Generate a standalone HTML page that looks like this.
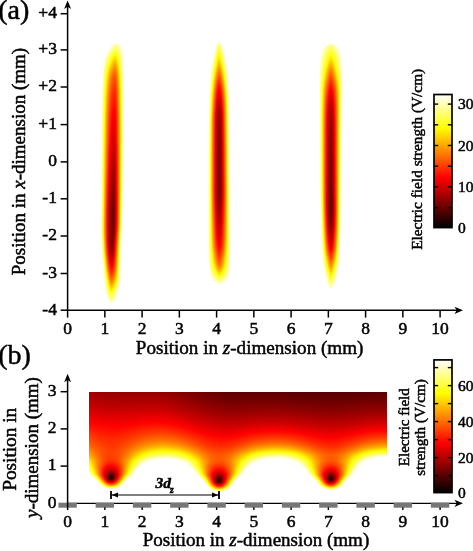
<!DOCTYPE html>
<html><head><meta charset="utf-8"><title>Electric field strength</title>
<style>
html,body{margin:0;padding:0;background:#fff;}
body{width:473px;height:551px;overflow:hidden;font-family:"Liberation Serif",serif;}
svg{display:block;}
svg text{font-family:"Liberation Serif",serif;fill:#000;stroke:#000;stroke-width:0.5px;}
</style></head><body>
<svg width="473" height="551" viewBox="0 0 473 551">
<defs>
<linearGradient id="g1" x1="0" y1="0" x2="0" y2="1"><stop offset="0" stop-color="#ffffff"/><stop offset="1" stop-color="#ffffff"/></linearGradient>
<linearGradient id="g2" x1="0" y1="0" x2="0" y2="1"><stop offset="0" stop-color="#ffffff"/><stop offset="1" stop-color="#ffffff"/></linearGradient>
<linearGradient id="g3" x1="0" y1="0" x2="0" y2="1"><stop offset="0" stop-color="#ffffff"/><stop offset="1" stop-color="#ffffff"/></linearGradient>
<linearGradient id="g4" x1="0" y1="0" x2="0" y2="1"><stop offset="0" stop-color="#ffffff"/><stop offset="1" stop-color="#ffffff"/></linearGradient>
<linearGradient id="g5" x1="0" y1="0" x2="0" y2="1"><stop offset="0" stop-color="#ffffff"/><stop offset="1" stop-color="#ffffff"/></linearGradient>
<linearGradient id="g6" x1="0" y1="0" x2="0" y2="1"><stop offset="0" stop-color="#ffffff"/><stop offset=".244" stop-color="#ffffff"/><stop offset=".371" stop-color="#ffffe7"/><stop offset=".562" stop-color="#ffffd3"/><stop offset=".688" stop-color="#ffffb9"/><stop offset=".707" stop-color="#ffffbc"/><stop offset=".726" stop-color="#ffffc7"/><stop offset=".756" stop-color="#ffffe2"/><stop offset=".782" stop-color="#ffffff"/><stop offset="1" stop-color="#ffffff"/></linearGradient>
<linearGradient id="g7" x1="0" y1="0" x2="0" y2="1"><stop offset="0" stop-color="#ffffff"/><stop offset=".118" stop-color="#ffffff"/><stop offset=".132" stop-color="#ffffef"/><stop offset=".155" stop-color="#ffffe2"/><stop offset=".293" stop-color="#ffffa6"/><stop offset=".55" stop-color="#ffff6b"/><stop offset=".692" stop-color="#ffff45"/><stop offset=".722" stop-color="#ffff4f"/><stop offset=".756" stop-color="#ffff70"/><stop offset=".782" stop-color="#ffff99"/><stop offset=".808" stop-color="#ffffcf"/><stop offset=".834" stop-color="#fffffd"/><stop offset="1" stop-color="#ffffff"/></linearGradient>
<linearGradient id="g8" x1="0" y1="0" x2="0" y2="1"><stop offset="0" stop-color="#ffffff"/><stop offset=".091" stop-color="#ffffff"/><stop offset=".11" stop-color="#ffffd7"/><stop offset=".132" stop-color="#ffffb6"/><stop offset=".2" stop-color="#ffff82"/><stop offset=".278" stop-color="#ffff57"/><stop offset=".573" stop-color="#ffff00"/><stop offset=".692" stop-color="#ffe500"/><stop offset=".726" stop-color="#ffec00"/><stop offset=".756" stop-color="#ffff00"/><stop offset=".774" stop-color="#ffff1a"/><stop offset=".789" stop-color="#ffff35"/><stop offset=".853" stop-color="#ffffcf"/><stop offset=".879" stop-color="#fffffc"/><stop offset="1" stop-color="#ffffff"/></linearGradient>
<linearGradient id="g9" x1="0" y1="0" x2="0" y2="1"><stop offset="0" stop-color="#ffffff"/><stop offset=".073" stop-color="#ffffff"/><stop offset=".088" stop-color="#ffffd6"/><stop offset=".114" stop-color="#ffff9c"/><stop offset=".129" stop-color="#ffff81"/><stop offset=".14" stop-color="#ffff72"/><stop offset=".177" stop-color="#ffff4e"/><stop offset=".215" stop-color="#ffff31"/><stop offset=".267" stop-color="#ffff0f"/><stop offset=".3" stop-color="#ffff00"/><stop offset=".692" stop-color="#ffa100"/><stop offset=".726" stop-color="#ffa700"/><stop offset=".759" stop-color="#ffbb00"/><stop offset=".785" stop-color="#ffd500"/><stop offset=".812" stop-color="#ffff00"/><stop offset=".849" stop-color="#ffff5c"/><stop offset=".89" stop-color="#ffffcd"/><stop offset=".92" stop-color="#ffffff"/><stop offset="1" stop-color="#ffffff"/></linearGradient>
<linearGradient id="g10" x1="0" y1="0" x2="0" y2="1"><stop offset="0" stop-color="#ffffff"/><stop offset=".062" stop-color="#ffffff"/><stop offset=".065" stop-color="#fffff2"/><stop offset=".073" stop-color="#ffffd0"/><stop offset=".125" stop-color="#ffff51"/><stop offset=".155" stop-color="#ffff27"/><stop offset=".185" stop-color="#ffff07"/><stop offset=".196" stop-color="#fffd00"/><stop offset=".282" stop-color="#ffd400"/><stop offset=".405" stop-color="#ffb400"/><stop offset=".655" stop-color="#ff6900"/><stop offset=".696" stop-color="#ff6200"/><stop offset=".737" stop-color="#ff6c00"/><stop offset=".778" stop-color="#ff8800"/><stop offset=".797" stop-color="#ffa100"/><stop offset=".849" stop-color="#fffa00"/><stop offset=".853" stop-color="#ffff04"/><stop offset=".905" stop-color="#ffffa4"/><stop offset=".946" stop-color="#ffffff"/><stop offset="1" stop-color="#ffffff"/></linearGradient>
<linearGradient id="g11" x1="0" y1="0" x2="0" y2="1"><stop offset="0" stop-color="#ffffff"/><stop offset=".054" stop-color="#ffffff"/><stop offset=".058" stop-color="#ffffec"/><stop offset=".062" stop-color="#ffffd3"/><stop offset=".073" stop-color="#ffffac"/><stop offset=".121" stop-color="#ffff28"/><stop offset=".132" stop-color="#ffff10"/><stop offset=".144" stop-color="#fffd00"/><stop offset=".2" stop-color="#ffd200"/><stop offset=".278" stop-color="#ffa900"/><stop offset=".405" stop-color="#ff8500"/><stop offset=".647" stop-color="#ff3200"/><stop offset=".696" stop-color="#ff2900"/><stop offset=".744" stop-color="#ff3300"/><stop offset=".767" stop-color="#ff4000"/><stop offset=".785" stop-color="#ff5100"/><stop offset=".849" stop-color="#ffbc00"/><stop offset=".879" stop-color="#fffe00"/><stop offset=".916" stop-color="#ffff7e"/><stop offset=".95" stop-color="#ffffd7"/><stop offset=".961" stop-color="#ffffff"/><stop offset="1" stop-color="#ffffff"/></linearGradient>
<linearGradient id="g12" x1="0" y1="0" x2="0" y2="1"><stop offset="0" stop-color="#ffffff"/><stop offset=".047" stop-color="#ffffff"/><stop offset=".05" stop-color="#ffffee"/><stop offset=".054" stop-color="#ffffd2"/><stop offset=".073" stop-color="#ffff89"/><stop offset=".118" stop-color="#ffff04"/><stop offset=".121" stop-color="#fffb00"/><stop offset=".144" stop-color="#ffdc00"/><stop offset=".181" stop-color="#ffbb00"/><stop offset=".226" stop-color="#ff9d00"/><stop offset=".278" stop-color="#ff8200"/><stop offset=".405" stop-color="#ff5a00"/><stop offset=".644" stop-color="#ff0000"/><stop offset=".7" stop-color="#f50000"/><stop offset=".748" stop-color="#fe0000"/><stop offset=".778" stop-color="#ff1000"/><stop offset=".797" stop-color="#ff2600"/><stop offset=".849" stop-color="#ff8200"/><stop offset=".901" stop-color="#ffff02"/><stop offset=".916" stop-color="#ffff3d"/><stop offset=".961" stop-color="#ffffce"/><stop offset=".968" stop-color="#fffff6"/><stop offset=".972" stop-color="#ffffff"/><stop offset="1" stop-color="#ffffff"/></linearGradient>
<linearGradient id="g13" x1="0" y1="0" x2="0" y2="1"><stop offset="0" stop-color="#ffffff"/><stop offset=".039" stop-color="#ffffff"/><stop offset=".043" stop-color="#fffff4"/><stop offset=".047" stop-color="#ffffd6"/><stop offset=".069" stop-color="#ffff76"/><stop offset=".103" stop-color="#ffff08"/><stop offset=".106" stop-color="#fffc00"/><stop offset=".129" stop-color="#ffd100"/><stop offset=".147" stop-color="#ffb900"/><stop offset=".185" stop-color="#ff9700"/><stop offset=".233" stop-color="#ff7700"/><stop offset=".282" stop-color="#ff5d00"/><stop offset=".401" stop-color="#ff3500"/><stop offset=".528" stop-color="#ff0000"/><stop offset=".647" stop-color="#d10000"/><stop offset=".703" stop-color="#c70000"/><stop offset=".741" stop-color="#cc0000"/><stop offset=".771" stop-color="#d80000"/><stop offset=".785" stop-color="#e20000"/><stop offset=".804" stop-color="#fe0000"/><stop offset=".856" stop-color="#ff5f00"/><stop offset=".886" stop-color="#ffa700"/><stop offset=".916" stop-color="#fffd00"/><stop offset=".968" stop-color="#ffffc6"/><stop offset=".972" stop-color="#ffffdb"/><stop offset=".976" stop-color="#ffffff"/><stop offset="1" stop-color="#ffffff"/></linearGradient>
<linearGradient id="g14" x1="0" y1="0" x2="0" y2="1"><stop offset="0" stop-color="#ffffff"/><stop offset=".032" stop-color="#ffffff"/><stop offset=".035" stop-color="#fffff9"/><stop offset=".039" stop-color="#ffffdc"/><stop offset=".043" stop-color="#ffffc9"/><stop offset=".069" stop-color="#ffff57"/><stop offset=".084" stop-color="#ffff21"/><stop offset=".095" stop-color="#fffd00"/><stop offset=".118" stop-color="#ffcb00"/><stop offset=".136" stop-color="#ffab00"/><stop offset=".162" stop-color="#ff8e00"/><stop offset=".196" stop-color="#ff7200"/><stop offset=".278" stop-color="#ff4000"/><stop offset=".442" stop-color="#ff0100"/><stop offset=".636" stop-color="#ae0000"/><stop offset=".67" stop-color="#a50000"/><stop offset=".703" stop-color="#a20000"/><stop offset=".744" stop-color="#a50000"/><stop offset=".782" stop-color="#b40000"/><stop offset=".797" stop-color="#c50000"/><stop offset=".826" stop-color="#fb0000"/><stop offset=".83" stop-color="#ff0200"/><stop offset=".849" stop-color="#ff2300"/><stop offset=".875" stop-color="#ff5e00"/><stop offset=".894" stop-color="#ff8f00"/><stop offset=".931" stop-color="#ffff01"/><stop offset=".953" stop-color="#ffff67"/><stop offset=".972" stop-color="#ffffb3"/><stop offset=".976" stop-color="#ffffce"/><stop offset=".979" stop-color="#ffffff"/><stop offset="1" stop-color="#ffffff"/></linearGradient>
<linearGradient id="g15" x1="0" y1="0" x2="0" y2="1"><stop offset="0" stop-color="#ffffff"/><stop offset=".024" stop-color="#ffffff"/><stop offset=".028" stop-color="#fffffa"/><stop offset=".032" stop-color="#ffffdd"/><stop offset=".047" stop-color="#ffffa1"/><stop offset=".069" stop-color="#ffff39"/><stop offset=".084" stop-color="#ffff01"/><stop offset=".088" stop-color="#fff700"/><stop offset=".118" stop-color="#ffb400"/><stop offset=".132" stop-color="#ff9800"/><stop offset=".151" stop-color="#ff8000"/><stop offset=".177" stop-color="#ff6700"/><stop offset=".215" stop-color="#ff4c00"/><stop offset=".271" stop-color="#ff2b00"/><stop offset=".379" stop-color="#ff0000"/><stop offset=".625" stop-color="#930000"/><stop offset=".662" stop-color="#880000"/><stop offset=".703" stop-color="#840000"/><stop offset=".748" stop-color="#890000"/><stop offset=".785" stop-color="#980000"/><stop offset=".8" stop-color="#ab0000"/><stop offset=".845" stop-color="#fd0000"/><stop offset=".864" stop-color="#ff2400"/><stop offset=".89" stop-color="#ff6100"/><stop offset=".905" stop-color="#ff8d00"/><stop offset=".938" stop-color="#fffb00"/><stop offset=".942" stop-color="#ffff0d"/><stop offset=".957" stop-color="#ffff58"/><stop offset=".972" stop-color="#ffff92"/><stop offset=".976" stop-color="#ffffa6"/><stop offset=".979" stop-color="#ffffc8"/><stop offset=".983" stop-color="#ffffd3"/><stop offset=".987" stop-color="#ffffff"/><stop offset="1" stop-color="#ffffff"/></linearGradient>
<linearGradient id="g16" x1="0" y1="0" x2="0" y2="1"><stop offset="0" stop-color="#ffffff"/><stop offset=".021" stop-color="#ffffff"/><stop offset=".024" stop-color="#fffff0"/><stop offset=".028" stop-color="#ffffce"/><stop offset=".035" stop-color="#ffffb7"/><stop offset=".043" stop-color="#ffff9a"/><stop offset=".065" stop-color="#ffff2f"/><stop offset=".076" stop-color="#ffff00"/><stop offset=".121" stop-color="#ff9800"/><stop offset=".136" stop-color="#ff7e00"/><stop offset=".155" stop-color="#ff6700"/><stop offset=".185" stop-color="#ff4c00"/><stop offset=".226" stop-color="#ff3000"/><stop offset=".278" stop-color="#ff1300"/><stop offset=".323" stop-color="#ff0100"/><stop offset=".401" stop-color="#e00000"/><stop offset=".528" stop-color="#a40000"/><stop offset=".614" stop-color="#810000"/><stop offset=".655" stop-color="#740000"/><stop offset=".688" stop-color="#710000"/><stop offset=".741" stop-color="#780000"/><stop offset=".785" stop-color="#8d0000"/><stop offset=".804" stop-color="#a70000"/><stop offset=".849" stop-color="#fc0000"/><stop offset=".853" stop-color="#ff0400"/><stop offset=".868" stop-color="#ff2300"/><stop offset=".894" stop-color="#ff6100"/><stop offset=".912" stop-color="#ff9900"/><stop offset=".942" stop-color="#ffff02"/><stop offset=".957" stop-color="#ffff4f"/><stop offset=".976" stop-color="#ffff9a"/><stop offset=".983" stop-color="#ffffcb"/><stop offset=".987" stop-color="#ffffff"/><stop offset="1" stop-color="#ffffff"/></linearGradient>
<linearGradient id="g17" x1="0" y1="0" x2="0" y2="1"><stop offset="0" stop-color="#ffffff"/><stop offset=".021" stop-color="#ffffff"/><stop offset=".024" stop-color="#ffffcb"/><stop offset=".039" stop-color="#ffff94"/><stop offset=".069" stop-color="#ffff05"/><stop offset=".073" stop-color="#fff800"/><stop offset=".088" stop-color="#ffd100"/><stop offset=".118" stop-color="#ff8e00"/><stop offset=".132" stop-color="#ff7300"/><stop offset=".147" stop-color="#ff5f00"/><stop offset=".174" stop-color="#ff4600"/><stop offset=".203" stop-color="#ff2f00"/><stop offset=".289" stop-color="#ff0100"/><stop offset=".405" stop-color="#d10000"/><stop offset=".547" stop-color="#900000"/><stop offset=".632" stop-color="#710000"/><stop offset=".677" stop-color="#690000"/><stop offset=".729" stop-color="#720000"/><stop offset=".782" stop-color="#920000"/><stop offset=".8" stop-color="#ab0000"/><stop offset=".845" stop-color="#fd0000"/><stop offset=".868" stop-color="#ff2c00"/><stop offset=".894" stop-color="#ff6a00"/><stop offset=".909" stop-color="#ff9700"/><stop offset=".938" stop-color="#ffff00"/><stop offset=".957" stop-color="#ffff5e"/><stop offset=".972" stop-color="#ffff94"/><stop offset=".976" stop-color="#ffffa9"/><stop offset=".979" stop-color="#ffffd7"/><stop offset=".983" stop-color="#fffff3"/><stop offset=".987" stop-color="#ffffff"/><stop offset="1" stop-color="#ffffff"/></linearGradient>
<linearGradient id="g18" x1="0" y1="0" x2="0" y2="1"><stop offset="0" stop-color="#ffffff"/><stop offset=".017" stop-color="#ffffff"/><stop offset=".024" stop-color="#ffffbb"/><stop offset=".039" stop-color="#ffff7f"/><stop offset=".065" stop-color="#ffff00"/><stop offset=".069" stop-color="#fff400"/><stop offset=".084" stop-color="#ffcc00"/><stop offset=".11" stop-color="#ff9000"/><stop offset=".129" stop-color="#ff6d00"/><stop offset=".144" stop-color="#ff5800"/><stop offset=".192" stop-color="#ff2e00"/><stop offset=".274" stop-color="#ff0000"/><stop offset=".539" stop-color="#910000"/><stop offset=".625" stop-color="#740000"/><stop offset=".666" stop-color="#6d0000"/><stop offset=".703" stop-color="#740000"/><stop offset=".741" stop-color="#8e0000"/><stop offset=".789" stop-color="#bb0000"/><stop offset=".826" stop-color="#fa0000"/><stop offset=".83" stop-color="#ff0100"/><stop offset=".849" stop-color="#ff1f00"/><stop offset=".886" stop-color="#ff6d00"/><stop offset=".901" stop-color="#ff9500"/><stop offset=".931" stop-color="#fffb00"/><stop offset=".935" stop-color="#ffff0d"/><stop offset=".953" stop-color="#ffff69"/><stop offset=".972" stop-color="#ffffac"/><stop offset=".976" stop-color="#ffffc7"/><stop offset=".979" stop-color="#ffffff"/><stop offset="1" stop-color="#ffffff"/></linearGradient>
<linearGradient id="g19" x1="0" y1="0" x2="0" y2="1"><stop offset="0" stop-color="#ffffff"/><stop offset=".017" stop-color="#ffffff"/><stop offset=".021" stop-color="#ffffc5"/><stop offset=".024" stop-color="#ffffab"/><stop offset=".039" stop-color="#ffff6d"/><stop offset=".062" stop-color="#ffff01"/><stop offset=".065" stop-color="#fff400"/><stop offset=".084" stop-color="#ffc200"/><stop offset=".103" stop-color="#ff9800"/><stop offset=".121" stop-color="#ff7400"/><stop offset=".14" stop-color="#ff5700"/><stop offset=".188" stop-color="#ff2d00"/><stop offset=".271" stop-color="#ff0100"/><stop offset=".517" stop-color="#a80000"/><stop offset=".618" stop-color="#8d0000"/><stop offset=".655" stop-color="#880000"/><stop offset=".685" stop-color="#8c0000"/><stop offset=".711" stop-color="#9b0000"/><stop offset=".785" stop-color="#e60000"/><stop offset=".8" stop-color="#fa0000"/><stop offset=".804" stop-color="#ff0100"/><stop offset=".849" stop-color="#ff4300"/><stop offset=".875" stop-color="#ff7400"/><stop offset=".897" stop-color="#ffa700"/><stop offset=".924" stop-color="#fffd00"/><stop offset=".95" stop-color="#ffff7c"/><stop offset=".968" stop-color="#ffffba"/><stop offset=".972" stop-color="#ffffcb"/><stop offset=".976" stop-color="#fffff8"/><stop offset=".979" stop-color="#ffffff"/><stop offset="1" stop-color="#ffffff"/></linearGradient>
<linearGradient id="g20" x1="0" y1="0" x2="0" y2="1"><stop offset="0" stop-color="#ffffff"/><stop offset=".013" stop-color="#ffffff"/><stop offset=".017" stop-color="#ffffd3"/><stop offset=".021" stop-color="#ffffb5"/><stop offset=".024" stop-color="#ffff9e"/><stop offset=".058" stop-color="#ffff0a"/><stop offset=".062" stop-color="#fffb00"/><stop offset=".076" stop-color="#ffd200"/><stop offset=".091" stop-color="#ffb000"/><stop offset=".118" stop-color="#ff7c00"/><stop offset=".14" stop-color="#ff5b00"/><stop offset=".162" stop-color="#ff4500"/><stop offset=".192" stop-color="#ff3000"/><stop offset=".278" stop-color="#ff0800"/><stop offset=".304" stop-color="#ff0000"/><stop offset=".524" stop-color="#c90000"/><stop offset=".647" stop-color="#b40000"/><stop offset=".677" stop-color="#b80000"/><stop offset=".696" stop-color="#c10000"/><stop offset=".718" stop-color="#d50000"/><stop offset=".756" stop-color="#ff0000"/><stop offset=".789" stop-color="#ff2200"/><stop offset=".812" stop-color="#ff4200"/><stop offset=".849" stop-color="#ff6f00"/><stop offset=".89" stop-color="#ffb900"/><stop offset=".901" stop-color="#ffd400"/><stop offset=".912" stop-color="#fff800"/><stop offset=".916" stop-color="#ffff09"/><stop offset=".946" stop-color="#ffff93"/><stop offset=".953" stop-color="#ffffae"/><stop offset=".965" stop-color="#ffffce"/><stop offset=".968" stop-color="#ffffe0"/><stop offset=".972" stop-color="#fffffc"/><stop offset="1" stop-color="#ffffff"/></linearGradient>
<linearGradient id="g21" x1="0" y1="0" x2="0" y2="1"><stop offset="0" stop-color="#ffffff"/><stop offset=".013" stop-color="#ffffff"/><stop offset=".017" stop-color="#ffffce"/><stop offset=".021" stop-color="#ffffb2"/><stop offset=".024" stop-color="#ffff9d"/><stop offset=".058" stop-color="#ffff15"/><stop offset=".062" stop-color="#ffff07"/><stop offset=".065" stop-color="#fffb00"/><stop offset=".084" stop-color="#ffd100"/><stop offset=".11" stop-color="#ffa000"/><stop offset=".14" stop-color="#ff7300"/><stop offset=".185" stop-color="#ff4f00"/><stop offset=".248" stop-color="#ff3000"/><stop offset=".308" stop-color="#ff1f00"/><stop offset=".476" stop-color="#ff0000"/><stop offset=".636" stop-color="#ea0000"/><stop offset=".677" stop-color="#f00000"/><stop offset=".7" stop-color="#fe0000"/><stop offset=".718" stop-color="#ff1100"/><stop offset=".812" stop-color="#ff7d00"/><stop offset=".849" stop-color="#ffa200"/><stop offset=".882" stop-color="#ffd500"/><stop offset=".901" stop-color="#fffa00"/><stop offset=".905" stop-color="#ffff07"/><stop offset=".942" stop-color="#ffffb0"/><stop offset=".965" stop-color="#ffffff"/><stop offset="1" stop-color="#ffffff"/></linearGradient>
<linearGradient id="g22" x1="0" y1="0" x2="0" y2="1"><stop offset="0" stop-color="#ffffff"/><stop offset=".013" stop-color="#ffffff"/><stop offset=".017" stop-color="#fffff3"/><stop offset=".021" stop-color="#ffffc0"/><stop offset=".024" stop-color="#ffffa9"/><stop offset=".028" stop-color="#ffff99"/><stop offset=".062" stop-color="#ffff24"/><stop offset=".073" stop-color="#ffff02"/><stop offset=".076" stop-color="#fff900"/><stop offset=".121" stop-color="#ffae00"/><stop offset=".144" stop-color="#ff9200"/><stop offset=".185" stop-color="#ff7400"/><stop offset=".241" stop-color="#ff5b00"/><stop offset=".282" stop-color="#ff4d00"/><stop offset=".364" stop-color="#ff4000"/><stop offset=".513" stop-color="#ff2e00"/><stop offset=".618" stop-color="#ff2800"/><stop offset=".666" stop-color="#ff2e00"/><stop offset=".696" stop-color="#ff3d00"/><stop offset=".767" stop-color="#ff8f00"/><stop offset=".812" stop-color="#ffbc00"/><stop offset=".849" stop-color="#ffda00"/><stop offset=".879" stop-color="#ffff00"/><stop offset=".901" stop-color="#ffff36"/><stop offset=".95" stop-color="#fffffc"/><stop offset="1" stop-color="#ffffff"/></linearGradient>
<linearGradient id="g23" x1="0" y1="0" x2="0" y2="1"><stop offset="0" stop-color="#ffffff"/><stop offset=".017" stop-color="#ffffff"/><stop offset=".021" stop-color="#ffffd2"/><stop offset=".024" stop-color="#ffffb9"/><stop offset=".028" stop-color="#ffffaa"/><stop offset=".062" stop-color="#ffff45"/><stop offset=".08" stop-color="#ffff17"/><stop offset=".091" stop-color="#fffe00"/><stop offset=".125" stop-color="#ffcd00"/><stop offset=".147" stop-color="#ffb600"/><stop offset=".188" stop-color="#ff9d00"/><stop offset=".248" stop-color="#ff8600"/><stop offset=".282" stop-color="#ff7c00"/><stop offset=".368" stop-color="#ff7100"/><stop offset=".55" stop-color="#ff6700"/><stop offset=".632" stop-color="#ff6b00"/><stop offset=".685" stop-color="#ff7b00"/><stop offset=".711" stop-color="#ff9200"/><stop offset=".767" stop-color="#ffd700"/><stop offset=".812" stop-color="#ffff00"/><stop offset=".849" stop-color="#ffff23"/><stop offset=".875" stop-color="#ffff49"/><stop offset=".897" stop-color="#ffff6f"/><stop offset=".909" stop-color="#ffff91"/><stop offset=".935" stop-color="#fffff6"/><stop offset=".938" stop-color="#ffffff"/><stop offset="1" stop-color="#ffffff"/></linearGradient>
<linearGradient id="g24" x1="0" y1="0" x2="0" y2="1"><stop offset="0" stop-color="#ffffff"/><stop offset=".021" stop-color="#ffffff"/><stop offset=".024" stop-color="#ffffca"/><stop offset=".032" stop-color="#ffffb1"/><stop offset=".054" stop-color="#ffff78"/><stop offset=".069" stop-color="#ffff57"/><stop offset=".118" stop-color="#fffd00"/><stop offset=".14" stop-color="#ffe700"/><stop offset=".166" stop-color="#ffd600"/><stop offset=".248" stop-color="#ffb900"/><stop offset=".341" stop-color="#ffa900"/><stop offset=".438" stop-color="#ffa500"/><stop offset=".576" stop-color="#ffaa00"/><stop offset=".647" stop-color="#ffb700"/><stop offset=".677" stop-color="#ffc100"/><stop offset=".692" stop-color="#ffcb00"/><stop offset=".737" stop-color="#ffff00"/><stop offset=".763" stop-color="#ffff31"/><stop offset=".782" stop-color="#ffff4b"/><stop offset=".812" stop-color="#ffff69"/><stop offset=".86" stop-color="#ffff8f"/><stop offset=".897" stop-color="#ffffb7"/><stop offset=".912" stop-color="#ffffdc"/><stop offset=".924" stop-color="#ffffff"/><stop offset="1" stop-color="#ffffff"/></linearGradient>
<linearGradient id="g25" x1="0" y1="0" x2="0" y2="1"><stop offset="0" stop-color="#ffffff"/><stop offset=".021" stop-color="#ffffff"/><stop offset=".024" stop-color="#ffffeb"/><stop offset=".028" stop-color="#ffffcf"/><stop offset=".05" stop-color="#ffff9e"/><stop offset=".073" stop-color="#ffff78"/><stop offset=".121" stop-color="#ffff33"/><stop offset=".147" stop-color="#ffff17"/><stop offset=".188" stop-color="#fffe00"/><stop offset=".278" stop-color="#ffea00"/><stop offset=".394" stop-color="#ffe000"/><stop offset=".562" stop-color="#ffee00"/><stop offset=".636" stop-color="#ffff01"/><stop offset=".677" stop-color="#ffff19"/><stop offset=".692" stop-color="#ffff29"/><stop offset=".711" stop-color="#ffff46"/><stop offset=".767" stop-color="#ffffae"/><stop offset=".782" stop-color="#ffffc2"/><stop offset=".8" stop-color="#ffffd1"/><stop offset=".897" stop-color="#fffff5"/><stop offset=".905" stop-color="#ffffff"/><stop offset="1" stop-color="#ffffff"/></linearGradient>
<linearGradient id="g26" x1="0" y1="0" x2="0" y2="1"><stop offset="0" stop-color="#ffffff"/><stop offset=".028" stop-color="#fffffc"/><stop offset=".032" stop-color="#ffffe4"/><stop offset=".035" stop-color="#ffffd3"/><stop offset=".058" stop-color="#ffffb1"/><stop offset=".118" stop-color="#ffff73"/><stop offset=".144" stop-color="#ffff5f"/><stop offset=".185" stop-color="#ffff4e"/><stop offset=".241" stop-color="#ffff41"/><stop offset=".379" stop-color="#ffff2f"/><stop offset=".416" stop-color="#ffff32"/><stop offset=".509" stop-color="#ffff47"/><stop offset=".573" stop-color="#ffff58"/><stop offset=".614" stop-color="#ffff6a"/><stop offset=".685" stop-color="#ffff9c"/><stop offset=".7" stop-color="#ffffb0"/><stop offset=".722" stop-color="#ffffd7"/><stop offset=".752" stop-color="#ffffff"/><stop offset="1" stop-color="#ffffff"/></linearGradient>
<linearGradient id="g27" x1="0" y1="0" x2="0" y2="1"><stop offset="0" stop-color="#ffffff"/><stop offset=".035" stop-color="#ffffff"/><stop offset=".039" stop-color="#fffffb"/><stop offset=".047" stop-color="#ffffe6"/><stop offset=".058" stop-color="#ffffd2"/><stop offset=".136" stop-color="#ffffa9"/><stop offset=".192" stop-color="#ffff9e"/><stop offset=".368" stop-color="#ffff90"/><stop offset=".424" stop-color="#ffff98"/><stop offset=".562" stop-color="#ffffc7"/><stop offset=".67" stop-color="#ffffff"/><stop offset="1" stop-color="#ffffff"/></linearGradient>
<linearGradient id="g28" x1="0" y1="0" x2="0" y2="1"><stop offset="0" stop-color="#ffffff"/><stop offset=".065" stop-color="#ffffff"/><stop offset=".103" stop-color="#ffffed"/><stop offset=".147" stop-color="#ffffe8"/><stop offset=".271" stop-color="#ffffef"/><stop offset=".382" stop-color="#ffffec"/><stop offset=".465" stop-color="#ffffff"/><stop offset="1" stop-color="#ffffff"/></linearGradient>
<linearGradient id="g29" x1="0" y1="0" x2="0" y2="1"><stop offset="0" stop-color="#ffffff"/><stop offset="1" stop-color="#ffffff"/></linearGradient>
<linearGradient id="g30" x1="0" y1="0" x2="0" y2="1"><stop offset="0" stop-color="#ffffff"/><stop offset="1" stop-color="#ffffff"/></linearGradient>
<linearGradient id="g31" x1="0" y1="0" x2="0" y2="1"><stop offset="0" stop-color="#ffffff"/><stop offset="1" stop-color="#ffffff"/></linearGradient>
<linearGradient id="g32" x1="0" y1="0" x2="0" y2="1"><stop offset="0" stop-color="#ffffff"/><stop offset="1" stop-color="#ffffff"/></linearGradient>
<linearGradient id="g33" x1="0" y1="0" x2="0" y2="1"><stop offset="0" stop-color="#ffffff"/><stop offset="1" stop-color="#ffffff"/></linearGradient>
<linearGradient id="g34" x1="0" y1="0" x2="0" y2="1"><stop offset="0" stop-color="#ffffff"/><stop offset="1" stop-color="#ffffff"/></linearGradient>
<linearGradient id="g35" x1="0" y1="0" x2="0" y2="1"><stop offset="0" stop-color="#ffffff"/><stop offset="1" stop-color="#ffffff"/></linearGradient>
<linearGradient id="g36" x1="0" y1="0" x2="0" y2="1"><stop offset="0" stop-color="#ffffff"/><stop offset="1" stop-color="#ffffff"/></linearGradient>
<linearGradient id="g37" x1="0" y1="0" x2="0" y2="1"><stop offset="0" stop-color="#ffffff"/><stop offset="1" stop-color="#ffffff"/></linearGradient>
<linearGradient id="g38" x1="0" y1="0" x2="0" y2="1"><stop offset="0" stop-color="#ffffff"/><stop offset="1" stop-color="#ffffff"/></linearGradient>
<linearGradient id="g39" x1="0" y1="0" x2="0" y2="1"><stop offset="0" stop-color="#ffffff"/><stop offset=".314" stop-color="#ffffff"/><stop offset=".49" stop-color="#ffffe4"/><stop offset=".722" stop-color="#ffffd7"/><stop offset=".81" stop-color="#ffffd9"/><stop offset=".85" stop-color="#ffffdf"/><stop offset=".886" stop-color="#ffffea"/><stop offset=".918" stop-color="#ffffff"/><stop offset="1" stop-color="#ffffff"/></linearGradient>
<linearGradient id="g40" x1="0" y1="0" x2="0" y2="1"><stop offset="0" stop-color="#ffffff"/><stop offset=".194" stop-color="#ffffff"/><stop offset=".286" stop-color="#ffffb3"/><stop offset=".326" stop-color="#ffff9d"/><stop offset=".458" stop-color="#ffff81"/><stop offset=".626" stop-color="#ffff73"/><stop offset=".738" stop-color="#ffff7c"/><stop offset=".822" stop-color="#ffff8d"/><stop offset=".886" stop-color="#ffffb2"/><stop offset=".922" stop-color="#ffffd1"/><stop offset=".93" stop-color="#ffffdd"/><stop offset=".942" stop-color="#ffffff"/><stop offset="1" stop-color="#ffffff"/></linearGradient>
<linearGradient id="g41" x1="0" y1="0" x2="0" y2="1"><stop offset="0" stop-color="#ffffff"/><stop offset=".134" stop-color="#ffffff"/><stop offset=".174" stop-color="#ffffd2"/><stop offset=".246" stop-color="#ffff72"/><stop offset=".294" stop-color="#ffff45"/><stop offset=".322" stop-color="#ffff34"/><stop offset=".446" stop-color="#ffff19"/><stop offset=".614" stop-color="#ffff0c"/><stop offset=".65" stop-color="#ffff10"/><stop offset=".746" stop-color="#ffff25"/><stop offset=".802" stop-color="#ffff36"/><stop offset=".83" stop-color="#ffff44"/><stop offset=".89" stop-color="#ffff7c"/><stop offset=".922" stop-color="#ffffa7"/><stop offset=".942" stop-color="#ffffd0"/><stop offset=".954" stop-color="#ffffff"/><stop offset="1" stop-color="#ffffff"/></linearGradient>
<linearGradient id="g42" x1="0" y1="0" x2="0" y2="1"><stop offset="0" stop-color="#ffffff"/><stop offset=".106" stop-color="#ffffff"/><stop offset=".142" stop-color="#ffffb8"/><stop offset=".206" stop-color="#ffff4c"/><stop offset=".242" stop-color="#ffff19"/><stop offset=".266" stop-color="#fffe00"/><stop offset=".31" stop-color="#ffe200"/><stop offset=".354" stop-color="#ffd700"/><stop offset=".466" stop-color="#ffcb00"/><stop offset=".614" stop-color="#ffc500"/><stop offset=".754" stop-color="#ffe100"/><stop offset=".806" stop-color="#fff100"/><stop offset=".834" stop-color="#fffe00"/><stop offset=".89" stop-color="#ffff45"/><stop offset=".91" stop-color="#ffff65"/><stop offset=".93" stop-color="#ffff8f"/><stop offset=".954" stop-color="#ffffd0"/><stop offset=".958" stop-color="#ffffe1"/><stop offset=".962" stop-color="#fffffb"/><stop offset=".966" stop-color="#ffffff"/><stop offset="1" stop-color="#ffffff"/></linearGradient>
<linearGradient id="g43" x1="0" y1="0" x2="0" y2="1"><stop offset="0" stop-color="#ffffff"/><stop offset=".082" stop-color="#ffffff"/><stop offset=".142" stop-color="#ffff76"/><stop offset=".202" stop-color="#fffe00"/><stop offset=".25" stop-color="#ffcd00"/><stop offset=".294" stop-color="#ffab00"/><stop offset=".322" stop-color="#ff9d00"/><stop offset=".446" stop-color="#ff8c00"/><stop offset=".61" stop-color="#ff8700"/><stop offset=".654" stop-color="#ff8e00"/><stop offset=".802" stop-color="#ffbe00"/><stop offset=".834" stop-color="#ffd000"/><stop offset=".878" stop-color="#fffd00"/><stop offset=".886" stop-color="#ffff08"/><stop offset=".902" stop-color="#ffff24"/><stop offset=".93" stop-color="#ffff6a"/><stop offset=".962" stop-color="#ffffce"/><stop offset=".97" stop-color="#ffffff"/><stop offset="1" stop-color="#ffffff"/></linearGradient>
<linearGradient id="g44" x1="0" y1="0" x2="0" y2="1"><stop offset="0" stop-color="#ffffff"/><stop offset=".066" stop-color="#fffffc"/><stop offset=".078" stop-color="#ffffd8"/><stop offset=".138" stop-color="#ffff3e"/><stop offset=".162" stop-color="#ffff05"/><stop offset=".166" stop-color="#fffc00"/><stop offset=".206" stop-color="#ffc300"/><stop offset=".234" stop-color="#ffa300"/><stop offset=".29" stop-color="#ff7300"/><stop offset=".318" stop-color="#ff6200"/><stop offset=".438" stop-color="#ff5000"/><stop offset=".61" stop-color="#ff4b00"/><stop offset=".642" stop-color="#ff5000"/><stop offset=".734" stop-color="#ff7100"/><stop offset=".814" stop-color="#ff9500"/><stop offset=".842" stop-color="#ffac00"/><stop offset=".894" stop-color="#ffeb00"/><stop offset=".906" stop-color="#fffd00"/><stop offset=".91" stop-color="#ffff08"/><stop offset=".93" stop-color="#ffff45"/><stop offset=".954" stop-color="#ffff9f"/><stop offset=".966" stop-color="#ffffc8"/><stop offset=".97" stop-color="#ffffda"/><stop offset=".974" stop-color="#ffffff"/><stop offset="1" stop-color="#ffffff"/></linearGradient>
<linearGradient id="g45" x1="0" y1="0" x2="0" y2="1"><stop offset="0" stop-color="#ffffff"/><stop offset=".05" stop-color="#fffffd"/><stop offset=".07" stop-color="#ffffbc"/><stop offset=".11" stop-color="#ffff52"/><stop offset=".138" stop-color="#ffff00"/><stop offset=".178" stop-color="#ffbb00"/><stop offset=".214" stop-color="#ff8600"/><stop offset=".25" stop-color="#ff5f00"/><stop offset=".29" stop-color="#ff3b00"/><stop offset=".314" stop-color="#ff2b00"/><stop offset=".43" stop-color="#ff1900"/><stop offset=".602" stop-color="#ff1300"/><stop offset=".626" stop-color="#ff1500"/><stop offset=".654" stop-color="#ff1f00"/><stop offset=".762" stop-color="#ff4d00"/><stop offset=".818" stop-color="#ff6d00"/><stop offset=".842" stop-color="#ff8400"/><stop offset=".894" stop-color="#ffc900"/><stop offset=".918" stop-color="#fff700"/><stop offset=".922" stop-color="#ffff03"/><stop offset=".93" stop-color="#ffff20"/><stop offset=".942" stop-color="#ffff50"/><stop offset=".958" stop-color="#ffff98"/><stop offset=".97" stop-color="#ffffc4"/><stop offset=".978" stop-color="#ffffff"/><stop offset="1" stop-color="#ffffff"/></linearGradient>
<linearGradient id="g46" x1="0" y1="0" x2="0" y2="1"><stop offset="0" stop-color="#ffffff"/><stop offset=".03" stop-color="#ffffff"/><stop offset=".034" stop-color="#fffffa"/><stop offset=".066" stop-color="#ffff96"/><stop offset=".09" stop-color="#ffff55"/><stop offset=".118" stop-color="#ffff03"/><stop offset=".122" stop-color="#fff800"/><stop offset=".158" stop-color="#ffb100"/><stop offset=".206" stop-color="#ff6100"/><stop offset=".246" stop-color="#ff3200"/><stop offset=".302" stop-color="#fe0000"/><stop offset=".326" stop-color="#f20000"/><stop offset=".402" stop-color="#e70000"/><stop offset=".594" stop-color="#df0000"/><stop offset=".634" stop-color="#e40000"/><stop offset=".69" stop-color="#ff0000"/><stop offset=".77" stop-color="#ff2600"/><stop offset=".83" stop-color="#ff5100"/><stop offset=".898" stop-color="#ffb000"/><stop offset=".91" stop-color="#ffc800"/><stop offset=".93" stop-color="#fffc00"/><stop offset=".934" stop-color="#ffff0c"/><stop offset=".938" stop-color="#ffff1e"/><stop offset=".958" stop-color="#ffff83"/><stop offset=".974" stop-color="#ffffc6"/><stop offset=".978" stop-color="#ffffff"/><stop offset="1" stop-color="#ffffff"/></linearGradient>
<linearGradient id="g47" x1="0" y1="0" x2="0" y2="1"><stop offset="0" stop-color="#ffffff"/><stop offset=".022" stop-color="#ffffff"/><stop offset=".03" stop-color="#ffffd3"/><stop offset=".034" stop-color="#ffffc6"/><stop offset=".058" stop-color="#ffff7b"/><stop offset=".102" stop-color="#fffe00"/><stop offset=".142" stop-color="#ffa800"/><stop offset=".182" stop-color="#ff5f00"/><stop offset=".214" stop-color="#ff2d00"/><stop offset=".254" stop-color="#fd0000"/><stop offset=".298" stop-color="#d40000"/><stop offset=".326" stop-color="#c50000"/><stop offset=".446" stop-color="#b70000"/><stop offset=".586" stop-color="#b20000"/><stop offset=".614" stop-color="#b20000"/><stop offset=".638" stop-color="#b90000"/><stop offset=".766" stop-color="#fd0000"/><stop offset=".814" stop-color="#ff2000"/><stop offset=".846" stop-color="#ff4300"/><stop offset=".902" stop-color="#ff9a00"/><stop offset=".918" stop-color="#ffc100"/><stop offset=".938" stop-color="#fffd00"/><stop offset=".946" stop-color="#ffff27"/><stop offset=".958" stop-color="#ffff6e"/><stop offset=".974" stop-color="#ffffb5"/><stop offset=".978" stop-color="#ffffd3"/><stop offset=".982" stop-color="#ffffff"/><stop offset="1" stop-color="#ffffff"/></linearGradient>
<linearGradient id="g48" x1="0" y1="0" x2="0" y2="1"><stop offset="0" stop-color="#ffffff"/><stop offset=".018" stop-color="#ffffff"/><stop offset=".022" stop-color="#ffffd3"/><stop offset=".026" stop-color="#ffffb8"/><stop offset=".034" stop-color="#ffff98"/><stop offset=".058" stop-color="#ffff4b"/><stop offset=".086" stop-color="#ffff01"/><stop offset=".09" stop-color="#fff700"/><stop offset=".134" stop-color="#ff9600"/><stop offset=".158" stop-color="#ff6600"/><stop offset=".19" stop-color="#ff2f00"/><stop offset=".222" stop-color="#ff0100"/><stop offset=".25" stop-color="#de0000"/><stop offset=".286" stop-color="#bb0000"/><stop offset=".322" stop-color="#a20000"/><stop offset=".446" stop-color="#920000"/><stop offset=".594" stop-color="#8d0000"/><stop offset=".622" stop-color="#8f0000"/><stop offset=".646" stop-color="#990000"/><stop offset=".758" stop-color="#d90000"/><stop offset=".81" stop-color="#fe0000"/><stop offset=".842" stop-color="#ff2100"/><stop offset=".898" stop-color="#ff7700"/><stop offset=".918" stop-color="#ffa700"/><stop offset=".942" stop-color="#fff700"/><stop offset=".946" stop-color="#ffff0b"/><stop offset=".958" stop-color="#ffff5a"/><stop offset=".974" stop-color="#ffffa5"/><stop offset=".978" stop-color="#ffffbf"/><stop offset=".982" stop-color="#ffffff"/><stop offset="1" stop-color="#ffffff"/></linearGradient>
<linearGradient id="g49" x1="0" y1="0" x2="0" y2="1"><stop offset="0" stop-color="#ffffff"/><stop offset=".014" stop-color="#ffffff"/><stop offset=".018" stop-color="#ffffce"/><stop offset=".022" stop-color="#ffffac"/><stop offset=".03" stop-color="#ffff82"/><stop offset=".05" stop-color="#ffff3a"/><stop offset=".07" stop-color="#ffff06"/><stop offset=".074" stop-color="#fffc00"/><stop offset=".15" stop-color="#ff5d00"/><stop offset=".19" stop-color="#ff1900"/><stop offset=".206" stop-color="#ff0200"/><stop offset=".21" stop-color="#fb0000"/><stop offset=".254" stop-color="#c40000"/><stop offset=".298" stop-color="#9b0000"/><stop offset=".322" stop-color="#8d0000"/><stop offset=".454" stop-color="#7c0000"/><stop offset=".606" stop-color="#760000"/><stop offset=".642" stop-color="#800000"/><stop offset=".746" stop-color="#bd0000"/><stop offset=".794" stop-color="#de0000"/><stop offset=".83" stop-color="#ff0000"/><stop offset=".846" stop-color="#ff1300"/><stop offset=".902" stop-color="#ff6900"/><stop offset=".914" stop-color="#ff8700"/><stop offset=".926" stop-color="#ffaa00"/><stop offset=".946" stop-color="#fff500"/><stop offset=".95" stop-color="#ffff0e"/><stop offset=".958" stop-color="#ffff47"/><stop offset=".962" stop-color="#ffff5e"/><stop offset=".974" stop-color="#ffff96"/><stop offset=".978" stop-color="#ffffae"/><stop offset=".982" stop-color="#ffffe3"/><stop offset=".986" stop-color="#ffffff"/><stop offset="1" stop-color="#ffffff"/></linearGradient>
<linearGradient id="g50" x1="0" y1="0" x2="0" y2="1"><stop offset="0" stop-color="#ffffff"/><stop offset=".01" stop-color="#ffffff"/><stop offset=".014" stop-color="#fffff7"/><stop offset=".018" stop-color="#ffffc5"/><stop offset=".022" stop-color="#ffffa7"/><stop offset=".026" stop-color="#ffff91"/><stop offset=".034" stop-color="#ffff6d"/><stop offset=".054" stop-color="#ffff29"/><stop offset=".07" stop-color="#ffff01"/><stop offset=".074" stop-color="#fff900"/><stop offset=".086" stop-color="#ffe200"/><stop offset=".142" stop-color="#ff6900"/><stop offset=".174" stop-color="#ff3000"/><stop offset=".206" stop-color="#ff0000"/><stop offset=".254" stop-color="#c20000"/><stop offset=".298" stop-color="#990000"/><stop offset=".322" stop-color="#8b0000"/><stop offset=".45" stop-color="#7b0000"/><stop offset=".598" stop-color="#750000"/><stop offset=".638" stop-color="#7c0000"/><stop offset=".738" stop-color="#b60000"/><stop offset=".79" stop-color="#d80000"/><stop offset=".83" stop-color="#fc0000"/><stop offset=".834" stop-color="#ff0100"/><stop offset=".846" stop-color="#ff0f00"/><stop offset=".902" stop-color="#ff6200"/><stop offset=".914" stop-color="#ff7e00"/><stop offset=".926" stop-color="#ffa000"/><stop offset=".938" stop-color="#ffcb00"/><stop offset=".95" stop-color="#ffff02"/><stop offset=".958" stop-color="#ffff3d"/><stop offset=".962" stop-color="#ffff56"/><stop offset=".978" stop-color="#ffffa5"/><stop offset=".982" stop-color="#ffffc0"/><stop offset=".986" stop-color="#ffffe7"/><stop offset=".99" stop-color="#ffffff"/><stop offset="1" stop-color="#ffffff"/></linearGradient>
<linearGradient id="g51" x1="0" y1="0" x2="0" y2="1"><stop offset="0" stop-color="#ffffff"/><stop offset=".014" stop-color="#ffffff"/><stop offset=".018" stop-color="#fffff8"/><stop offset=".022" stop-color="#ffffca"/><stop offset=".026" stop-color="#ffffb0"/><stop offset=".034" stop-color="#ffff8f"/><stop offset=".058" stop-color="#ffff42"/><stop offset=".082" stop-color="#ffff04"/><stop offset=".086" stop-color="#fffa00"/><stop offset=".134" stop-color="#ff9000"/><stop offset=".154" stop-color="#ff6800"/><stop offset=".186" stop-color="#ff3000"/><stop offset=".218" stop-color="#ff0000"/><stop offset=".246" stop-color="#dc0000"/><stop offset=".278" stop-color="#be0000"/><stop offset=".302" stop-color="#a90000"/><stop offset=".322" stop-color="#9f0000"/><stop offset=".458" stop-color="#8e0000"/><stop offset=".606" stop-color="#870000"/><stop offset=".642" stop-color="#900000"/><stop offset=".742" stop-color="#c60000"/><stop offset=".786" stop-color="#e20000"/><stop offset=".822" stop-color="#ff0000"/><stop offset=".846" stop-color="#ff1a00"/><stop offset=".902" stop-color="#ff6e00"/><stop offset=".914" stop-color="#ff8a00"/><stop offset=".926" stop-color="#ffad00"/><stop offset=".946" stop-color="#fff500"/><stop offset=".95" stop-color="#ffff0d"/><stop offset=".958" stop-color="#ffff46"/><stop offset=".962" stop-color="#ffff5d"/><stop offset=".974" stop-color="#ffff96"/><stop offset=".978" stop-color="#ffffae"/><stop offset=".982" stop-color="#ffffe3"/><stop offset=".986" stop-color="#ffffff"/><stop offset="1" stop-color="#ffffff"/></linearGradient>
<linearGradient id="g52" x1="0" y1="0" x2="0" y2="1"><stop offset="0" stop-color="#ffffff"/><stop offset=".022" stop-color="#fffffe"/><stop offset=".026" stop-color="#ffffdc"/><stop offset=".03" stop-color="#ffffca"/><stop offset=".05" stop-color="#ffff8a"/><stop offset=".098" stop-color="#ffff01"/><stop offset=".102" stop-color="#fff700"/><stop offset=".142" stop-color="#ffa100"/><stop offset=".178" stop-color="#ff5e00"/><stop offset=".21" stop-color="#ff2b00"/><stop offset=".246" stop-color="#fd0000"/><stop offset=".298" stop-color="#d00000"/><stop offset=".326" stop-color="#c30000"/><stop offset=".466" stop-color="#b10000"/><stop offset=".61" stop-color="#aa0000"/><stop offset=".646" stop-color="#b40000"/><stop offset=".79" stop-color="#fe0000"/><stop offset=".814" stop-color="#ff1100"/><stop offset=".838" stop-color="#ff2700"/><stop offset=".894" stop-color="#ff7700"/><stop offset=".914" stop-color="#ffa100"/><stop offset=".93" stop-color="#ffce00"/><stop offset=".942" stop-color="#fff600"/><stop offset=".946" stop-color="#ffff09"/><stop offset=".958" stop-color="#ffff58"/><stop offset=".974" stop-color="#ffffa4"/><stop offset=".978" stop-color="#ffffbf"/><stop offset=".982" stop-color="#ffffff"/><stop offset="1" stop-color="#ffffff"/></linearGradient>
<linearGradient id="g53" x1="0" y1="0" x2="0" y2="1"><stop offset="0" stop-color="#ffffff"/><stop offset=".03" stop-color="#fffffe"/><stop offset=".062" stop-color="#ffff97"/><stop offset=".114" stop-color="#ffff05"/><stop offset=".118" stop-color="#fff900"/><stop offset=".158" stop-color="#ffa900"/><stop offset=".206" stop-color="#ff5900"/><stop offset=".246" stop-color="#ff2700"/><stop offset=".294" stop-color="#ff0100"/><stop offset=".326" stop-color="#f10000"/><stop offset=".394" stop-color="#e70000"/><stop offset=".61" stop-color="#d60000"/><stop offset=".642" stop-color="#dc0000"/><stop offset=".722" stop-color="#fe0000"/><stop offset=".79" stop-color="#ff2000"/><stop offset=".838" stop-color="#ff4600"/><stop offset=".902" stop-color="#ffa000"/><stop offset=".918" stop-color="#ffc400"/><stop offset=".938" stop-color="#fffc00"/><stop offset=".946" stop-color="#ffff25"/><stop offset=".958" stop-color="#ffff6b"/><stop offset=".974" stop-color="#ffffb4"/><stop offset=".978" stop-color="#ffffd3"/><stop offset=".982" stop-color="#ffffff"/><stop offset="1" stop-color="#ffffff"/></linearGradient>
<linearGradient id="g54" x1="0" y1="0" x2="0" y2="1"><stop offset="0" stop-color="#ffffff"/><stop offset=".046" stop-color="#ffffff"/><stop offset=".066" stop-color="#ffffbd"/><stop offset=".11" stop-color="#ffff47"/><stop offset=".134" stop-color="#fffe00"/><stop offset=".182" stop-color="#ffab00"/><stop offset=".222" stop-color="#ff7200"/><stop offset=".25" stop-color="#ff5300"/><stop offset=".302" stop-color="#ff3000"/><stop offset=".326" stop-color="#ff2700"/><stop offset=".43" stop-color="#ff1800"/><stop offset=".61" stop-color="#ff0900"/><stop offset=".642" stop-color="#ff0e00"/><stop offset=".75" stop-color="#ff3400"/><stop offset=".794" stop-color="#ff4900"/><stop offset=".826" stop-color="#ff5d00"/><stop offset=".842" stop-color="#ff6d00"/><stop offset=".898" stop-color="#ffb700"/><stop offset=".91" stop-color="#ffcd00"/><stop offset=".93" stop-color="#fffc00"/><stop offset=".934" stop-color="#ffff0b"/><stop offset=".942" stop-color="#ffff2e"/><stop offset=".958" stop-color="#ffff80"/><stop offset=".974" stop-color="#ffffc4"/><stop offset=".978" stop-color="#ffffff"/><stop offset="1" stop-color="#ffffff"/></linearGradient>
<linearGradient id="g55" x1="0" y1="0" x2="0" y2="1"><stop offset="0" stop-color="#ffffff"/><stop offset=".062" stop-color="#ffffff"/><stop offset=".078" stop-color="#ffffce"/><stop offset=".11" stop-color="#ffff7e"/><stop offset=".138" stop-color="#ffff31"/><stop offset=".158" stop-color="#ffff01"/><stop offset=".162" stop-color="#fff900"/><stop offset=".206" stop-color="#ffb800"/><stop offset=".238" stop-color="#ff9200"/><stop offset=".254" stop-color="#ff8500"/><stop offset=".306" stop-color="#ff6700"/><stop offset=".462" stop-color="#ff4d00"/><stop offset=".614" stop-color="#ff3f00"/><stop offset=".646" stop-color="#ff4400"/><stop offset=".746" stop-color="#ff6100"/><stop offset=".818" stop-color="#ff8000"/><stop offset=".842" stop-color="#ff9300"/><stop offset=".894" stop-color="#ffd100"/><stop offset=".918" stop-color="#fffa00"/><stop offset=".922" stop-color="#ffff05"/><stop offset=".934" stop-color="#ffff2e"/><stop offset=".946" stop-color="#ffff5e"/><stop offset=".958" stop-color="#ffff95"/><stop offset=".97" stop-color="#ffffc1"/><stop offset=".974" stop-color="#ffffda"/><stop offset=".978" stop-color="#ffffff"/><stop offset="1" stop-color="#ffffff"/></linearGradient>
<linearGradient id="g56" x1="0" y1="0" x2="0" y2="1"><stop offset="0" stop-color="#ffffff"/><stop offset=".078" stop-color="#ffffff"/><stop offset=".142" stop-color="#ffff68"/><stop offset=".194" stop-color="#fffd00"/><stop offset=".222" stop-color="#ffdb00"/><stop offset=".246" stop-color="#ffc300"/><stop offset=".31" stop-color="#ffa300"/><stop offset=".494" stop-color="#ff8600"/><stop offset=".618" stop-color="#ff7a00"/><stop offset=".742" stop-color="#ff9100"/><stop offset=".81" stop-color="#ffa700"/><stop offset=".842" stop-color="#ffbc00"/><stop offset=".902" stop-color="#fffc00"/><stop offset=".906" stop-color="#ffff04"/><stop offset=".914" stop-color="#ffff18"/><stop offset=".938" stop-color="#ffff5e"/><stop offset=".958" stop-color="#ffffaa"/><stop offset=".97" stop-color="#ffffd2"/><stop offset=".974" stop-color="#ffffff"/><stop offset="1" stop-color="#ffffff"/></linearGradient>
<linearGradient id="g57" x1="0" y1="0" x2="0" y2="1"><stop offset="0" stop-color="#ffffff"/><stop offset=".102" stop-color="#fffffd"/><stop offset=".138" stop-color="#ffffb3"/><stop offset=".162" stop-color="#ffff87"/><stop offset=".222" stop-color="#ffff20"/><stop offset=".246" stop-color="#fffe00"/><stop offset=".282" stop-color="#ffed00"/><stop offset=".322" stop-color="#ffe200"/><stop offset=".522" stop-color="#ffc200"/><stop offset=".622" stop-color="#ffb800"/><stop offset=".734" stop-color="#ffc400"/><stop offset=".794" stop-color="#ffd100"/><stop offset=".83" stop-color="#ffde00"/><stop offset=".866" stop-color="#fffe00"/><stop offset=".902" stop-color="#ffff2d"/><stop offset=".93" stop-color="#ffff69"/><stop offset=".962" stop-color="#ffffca"/><stop offset=".966" stop-color="#ffffdb"/><stop offset=".97" stop-color="#ffffff"/><stop offset="1" stop-color="#ffffff"/></linearGradient>
<linearGradient id="g58" x1="0" y1="0" x2="0" y2="1"><stop offset="0" stop-color="#ffffff"/><stop offset=".126" stop-color="#ffffff"/><stop offset=".162" stop-color="#ffffd2"/><stop offset=".234" stop-color="#ffff6a"/><stop offset=".254" stop-color="#ffff55"/><stop offset=".31" stop-color="#ffff3f"/><stop offset=".566" stop-color="#ffff00"/><stop offset=".638" stop-color="#fff900"/><stop offset=".762" stop-color="#ffff00"/><stop offset=".802" stop-color="#ffff09"/><stop offset=".83" stop-color="#ffff16"/><stop offset=".894" stop-color="#ffff55"/><stop offset=".918" stop-color="#ffff78"/><stop offset=".934" stop-color="#ffff97"/><stop offset=".958" stop-color="#ffffd6"/><stop offset=".962" stop-color="#fffff0"/><stop offset=".966" stop-color="#ffffff"/><stop offset="1" stop-color="#ffffff"/></linearGradient>
<linearGradient id="g59" x1="0" y1="0" x2="0" y2="1"><stop offset="0" stop-color="#ffffff"/><stop offset=".178" stop-color="#fffffe"/><stop offset=".206" stop-color="#ffffe8"/><stop offset=".246" stop-color="#ffffbc"/><stop offset=".262" stop-color="#ffffb4"/><stop offset=".366" stop-color="#ffff9e"/><stop offset=".59" stop-color="#ffff62"/><stop offset=".646" stop-color="#ffff59"/><stop offset=".746" stop-color="#ffff54"/><stop offset=".81" stop-color="#ffff59"/><stop offset=".842" stop-color="#ffff66"/><stop offset=".898" stop-color="#ffff8f"/><stop offset=".926" stop-color="#ffffad"/><stop offset=".946" stop-color="#ffffd4"/><stop offset=".954" stop-color="#fffff7"/><stop offset=".958" stop-color="#ffffff"/><stop offset="1" stop-color="#ffffff"/></linearGradient>
<linearGradient id="g60" x1="0" y1="0" x2="0" y2="1"><stop offset="0" stop-color="#ffffff"/><stop offset=".362" stop-color="#ffffff"/><stop offset=".698" stop-color="#ffffb5"/><stop offset=".802" stop-color="#ffffaa"/><stop offset=".842" stop-color="#ffffb0"/><stop offset=".922" stop-color="#ffffd2"/><stop offset=".93" stop-color="#ffffdb"/><stop offset=".942" stop-color="#fffffb"/><stop offset=".946" stop-color="#ffffff"/><stop offset="1" stop-color="#ffffff"/></linearGradient>
<linearGradient id="g61" x1="0" y1="0" x2="0" y2="1"><stop offset="0" stop-color="#ffffff"/><stop offset=".726" stop-color="#ffffff"/><stop offset=".806" stop-color="#fffff2"/><stop offset=".85" stop-color="#fffff0"/><stop offset=".91" stop-color="#ffffff"/><stop offset="1" stop-color="#ffffff"/></linearGradient>
<linearGradient id="g62" x1="0" y1="0" x2="0" y2="1"><stop offset="0" stop-color="#ffffff"/><stop offset="1" stop-color="#ffffff"/></linearGradient>
<linearGradient id="g63" x1="0" y1="0" x2="0" y2="1"><stop offset="0" stop-color="#ffffff"/><stop offset="1" stop-color="#ffffff"/></linearGradient>
<linearGradient id="g64" x1="0" y1="0" x2="0" y2="1"><stop offset="0" stop-color="#ffffff"/><stop offset="1" stop-color="#ffffff"/></linearGradient>
<linearGradient id="g65" x1="0" y1="0" x2="0" y2="1"><stop offset="0" stop-color="#ffffff"/><stop offset="1" stop-color="#ffffff"/></linearGradient>
<linearGradient id="g66" x1="0" y1="0" x2="0" y2="1"><stop offset="0" stop-color="#ffffff"/><stop offset="1" stop-color="#ffffff"/></linearGradient>
<linearGradient id="g67" x1="0" y1="0" x2="0" y2="1"><stop offset="0" stop-color="#ffffff"/><stop offset="1" stop-color="#ffffff"/></linearGradient>
<linearGradient id="g68" x1="0" y1="0" x2="0" y2="1"><stop offset="0" stop-color="#ffffff"/><stop offset="1" stop-color="#ffffff"/></linearGradient>
<linearGradient id="g69" x1="0" y1="0" x2="0" y2="1"><stop offset="0" stop-color="#ffffff"/><stop offset="1" stop-color="#ffffff"/></linearGradient>
<linearGradient id="g70" x1="0" y1="0" x2="0" y2="1"><stop offset="0" stop-color="#ffffff"/><stop offset="1" stop-color="#ffffff"/></linearGradient>
<linearGradient id="g71" x1="0" y1="0" x2="0" y2="1"><stop offset="0" stop-color="#ffffff"/><stop offset=".097" stop-color="#ffffff"/><stop offset=".16" stop-color="#ffffe5"/><stop offset=".192" stop-color="#ffffde"/><stop offset=".46" stop-color="#ffffff"/><stop offset="1" stop-color="#ffffff"/></linearGradient>
<linearGradient id="g72" x1="0" y1="0" x2="0" y2="1"><stop offset="0" stop-color="#ffffff"/><stop offset=".061" stop-color="#ffffff"/><stop offset=".073" stop-color="#ffffe1"/><stop offset=".085" stop-color="#ffffd3"/><stop offset=".136" stop-color="#ffffbb"/><stop offset=".18" stop-color="#ffffa0"/><stop offset=".208" stop-color="#ffff97"/><stop offset=".267" stop-color="#ffff92"/><stop offset=".413" stop-color="#ffff9e"/><stop offset=".536" stop-color="#ffffb5"/><stop offset=".607" stop-color="#ffffcc"/><stop offset=".698" stop-color="#ffffff"/><stop offset="1" stop-color="#ffffff"/></linearGradient>
<linearGradient id="g73" x1="0" y1="0" x2="0" y2="1"><stop offset="0" stop-color="#ffffff"/><stop offset=".049" stop-color="#ffffff"/><stop offset=".061" stop-color="#ffffd1"/><stop offset=".073" stop-color="#ffffc1"/><stop offset=".109" stop-color="#ffffa4"/><stop offset=".18" stop-color="#ffff60"/><stop offset=".2" stop-color="#ffff51"/><stop offset=".263" stop-color="#ffff3c"/><stop offset=".322" stop-color="#ffff37"/><stop offset=".488" stop-color="#ffff42"/><stop offset=".555" stop-color="#ffff4e"/><stop offset=".611" stop-color="#ffff5d"/><stop offset=".666" stop-color="#ffff7e"/><stop offset=".761" stop-color="#ffffd2"/><stop offset=".816" stop-color="#fffffe"/><stop offset="1" stop-color="#ffffff"/></linearGradient>
<linearGradient id="g74" x1="0" y1="0" x2="0" y2="1"><stop offset="0" stop-color="#ffffff"/><stop offset=".042" stop-color="#ffffff"/><stop offset=".049" stop-color="#ffffd2"/><stop offset=".069" stop-color="#ffffad"/><stop offset=".109" stop-color="#ffff80"/><stop offset=".184" stop-color="#ffff1d"/><stop offset=".204" stop-color="#ffff09"/><stop offset=".219" stop-color="#fffe00"/><stop offset=".291" stop-color="#ffea00"/><stop offset=".377" stop-color="#ffe600"/><stop offset=".547" stop-color="#ffed00"/><stop offset=".607" stop-color="#fff400"/><stop offset=".646" stop-color="#ffff00"/><stop offset=".686" stop-color="#ffff1c"/><stop offset=".741" stop-color="#ffff4d"/><stop offset=".792" stop-color="#ffff89"/><stop offset=".848" stop-color="#ffffd3"/><stop offset=".872" stop-color="#ffffea"/><stop offset=".887" stop-color="#fffffe"/><stop offset="1" stop-color="#ffffff"/></linearGradient>
<linearGradient id="g75" x1="0" y1="0" x2="0" y2="1"><stop offset="0" stop-color="#ffffff"/><stop offset=".034" stop-color="#ffffff"/><stop offset=".038" stop-color="#ffffe3"/><stop offset=".042" stop-color="#ffffcf"/><stop offset=".061" stop-color="#ffffa4"/><stop offset=".077" stop-color="#ffff89"/><stop offset=".109" stop-color="#ffff5d"/><stop offset=".164" stop-color="#fffe00"/><stop offset=".204" stop-color="#ffd800"/><stop offset=".243" stop-color="#ffc300"/><stop offset=".283" stop-color="#ffb400"/><stop offset=".346" stop-color="#ffab00"/><stop offset=".457" stop-color="#ffa900"/><stop offset=".571" stop-color="#ffac00"/><stop offset=".638" stop-color="#ffb500"/><stop offset=".713" stop-color="#ffd800"/><stop offset=".765" stop-color="#fffd00"/><stop offset=".792" stop-color="#ffff21"/><stop offset=".832" stop-color="#ffff5c"/><stop offset=".887" stop-color="#ffffc6"/><stop offset=".911" stop-color="#ffffff"/><stop offset="1" stop-color="#ffffff"/></linearGradient>
<linearGradient id="g76" x1="0" y1="0" x2="0" y2="1"><stop offset="0" stop-color="#ffffff"/><stop offset=".026" stop-color="#ffffff"/><stop offset=".03" stop-color="#fffff9"/><stop offset=".034" stop-color="#ffffd1"/><stop offset=".053" stop-color="#ffff9e"/><stop offset=".073" stop-color="#ffff76"/><stop offset=".109" stop-color="#ffff39"/><stop offset=".136" stop-color="#ffff00"/><stop offset=".176" stop-color="#ffcb00"/><stop offset=".2" stop-color="#ffb100"/><stop offset=".239" stop-color="#ff9500"/><stop offset=".283" stop-color="#ff7f00"/><stop offset=".366" stop-color="#ff7200"/><stop offset=".532" stop-color="#ff6c00"/><stop offset=".626" stop-color="#ff6f00"/><stop offset=".678" stop-color="#ff7f00"/><stop offset=".717" stop-color="#ff9400"/><stop offset=".745" stop-color="#ffa800"/><stop offset=".792" stop-color="#ffd300"/><stop offset=".832" stop-color="#ffff01"/><stop offset=".887" stop-color="#ffff86"/><stop offset=".927" stop-color="#ffffff"/><stop offset="1" stop-color="#ffffff"/></linearGradient>
<linearGradient id="g77" x1="0" y1="0" x2="0" y2="1"><stop offset="0" stop-color="#ffffff"/><stop offset=".026" stop-color="#fffffc"/><stop offset=".03" stop-color="#ffffce"/><stop offset=".045" stop-color="#ffff9d"/><stop offset=".069" stop-color="#ffff65"/><stop offset=".117" stop-color="#ffff02"/><stop offset=".121" stop-color="#fffa00"/><stop offset=".168" stop-color="#ffb200"/><stop offset=".2" stop-color="#ff8900"/><stop offset=".243" stop-color="#ff6500"/><stop offset=".287" stop-color="#ff4c00"/><stop offset=".326" stop-color="#ff4200"/><stop offset=".385" stop-color="#ff3a00"/><stop offset=".611" stop-color="#ff3000"/><stop offset=".666" stop-color="#ff3800"/><stop offset=".733" stop-color="#ff5d00"/><stop offset=".781" stop-color="#ff8900"/><stop offset=".816" stop-color="#ffb100"/><stop offset=".832" stop-color="#ffc500"/><stop offset=".86" stop-color="#fffa00"/><stop offset=".864" stop-color="#ffff04"/><stop offset=".887" stop-color="#ffff48"/><stop offset=".943" stop-color="#fffffc"/><stop offset="1" stop-color="#ffffff"/></linearGradient>
<linearGradient id="g78" x1="0" y1="0" x2="0" y2="1"><stop offset="0" stop-color="#ffffff"/><stop offset=".022" stop-color="#ffffff"/><stop offset=".026" stop-color="#ffffcf"/><stop offset=".03" stop-color="#ffffbc"/><stop offset=".038" stop-color="#ffffa0"/><stop offset=".061" stop-color="#ffff5f"/><stop offset=".101" stop-color="#ffff05"/><stop offset=".105" stop-color="#fffc00"/><stop offset=".16" stop-color="#ff9d00"/><stop offset=".2" stop-color="#ff6400"/><stop offset=".243" stop-color="#ff3b00"/><stop offset=".291" stop-color="#ff1d00"/><stop offset=".354" stop-color="#ff0d00"/><stop offset=".468" stop-color="#ff0000"/><stop offset=".626" stop-color="#f50000"/><stop offset=".674" stop-color="#fe0000"/><stop offset=".729" stop-color="#ff1d00"/><stop offset=".8" stop-color="#ff6500"/><stop offset=".832" stop-color="#ff8f00"/><stop offset=".883" stop-color="#fffd00"/><stop offset=".887" stop-color="#ffff0a"/><stop offset=".935" stop-color="#ffffb1"/><stop offset=".962" stop-color="#ffffff"/><stop offset="1" stop-color="#ffffff"/></linearGradient>
<linearGradient id="g79" x1="0" y1="0" x2="0" y2="1"><stop offset="0" stop-color="#ffffff"/><stop offset=".018" stop-color="#ffffff"/><stop offset=".022" stop-color="#ffffe5"/><stop offset=".026" stop-color="#ffffbd"/><stop offset=".038" stop-color="#ffff8d"/><stop offset=".061" stop-color="#ffff49"/><stop offset=".089" stop-color="#ffff03"/><stop offset=".093" stop-color="#fffa00"/><stop offset=".152" stop-color="#ff8c00"/><stop offset=".192" stop-color="#ff4d00"/><stop offset=".231" stop-color="#ff2000"/><stop offset=".271" stop-color="#fe0000"/><stop offset=".306" stop-color="#eb0000"/><stop offset=".366" stop-color="#de0000"/><stop offset=".634" stop-color="#bf0000"/><stop offset=".666" stop-color="#c40000"/><stop offset=".713" stop-color="#da0000"/><stop offset=".757" stop-color="#ff0000"/><stop offset=".796" stop-color="#ff2c00"/><stop offset=".832" stop-color="#ff5e00"/><stop offset=".899" stop-color="#fffc00"/><stop offset=".939" stop-color="#ffff8e"/><stop offset=".962" stop-color="#ffffd0"/><stop offset=".966" stop-color="#ffffe1"/><stop offset=".97" stop-color="#fffffb"/><stop offset=".974" stop-color="#ffffff"/><stop offset="1" stop-color="#ffffff"/></linearGradient>
<linearGradient id="g80" x1="0" y1="0" x2="0" y2="1"><stop offset="0" stop-color="#ffffff"/><stop offset=".018" stop-color="#ffffff"/><stop offset=".022" stop-color="#ffffc6"/><stop offset=".026" stop-color="#ffffac"/><stop offset=".034" stop-color="#ffff8a"/><stop offset=".053" stop-color="#ffff48"/><stop offset=".081" stop-color="#fffe00"/><stop offset=".132" stop-color="#ff9600"/><stop offset=".168" stop-color="#ff5500"/><stop offset=".2" stop-color="#ff2400"/><stop offset=".231" stop-color="#ff0000"/><stop offset=".283" stop-color="#d30000"/><stop offset=".33" stop-color="#bf0000"/><stop offset=".397" stop-color="#b20000"/><stop offset=".642" stop-color="#910000"/><stop offset=".674" stop-color="#970000"/><stop offset=".721" stop-color="#ae0000"/><stop offset=".749" stop-color="#c70000"/><stop offset=".796" stop-color="#fd0000"/><stop offset=".808" stop-color="#ff0e00"/><stop offset=".832" stop-color="#ff3300"/><stop offset=".868" stop-color="#ff8700"/><stop offset=".915" stop-color="#ffff02"/><stop offset=".939" stop-color="#ffff5f"/><stop offset=".966" stop-color="#ffffb7"/><stop offset=".97" stop-color="#ffffc9"/><stop offset=".974" stop-color="#ffffe9"/><stop offset=".978" stop-color="#ffffff"/><stop offset="1" stop-color="#ffffff"/></linearGradient>
<linearGradient id="g81" x1="0" y1="0" x2="0" y2="1"><stop offset="0" stop-color="#ffffff"/><stop offset=".014" stop-color="#ffffff"/><stop offset=".018" stop-color="#fffff8"/><stop offset=".022" stop-color="#ffffb4"/><stop offset=".03" stop-color="#ffff8a"/><stop offset=".049" stop-color="#ffff41"/><stop offset=".073" stop-color="#fffd00"/><stop offset=".128" stop-color="#ff8700"/><stop offset=".152" stop-color="#ff5900"/><stop offset=".188" stop-color="#ff1e00"/><stop offset=".211" stop-color="#fd0000"/><stop offset=".239" stop-color="#dd0000"/><stop offset=".271" stop-color="#c00000"/><stop offset=".294" stop-color="#b00000"/><stop offset=".318" stop-color="#a70000"/><stop offset=".381" stop-color="#980000"/><stop offset=".646" stop-color="#6e0000"/><stop offset=".682" stop-color="#750000"/><stop offset=".729" stop-color="#8e0000"/><stop offset=".781" stop-color="#c50000"/><stop offset=".82" stop-color="#fc0000"/><stop offset=".832" stop-color="#ff1100"/><stop offset=".856" stop-color="#ff4700"/><stop offset=".891" stop-color="#ffa000"/><stop offset=".927" stop-color="#ffff03"/><stop offset=".939" stop-color="#ffff33"/><stop offset=".962" stop-color="#ffff85"/><stop offset=".97" stop-color="#ffffa5"/><stop offset=".974" stop-color="#ffffba"/><stop offset=".978" stop-color="#ffffdf"/><stop offset=".982" stop-color="#fffffe"/><stop offset="1" stop-color="#ffffff"/></linearGradient>
<linearGradient id="g82" x1="0" y1="0" x2="0" y2="1"><stop offset="0" stop-color="#ffffff"/><stop offset=".014" stop-color="#fffffc"/><stop offset=".018" stop-color="#ffffc7"/><stop offset=".022" stop-color="#ffffa7"/><stop offset=".03" stop-color="#ffff7d"/><stop offset=".049" stop-color="#ffff32"/><stop offset=".065" stop-color="#ffff03"/><stop offset=".069" stop-color="#fff900"/><stop offset=".136" stop-color="#ff6800"/><stop offset=".172" stop-color="#ff2900"/><stop offset=".2" stop-color="#ff0000"/><stop offset=".227" stop-color="#dc0000"/><stop offset=".255" stop-color="#c10000"/><stop offset=".287" stop-color="#a70000"/><stop offset=".31" stop-color="#9c0000"/><stop offset=".374" stop-color="#8c0000"/><stop offset=".654" stop-color="#5f0000"/><stop offset=".694" stop-color="#680000"/><stop offset=".733" stop-color="#7f0000"/><stop offset=".789" stop-color="#bb0000"/><stop offset=".832" stop-color="#fd0000"/><stop offset=".856" stop-color="#ff3200"/><stop offset=".891" stop-color="#ff8600"/><stop offset=".911" stop-color="#ffb900"/><stop offset=".935" stop-color="#ffff00"/><stop offset=".974" stop-color="#ffff98"/><stop offset=".982" stop-color="#ffffc7"/><stop offset=".986" stop-color="#fffff3"/><stop offset=".99" stop-color="#ffffff"/><stop offset="1" stop-color="#ffffff"/></linearGradient>
<linearGradient id="g83" x1="0" y1="0" x2="0" y2="1"><stop offset="0" stop-color="#ffffff"/><stop offset=".014" stop-color="#ffffff"/><stop offset=".018" stop-color="#ffffce"/><stop offset=".022" stop-color="#ffffa9"/><stop offset=".03" stop-color="#ffff7f"/><stop offset=".049" stop-color="#ffff34"/><stop offset=".065" stop-color="#ffff05"/><stop offset=".069" stop-color="#fffb00"/><stop offset=".125" stop-color="#ff8200"/><stop offset=".144" stop-color="#ff5b00"/><stop offset=".18" stop-color="#ff1e00"/><stop offset=".2" stop-color="#ff0100"/><stop offset=".204" stop-color="#fb0000"/><stop offset=".235" stop-color="#d60000"/><stop offset=".263" stop-color="#bd0000"/><stop offset=".291" stop-color="#a80000"/><stop offset=".314" stop-color="#9f0000"/><stop offset=".37" stop-color="#920000"/><stop offset=".658" stop-color="#650000"/><stop offset=".698" stop-color="#6f0000"/><stop offset=".733" stop-color="#830000"/><stop offset=".789" stop-color="#be0000"/><stop offset=".832" stop-color="#ff0000"/><stop offset=".864" stop-color="#ff4400"/><stop offset=".891" stop-color="#ff8600"/><stop offset=".911" stop-color="#ffb900"/><stop offset=".935" stop-color="#ffff00"/><stop offset=".974" stop-color="#ffff98"/><stop offset=".982" stop-color="#ffffc7"/><stop offset=".986" stop-color="#fffff3"/><stop offset=".99" stop-color="#ffffff"/><stop offset="1" stop-color="#ffffff"/></linearGradient>
<linearGradient id="g84" x1="0" y1="0" x2="0" y2="1"><stop offset="0" stop-color="#ffffff"/><stop offset=".018" stop-color="#ffffff"/><stop offset=".022" stop-color="#ffffb8"/><stop offset=".03" stop-color="#ffff8d"/><stop offset=".042" stop-color="#ffff5f"/><stop offset=".053" stop-color="#ffff38"/><stop offset=".073" stop-color="#ffff01"/><stop offset=".077" stop-color="#fff800"/><stop offset=".132" stop-color="#ff8300"/><stop offset=".16" stop-color="#ff4f00"/><stop offset=".192" stop-color="#ff1c00"/><stop offset=".215" stop-color="#fd0000"/><stop offset=".239" stop-color="#e40000"/><stop offset=".271" stop-color="#cb0000"/><stop offset=".314" stop-color="#b50000"/><stop offset=".374" stop-color="#aa0000"/><stop offset=".595" stop-color="#8f0000"/><stop offset=".658" stop-color="#830000"/><stop offset=".694" stop-color="#890000"/><stop offset=".729" stop-color="#9b0000"/><stop offset=".781" stop-color="#ce0000"/><stop offset=".816" stop-color="#fc0000"/><stop offset=".832" stop-color="#ff1600"/><stop offset=".86" stop-color="#ff5300"/><stop offset=".887" stop-color="#ff9600"/><stop offset=".927" stop-color="#ffff03"/><stop offset=".939" stop-color="#ffff33"/><stop offset=".962" stop-color="#ffff85"/><stop offset=".97" stop-color="#ffffa5"/><stop offset=".974" stop-color="#ffffba"/><stop offset=".978" stop-color="#ffffdf"/><stop offset=".982" stop-color="#fffffe"/><stop offset="1" stop-color="#ffffff"/></linearGradient>
<linearGradient id="g85" x1="0" y1="0" x2="0" y2="1"><stop offset="0" stop-color="#ffffff"/><stop offset=".018" stop-color="#ffffff"/><stop offset=".022" stop-color="#ffffca"/><stop offset=".026" stop-color="#ffffb0"/><stop offset=".034" stop-color="#ffff8d"/><stop offset=".045" stop-color="#ffff64"/><stop offset=".057" stop-color="#ffff42"/><stop offset=".081" stop-color="#ffff03"/><stop offset=".085" stop-color="#fffa00"/><stop offset=".136" stop-color="#ff9300"/><stop offset=".18" stop-color="#ff4700"/><stop offset=".208" stop-color="#ff2100"/><stop offset=".243" stop-color="#fe0000"/><stop offset=".287" stop-color="#e10000"/><stop offset=".326" stop-color="#d50000"/><stop offset=".595" stop-color="#b90000"/><stop offset=".658" stop-color="#ae0000"/><stop offset=".686" stop-color="#b20000"/><stop offset=".721" stop-color="#c00000"/><stop offset=".745" stop-color="#d20000"/><stop offset=".789" stop-color="#ff0000"/><stop offset=".832" stop-color="#ff3a00"/><stop offset=".872" stop-color="#ff9200"/><stop offset=".915" stop-color="#ffff02"/><stop offset=".939" stop-color="#ffff5f"/><stop offset=".966" stop-color="#ffffb7"/><stop offset=".97" stop-color="#ffffc9"/><stop offset=".974" stop-color="#ffffe9"/><stop offset=".978" stop-color="#ffffff"/><stop offset="1" stop-color="#ffffff"/></linearGradient>
<linearGradient id="g86" x1="0" y1="0" x2="0" y2="1"><stop offset="0" stop-color="#ffffff"/><stop offset=".018" stop-color="#ffffff"/><stop offset=".022" stop-color="#ffffef"/><stop offset=".026" stop-color="#ffffc1"/><stop offset=".038" stop-color="#ffff91"/><stop offset=".057" stop-color="#ffff57"/><stop offset=".093" stop-color="#fffe00"/><stop offset=".16" stop-color="#ff8400"/><stop offset=".2" stop-color="#ff4900"/><stop offset=".239" stop-color="#ff2500"/><stop offset=".291" stop-color="#ff0900"/><stop offset=".33" stop-color="#ff0000"/><stop offset=".595" stop-color="#eb0000"/><stop offset=".658" stop-color="#e20000"/><stop offset=".706" stop-color="#ec0000"/><stop offset=".737" stop-color="#fe0000"/><stop offset=".789" stop-color="#ff3000"/><stop offset=".832" stop-color="#ff6700"/><stop offset=".872" stop-color="#ffba00"/><stop offset=".899" stop-color="#fffc00"/><stop offset=".939" stop-color="#ffff8e"/><stop offset=".962" stop-color="#ffffd0"/><stop offset=".966" stop-color="#ffffe1"/><stop offset=".97" stop-color="#fffffb"/><stop offset=".974" stop-color="#ffffff"/><stop offset="1" stop-color="#ffffff"/></linearGradient>
<linearGradient id="g87" x1="0" y1="0" x2="0" y2="1"><stop offset="0" stop-color="#ffffff"/><stop offset=".022" stop-color="#ffffff"/><stop offset=".026" stop-color="#ffffd2"/><stop offset=".034" stop-color="#ffffb1"/><stop offset=".042" stop-color="#ffff98"/><stop offset=".065" stop-color="#ffff5b"/><stop offset=".105" stop-color="#ffff03"/><stop offset=".109" stop-color="#fffa00"/><stop offset=".164" stop-color="#ff9d00"/><stop offset=".2" stop-color="#ff6b00"/><stop offset=".235" stop-color="#ff4f00"/><stop offset=".283" stop-color="#ff3900"/><stop offset=".346" stop-color="#ff2e00"/><stop offset=".599" stop-color="#ff2400"/><stop offset=".658" stop-color="#ff1d00"/><stop offset=".69" stop-color="#ff2200"/><stop offset=".721" stop-color="#ff2e00"/><stop offset=".785" stop-color="#ff6200"/><stop offset=".832" stop-color="#ff9900"/><stop offset=".883" stop-color="#fffd00"/><stop offset=".887" stop-color="#ffff0a"/><stop offset=".935" stop-color="#ffffb1"/><stop offset=".962" stop-color="#ffffff"/><stop offset="1" stop-color="#ffffff"/></linearGradient>
<linearGradient id="g88" x1="0" y1="0" x2="0" y2="1"><stop offset="0" stop-color="#ffffff"/><stop offset=".026" stop-color="#ffffff"/><stop offset=".03" stop-color="#ffffd1"/><stop offset=".038" stop-color="#ffffb7"/><stop offset=".049" stop-color="#ffff97"/><stop offset=".065" stop-color="#ffff72"/><stop offset=".105" stop-color="#ffff25"/><stop offset=".121" stop-color="#ffff00"/><stop offset=".125" stop-color="#fff900"/><stop offset=".172" stop-color="#ffb300"/><stop offset=".204" stop-color="#ff8d00"/><stop offset=".235" stop-color="#ff7a00"/><stop offset=".283" stop-color="#ff6900"/><stop offset=".346" stop-color="#ff6200"/><stop offset=".654" stop-color="#ff5d00"/><stop offset=".709" stop-color="#ff6800"/><stop offset=".749" stop-color="#ff8000"/><stop offset=".789" stop-color="#ffa200"/><stop offset=".824" stop-color="#ffc700"/><stop offset=".86" stop-color="#fffd00"/><stop offset=".887" stop-color="#ffff48"/><stop offset=".943" stop-color="#fffffc"/><stop offset="1" stop-color="#ffffff"/></linearGradient>
<linearGradient id="g89" x1="0" y1="0" x2="0" y2="1"><stop offset="0" stop-color="#ffffff"/><stop offset=".03" stop-color="#ffffff"/><stop offset=".034" stop-color="#ffffd9"/><stop offset=".038" stop-color="#ffffc9"/><stop offset=".057" stop-color="#ffff9a"/><stop offset=".073" stop-color="#ffff7b"/><stop offset=".109" stop-color="#ffff40"/><stop offset=".14" stop-color="#ffff01"/><stop offset=".144" stop-color="#fffb00"/><stop offset=".188" stop-color="#ffc500"/><stop offset=".215" stop-color="#ffb000"/><stop offset=".287" stop-color="#ff9c00"/><stop offset=".342" stop-color="#ff9900"/><stop offset=".682" stop-color="#ffa300"/><stop offset=".713" stop-color="#ffad00"/><stop offset=".737" stop-color="#ffba00"/><stop offset=".781" stop-color="#ffda00"/><stop offset=".82" stop-color="#fffe00"/><stop offset=".832" stop-color="#ffff11"/><stop offset=".883" stop-color="#ffff7d"/><stop offset=".927" stop-color="#ffffff"/><stop offset="1" stop-color="#ffffff"/></linearGradient>
<linearGradient id="g90" x1="0" y1="0" x2="0" y2="1"><stop offset="0" stop-color="#ffffff"/><stop offset=".034" stop-color="#ffffff"/><stop offset=".038" stop-color="#ffffee"/><stop offset=".042" stop-color="#ffffd4"/><stop offset=".065" stop-color="#ffffa1"/><stop offset=".109" stop-color="#ffff64"/><stop offset=".168" stop-color="#ffff03"/><stop offset=".172" stop-color="#fffd00"/><stop offset=".2" stop-color="#ffe400"/><stop offset=".215" stop-color="#ffdd00"/><stop offset=".302" stop-color="#ffd300"/><stop offset=".658" stop-color="#ffe700"/><stop offset=".698" stop-color="#ffef00"/><stop offset=".733" stop-color="#fffe00"/><stop offset=".777" stop-color="#ffff2a"/><stop offset=".832" stop-color="#ffff6e"/><stop offset=".883" stop-color="#ffffbe"/><stop offset=".911" stop-color="#ffffff"/><stop offset="1" stop-color="#ffffff"/></linearGradient>
<linearGradient id="g91" x1="0" y1="0" x2="0" y2="1"><stop offset="0" stop-color="#ffffff"/><stop offset=".042" stop-color="#ffffff"/><stop offset=".045" stop-color="#fffff2"/><stop offset=".049" stop-color="#ffffdc"/><stop offset=".053" stop-color="#ffffce"/><stop offset=".073" stop-color="#ffffad"/><stop offset=".109" stop-color="#ffff88"/><stop offset=".192" stop-color="#ffff21"/><stop offset=".208" stop-color="#ffff16"/><stop offset=".235" stop-color="#ffff11"/><stop offset=".334" stop-color="#ffff1a"/><stop offset=".678" stop-color="#ffff50"/><stop offset=".713" stop-color="#ffff60"/><stop offset=".741" stop-color="#ffff74"/><stop offset=".836" stop-color="#ffffd3"/><stop offset=".872" stop-color="#ffffeb"/><stop offset=".887" stop-color="#fffffe"/><stop offset="1" stop-color="#ffffff"/></linearGradient>
<linearGradient id="g92" x1="0" y1="0" x2="0" y2="1"><stop offset="0" stop-color="#ffffff"/><stop offset=".053" stop-color="#fffffd"/><stop offset=".061" stop-color="#ffffda"/><stop offset=".065" stop-color="#ffffd0"/><stop offset=".073" stop-color="#ffffc6"/><stop offset=".121" stop-color="#ffffa2"/><stop offset=".188" stop-color="#ffff66"/><stop offset=".215" stop-color="#ffff5d"/><stop offset=".67" stop-color="#ffffc2"/><stop offset=".729" stop-color="#ffffdb"/><stop offset=".792" stop-color="#ffffff"/><stop offset="1" stop-color="#ffffff"/></linearGradient>
<linearGradient id="g93" x1="0" y1="0" x2="0" y2="1"><stop offset="0" stop-color="#ffffff"/><stop offset=".065" stop-color="#ffffff"/><stop offset=".077" stop-color="#ffffe5"/><stop offset=".097" stop-color="#ffffd4"/><stop offset=".184" stop-color="#ffffab"/><stop offset=".204" stop-color="#ffffa7"/><stop offset=".223" stop-color="#ffffac"/><stop offset=".275" stop-color="#ffffc7"/><stop offset=".31" stop-color="#ffffd3"/><stop offset=".536" stop-color="#ffffff"/><stop offset="1" stop-color="#ffffff"/></linearGradient>
<linearGradient id="g94" x1="0" y1="0" x2="0" y2="1"><stop offset="0" stop-color="#ffffff"/><stop offset=".117" stop-color="#ffffff"/><stop offset=".192" stop-color="#ffffe8"/><stop offset=".215" stop-color="#ffffee"/><stop offset=".247" stop-color="#ffffff"/><stop offset="1" stop-color="#ffffff"/></linearGradient>
<linearGradient id="g95" x1="0" y1="0" x2="0" y2="1"><stop offset="0" stop-color="#ffffff"/><stop offset="1" stop-color="#ffffff"/></linearGradient>
<linearGradient id="g96" x1="0" y1="0" x2="0" y2="1"><stop offset="0" stop-color="#ffffff"/><stop offset="1" stop-color="#ffffff"/></linearGradient>
<linearGradient id="g97" x1="0" y1="0" x2="0" y2="1"><stop offset="0" stop-color="#ffffff"/><stop offset="1" stop-color="#ffffff"/></linearGradient>
<linearGradient id="g98" x1="0" y1="0" x2="0" y2="1"><stop offset="0" stop-color="#ffffff"/><stop offset="1" stop-color="#ffffff"/></linearGradient>
<linearGradient id="g99" x1="0" y1="0" x2="0" y2="1"><stop offset="0" stop-color="#ffffff"/><stop offset="1" stop-color="#ffffff"/></linearGradient>
<linearGradient id="g100" x1="0" y1="0" x2="0" y2="1"><stop offset="0" stop-color="#9d0000"/><stop offset=".131" stop-color="#c30000"/><stop offset=".296" stop-color="#ff0100"/><stop offset=".519" stop-color="#ff6600"/><stop offset=".617" stop-color="#ffae00"/><stop offset=".684" stop-color="#fff900"/><stop offset=".694" stop-color="#ffff04"/><stop offset=".704" stop-color="#ffff12"/><stop offset=".743" stop-color="#ffff58"/><stop offset=".772" stop-color="#ffff9f"/><stop offset=".801" stop-color="#fffffc"/><stop offset="1" stop-color="#ffffff"/></linearGradient>
<linearGradient id="g101" x1="0" y1="0" x2="0" y2="1"><stop offset="0" stop-color="#9d0000"/><stop offset=".141" stop-color="#c60000"/><stop offset=".296" stop-color="#ff0000"/><stop offset=".519" stop-color="#ff6200"/><stop offset=".617" stop-color="#ffa600"/><stop offset=".675" stop-color="#ffe200"/><stop offset=".704" stop-color="#fffa00"/><stop offset=".714" stop-color="#ffff06"/><stop offset=".723" stop-color="#ffff15"/><stop offset=".743" stop-color="#ffff37"/><stop offset=".762" stop-color="#ffff60"/><stop offset=".782" stop-color="#ffff92"/><stop offset=".801" stop-color="#ffffce"/><stop offset=".811" stop-color="#ffffff"/><stop offset="1" stop-color="#ffffff"/></linearGradient>
<linearGradient id="g102" x1="0" y1="0" x2="0" y2="1"><stop offset="0" stop-color="#9d0000"/><stop offset=".121" stop-color="#bf0000"/><stop offset=".296" stop-color="#fe0000"/><stop offset=".306" stop-color="#ff0300"/><stop offset=".519" stop-color="#ff5f00"/><stop offset=".617" stop-color="#ff9d00"/><stop offset=".675" stop-color="#ffd400"/><stop offset=".723" stop-color="#fff900"/><stop offset=".733" stop-color="#ffff06"/><stop offset=".743" stop-color="#ffff15"/><stop offset=".762" stop-color="#ffff3a"/><stop offset=".782" stop-color="#ffff68"/><stop offset=".801" stop-color="#ffffa1"/><stop offset=".82" stop-color="#ffffff"/><stop offset="1" stop-color="#ffffff"/></linearGradient>
<linearGradient id="g103" x1="0" y1="0" x2="0" y2="1"><stop offset="0" stop-color="#9c0000"/><stop offset=".131" stop-color="#c10000"/><stop offset=".306" stop-color="#ff0200"/><stop offset=".519" stop-color="#ff5b00"/><stop offset=".617" stop-color="#ff9500"/><stop offset=".675" stop-color="#ffc600"/><stop offset=".714" stop-color="#ffde00"/><stop offset=".743" stop-color="#fff700"/><stop offset=".752" stop-color="#ffff04"/><stop offset=".762" stop-color="#ffff15"/><stop offset=".782" stop-color="#ffff3e"/><stop offset=".801" stop-color="#ffff72"/><stop offset=".811" stop-color="#ffffa1"/><stop offset=".82" stop-color="#ffffd9"/><stop offset=".83" stop-color="#ffffff"/><stop offset="1" stop-color="#ffffff"/></linearGradient>
<linearGradient id="g104" x1="0" y1="0" x2="0" y2="1"><stop offset="0" stop-color="#9c0000"/><stop offset=".141" stop-color="#c40000"/><stop offset=".306" stop-color="#ff0100"/><stop offset=".519" stop-color="#ff5700"/><stop offset=".617" stop-color="#ff8d00"/><stop offset=".675" stop-color="#ffb900"/><stop offset=".723" stop-color="#ffd300"/><stop offset=".752" stop-color="#ffea00"/><stop offset=".772" stop-color="#ffff01"/><stop offset=".801" stop-color="#ffff44"/><stop offset=".811" stop-color="#ffff70"/><stop offset=".83" stop-color="#ffffde"/><stop offset=".84" stop-color="#ffffff"/><stop offset="1" stop-color="#ffffff"/></linearGradient>
<linearGradient id="g105" x1="0" y1="0" x2="0" y2="1"><stop offset="0" stop-color="#9b0000"/><stop offset=".141" stop-color="#c30000"/><stop offset=".306" stop-color="#ff0000"/><stop offset=".519" stop-color="#ff5400"/><stop offset=".617" stop-color="#ff8500"/><stop offset=".675" stop-color="#ffac00"/><stop offset=".714" stop-color="#ffbb00"/><stop offset=".743" stop-color="#ffcb00"/><stop offset=".772" stop-color="#ffe500"/><stop offset=".791" stop-color="#fffe00"/><stop offset=".801" stop-color="#ffff15"/><stop offset=".811" stop-color="#ffff3e"/><stop offset=".83" stop-color="#ffffa5"/><stop offset=".84" stop-color="#ffffe2"/><stop offset=".85" stop-color="#ffffff"/><stop offset="1" stop-color="#ffffff"/></linearGradient>
<linearGradient id="g106" x1="0" y1="0" x2="0" y2="1"><stop offset="0" stop-color="#9b0000"/><stop offset=".141" stop-color="#c30000"/><stop offset=".306" stop-color="#fe0000"/><stop offset=".519" stop-color="#ff5000"/><stop offset=".617" stop-color="#ff7d00"/><stop offset=".675" stop-color="#ff9f00"/><stop offset=".733" stop-color="#ffb100"/><stop offset=".772" stop-color="#ffcb00"/><stop offset=".801" stop-color="#ffee00"/><stop offset=".811" stop-color="#ffff0c"/><stop offset=".83" stop-color="#ffff6c"/><stop offset=".84" stop-color="#ffffa6"/><stop offset=".85" stop-color="#ffffe8"/><stop offset=".859" stop-color="#ffffff"/><stop offset="1" stop-color="#ffffff"/></linearGradient>
<linearGradient id="g107" x1="0" y1="0" x2="0" y2="1"><stop offset="0" stop-color="#9a0000"/><stop offset=".131" stop-color="#bf0000"/><stop offset=".316" stop-color="#ff0200"/><stop offset=".519" stop-color="#ff4d00"/><stop offset=".675" stop-color="#ff9200"/><stop offset=".723" stop-color="#ff9a00"/><stop offset=".752" stop-color="#ffa500"/><stop offset=".772" stop-color="#ffb100"/><stop offset=".791" stop-color="#ffc300"/><stop offset=".801" stop-color="#ffcf00"/><stop offset=".811" stop-color="#ffe600"/><stop offset=".82" stop-color="#ffff04"/><stop offset=".83" stop-color="#ffff33"/><stop offset=".84" stop-color="#ffff6a"/><stop offset=".85" stop-color="#ffffa8"/><stop offset=".859" stop-color="#ffffee"/><stop offset=".869" stop-color="#ffffff"/><stop offset="1" stop-color="#ffffff"/></linearGradient>
<linearGradient id="g108" x1="0" y1="0" x2="0" y2="1"><stop offset="0" stop-color="#9a0000"/><stop offset=".141" stop-color="#c20000"/><stop offset=".316" stop-color="#ff0100"/><stop offset=".675" stop-color="#ff8600"/><stop offset=".733" stop-color="#ff8a00"/><stop offset=".762" stop-color="#ff9200"/><stop offset=".782" stop-color="#ff9e00"/><stop offset=".801" stop-color="#ffb000"/><stop offset=".811" stop-color="#ffc500"/><stop offset=".83" stop-color="#fffb00"/><stop offset=".84" stop-color="#ffff2d"/><stop offset=".85" stop-color="#ffff68"/><stop offset=".869" stop-color="#ffffe9"/><stop offset=".879" stop-color="#ffffff"/><stop offset="1" stop-color="#ffffff"/></linearGradient>
<linearGradient id="g109" x1="0" y1="0" x2="0" y2="1"><stop offset="0" stop-color="#9a0000"/><stop offset=".141" stop-color="#c10000"/><stop offset=".316" stop-color="#ff0100"/><stop offset=".568" stop-color="#ff5b00"/><stop offset=".675" stop-color="#ff7b00"/><stop offset=".733" stop-color="#ff7700"/><stop offset=".762" stop-color="#ff7a00"/><stop offset=".782" stop-color="#ff8200"/><stop offset=".801" stop-color="#ff9100"/><stop offset=".82" stop-color="#ffbb00"/><stop offset=".84" stop-color="#fff500"/><stop offset=".85" stop-color="#ffff28"/><stop offset=".869" stop-color="#ffffa4"/><stop offset=".879" stop-color="#ffffda"/><stop offset=".888" stop-color="#ffffff"/><stop offset="1" stop-color="#ffffff"/></linearGradient>
<linearGradient id="g110" x1="0" y1="0" x2="0" y2="1"><stop offset="0" stop-color="#990000"/><stop offset=".15" stop-color="#c40000"/><stop offset=".316" stop-color="#ff0000"/><stop offset=".568" stop-color="#ff5700"/><stop offset=".655" stop-color="#ff6c00"/><stop offset=".675" stop-color="#ff7000"/><stop offset=".743" stop-color="#ff6300"/><stop offset=".772" stop-color="#ff6400"/><stop offset=".801" stop-color="#ff7200"/><stop offset=".811" stop-color="#ff8200"/><stop offset=".83" stop-color="#ffb000"/><stop offset=".85" stop-color="#ffef00"/><stop offset=".859" stop-color="#ffff26"/><stop offset=".879" stop-color="#ffff95"/><stop offset=".888" stop-color="#ffffd2"/><stop offset=".898" stop-color="#ffffff"/><stop offset="1" stop-color="#ffffff"/></linearGradient>
<linearGradient id="g111" x1="0" y1="0" x2="0" y2="1"><stop offset="0" stop-color="#990000"/><stop offset=".141" stop-color="#c00000"/><stop offset=".316" stop-color="#fe0000"/><stop offset=".558" stop-color="#ff5000"/><stop offset=".646" stop-color="#ff6200"/><stop offset=".675" stop-color="#ff6600"/><stop offset=".752" stop-color="#ff4e00"/><stop offset=".791" stop-color="#ff4f00"/><stop offset=".801" stop-color="#ff5400"/><stop offset=".811" stop-color="#ff6200"/><stop offset=".83" stop-color="#ff8a00"/><stop offset=".85" stop-color="#ffc500"/><stop offset=".859" stop-color="#ffec00"/><stop offset=".869" stop-color="#ffff1c"/><stop offset=".879" stop-color="#ffff51"/><stop offset=".888" stop-color="#ffff8f"/><stop offset=".898" stop-color="#ffffd4"/><stop offset=".908" stop-color="#ffffff"/><stop offset="1" stop-color="#ffffff"/></linearGradient>
<linearGradient id="g112" x1="0" y1="0" x2="0" y2="1"><stop offset="0" stop-color="#990000"/><stop offset=".131" stop-color="#bd0000"/><stop offset=".325" stop-color="#ff0200"/><stop offset=".432" stop-color="#ff2800"/><stop offset=".558" stop-color="#ff4d00"/><stop offset=".646" stop-color="#ff5b00"/><stop offset=".675" stop-color="#ff5c00"/><stop offset=".752" stop-color="#ff3a00"/><stop offset=".791" stop-color="#ff3300"/><stop offset=".801" stop-color="#ff3600"/><stop offset=".811" stop-color="#ff4100"/><stop offset=".83" stop-color="#ff6400"/><stop offset=".85" stop-color="#ff9c00"/><stop offset=".869" stop-color="#ffe500"/><stop offset=".879" stop-color="#ffff0f"/><stop offset=".888" stop-color="#ffff4c"/><stop offset=".898" stop-color="#ffff92"/><stop offset=".908" stop-color="#ffffe0"/><stop offset=".917" stop-color="#ffffff"/><stop offset="1" stop-color="#ffffff"/></linearGradient>
<linearGradient id="g113" x1="0" y1="0" x2="0" y2="1"><stop offset="0" stop-color="#980000"/><stop offset=".141" stop-color="#bf0000"/><stop offset=".325" stop-color="#ff0100"/><stop offset=".442" stop-color="#ff2a00"/><stop offset=".558" stop-color="#ff4a00"/><stop offset=".646" stop-color="#ff5500"/><stop offset=".675" stop-color="#ff5300"/><stop offset=".762" stop-color="#ff2100"/><stop offset=".782" stop-color="#ff1900"/><stop offset=".801" stop-color="#ff1800"/><stop offset=".82" stop-color="#ff2d00"/><stop offset=".84" stop-color="#ff5500"/><stop offset=".85" stop-color="#ff7200"/><stop offset=".879" stop-color="#ffde00"/><stop offset=".888" stop-color="#ffff0c"/><stop offset=".898" stop-color="#ffff53"/><stop offset=".908" stop-color="#ffffa2"/><stop offset=".917" stop-color="#fffffa"/><stop offset=".927" stop-color="#ffffff"/><stop offset="1" stop-color="#ffffff"/></linearGradient>
<linearGradient id="g114" x1="0" y1="0" x2="0" y2="1"><stop offset="0" stop-color="#980000"/><stop offset=".141" stop-color="#bf0000"/><stop offset=".325" stop-color="#ff0100"/><stop offset=".442" stop-color="#ff2900"/><stop offset=".558" stop-color="#ff4800"/><stop offset=".636" stop-color="#ff4f00"/><stop offset=".675" stop-color="#ff4b00"/><stop offset=".782" stop-color="#ff0100"/><stop offset=".801" stop-color="#fa0000"/><stop offset=".811" stop-color="#ff0000"/><stop offset=".83" stop-color="#ff1900"/><stop offset=".84" stop-color="#ff2e00"/><stop offset=".85" stop-color="#ff4900"/><stop offset=".879" stop-color="#ffb400"/><stop offset=".888" stop-color="#ffde00"/><stop offset=".898" stop-color="#ffff17"/><stop offset=".908" stop-color="#ffff68"/><stop offset=".917" stop-color="#ffffc1"/><stop offset=".927" stop-color="#ffffff"/><stop offset="1" stop-color="#ffffff"/></linearGradient>
<linearGradient id="g115" x1="0" y1="0" x2="0" y2="1"><stop offset="0" stop-color="#980000"/><stop offset=".15" stop-color="#c20000"/><stop offset=".325" stop-color="#ff0000"/><stop offset=".461" stop-color="#ff2e00"/><stop offset=".558" stop-color="#ff4500"/><stop offset=".597" stop-color="#ff4b00"/><stop offset=".646" stop-color="#ff4a00"/><stop offset=".675" stop-color="#ff4400"/><stop offset=".714" stop-color="#ff2800"/><stop offset=".752" stop-color="#ff0300"/><stop offset=".801" stop-color="#dd0000"/><stop offset=".82" stop-color="#e70000"/><stop offset=".83" stop-color="#f30000"/><stop offset=".84" stop-color="#ff0700"/><stop offset=".85" stop-color="#ff2000"/><stop offset=".879" stop-color="#ff8c00"/><stop offset=".898" stop-color="#ffe900"/><stop offset=".908" stop-color="#ffff31"/><stop offset=".917" stop-color="#ffff8c"/><stop offset=".927" stop-color="#ffffef"/><stop offset=".937" stop-color="#ffffff"/><stop offset="1" stop-color="#ffffff"/></linearGradient>
<linearGradient id="g116" x1="0" y1="0" x2="0" y2="1"><stop offset="0" stop-color="#970000"/><stop offset=".15" stop-color="#c10000"/><stop offset=".325" stop-color="#ff0000"/><stop offset=".461" stop-color="#ff2d00"/><stop offset=".558" stop-color="#ff4400"/><stop offset=".597" stop-color="#ff4800"/><stop offset=".646" stop-color="#ff4500"/><stop offset=".675" stop-color="#ff3e00"/><stop offset=".704" stop-color="#ff2700"/><stop offset=".743" stop-color="#fe0000"/><stop offset=".791" stop-color="#c80000"/><stop offset=".801" stop-color="#c10000"/><stop offset=".811" stop-color="#c00000"/><stop offset=".83" stop-color="#ce0000"/><stop offset=".84" stop-color="#df0000"/><stop offset=".85" stop-color="#f80000"/><stop offset=".859" stop-color="#ff1a00"/><stop offset=".879" stop-color="#ff6600"/><stop offset=".888" stop-color="#ff9300"/><stop offset=".908" stop-color="#ffff00"/><stop offset=".917" stop-color="#ffff5c"/><stop offset=".927" stop-color="#ffffc1"/><stop offset=".937" stop-color="#ffffff"/><stop offset="1" stop-color="#ffffff"/></linearGradient>
<linearGradient id="g117" x1="0" y1="0" x2="0" y2="1"><stop offset="0" stop-color="#970000"/><stop offset=".131" stop-color="#bb0000"/><stop offset=".335" stop-color="#ff0300"/><stop offset=".461" stop-color="#ff2c00"/><stop offset=".558" stop-color="#ff4200"/><stop offset=".597" stop-color="#ff4600"/><stop offset=".646" stop-color="#ff4100"/><stop offset=".675" stop-color="#ff3900"/><stop offset=".704" stop-color="#ff2000"/><stop offset=".733" stop-color="#fe0000"/><stop offset=".801" stop-color="#a60000"/><stop offset=".82" stop-color="#a20000"/><stop offset=".83" stop-color="#a90000"/><stop offset=".84" stop-color="#b80000"/><stop offset=".85" stop-color="#d10000"/><stop offset=".859" stop-color="#f20000"/><stop offset=".869" stop-color="#ff1900"/><stop offset=".879" stop-color="#ff4300"/><stop offset=".888" stop-color="#ff7200"/><stop offset=".908" stop-color="#ffe100"/><stop offset=".917" stop-color="#ffff32"/><stop offset=".937" stop-color="#ffffff"/><stop offset="1" stop-color="#ffffff"/></linearGradient>
<linearGradient id="g118" x1="0" y1="0" x2="0" y2="1"><stop offset="0" stop-color="#970000"/><stop offset=".15" stop-color="#c10000"/><stop offset=".325" stop-color="#fe0000"/><stop offset=".461" stop-color="#ff2b00"/><stop offset=".587" stop-color="#ff4400"/><stop offset=".636" stop-color="#ff4000"/><stop offset=".675" stop-color="#ff3400"/><stop offset=".723" stop-color="#ff0300"/><stop offset=".743" stop-color="#e80000"/><stop offset=".801" stop-color="#8d0000"/><stop offset=".82" stop-color="#800000"/><stop offset=".83" stop-color="#840000"/><stop offset=".84" stop-color="#920000"/><stop offset=".85" stop-color="#ab0000"/><stop offset=".869" stop-color="#f70000"/><stop offset=".879" stop-color="#ff2400"/><stop offset=".888" stop-color="#ff5600"/><stop offset=".908" stop-color="#ffc800"/><stop offset=".917" stop-color="#ffff0f"/><stop offset=".927" stop-color="#ffff78"/><stop offset=".937" stop-color="#ffffe8"/><stop offset=".947" stop-color="#ffffff"/><stop offset="1" stop-color="#ffffff"/></linearGradient>
<linearGradient id="g119" x1="0" y1="0" x2="0" y2="1"><stop offset="0" stop-color="#970000"/><stop offset=".15" stop-color="#c00000"/><stop offset=".325" stop-color="#fd0000"/><stop offset=".461" stop-color="#ff2b00"/><stop offset=".587" stop-color="#ff4200"/><stop offset=".636" stop-color="#ff3e00"/><stop offset=".665" stop-color="#ff3600"/><stop offset=".684" stop-color="#ff2900"/><stop offset=".714" stop-color="#ff0a00"/><stop offset=".723" stop-color="#fc0000"/><stop offset=".743" stop-color="#e00000"/><stop offset=".811" stop-color="#680000"/><stop offset=".82" stop-color="#5f0000"/><stop offset=".83" stop-color="#600000"/><stop offset=".84" stop-color="#6d0000"/><stop offset=".85" stop-color="#880000"/><stop offset=".859" stop-color="#ae0000"/><stop offset=".869" stop-color="#da0000"/><stop offset=".879" stop-color="#ff0a00"/><stop offset=".898" stop-color="#ff7700"/><stop offset=".917" stop-color="#fff700"/><stop offset=".927" stop-color="#ffff5e"/><stop offset=".937" stop-color="#ffffcf"/><stop offset=".947" stop-color="#ffffff"/><stop offset="1" stop-color="#ffffff"/></linearGradient>
<linearGradient id="g120" x1="0" y1="0" x2="0" y2="1"><stop offset="0" stop-color="#970000"/><stop offset=".141" stop-color="#bd0000"/><stop offset=".335" stop-color="#ff0200"/><stop offset=".461" stop-color="#ff2a00"/><stop offset=".587" stop-color="#ff4100"/><stop offset=".636" stop-color="#ff3d00"/><stop offset=".665" stop-color="#ff3400"/><stop offset=".684" stop-color="#ff2600"/><stop offset=".714" stop-color="#ff0600"/><stop offset=".723" stop-color="#f80000"/><stop offset=".743" stop-color="#db0000"/><stop offset=".772" stop-color="#a50000"/><stop offset=".811" stop-color="#500000"/><stop offset=".82" stop-color="#400000"/><stop offset=".83" stop-color="#3b0000"/><stop offset=".84" stop-color="#4a0000"/><stop offset=".85" stop-color="#6a0000"/><stop offset=".859" stop-color="#940000"/><stop offset=".879" stop-color="#f60000"/><stop offset=".888" stop-color="#ff2e00"/><stop offset=".908" stop-color="#ffa700"/><stop offset=".917" stop-color="#ffea00"/><stop offset=".927" stop-color="#ffff4c"/><stop offset=".937" stop-color="#ffffbe"/><stop offset=".947" stop-color="#ffffff"/><stop offset="1" stop-color="#ffffff"/></linearGradient>
<linearGradient id="g121" x1="0" y1="0" x2="0" y2="1"><stop offset="0" stop-color="#960000"/><stop offset=".141" stop-color="#bd0000"/><stop offset=".335" stop-color="#ff0100"/><stop offset=".461" stop-color="#ff2a00"/><stop offset=".587" stop-color="#ff4100"/><stop offset=".636" stop-color="#ff3c00"/><stop offset=".665" stop-color="#ff3300"/><stop offset=".684" stop-color="#ff2500"/><stop offset=".714" stop-color="#ff0400"/><stop offset=".733" stop-color="#e80000"/><stop offset=".762" stop-color="#b40000"/><stop offset=".791" stop-color="#730000"/><stop offset=".82" stop-color="#260000"/><stop offset=".83" stop-color="#160000"/><stop offset=".84" stop-color="#2e0000"/><stop offset=".85" stop-color="#560000"/><stop offset=".879" stop-color="#ec0000"/><stop offset=".888" stop-color="#ff2400"/><stop offset=".908" stop-color="#ff9f00"/><stop offset=".917" stop-color="#ffe300"/><stop offset=".927" stop-color="#ffff42"/><stop offset=".937" stop-color="#ffffb5"/><stop offset=".947" stop-color="#ffffff"/><stop offset="1" stop-color="#ffffff"/></linearGradient>
<linearGradient id="g122" x1="0" y1="0" x2="0" y2="1"><stop offset="0" stop-color="#960000"/><stop offset=".141" stop-color="#bd0000"/><stop offset=".335" stop-color="#ff0100"/><stop offset=".461" stop-color="#ff2a00"/><stop offset=".587" stop-color="#ff4100"/><stop offset=".636" stop-color="#ff3c00"/><stop offset=".665" stop-color="#ff3300"/><stop offset=".684" stop-color="#ff2500"/><stop offset=".714" stop-color="#ff0400"/><stop offset=".733" stop-color="#e80000"/><stop offset=".762" stop-color="#b40000"/><stop offset=".791" stop-color="#720000"/><stop offset=".82" stop-color="#230000"/><stop offset=".83" stop-color="#0e0000"/><stop offset=".84" stop-color="#2a0000"/><stop offset=".85" stop-color="#530000"/><stop offset=".879" stop-color="#ea0000"/><stop offset=".888" stop-color="#ff2300"/><stop offset=".908" stop-color="#ff9e00"/><stop offset=".917" stop-color="#ffe100"/><stop offset=".927" stop-color="#ffff40"/><stop offset=".937" stop-color="#ffffb3"/><stop offset=".947" stop-color="#ffffff"/><stop offset="1" stop-color="#ffffff"/></linearGradient>
<linearGradient id="g123" x1="0" y1="0" x2="0" y2="1"><stop offset="0" stop-color="#960000"/><stop offset=".141" stop-color="#bc0000"/><stop offset=".335" stop-color="#ff0100"/><stop offset=".461" stop-color="#ff2a00"/><stop offset=".587" stop-color="#ff4100"/><stop offset=".636" stop-color="#ff3d00"/><stop offset=".665" stop-color="#ff3400"/><stop offset=".684" stop-color="#ff2700"/><stop offset=".714" stop-color="#ff0600"/><stop offset=".723" stop-color="#f80000"/><stop offset=".752" stop-color="#ca0000"/><stop offset=".772" stop-color="#a50000"/><stop offset=".82" stop-color="#3a0000"/><stop offset=".83" stop-color="#330000"/><stop offset=".84" stop-color="#420000"/><stop offset=".85" stop-color="#630000"/><stop offset=".859" stop-color="#8e0000"/><stop offset=".879" stop-color="#f10000"/><stop offset=".888" stop-color="#ff2900"/><stop offset=".908" stop-color="#ffa200"/><stop offset=".917" stop-color="#ffe500"/><stop offset=".927" stop-color="#ffff45"/><stop offset=".937" stop-color="#ffffb7"/><stop offset=".947" stop-color="#ffffff"/><stop offset="1" stop-color="#ffffff"/></linearGradient>
<linearGradient id="g124" x1="0" y1="0" x2="0" y2="1"><stop offset="0" stop-color="#960000"/><stop offset=".141" stop-color="#bc0000"/><stop offset=".335" stop-color="#ff0100"/><stop offset=".461" stop-color="#ff2a00"/><stop offset=".587" stop-color="#ff4200"/><stop offset=".636" stop-color="#ff3e00"/><stop offset=".665" stop-color="#ff3600"/><stop offset=".684" stop-color="#ff2900"/><stop offset=".714" stop-color="#ff0a00"/><stop offset=".723" stop-color="#fc0000"/><stop offset=".743" stop-color="#e00000"/><stop offset=".811" stop-color="#640000"/><stop offset=".82" stop-color="#590000"/><stop offset=".83" stop-color="#580000"/><stop offset=".84" stop-color="#640000"/><stop offset=".85" stop-color="#7f0000"/><stop offset=".859" stop-color="#a50000"/><stop offset=".879" stop-color="#ff0200"/><stop offset=".898" stop-color="#ff7000"/><stop offset=".917" stop-color="#ffef00"/><stop offset=".927" stop-color="#ffff52"/><stop offset=".937" stop-color="#ffffc3"/><stop offset=".947" stop-color="#ffffff"/><stop offset="1" stop-color="#ffffff"/></linearGradient>
<linearGradient id="g125" x1="0" y1="0" x2="0" y2="1"><stop offset="0" stop-color="#960000"/><stop offset=".141" stop-color="#bc0000"/><stop offset=".335" stop-color="#ff0100"/><stop offset=".461" stop-color="#ff2a00"/><stop offset=".558" stop-color="#ff4000"/><stop offset=".597" stop-color="#ff4400"/><stop offset=".646" stop-color="#ff3f00"/><stop offset=".675" stop-color="#ff3500"/><stop offset=".723" stop-color="#ff0300"/><stop offset=".733" stop-color="#f60000"/><stop offset=".752" stop-color="#d90000"/><stop offset=".801" stop-color="#8a0000"/><stop offset=".82" stop-color="#7a0000"/><stop offset=".83" stop-color="#7c0000"/><stop offset=".84" stop-color="#890000"/><stop offset=".85" stop-color="#a10000"/><stop offset=".859" stop-color="#c40000"/><stop offset=".869" stop-color="#ec0000"/><stop offset=".879" stop-color="#ff1a00"/><stop offset=".888" stop-color="#ff4b00"/><stop offset=".898" stop-color="#ff8200"/><stop offset=".917" stop-color="#ffff00"/><stop offset=".927" stop-color="#ffff68"/><stop offset=".937" stop-color="#ffffd8"/><stop offset=".947" stop-color="#ffffff"/><stop offset="1" stop-color="#ffffff"/></linearGradient>
<linearGradient id="g126" x1="0" y1="0" x2="0" y2="1"><stop offset="0" stop-color="#960000"/><stop offset=".141" stop-color="#bc0000"/><stop offset=".335" stop-color="#ff0100"/><stop offset=".461" stop-color="#ff2b00"/><stop offset=".558" stop-color="#ff4200"/><stop offset=".597" stop-color="#ff4600"/><stop offset=".646" stop-color="#ff4200"/><stop offset=".675" stop-color="#ff3900"/><stop offset=".704" stop-color="#ff2000"/><stop offset=".733" stop-color="#fe0000"/><stop offset=".801" stop-color="#a20000"/><stop offset=".82" stop-color="#9b0000"/><stop offset=".83" stop-color="#a10000"/><stop offset=".84" stop-color="#af0000"/><stop offset=".85" stop-color="#c60000"/><stop offset=".859" stop-color="#e60000"/><stop offset=".869" stop-color="#ff0d00"/><stop offset=".879" stop-color="#ff3700"/><stop offset=".888" stop-color="#ff6600"/><stop offset=".908" stop-color="#ffd400"/><stop offset=".917" stop-color="#ffff1f"/><stop offset=".927" stop-color="#ffff85"/><stop offset=".937" stop-color="#fffff3"/><stop offset=".947" stop-color="#ffffff"/><stop offset="1" stop-color="#ffffff"/></linearGradient>
<linearGradient id="g127" x1="0" y1="0" x2="0" y2="1"><stop offset="0" stop-color="#950000"/><stop offset=".141" stop-color="#bc0000"/><stop offset=".335" stop-color="#ff0100"/><stop offset=".461" stop-color="#ff2b00"/><stop offset=".558" stop-color="#ff4300"/><stop offset=".597" stop-color="#ff4800"/><stop offset=".646" stop-color="#ff4600"/><stop offset=".675" stop-color="#ff3e00"/><stop offset=".704" stop-color="#ff2700"/><stop offset=".743" stop-color="#fe0000"/><stop offset=".791" stop-color="#c50000"/><stop offset=".801" stop-color="#bd0000"/><stop offset=".811" stop-color="#bb0000"/><stop offset=".83" stop-color="#c60000"/><stop offset=".84" stop-color="#d50000"/><stop offset=".85" stop-color="#ec0000"/><stop offset=".859" stop-color="#ff0d00"/><stop offset=".879" stop-color="#ff5800"/><stop offset=".888" stop-color="#ff8500"/><stop offset=".908" stop-color="#fff000"/><stop offset=".917" stop-color="#ffff45"/><stop offset=".927" stop-color="#ffffa9"/><stop offset=".937" stop-color="#ffffff"/><stop offset="1" stop-color="#ffffff"/></linearGradient>
<linearGradient id="g128" x1="0" y1="0" x2="0" y2="1"><stop offset="0" stop-color="#950000"/><stop offset=".141" stop-color="#bc0000"/><stop offset=".335" stop-color="#ff0100"/><stop offset=".442" stop-color="#ff2600"/><stop offset=".549" stop-color="#ff4300"/><stop offset=".587" stop-color="#ff4a00"/><stop offset=".626" stop-color="#ff4b00"/><stop offset=".675" stop-color="#ff4500"/><stop offset=".714" stop-color="#ff2800"/><stop offset=".752" stop-color="#ff0200"/><stop offset=".801" stop-color="#d80000"/><stop offset=".82" stop-color="#df0000"/><stop offset=".83" stop-color="#ea0000"/><stop offset=".84" stop-color="#fb0000"/><stop offset=".85" stop-color="#ff1500"/><stop offset=".869" stop-color="#ff5800"/><stop offset=".879" stop-color="#ff7d00"/><stop offset=".898" stop-color="#ffd800"/><stop offset=".908" stop-color="#ffff18"/><stop offset=".917" stop-color="#ffff72"/><stop offset=".927" stop-color="#ffffd4"/><stop offset=".937" stop-color="#ffffff"/><stop offset="1" stop-color="#ffffff"/></linearGradient>
<linearGradient id="g129" x1="0" y1="0" x2="0" y2="1"><stop offset="0" stop-color="#950000"/><stop offset=".141" stop-color="#bc0000"/><stop offset=".335" stop-color="#ff0200"/><stop offset=".442" stop-color="#ff2700"/><stop offset=".558" stop-color="#ff4700"/><stop offset=".636" stop-color="#ff5000"/><stop offset=".665" stop-color="#ff4e00"/><stop offset=".684" stop-color="#ff4600"/><stop offset=".772" stop-color="#ff0400"/><stop offset=".801" stop-color="#f50000"/><stop offset=".82" stop-color="#ff0300"/><stop offset=".84" stop-color="#ff2300"/><stop offset=".85" stop-color="#ff3d00"/><stop offset=".879" stop-color="#ffa400"/><stop offset=".898" stop-color="#fffc00"/><stop offset=".908" stop-color="#ffff4c"/><stop offset=".927" stop-color="#ffffff"/><stop offset="1" stop-color="#ffffff"/></linearGradient>
<linearGradient id="g130" x1="0" y1="0" x2="0" y2="1"><stop offset="0" stop-color="#950000"/><stop offset=".141" stop-color="#bc0000"/><stop offset=".335" stop-color="#ff0200"/><stop offset=".442" stop-color="#ff2800"/><stop offset=".558" stop-color="#ff4a00"/><stop offset=".646" stop-color="#ff5500"/><stop offset=".675" stop-color="#ff5400"/><stop offset=".772" stop-color="#ff1a00"/><stop offset=".801" stop-color="#ff1200"/><stop offset=".82" stop-color="#ff2500"/><stop offset=".84" stop-color="#ff4a00"/><stop offset=".85" stop-color="#ff6500"/><stop offset=".859" stop-color="#ff8700"/><stop offset=".879" stop-color="#ffcc00"/><stop offset=".888" stop-color="#fff500"/><stop offset=".898" stop-color="#ffff36"/><stop offset=".908" stop-color="#ffff84"/><stop offset=".917" stop-color="#ffffda"/><stop offset=".927" stop-color="#ffffff"/><stop offset="1" stop-color="#ffffff"/></linearGradient>
<linearGradient id="g131" x1="0" y1="0" x2="0" y2="1"><stop offset="0" stop-color="#950000"/><stop offset=".141" stop-color="#bc0000"/><stop offset=".335" stop-color="#ff0200"/><stop offset=".442" stop-color="#ff2900"/><stop offset=".568" stop-color="#ff4f00"/><stop offset=".646" stop-color="#ff5c00"/><stop offset=".675" stop-color="#ff5c00"/><stop offset=".762" stop-color="#ff3400"/><stop offset=".782" stop-color="#ff2e00"/><stop offset=".801" stop-color="#ff3000"/><stop offset=".82" stop-color="#ff4800"/><stop offset=".84" stop-color="#ff7100"/><stop offset=".85" stop-color="#ff8e00"/><stop offset=".879" stop-color="#fff700"/><stop offset=".888" stop-color="#ffff2f"/><stop offset=".898" stop-color="#ffff73"/><stop offset=".908" stop-color="#ffffbf"/><stop offset=".917" stop-color="#ffffff"/><stop offset="1" stop-color="#ffffff"/></linearGradient>
<linearGradient id="g132" x1="0" y1="0" x2="0" y2="1"><stop offset="0" stop-color="#950000"/><stop offset=".15" stop-color="#bf0000"/><stop offset=".325" stop-color="#fe0000"/><stop offset=".568" stop-color="#ff5200"/><stop offset=".646" stop-color="#ff6300"/><stop offset=".675" stop-color="#ff6600"/><stop offset=".752" stop-color="#ff4b00"/><stop offset=".791" stop-color="#ff4a00"/><stop offset=".801" stop-color="#ff4e00"/><stop offset=".811" stop-color="#ff5a00"/><stop offset=".83" stop-color="#ff7f00"/><stop offset=".85" stop-color="#ffb700"/><stop offset=".869" stop-color="#ffff01"/><stop offset=".879" stop-color="#ffff34"/><stop offset=".888" stop-color="#ffff70"/><stop offset=".898" stop-color="#ffffb3"/><stop offset=".908" stop-color="#fffffe"/><stop offset="1" stop-color="#ffffff"/></linearGradient>
<linearGradient id="g133" x1="0" y1="0" x2="0" y2="1"><stop offset="0" stop-color="#950000"/><stop offset=".15" stop-color="#bf0000"/><stop offset=".325" stop-color="#fe0000"/><stop offset=".568" stop-color="#ff5600"/><stop offset=".655" stop-color="#ff6c00"/><stop offset=".675" stop-color="#ff7000"/><stop offset=".743" stop-color="#ff6100"/><stop offset=".782" stop-color="#ff6200"/><stop offset=".801" stop-color="#ff6b00"/><stop offset=".811" stop-color="#ff7a00"/><stop offset=".83" stop-color="#ffa400"/><stop offset=".85" stop-color="#ffe100"/><stop offset=".859" stop-color="#ffff0c"/><stop offset=".879" stop-color="#ffff77"/><stop offset=".888" stop-color="#ffffb2"/><stop offset=".898" stop-color="#fffff4"/><stop offset=".908" stop-color="#ffffff"/><stop offset="1" stop-color="#ffffff"/></linearGradient>
<linearGradient id="g134" x1="0" y1="0" x2="0" y2="1"><stop offset="0" stop-color="#950000"/><stop offset=".15" stop-color="#bf0000"/><stop offset=".325" stop-color="#ff0000"/><stop offset=".578" stop-color="#ff5d00"/><stop offset=".665" stop-color="#ff7800"/><stop offset=".675" stop-color="#ff7b00"/><stop offset=".743" stop-color="#ff7400"/><stop offset=".772" stop-color="#ff7900"/><stop offset=".801" stop-color="#ff8a00"/><stop offset=".82" stop-color="#ffb000"/><stop offset=".84" stop-color="#ffe700"/><stop offset=".85" stop-color="#ffff11"/><stop offset=".859" stop-color="#ffff4e"/><stop offset=".879" stop-color="#ffffba"/><stop offset=".888" stop-color="#fffff5"/><stop offset=".898" stop-color="#ffffff"/><stop offset="1" stop-color="#ffffff"/></linearGradient>
<linearGradient id="g135" x1="0" y1="0" x2="0" y2="1"><stop offset="0" stop-color="#950000"/><stop offset=".15" stop-color="#bf0000"/><stop offset=".325" stop-color="#ff0000"/><stop offset=".675" stop-color="#ff8600"/><stop offset=".733" stop-color="#ff8700"/><stop offset=".772" stop-color="#ff9200"/><stop offset=".801" stop-color="#ffa800"/><stop offset=".811" stop-color="#ffbb00"/><stop offset=".83" stop-color="#ffef00"/><stop offset=".84" stop-color="#ffff18"/><stop offset=".85" stop-color="#ffff4f"/><stop offset=".869" stop-color="#ffffca"/><stop offset=".879" stop-color="#fffffe"/><stop offset="1" stop-color="#ffffff"/></linearGradient>
<linearGradient id="g136" x1="0" y1="0" x2="0" y2="1"><stop offset="0" stop-color="#950000"/><stop offset=".15" stop-color="#bf0000"/><stop offset=".325" stop-color="#ff0100"/><stop offset=".519" stop-color="#ff4a00"/><stop offset=".675" stop-color="#ff9200"/><stop offset=".723" stop-color="#ff9800"/><stop offset=".762" stop-color="#ffa500"/><stop offset=".782" stop-color="#ffb200"/><stop offset=".801" stop-color="#ffc600"/><stop offset=".82" stop-color="#fff600"/><stop offset=".83" stop-color="#ffff1f"/><stop offset=".84" stop-color="#ffff53"/><stop offset=".85" stop-color="#ffff8e"/><stop offset=".859" stop-color="#ffffd1"/><stop offset=".869" stop-color="#ffffff"/><stop offset="1" stop-color="#ffffff"/></linearGradient>
<linearGradient id="g137" x1="0" y1="0" x2="0" y2="1"><stop offset="0" stop-color="#950000"/><stop offset=".15" stop-color="#bf0000"/><stop offset=".325" stop-color="#ff0100"/><stop offset=".519" stop-color="#ff4d00"/><stop offset=".675" stop-color="#ff9e00"/><stop offset=".743" stop-color="#ffb200"/><stop offset=".772" stop-color="#ffc500"/><stop offset=".791" stop-color="#ffd800"/><stop offset=".801" stop-color="#ffe500"/><stop offset=".811" stop-color="#fffc00"/><stop offset=".82" stop-color="#ffff27"/><stop offset=".83" stop-color="#ffff57"/><stop offset=".84" stop-color="#ffff8e"/><stop offset=".85" stop-color="#ffffcc"/><stop offset=".859" stop-color="#ffffff"/><stop offset="1" stop-color="#ffffff"/></linearGradient>
<linearGradient id="g138" x1="0" y1="0" x2="0" y2="1"><stop offset="0" stop-color="#950000"/><stop offset=".15" stop-color="#bf0000"/><stop offset=".325" stop-color="#ff0200"/><stop offset=".519" stop-color="#ff5000"/><stop offset=".617" stop-color="#ff8400"/><stop offset=".675" stop-color="#ffaa00"/><stop offset=".743" stop-color="#ffc700"/><stop offset=".772" stop-color="#ffde00"/><stop offset=".791" stop-color="#fff500"/><stop offset=".801" stop-color="#ffff06"/><stop offset=".811" stop-color="#ffff2d"/><stop offset=".83" stop-color="#ffff8f"/><stop offset=".85" stop-color="#ffffff"/><stop offset="1" stop-color="#ffffff"/></linearGradient>
<linearGradient id="g139" x1="0" y1="0" x2="0" y2="1"><stop offset="0" stop-color="#950000"/><stop offset=".141" stop-color="#bc0000"/><stop offset=".325" stop-color="#ff0200"/><stop offset=".519" stop-color="#ff5300"/><stop offset=".617" stop-color="#ff8c00"/><stop offset=".675" stop-color="#ffb700"/><stop offset=".733" stop-color="#ffd500"/><stop offset=".772" stop-color="#fff800"/><stop offset=".782" stop-color="#ffff07"/><stop offset=".801" stop-color="#ffff33"/><stop offset=".811" stop-color="#ffff5d"/><stop offset=".82" stop-color="#ffff8f"/><stop offset=".84" stop-color="#ffffff"/><stop offset="1" stop-color="#ffffff"/></linearGradient>
<linearGradient id="g140" x1="0" y1="0" x2="0" y2="1"><stop offset="0" stop-color="#950000"/><stop offset=".141" stop-color="#bc0000"/><stop offset=".325" stop-color="#ff0300"/><stop offset=".519" stop-color="#ff5700"/><stop offset=".617" stop-color="#ff9400"/><stop offset=".675" stop-color="#ffc400"/><stop offset=".723" stop-color="#ffe100"/><stop offset=".752" stop-color="#fffb00"/><stop offset=".762" stop-color="#ffff0a"/><stop offset=".772" stop-color="#ffff1c"/><stop offset=".801" stop-color="#ffff61"/><stop offset=".811" stop-color="#ffff8d"/><stop offset=".83" stop-color="#fffffd"/><stop offset="1" stop-color="#ffffff"/></linearGradient>
<linearGradient id="g141" x1="0" y1="0" x2="0" y2="1"><stop offset="0" stop-color="#940000"/><stop offset=".141" stop-color="#bc0000"/><stop offset=".316" stop-color="#fe0000"/><stop offset=".325" stop-color="#ff0300"/><stop offset=".519" stop-color="#ff5a00"/><stop offset=".617" stop-color="#ff9c00"/><stop offset=".675" stop-color="#ffd200"/><stop offset=".733" stop-color="#fffd00"/><stop offset=".743" stop-color="#ffff0c"/><stop offset=".762" stop-color="#ffff2e"/><stop offset=".791" stop-color="#ffff72"/><stop offset=".801" stop-color="#ffff8e"/><stop offset=".811" stop-color="#ffffbd"/><stop offset=".82" stop-color="#fffff6"/><stop offset=".83" stop-color="#ffffff"/><stop offset="1" stop-color="#ffffff"/></linearGradient>
<linearGradient id="g142" x1="0" y1="0" x2="0" y2="1"><stop offset="0" stop-color="#940000"/><stop offset=".15" stop-color="#c00000"/><stop offset=".316" stop-color="#ff0000"/><stop offset=".519" stop-color="#ff5d00"/><stop offset=".617" stop-color="#ffa400"/><stop offset=".675" stop-color="#ffdf00"/><stop offset=".714" stop-color="#fffe00"/><stop offset=".743" stop-color="#ffff2c"/><stop offset=".772" stop-color="#ffff69"/><stop offset=".801" stop-color="#ffffba"/><stop offset=".811" stop-color="#ffffed"/><stop offset=".82" stop-color="#ffffff"/><stop offset="1" stop-color="#ffffff"/></linearGradient>
<linearGradient id="g143" x1="0" y1="0" x2="0" y2="1"><stop offset="0" stop-color="#940000"/><stop offset=".15" stop-color="#c00000"/><stop offset=".316" stop-color="#ff0000"/><stop offset=".519" stop-color="#ff6100"/><stop offset=".617" stop-color="#ffad00"/><stop offset=".675" stop-color="#ffed00"/><stop offset=".694" stop-color="#fffd00"/><stop offset=".723" stop-color="#ffff28"/><stop offset=".752" stop-color="#ffff60"/><stop offset=".772" stop-color="#ffff8e"/><stop offset=".801" stop-color="#ffffe6"/><stop offset=".811" stop-color="#ffffff"/><stop offset="1" stop-color="#ffffff"/></linearGradient>
<linearGradient id="g144" x1="0" y1="0" x2="0" y2="1"><stop offset="0" stop-color="#940000"/><stop offset=".15" stop-color="#c00000"/><stop offset=".316" stop-color="#ff0100"/><stop offset=".519" stop-color="#ff6400"/><stop offset=".617" stop-color="#ffb500"/><stop offset=".675" stop-color="#fffa00"/><stop offset=".684" stop-color="#ffff07"/><stop offset=".694" stop-color="#ffff15"/><stop offset=".733" stop-color="#ffff57"/><stop offset=".762" stop-color="#ffff9a"/><stop offset=".791" stop-color="#fffff0"/><stop offset=".801" stop-color="#ffffff"/><stop offset="1" stop-color="#ffffff"/></linearGradient>
<linearGradient id="g145" x1="0" y1="0" x2="0" y2="1"><stop offset="0" stop-color="#940000"/><stop offset=".15" stop-color="#c00000"/><stop offset=".316" stop-color="#ff0100"/><stop offset=".432" stop-color="#ff3800"/><stop offset=".519" stop-color="#ff6800"/><stop offset=".607" stop-color="#ffb400"/><stop offset=".665" stop-color="#fffa00"/><stop offset=".675" stop-color="#ffff0d"/><stop offset=".694" stop-color="#ffff2c"/><stop offset=".723" stop-color="#ffff61"/><stop offset=".752" stop-color="#ffffa3"/><stop offset=".782" stop-color="#fffff8"/><stop offset=".791" stop-color="#ffffff"/><stop offset="1" stop-color="#ffffff"/></linearGradient>
<linearGradient id="g146" x1="0" y1="0" x2="0" y2="1"><stop offset="0" stop-color="#940000"/><stop offset=".15" stop-color="#c00000"/><stop offset=".316" stop-color="#ff0200"/><stop offset=".432" stop-color="#ff3a00"/><stop offset=".519" stop-color="#ff6b00"/><stop offset=".607" stop-color="#ffbc00"/><stop offset=".655" stop-color="#fff800"/><stop offset=".665" stop-color="#ffff0b"/><stop offset=".675" stop-color="#ffff21"/><stop offset=".704" stop-color="#ffff55"/><stop offset=".723" stop-color="#ffff7c"/><stop offset=".752" stop-color="#ffffc4"/><stop offset=".772" stop-color="#fffffd"/><stop offset="1" stop-color="#ffffff"/></linearGradient>
<linearGradient id="g147" x1="0" y1="0" x2="0" y2="1"><stop offset="0" stop-color="#940000"/><stop offset=".141" stop-color="#bd0000"/><stop offset=".316" stop-color="#ff0300"/><stop offset=".432" stop-color="#ff3c00"/><stop offset=".519" stop-color="#ff6f00"/><stop offset=".607" stop-color="#ffc400"/><stop offset=".646" stop-color="#fff500"/><stop offset=".655" stop-color="#ffff07"/><stop offset=".675" stop-color="#ffff36"/><stop offset=".714" stop-color="#ffff81"/><stop offset=".733" stop-color="#ffffaf"/><stop offset=".762" stop-color="#ffffff"/><stop offset="1" stop-color="#ffffff"/></linearGradient>
<linearGradient id="g148" x1="0" y1="0" x2="0" y2="1"><stop offset="0" stop-color="#940000"/><stop offset=".141" stop-color="#bd0000"/><stop offset=".306" stop-color="#fe0000"/><stop offset=".316" stop-color="#ff0300"/><stop offset=".432" stop-color="#ff3d00"/><stop offset=".519" stop-color="#ff7300"/><stop offset=".587" stop-color="#ffb600"/><stop offset=".617" stop-color="#ffd700"/><stop offset=".646" stop-color="#ffff02"/><stop offset=".675" stop-color="#ffff49"/><stop offset=".714" stop-color="#ffff9b"/><stop offset=".752" stop-color="#ffffff"/><stop offset="1" stop-color="#ffffff"/></linearGradient>
<linearGradient id="g149" x1="0" y1="0" x2="0" y2="1"><stop offset="0" stop-color="#940000"/><stop offset=".15" stop-color="#c10000"/><stop offset=".306" stop-color="#fe0000"/><stop offset=".422" stop-color="#ff3a00"/><stop offset=".519" stop-color="#ff7600"/><stop offset=".587" stop-color="#ffbc00"/><stop offset=".636" stop-color="#fffb00"/><stop offset=".646" stop-color="#ffff11"/><stop offset=".675" stop-color="#ffff5d"/><stop offset=".704" stop-color="#ffff9c"/><stop offset=".743" stop-color="#ffffff"/><stop offset="1" stop-color="#ffffff"/></linearGradient>
<linearGradient id="g150" x1="0" y1="0" x2="0" y2="1"><stop offset="0" stop-color="#940000"/><stop offset=".15" stop-color="#c10000"/><stop offset=".306" stop-color="#ff0000"/><stop offset=".422" stop-color="#ff3b00"/><stop offset=".519" stop-color="#ff7a00"/><stop offset=".578" stop-color="#ffb700"/><stop offset=".626" stop-color="#fff600"/><stop offset=".636" stop-color="#ffff09"/><stop offset=".675" stop-color="#ffff70"/><stop offset=".704" stop-color="#ffffb3"/><stop offset=".733" stop-color="#ffffff"/><stop offset="1" stop-color="#ffffff"/></linearGradient>
<linearGradient id="g151" x1="0" y1="0" x2="0" y2="1"><stop offset="0" stop-color="#940000"/><stop offset=".15" stop-color="#c10000"/><stop offset=".306" stop-color="#ff0100"/><stop offset=".422" stop-color="#ff3d00"/><stop offset=".51" stop-color="#ff7500"/><stop offset=".568" stop-color="#ffb100"/><stop offset=".626" stop-color="#fffe00"/><stop offset=".646" stop-color="#ffff2f"/><stop offset=".675" stop-color="#ffff82"/><stop offset=".704" stop-color="#ffffc9"/><stop offset=".723" stop-color="#ffffff"/><stop offset="1" stop-color="#ffffff"/></linearGradient>
<linearGradient id="g152" x1="0" y1="0" x2="0" y2="1"><stop offset="0" stop-color="#940000"/><stop offset=".15" stop-color="#c10000"/><stop offset=".306" stop-color="#ff0100"/><stop offset=".422" stop-color="#ff3e00"/><stop offset=".51" stop-color="#ff7900"/><stop offset=".558" stop-color="#ffab00"/><stop offset=".617" stop-color="#fff700"/><stop offset=".626" stop-color="#ffff0c"/><stop offset=".636" stop-color="#ffff24"/><stop offset=".655" stop-color="#ffff59"/><stop offset=".675" stop-color="#ffff94"/><stop offset=".714" stop-color="#fffffa"/><stop offset=".723" stop-color="#ffffff"/><stop offset="1" stop-color="#ffffff"/></linearGradient>
<linearGradient id="g153" x1="0" y1="0" x2="0" y2="1"><stop offset="0" stop-color="#940000"/><stop offset=".15" stop-color="#c10000"/><stop offset=".306" stop-color="#ff0200"/><stop offset=".422" stop-color="#ff4000"/><stop offset=".51" stop-color="#ff7c00"/><stop offset=".558" stop-color="#ffaf00"/><stop offset=".617" stop-color="#ffff00"/><stop offset=".646" stop-color="#ffff4c"/><stop offset=".675" stop-color="#ffffa6"/><stop offset=".704" stop-color="#fffff3"/><stop offset=".714" stop-color="#ffffff"/><stop offset="1" stop-color="#ffffff"/></linearGradient>
<linearGradient id="g154" x1="0" y1="0" x2="0" y2="1"><stop offset="0" stop-color="#940000"/><stop offset=".141" stop-color="#be0000"/><stop offset=".306" stop-color="#ff0200"/><stop offset=".422" stop-color="#ff4100"/><stop offset=".51" stop-color="#ff7e00"/><stop offset=".558" stop-color="#ffb400"/><stop offset=".607" stop-color="#fff700"/><stop offset=".617" stop-color="#ffff0b"/><stop offset=".626" stop-color="#ffff24"/><stop offset=".655" stop-color="#ffff77"/><stop offset=".675" stop-color="#ffffb7"/><stop offset=".694" stop-color="#ffffeb"/><stop offset=".704" stop-color="#ffffff"/><stop offset="1" stop-color="#ffffff"/></linearGradient>
<linearGradient id="g155" x1="0" y1="0" x2="0" y2="1"><stop offset="0" stop-color="#940000"/><stop offset=".141" stop-color="#be0000"/><stop offset=".306" stop-color="#ff0300"/><stop offset=".422" stop-color="#ff4200"/><stop offset=".51" stop-color="#ff8100"/><stop offset=".558" stop-color="#ffb800"/><stop offset=".607" stop-color="#fffe00"/><stop offset=".617" stop-color="#ffff16"/><stop offset=".636" stop-color="#ffff4a"/><stop offset=".655" stop-color="#ffff85"/><stop offset=".675" stop-color="#ffffc7"/><stop offset=".694" stop-color="#fffffd"/><stop offset="1" stop-color="#ffffff"/></linearGradient>
<linearGradient id="g156" x1="0" y1="0" x2="0" y2="1"><stop offset="0" stop-color="#940000"/><stop offset=".141" stop-color="#be0000"/><stop offset=".306" stop-color="#ff0300"/><stop offset=".413" stop-color="#ff3e00"/><stop offset=".5" stop-color="#ff7c00"/><stop offset=".519" stop-color="#ff8d00"/><stop offset=".549" stop-color="#ffb000"/><stop offset=".597" stop-color="#fff500"/><stop offset=".607" stop-color="#ffff07"/><stop offset=".617" stop-color="#ffff20"/><stop offset=".646" stop-color="#ffff74"/><stop offset=".675" stop-color="#ffffd6"/><stop offset=".684" stop-color="#fffff2"/><stop offset=".694" stop-color="#ffffff"/><stop offset="1" stop-color="#ffffff"/></linearGradient>
<linearGradient id="g157" x1="0" y1="0" x2="0" y2="1"><stop offset="0" stop-color="#940000"/><stop offset=".141" stop-color="#be0000"/><stop offset=".296" stop-color="#fe0000"/><stop offset=".306" stop-color="#ff0400"/><stop offset=".413" stop-color="#ff3f00"/><stop offset=".5" stop-color="#ff7e00"/><stop offset=".519" stop-color="#ff9000"/><stop offset=".549" stop-color="#ffb300"/><stop offset=".597" stop-color="#fffa00"/><stop offset=".607" stop-color="#ffff10"/><stop offset=".626" stop-color="#ffff45"/><stop offset=".655" stop-color="#ffff9f"/><stop offset=".675" stop-color="#ffffe5"/><stop offset=".684" stop-color="#ffffff"/><stop offset="1" stop-color="#ffffff"/></linearGradient>
<linearGradient id="g158" x1="0" y1="0" x2="0" y2="1"><stop offset="0" stop-color="#940000"/><stop offset=".141" stop-color="#be0000"/><stop offset=".296" stop-color="#fe0000"/><stop offset=".306" stop-color="#ff0400"/><stop offset=".413" stop-color="#ff4000"/><stop offset=".5" stop-color="#ff8100"/><stop offset=".519" stop-color="#ff9300"/><stop offset=".549" stop-color="#ffb700"/><stop offset=".597" stop-color="#ffff01"/><stop offset=".617" stop-color="#ffff33"/><stop offset=".636" stop-color="#ffff6c"/><stop offset=".655" stop-color="#ffffac"/><stop offset=".675" stop-color="#fffff3"/><stop offset=".684" stop-color="#ffffff"/><stop offset="1" stop-color="#ffffff"/></linearGradient>
<linearGradient id="g159" x1="0" y1="0" x2="0" y2="1"><stop offset="0" stop-color="#940000"/><stop offset=".15" stop-color="#c10000"/><stop offset=".296" stop-color="#ff0000"/><stop offset=".403" stop-color="#ff3b00"/><stop offset=".49" stop-color="#ff7a00"/><stop offset=".529" stop-color="#ffa100"/><stop offset=".587" stop-color="#fff400"/><stop offset=".597" stop-color="#ffff08"/><stop offset=".617" stop-color="#ffff3b"/><stop offset=".646" stop-color="#ffff96"/><stop offset=".675" stop-color="#ffffff"/><stop offset="1" stop-color="#ffffff"/></linearGradient>
<linearGradient id="g160" x1="0" y1="0" x2="0" y2="1"><stop offset="0" stop-color="#940000"/><stop offset=".15" stop-color="#c20000"/><stop offset=".296" stop-color="#ff0000"/><stop offset=".403" stop-color="#ff3c00"/><stop offset=".49" stop-color="#ff7c00"/><stop offset=".529" stop-color="#ffa400"/><stop offset=".587" stop-color="#fff800"/><stop offset=".597" stop-color="#ffff0f"/><stop offset=".617" stop-color="#ffff44"/><stop offset=".646" stop-color="#ffffa0"/><stop offset=".665" stop-color="#ffffe6"/><stop offset=".675" stop-color="#ffffff"/><stop offset="1" stop-color="#ffffff"/></linearGradient>
<linearGradient id="g161" x1="0" y1="0" x2="0" y2="1"><stop offset="0" stop-color="#930000"/><stop offset=".15" stop-color="#c20000"/><stop offset=".296" stop-color="#ff0000"/><stop offset=".403" stop-color="#ff3c00"/><stop offset=".49" stop-color="#ff7e00"/><stop offset=".529" stop-color="#ffa600"/><stop offset=".558" stop-color="#ffce00"/><stop offset=".587" stop-color="#fffc00"/><stop offset=".607" stop-color="#ffff30"/><stop offset=".626" stop-color="#ffff69"/><stop offset=".646" stop-color="#ffffa9"/><stop offset=".665" stop-color="#fffff1"/><stop offset=".675" stop-color="#ffffff"/><stop offset="1" stop-color="#ffffff"/></linearGradient>
<linearGradient id="g162" x1="0" y1="0" x2="0" y2="1"><stop offset="0" stop-color="#930000"/><stop offset=".15" stop-color="#c20000"/><stop offset=".296" stop-color="#ff0000"/><stop offset=".403" stop-color="#ff3d00"/><stop offset=".481" stop-color="#ff7700"/><stop offset=".519" stop-color="#ff9c00"/><stop offset=".549" stop-color="#ffc300"/><stop offset=".587" stop-color="#ffff02"/><stop offset=".626" stop-color="#ffff71"/><stop offset=".646" stop-color="#ffffb2"/><stop offset=".665" stop-color="#fffffb"/><stop offset=".675" stop-color="#ffffff"/><stop offset="1" stop-color="#ffffff"/></linearGradient>
<linearGradient id="g163" x1="0" y1="0" x2="0" y2="1"><stop offset="0" stop-color="#930000"/><stop offset=".15" stop-color="#c20000"/><stop offset=".296" stop-color="#ff0100"/><stop offset=".403" stop-color="#ff3e00"/><stop offset=".481" stop-color="#ff7900"/><stop offset=".519" stop-color="#ff9e00"/><stop offset=".549" stop-color="#ffc500"/><stop offset=".578" stop-color="#fff300"/><stop offset=".587" stop-color="#ffff07"/><stop offset=".607" stop-color="#ffff3d"/><stop offset=".636" stop-color="#ffff98"/><stop offset=".665" stop-color="#ffffff"/><stop offset="1" stop-color="#ffffff"/></linearGradient>
<linearGradient id="g164" x1="0" y1="0" x2="0" y2="1"><stop offset="0" stop-color="#930000"/><stop offset=".15" stop-color="#c10000"/><stop offset=".296" stop-color="#ff0100"/><stop offset=".403" stop-color="#ff3e00"/><stop offset=".481" stop-color="#ff7a00"/><stop offset=".519" stop-color="#ffa000"/><stop offset=".549" stop-color="#ffc800"/><stop offset=".578" stop-color="#fff600"/><stop offset=".587" stop-color="#ffff0c"/><stop offset=".607" stop-color="#ffff42"/><stop offset=".636" stop-color="#ffff9f"/><stop offset=".655" stop-color="#ffffe6"/><stop offset=".665" stop-color="#ffffff"/><stop offset="1" stop-color="#ffffff"/></linearGradient>
<linearGradient id="g165" x1="0" y1="0" x2="0" y2="1"><stop offset="0" stop-color="#930000"/><stop offset=".15" stop-color="#c10000"/><stop offset=".296" stop-color="#ff0100"/><stop offset=".403" stop-color="#ff3f00"/><stop offset=".481" stop-color="#ff7b00"/><stop offset=".519" stop-color="#ffa100"/><stop offset=".549" stop-color="#ffca00"/><stop offset=".578" stop-color="#fff900"/><stop offset=".587" stop-color="#ffff10"/><stop offset=".607" stop-color="#ffff47"/><stop offset=".636" stop-color="#ffffa5"/><stop offset=".655" stop-color="#ffffed"/><stop offset=".665" stop-color="#ffffff"/><stop offset="1" stop-color="#ffffff"/></linearGradient>
<linearGradient id="g166" x1="0" y1="0" x2="0" y2="1"><stop offset="0" stop-color="#930000"/><stop offset=".15" stop-color="#c10000"/><stop offset=".296" stop-color="#ff0100"/><stop offset=".403" stop-color="#ff3f00"/><stop offset=".481" stop-color="#ff7c00"/><stop offset=".519" stop-color="#ffa300"/><stop offset=".549" stop-color="#ffcc00"/><stop offset=".578" stop-color="#fffb00"/><stop offset=".587" stop-color="#ffff14"/><stop offset=".617" stop-color="#ffff6a"/><stop offset=".636" stop-color="#ffffab"/><stop offset=".655" stop-color="#fffff4"/><stop offset=".665" stop-color="#ffffff"/><stop offset="1" stop-color="#ffffff"/></linearGradient>
<linearGradient id="g167" x1="0" y1="0" x2="0" y2="1"><stop offset="0" stop-color="#930000"/><stop offset=".15" stop-color="#c10000"/><stop offset=".296" stop-color="#ff0100"/><stop offset=".403" stop-color="#ff4000"/><stop offset=".481" stop-color="#ff7d00"/><stop offset=".519" stop-color="#ffa400"/><stop offset=".549" stop-color="#ffcd00"/><stop offset=".578" stop-color="#fffd00"/><stop offset=".587" stop-color="#ffff18"/><stop offset=".617" stop-color="#ffff6e"/><stop offset=".636" stop-color="#ffffb0"/><stop offset=".655" stop-color="#fffff9"/><stop offset=".665" stop-color="#ffffff"/><stop offset="1" stop-color="#ffffff"/></linearGradient>
<linearGradient id="g168" x1="0" y1="0" x2="0" y2="1"><stop offset="0" stop-color="#920000"/><stop offset=".15" stop-color="#c10000"/><stop offset=".296" stop-color="#ff0100"/><stop offset=".403" stop-color="#ff4000"/><stop offset=".481" stop-color="#ff7d00"/><stop offset=".519" stop-color="#ffa500"/><stop offset=".549" stop-color="#ffcf00"/><stop offset=".578" stop-color="#ffff00"/><stop offset=".617" stop-color="#ffff72"/><stop offset=".636" stop-color="#ffffb5"/><stop offset=".655" stop-color="#ffffff"/><stop offset="1" stop-color="#ffffff"/></linearGradient>
<linearGradient id="g169" x1="0" y1="0" x2="0" y2="1"><stop offset="0" stop-color="#920000"/><stop offset=".15" stop-color="#c10000"/><stop offset=".296" stop-color="#ff0100"/><stop offset=".393" stop-color="#ff3a00"/><stop offset=".471" stop-color="#ff7500"/><stop offset=".519" stop-color="#ffa600"/><stop offset=".578" stop-color="#ffff02"/><stop offset=".617" stop-color="#ffff76"/><stop offset=".655" stop-color="#ffffff"/><stop offset="1" stop-color="#ffffff"/></linearGradient>
<linearGradient id="g170" x1="0" y1="0" x2="0" y2="1"><stop offset="0" stop-color="#920000"/><stop offset=".15" stop-color="#c10000"/><stop offset=".296" stop-color="#ff0100"/><stop offset=".393" stop-color="#ff3a00"/><stop offset=".471" stop-color="#ff7600"/><stop offset=".519" stop-color="#ffa600"/><stop offset=".568" stop-color="#fff100"/><stop offset=".578" stop-color="#ffff04"/><stop offset=".587" stop-color="#ffff1f"/><stop offset=".617" stop-color="#ffff79"/><stop offset=".655" stop-color="#ffffff"/><stop offset="1" stop-color="#ffffff"/></linearGradient>
<linearGradient id="g171" x1="0" y1="0" x2="0" y2="1"><stop offset="0" stop-color="#920000"/><stop offset=".15" stop-color="#c10000"/><stop offset=".296" stop-color="#ff0100"/><stop offset=".393" stop-color="#ff3a00"/><stop offset=".471" stop-color="#ff7600"/><stop offset=".519" stop-color="#ffa700"/><stop offset=".568" stop-color="#fff200"/><stop offset=".578" stop-color="#ffff06"/><stop offset=".587" stop-color="#ffff21"/><stop offset=".617" stop-color="#ffff7b"/><stop offset=".646" stop-color="#ffffe3"/><stop offset=".655" stop-color="#ffffff"/><stop offset="1" stop-color="#ffffff"/></linearGradient>
<linearGradient id="g172" x1="0" y1="0" x2="0" y2="1"><stop offset="0" stop-color="#920000"/><stop offset=".15" stop-color="#c00000"/><stop offset=".296" stop-color="#ff0100"/><stop offset=".393" stop-color="#ff3a00"/><stop offset=".471" stop-color="#ff7600"/><stop offset=".519" stop-color="#ffa700"/><stop offset=".568" stop-color="#fff200"/><stop offset=".578" stop-color="#ffff07"/><stop offset=".587" stop-color="#ffff22"/><stop offset=".617" stop-color="#ffff7d"/><stop offset=".646" stop-color="#ffffe5"/><stop offset=".655" stop-color="#ffffff"/><stop offset="1" stop-color="#ffffff"/></linearGradient>
<linearGradient id="g173" x1="0" y1="0" x2="0" y2="1"><stop offset="0" stop-color="#910000"/><stop offset=".15" stop-color="#c00000"/><stop offset=".296" stop-color="#ff0100"/><stop offset=".393" stop-color="#ff3a00"/><stop offset=".471" stop-color="#ff7600"/><stop offset=".519" stop-color="#ffa800"/><stop offset=".568" stop-color="#fff300"/><stop offset=".578" stop-color="#ffff08"/><stop offset=".587" stop-color="#ffff23"/><stop offset=".617" stop-color="#ffff7e"/><stop offset=".646" stop-color="#ffffe7"/><stop offset=".655" stop-color="#ffffff"/><stop offset="1" stop-color="#ffffff"/></linearGradient>
<linearGradient id="g174" x1="0" y1="0" x2="0" y2="1"><stop offset="0" stop-color="#910000"/><stop offset=".15" stop-color="#c00000"/><stop offset=".296" stop-color="#ff0000"/><stop offset=".393" stop-color="#ff3a00"/><stop offset=".471" stop-color="#ff7600"/><stop offset=".519" stop-color="#ffa800"/><stop offset=".568" stop-color="#fff300"/><stop offset=".578" stop-color="#ffff08"/><stop offset=".587" stop-color="#ffff24"/><stop offset=".617" stop-color="#ffff7f"/><stop offset=".646" stop-color="#ffffe7"/><stop offset=".655" stop-color="#ffffff"/><stop offset="1" stop-color="#ffffff"/></linearGradient>
<linearGradient id="g175" x1="0" y1="0" x2="0" y2="1"><stop offset="0" stop-color="#910000"/><stop offset=".15" stop-color="#bf0000"/><stop offset=".296" stop-color="#ff0000"/><stop offset=".393" stop-color="#ff3900"/><stop offset=".471" stop-color="#ff7600"/><stop offset=".519" stop-color="#ffa800"/><stop offset=".568" stop-color="#fff300"/><stop offset=".578" stop-color="#ffff08"/><stop offset=".587" stop-color="#ffff24"/><stop offset=".617" stop-color="#ffff7f"/><stop offset=".646" stop-color="#ffffe8"/><stop offset=".655" stop-color="#ffffff"/><stop offset="1" stop-color="#ffffff"/></linearGradient>
<linearGradient id="g176" x1="0" y1="0" x2="0" y2="1"><stop offset="0" stop-color="#900000"/><stop offset=".15" stop-color="#bf0000"/><stop offset=".296" stop-color="#fe0000"/><stop offset=".393" stop-color="#ff3900"/><stop offset=".471" stop-color="#ff7500"/><stop offset=".519" stop-color="#ffa700"/><stop offset=".568" stop-color="#fff300"/><stop offset=".578" stop-color="#ffff08"/><stop offset=".587" stop-color="#ffff24"/><stop offset=".617" stop-color="#ffff7f"/><stop offset=".646" stop-color="#ffffe8"/><stop offset=".655" stop-color="#ffffff"/><stop offset="1" stop-color="#ffffff"/></linearGradient>
<linearGradient id="g177" x1="0" y1="0" x2="0" y2="1"><stop offset="0" stop-color="#8f0000"/><stop offset=".141" stop-color="#ba0000"/><stop offset=".296" stop-color="#fe0000"/><stop offset=".306" stop-color="#ff0400"/><stop offset=".393" stop-color="#ff3800"/><stop offset=".471" stop-color="#ff7500"/><stop offset=".519" stop-color="#ffa600"/><stop offset=".568" stop-color="#fff200"/><stop offset=".578" stop-color="#ffff07"/><stop offset=".587" stop-color="#ffff23"/><stop offset=".617" stop-color="#ffff7e"/><stop offset=".646" stop-color="#ffffe7"/><stop offset=".655" stop-color="#ffffff"/><stop offset="1" stop-color="#ffffff"/></linearGradient>
<linearGradient id="g178" x1="0" y1="0" x2="0" y2="1"><stop offset="0" stop-color="#8f0000"/><stop offset=".15" stop-color="#bd0000"/><stop offset=".306" stop-color="#ff0300"/><stop offset=".393" stop-color="#ff3700"/><stop offset=".471" stop-color="#ff7400"/><stop offset=".519" stop-color="#ffa600"/><stop offset=".568" stop-color="#fff100"/><stop offset=".578" stop-color="#ffff06"/><stop offset=".587" stop-color="#ffff22"/><stop offset=".617" stop-color="#ffff7d"/><stop offset=".646" stop-color="#ffffe5"/><stop offset=".655" stop-color="#ffffff"/><stop offset="1" stop-color="#ffffff"/></linearGradient>
<linearGradient id="g179" x1="0" y1="0" x2="0" y2="1"><stop offset="0" stop-color="#8e0000"/><stop offset=".15" stop-color="#bc0000"/><stop offset=".306" stop-color="#ff0200"/><stop offset=".393" stop-color="#ff3600"/><stop offset=".471" stop-color="#ff7300"/><stop offset=".519" stop-color="#ffa500"/><stop offset=".568" stop-color="#fff000"/><stop offset=".578" stop-color="#ffff04"/><stop offset=".587" stop-color="#ffff20"/><stop offset=".617" stop-color="#ffff7c"/><stop offset=".646" stop-color="#ffffe3"/><stop offset=".655" stop-color="#ffffff"/><stop offset="1" stop-color="#ffffff"/></linearGradient>
<linearGradient id="g180" x1="0" y1="0" x2="0" y2="1"><stop offset="0" stop-color="#8d0000"/><stop offset=".16" stop-color="#bf0000"/><stop offset=".306" stop-color="#ff0100"/><stop offset=".403" stop-color="#ff3c00"/><stop offset=".481" stop-color="#ff7b00"/><stop offset=".519" stop-color="#ffa400"/><stop offset=".578" stop-color="#ffff02"/><stop offset=".607" stop-color="#ffff5a"/><stop offset=".655" stop-color="#ffffff"/><stop offset="1" stop-color="#ffffff"/></linearGradient>
<linearGradient id="g181" x1="0" y1="0" x2="0" y2="1"><stop offset="0" stop-color="#8c0000"/><stop offset=".16" stop-color="#be0000"/><stop offset=".306" stop-color="#ff0000"/><stop offset=".403" stop-color="#ff3b00"/><stop offset=".481" stop-color="#ff7a00"/><stop offset=".519" stop-color="#ffa200"/><stop offset=".549" stop-color="#ffcd00"/><stop offset=".578" stop-color="#ffff00"/><stop offset=".617" stop-color="#ffff77"/><stop offset=".655" stop-color="#ffffff"/><stop offset="1" stop-color="#ffffff"/></linearGradient>
<linearGradient id="g182" x1="0" y1="0" x2="0" y2="1"><stop offset="0" stop-color="#8b0000"/><stop offset=".15" stop-color="#ba0000"/><stop offset=".228" stop-color="#d90000"/><stop offset=".306" stop-color="#fe0000"/><stop offset=".316" stop-color="#ff0400"/><stop offset=".403" stop-color="#ff3a00"/><stop offset=".481" stop-color="#ff7800"/><stop offset=".519" stop-color="#ffa100"/><stop offset=".549" stop-color="#ffcb00"/><stop offset=".578" stop-color="#fffd00"/><stop offset=".587" stop-color="#ffff19"/><stop offset=".617" stop-color="#ffff74"/><stop offset=".636" stop-color="#ffffb6"/><stop offset=".655" stop-color="#ffffff"/><stop offset="1" stop-color="#ffffff"/></linearGradient>
<linearGradient id="g183" x1="0" y1="0" x2="0" y2="1"><stop offset="0" stop-color="#8b0000"/><stop offset=".15" stop-color="#b90000"/><stop offset=".316" stop-color="#ff0300"/><stop offset=".403" stop-color="#ff3900"/><stop offset=".481" stop-color="#ff7700"/><stop offset=".519" stop-color="#ff9f00"/><stop offset=".549" stop-color="#ffca00"/><stop offset=".578" stop-color="#fffb00"/><stop offset=".587" stop-color="#ffff16"/><stop offset=".617" stop-color="#ffff70"/><stop offset=".636" stop-color="#ffffb2"/><stop offset=".655" stop-color="#fffffb"/><stop offset=".665" stop-color="#ffffff"/><stop offset="1" stop-color="#ffffff"/></linearGradient>
<linearGradient id="g184" x1="0" y1="0" x2="0" y2="1"><stop offset="0" stop-color="#8a0000"/><stop offset=".16" stop-color="#bb0000"/><stop offset=".316" stop-color="#ff0200"/><stop offset=".403" stop-color="#ff3700"/><stop offset=".481" stop-color="#ff7500"/><stop offset=".519" stop-color="#ff9d00"/><stop offset=".549" stop-color="#ffc800"/><stop offset=".578" stop-color="#fff900"/><stop offset=".587" stop-color="#ffff12"/><stop offset=".607" stop-color="#ffff4d"/><stop offset=".636" stop-color="#ffffad"/><stop offset=".655" stop-color="#fffff5"/><stop offset=".665" stop-color="#ffffff"/><stop offset="1" stop-color="#ffffff"/></linearGradient>
<linearGradient id="g185" x1="0" y1="0" x2="0" y2="1"><stop offset="0" stop-color="#890000"/><stop offset=".16" stop-color="#ba0000"/><stop offset=".316" stop-color="#ff0100"/><stop offset=".403" stop-color="#ff3600"/><stop offset=".481" stop-color="#ff7400"/><stop offset=".519" stop-color="#ff9b00"/><stop offset=".549" stop-color="#ffc500"/><stop offset=".578" stop-color="#fff600"/><stop offset=".587" stop-color="#ffff0e"/><stop offset=".626" stop-color="#ffff87"/><stop offset=".655" stop-color="#ffffef"/><stop offset=".665" stop-color="#ffffff"/><stop offset="1" stop-color="#ffffff"/></linearGradient>
<linearGradient id="g186" x1="0" y1="0" x2="0" y2="1"><stop offset="0" stop-color="#880000"/><stop offset=".073" stop-color="#9c0000"/><stop offset=".17" stop-color="#bd0000"/><stop offset=".316" stop-color="#ff0000"/><stop offset=".403" stop-color="#ff3500"/><stop offset=".481" stop-color="#ff7200"/><stop offset=".519" stop-color="#ff9900"/><stop offset=".549" stop-color="#ffc300"/><stop offset=".578" stop-color="#fff300"/><stop offset=".587" stop-color="#ffff09"/><stop offset=".626" stop-color="#ffff81"/><stop offset=".655" stop-color="#ffffe8"/><stop offset=".665" stop-color="#ffffff"/><stop offset="1" stop-color="#ffffff"/></linearGradient>
<linearGradient id="g187" x1="0" y1="0" x2="0" y2="1"><stop offset="0" stop-color="#870000"/><stop offset=".16" stop-color="#b80000"/><stop offset=".238" stop-color="#d80000"/><stop offset=".316" stop-color="#fe0000"/><stop offset=".325" stop-color="#ff0400"/><stop offset=".413" stop-color="#ff3a00"/><stop offset=".49" stop-color="#ff7900"/><stop offset=".529" stop-color="#ffa400"/><stop offset=".578" stop-color="#fff000"/><stop offset=".587" stop-color="#ffff05"/><stop offset=".597" stop-color="#ffff21"/><stop offset=".626" stop-color="#ffff7b"/><stop offset=".665" stop-color="#ffffff"/><stop offset="1" stop-color="#ffffff"/></linearGradient>
<linearGradient id="g188" x1="0" y1="0" x2="0" y2="1"><stop offset="0" stop-color="#860000"/><stop offset=".16" stop-color="#b70000"/><stop offset=".325" stop-color="#ff0300"/><stop offset=".422" stop-color="#ff3f00"/><stop offset=".5" stop-color="#ff8000"/><stop offset=".519" stop-color="#ff9500"/><stop offset=".539" stop-color="#ffaf00"/><stop offset=".587" stop-color="#ffff00"/><stop offset=".636" stop-color="#ffff94"/><stop offset=".665" stop-color="#fffffe"/><stop offset="1" stop-color="#ffffff"/></linearGradient>
<linearGradient id="g189" x1="0" y1="0" x2="0" y2="1"><stop offset="0" stop-color="#850000"/><stop offset=".073" stop-color="#990000"/><stop offset=".17" stop-color="#ba0000"/><stop offset=".325" stop-color="#ff0100"/><stop offset=".422" stop-color="#ff3e00"/><stop offset=".5" stop-color="#ff7e00"/><stop offset=".519" stop-color="#ff9200"/><stop offset=".539" stop-color="#ffad00"/><stop offset=".587" stop-color="#fffb00"/><stop offset=".597" stop-color="#ffff15"/><stop offset=".626" stop-color="#ffff6d"/><stop offset=".646" stop-color="#ffffad"/><stop offset=".665" stop-color="#fffff5"/><stop offset=".675" stop-color="#ffffff"/><stop offset="1" stop-color="#ffffff"/></linearGradient>
<linearGradient id="g190" x1="0" y1="0" x2="0" y2="1"><stop offset="0" stop-color="#850000"/><stop offset=".073" stop-color="#980000"/><stop offset=".17" stop-color="#b90000"/><stop offset=".248" stop-color="#d90000"/><stop offset=".325" stop-color="#ff0000"/><stop offset=".422" stop-color="#ff3c00"/><stop offset=".5" stop-color="#ff7c00"/><stop offset=".519" stop-color="#ff9000"/><stop offset=".539" stop-color="#ffaa00"/><stop offset=".587" stop-color="#fff700"/><stop offset=".597" stop-color="#ffff0f"/><stop offset=".607" stop-color="#ffff2b"/><stop offset=".636" stop-color="#ffff84"/><stop offset=".665" stop-color="#ffffea"/><stop offset=".675" stop-color="#ffffff"/><stop offset="1" stop-color="#ffffff"/></linearGradient>
<linearGradient id="g191" x1="0" y1="0" x2="0" y2="1"><stop offset="0" stop-color="#840000"/><stop offset=".16" stop-color="#b40000"/><stop offset=".248" stop-color="#d70000"/><stop offset=".325" stop-color="#fe0000"/><stop offset=".335" stop-color="#ff0400"/><stop offset=".422" stop-color="#ff3a00"/><stop offset=".5" stop-color="#ff7900"/><stop offset=".539" stop-color="#ffa600"/><stop offset=".587" stop-color="#fff300"/><stop offset=".597" stop-color="#ffff08"/><stop offset=".607" stop-color="#ffff24"/><stop offset=".636" stop-color="#ffff7b"/><stop offset=".675" stop-color="#ffffff"/><stop offset="1" stop-color="#ffffff"/></linearGradient>
<linearGradient id="g192" x1="0" y1="0" x2="0" y2="1"><stop offset="0" stop-color="#830000"/><stop offset=".073" stop-color="#960000"/><stop offset=".17" stop-color="#b70000"/><stop offset=".335" stop-color="#ff0200"/><stop offset=".432" stop-color="#ff3f00"/><stop offset=".51" stop-color="#ff8000"/><stop offset=".549" stop-color="#ffb100"/><stop offset=".597" stop-color="#ffff01"/><stop offset=".636" stop-color="#ffff72"/><stop offset=".655" stop-color="#ffffb1"/><stop offset=".675" stop-color="#fffff9"/><stop offset=".684" stop-color="#ffffff"/><stop offset="1" stop-color="#ffffff"/></linearGradient>
<linearGradient id="g193" x1="0" y1="0" x2="0" y2="1"><stop offset="0" stop-color="#820000"/><stop offset=".17" stop-color="#b60000"/><stop offset=".248" stop-color="#d50000"/><stop offset=".335" stop-color="#ff0100"/><stop offset=".432" stop-color="#ff3d00"/><stop offset=".51" stop-color="#ff7d00"/><stop offset=".549" stop-color="#ffad00"/><stop offset=".597" stop-color="#fffb00"/><stop offset=".607" stop-color="#ffff14"/><stop offset=".626" stop-color="#ffff4b"/><stop offset=".655" stop-color="#ffffa6"/><stop offset=".675" stop-color="#ffffeb"/><stop offset=".684" stop-color="#ffffff"/><stop offset="1" stop-color="#ffffff"/></linearGradient>
<linearGradient id="g194" x1="0" y1="0" x2="0" y2="1"><stop offset="0" stop-color="#810000"/><stop offset=".083" stop-color="#970000"/><stop offset=".18" stop-color="#b80000"/><stop offset=".257" stop-color="#d80000"/><stop offset=".335" stop-color="#fe0000"/><stop offset=".432" stop-color="#ff3b00"/><stop offset=".51" stop-color="#ff7a00"/><stop offset=".549" stop-color="#ffa900"/><stop offset=".597" stop-color="#fff500"/><stop offset=".607" stop-color="#ffff0c"/><stop offset=".626" stop-color="#ffff41"/><stop offset=".646" stop-color="#ffff7b"/><stop offset=".675" stop-color="#ffffde"/><stop offset=".684" stop-color="#fffffa"/><stop offset=".694" stop-color="#ffffff"/><stop offset="1" stop-color="#ffffff"/></linearGradient>
<linearGradient id="g195" x1="0" y1="0" x2="0" y2="1"><stop offset="0" stop-color="#800000"/><stop offset=".17" stop-color="#b30000"/><stop offset=".257" stop-color="#d70000"/><stop offset=".335" stop-color="#fd0000"/><stop offset=".345" stop-color="#ff0300"/><stop offset=".432" stop-color="#ff3900"/><stop offset=".51" stop-color="#ff7700"/><stop offset=".549" stop-color="#ffa500"/><stop offset=".597" stop-color="#fff000"/><stop offset=".607" stop-color="#ffff03"/><stop offset=".646" stop-color="#ffff6f"/><stop offset=".675" stop-color="#ffffcf"/><stop offset=".684" stop-color="#ffffea"/><stop offset=".694" stop-color="#ffffff"/><stop offset="1" stop-color="#ffffff"/></linearGradient>
<linearGradient id="g196" x1="0" y1="0" x2="0" y2="1"><stop offset="0" stop-color="#7f0000"/><stop offset=".083" stop-color="#950000"/><stop offset=".18" stop-color="#b60000"/><stop offset=".345" stop-color="#ff0200"/><stop offset=".432" stop-color="#ff3700"/><stop offset=".51" stop-color="#ff7400"/><stop offset=".558" stop-color="#ffae00"/><stop offset=".607" stop-color="#fffb00"/><stop offset=".617" stop-color="#ffff13"/><stop offset=".636" stop-color="#ffff47"/><stop offset=".655" stop-color="#ffff80"/><stop offset=".675" stop-color="#ffffc0"/><stop offset=".694" stop-color="#fffff5"/><stop offset=".704" stop-color="#ffffff"/><stop offset="1" stop-color="#ffffff"/></linearGradient>
<linearGradient id="g197" x1="0" y1="0" x2="0" y2="1"><stop offset="0" stop-color="#7e0000"/><stop offset=".083" stop-color="#940000"/><stop offset=".18" stop-color="#b50000"/><stop offset=".267" stop-color="#d90000"/><stop offset=".345" stop-color="#ff0000"/><stop offset=".432" stop-color="#ff3500"/><stop offset=".51" stop-color="#ff7000"/><stop offset=".558" stop-color="#ffaa00"/><stop offset=".607" stop-color="#fff500"/><stop offset=".617" stop-color="#ffff09"/><stop offset=".626" stop-color="#ffff22"/><stop offset=".655" stop-color="#ffff73"/><stop offset=".675" stop-color="#ffffb0"/><stop offset=".704" stop-color="#fffffe"/><stop offset="1" stop-color="#ffffff"/></linearGradient>
<linearGradient id="g198" x1="0" y1="0" x2="0" y2="1"><stop offset="0" stop-color="#7d0000"/><stop offset=".17" stop-color="#b00000"/><stop offset=".257" stop-color="#d30000"/><stop offset=".345" stop-color="#fe0000"/><stop offset=".354" stop-color="#ff0400"/><stop offset=".442" stop-color="#ff3900"/><stop offset=".519" stop-color="#ff7600"/><stop offset=".568" stop-color="#ffb200"/><stop offset=".617" stop-color="#fffe00"/><stop offset=".646" stop-color="#ffff49"/><stop offset=".675" stop-color="#ffffa0"/><stop offset=".714" stop-color="#ffffff"/><stop offset="1" stop-color="#ffffff"/></linearGradient>
<linearGradient id="g199" x1="0" y1="0" x2="0" y2="1"><stop offset="0" stop-color="#7c0000"/><stop offset=".083" stop-color="#920000"/><stop offset=".18" stop-color="#b20000"/><stop offset=".354" stop-color="#ff0200"/><stop offset=".442" stop-color="#ff3700"/><stop offset=".519" stop-color="#ff7300"/><stop offset=".568" stop-color="#ffad00"/><stop offset=".617" stop-color="#fff700"/><stop offset=".626" stop-color="#ffff0b"/><stop offset=".655" stop-color="#ffff56"/><stop offset=".675" stop-color="#ffff8f"/><stop offset=".714" stop-color="#fffff0"/><stop offset=".723" stop-color="#ffffff"/><stop offset="1" stop-color="#ffffff"/></linearGradient>
<linearGradient id="g200" x1="0" y1="0" x2="0" y2="1"><stop offset="0" stop-color="#7b0000"/><stop offset=".083" stop-color="#910000"/><stop offset=".18" stop-color="#b10000"/><stop offset=".267" stop-color="#d50000"/><stop offset=".354" stop-color="#ff0100"/><stop offset=".442" stop-color="#ff3400"/><stop offset=".519" stop-color="#ff6f00"/><stop offset=".568" stop-color="#ffa800"/><stop offset=".626" stop-color="#fffe00"/><stop offset=".646" stop-color="#ffff2e"/><stop offset=".675" stop-color="#ffff7e"/><stop offset=".704" stop-color="#ffffc1"/><stop offset=".723" stop-color="#fffff4"/><stop offset=".733" stop-color="#ffffff"/><stop offset="1" stop-color="#ffffff"/></linearGradient>
<linearGradient id="g201" x1="0" y1="0" x2="0" y2="1"><stop offset="0" stop-color="#7b0000"/><stop offset=".092" stop-color="#930000"/><stop offset=".189" stop-color="#b40000"/><stop offset=".277" stop-color="#d80000"/><stop offset=".354" stop-color="#fe0000"/><stop offset=".442" stop-color="#ff3200"/><stop offset=".519" stop-color="#ff6b00"/><stop offset=".568" stop-color="#ffa300"/><stop offset=".626" stop-color="#fff600"/><stop offset=".636" stop-color="#ffff09"/><stop offset=".675" stop-color="#ffff6c"/><stop offset=".704" stop-color="#ffffac"/><stop offset=".733" stop-color="#fffff7"/><stop offset=".743" stop-color="#ffffff"/><stop offset="1" stop-color="#ffffff"/></linearGradient>
<linearGradient id="g202" x1="0" y1="0" x2="0" y2="1"><stop offset="0" stop-color="#7a0000"/><stop offset=".083" stop-color="#8f0000"/><stop offset=".18" stop-color="#af0000"/><stop offset=".364" stop-color="#ff0200"/><stop offset=".451" stop-color="#ff3600"/><stop offset=".519" stop-color="#ff6800"/><stop offset=".578" stop-color="#ffaa00"/><stop offset=".636" stop-color="#fffc00"/><stop offset=".646" stop-color="#ffff11"/><stop offset=".675" stop-color="#ffff5a"/><stop offset=".714" stop-color="#ffffac"/><stop offset=".743" stop-color="#fffff8"/><stop offset=".752" stop-color="#ffffff"/><stop offset="1" stop-color="#ffffff"/></linearGradient>
<linearGradient id="g203" x1="0" y1="0" x2="0" y2="1"><stop offset="0" stop-color="#790000"/><stop offset=".092" stop-color="#910000"/><stop offset=".189" stop-color="#b10000"/><stop offset=".277" stop-color="#d50000"/><stop offset=".364" stop-color="#ff0100"/><stop offset=".451" stop-color="#ff3300"/><stop offset=".519" stop-color="#ff6400"/><stop offset=".578" stop-color="#ffa400"/><stop offset=".636" stop-color="#fff300"/><stop offset=".646" stop-color="#ffff03"/><stop offset=".675" stop-color="#ffff48"/><stop offset=".704" stop-color="#ffff80"/><stop offset=".723" stop-color="#ffffab"/><stop offset=".752" stop-color="#fffff7"/><stop offset=".762" stop-color="#ffffff"/><stop offset="1" stop-color="#ffffff"/></linearGradient>
<linearGradient id="g204" x1="0" y1="0" x2="0" y2="1"><stop offset="0" stop-color="#780000"/><stop offset=".092" stop-color="#900000"/><stop offset=".189" stop-color="#b00000"/><stop offset=".277" stop-color="#d30000"/><stop offset=".364" stop-color="#fe0000"/><stop offset=".442" stop-color="#ff2b00"/><stop offset=".519" stop-color="#ff6000"/><stop offset=".578" stop-color="#ff9f00"/><stop offset=".646" stop-color="#fff700"/><stop offset=".655" stop-color="#ffff09"/><stop offset=".675" stop-color="#ffff36"/><stop offset=".714" stop-color="#ffff7d"/><stop offset=".743" stop-color="#ffffbf"/><stop offset=".762" stop-color="#fffff4"/><stop offset=".772" stop-color="#ffffff"/><stop offset="1" stop-color="#ffffff"/></linearGradient>
<linearGradient id="g205" x1="0" y1="0" x2="0" y2="1"><stop offset="0" stop-color="#770000"/><stop offset=".092" stop-color="#8f0000"/><stop offset=".189" stop-color="#af0000"/><stop offset=".374" stop-color="#ff0200"/><stop offset=".451" stop-color="#ff2f00"/><stop offset=".519" stop-color="#ff5d00"/><stop offset=".578" stop-color="#ff9900"/><stop offset=".655" stop-color="#fffa00"/><stop offset=".665" stop-color="#ffff0d"/><stop offset=".675" stop-color="#ffff23"/><stop offset=".723" stop-color="#ffff78"/><stop offset=".752" stop-color="#ffffba"/><stop offset=".772" stop-color="#ffffef"/><stop offset=".782" stop-color="#ffffff"/><stop offset="1" stop-color="#ffffff"/></linearGradient>
<linearGradient id="g206" x1="0" y1="0" x2="0" y2="1"><stop offset="0" stop-color="#760000"/><stop offset=".092" stop-color="#8e0000"/><stop offset=".189" stop-color="#ae0000"/><stop offset=".277" stop-color="#d10000"/><stop offset=".374" stop-color="#ff0100"/><stop offset=".451" stop-color="#ff2c00"/><stop offset=".519" stop-color="#ff5900"/><stop offset=".578" stop-color="#ff9300"/><stop offset=".665" stop-color="#fffc00"/><stop offset=".704" stop-color="#ffff3c"/><stop offset=".733" stop-color="#ffff71"/><stop offset=".762" stop-color="#ffffb2"/><stop offset=".791" stop-color="#ffffff"/><stop offset="1" stop-color="#ffffff"/></linearGradient>
<linearGradient id="g207" x1="0" y1="0" x2="0" y2="1"><stop offset="0" stop-color="#750000"/><stop offset=".092" stop-color="#8d0000"/><stop offset=".189" stop-color="#ad0000"/><stop offset=".286" stop-color="#d40000"/><stop offset=".374" stop-color="#fe0000"/><stop offset=".442" stop-color="#ff2400"/><stop offset=".519" stop-color="#ff5600"/><stop offset=".578" stop-color="#ff8e00"/><stop offset=".675" stop-color="#fffe00"/><stop offset=".714" stop-color="#ffff34"/><stop offset=".743" stop-color="#ffff67"/><stop offset=".772" stop-color="#ffffa8"/><stop offset=".801" stop-color="#fffffc"/><stop offset="1" stop-color="#ffffff"/></linearGradient>
<linearGradient id="g208" x1="0" y1="0" x2="0" y2="1"><stop offset="0" stop-color="#740000"/><stop offset=".092" stop-color="#8c0000"/><stop offset=".189" stop-color="#ab0000"/><stop offset=".383" stop-color="#ff0200"/><stop offset=".519" stop-color="#ff5200"/><stop offset=".578" stop-color="#ff8800"/><stop offset=".675" stop-color="#fff100"/><stop offset=".694" stop-color="#ffff02"/><stop offset=".733" stop-color="#ffff39"/><stop offset=".762" stop-color="#ffff6f"/><stop offset=".782" stop-color="#ffff9c"/><stop offset=".801" stop-color="#ffffd3"/><stop offset=".811" stop-color="#ffffff"/><stop offset="1" stop-color="#ffffff"/></linearGradient>
<linearGradient id="g209" x1="0" y1="0" x2="0" y2="1"><stop offset="0" stop-color="#730000"/><stop offset=".092" stop-color="#8b0000"/><stop offset=".199" stop-color="#ae0000"/><stop offset=".286" stop-color="#d10000"/><stop offset=".383" stop-color="#ff0000"/><stop offset=".519" stop-color="#ff4f00"/><stop offset=".578" stop-color="#ff8300"/><stop offset=".675" stop-color="#ffe500"/><stop offset=".704" stop-color="#fffa00"/><stop offset=".714" stop-color="#ffff03"/><stop offset=".733" stop-color="#ffff1d"/><stop offset=".752" stop-color="#ffff3c"/><stop offset=".772" stop-color="#ffff61"/><stop offset=".801" stop-color="#ffffa8"/><stop offset=".82" stop-color="#ffffff"/><stop offset="1" stop-color="#ffffff"/></linearGradient>
<linearGradient id="g210" x1="0" y1="0" x2="0" y2="1"><stop offset="0" stop-color="#730000"/><stop offset=".092" stop-color="#8a0000"/><stop offset=".199" stop-color="#ad0000"/><stop offset=".286" stop-color="#d00000"/><stop offset=".383" stop-color="#fe0000"/><stop offset=".519" stop-color="#ff4b00"/><stop offset=".675" stop-color="#ffd900"/><stop offset=".733" stop-color="#ffff02"/><stop offset=".772" stop-color="#ffff3d"/><stop offset=".801" stop-color="#ffff7e"/><stop offset=".811" stop-color="#ffffa9"/><stop offset=".82" stop-color="#ffffdb"/><stop offset=".83" stop-color="#ffffff"/><stop offset="1" stop-color="#ffffff"/></linearGradient>
<linearGradient id="g211" x1="0" y1="0" x2="0" y2="1"><stop offset="0" stop-color="#720000"/><stop offset=".092" stop-color="#890000"/><stop offset=".189" stop-color="#a80000"/><stop offset=".277" stop-color="#ca0000"/><stop offset=".393" stop-color="#ff0200"/><stop offset=".519" stop-color="#ff4800"/><stop offset=".675" stop-color="#ffcd00"/><stop offset=".723" stop-color="#ffe700"/><stop offset=".752" stop-color="#fffd00"/><stop offset=".772" stop-color="#ffff1a"/><stop offset=".801" stop-color="#ffff53"/><stop offset=".811" stop-color="#ffff7b"/><stop offset=".83" stop-color="#ffffde"/><stop offset=".84" stop-color="#ffffff"/><stop offset="1" stop-color="#ffffff"/></linearGradient>
<linearGradient id="g212" x1="0" y1="0" x2="0" y2="1"><stop offset="0" stop-color="#710000"/><stop offset=".092" stop-color="#880000"/><stop offset=".199" stop-color="#ab0000"/><stop offset=".286" stop-color="#cd0000"/><stop offset=".393" stop-color="#ff0100"/><stop offset=".519" stop-color="#ff4500"/><stop offset=".675" stop-color="#ffc100"/><stop offset=".733" stop-color="#ffdc00"/><stop offset=".772" stop-color="#fff900"/><stop offset=".782" stop-color="#ffff05"/><stop offset=".801" stop-color="#ffff29"/><stop offset=".811" stop-color="#ffff4d"/><stop offset=".82" stop-color="#ffff79"/><stop offset=".84" stop-color="#ffffdf"/><stop offset=".85" stop-color="#ffffff"/><stop offset="1" stop-color="#ffffff"/></linearGradient>
<linearGradient id="g213" x1="0" y1="0" x2="0" y2="1"><stop offset="0" stop-color="#700000"/><stop offset=".092" stop-color="#870000"/><stop offset=".199" stop-color="#aa0000"/><stop offset=".296" stop-color="#d00000"/><stop offset=".393" stop-color="#fe0000"/><stop offset=".519" stop-color="#ff4200"/><stop offset=".617" stop-color="#ff8f00"/><stop offset=".675" stop-color="#ffb600"/><stop offset=".752" stop-color="#ffd400"/><stop offset=".782" stop-color="#ffe900"/><stop offset=".801" stop-color="#fffe00"/><stop offset=".811" stop-color="#ffff1f"/><stop offset=".82" stop-color="#ffff47"/><stop offset=".84" stop-color="#ffffa6"/><stop offset=".85" stop-color="#ffffde"/><stop offset=".859" stop-color="#ffffff"/><stop offset="1" stop-color="#ffffff"/></linearGradient>
<linearGradient id="g214" x1="0" y1="0" x2="0" y2="1"><stop offset="0" stop-color="#6f0000"/><stop offset=".092" stop-color="#860000"/><stop offset=".199" stop-color="#a90000"/><stop offset=".403" stop-color="#ff0200"/><stop offset=".519" stop-color="#ff3f00"/><stop offset=".617" stop-color="#ff8900"/><stop offset=".675" stop-color="#ffab00"/><stop offset=".733" stop-color="#ffb900"/><stop offset=".772" stop-color="#ffca00"/><stop offset=".801" stop-color="#ffe100"/><stop offset=".811" stop-color="#fff500"/><stop offset=".82" stop-color="#ffff16"/><stop offset=".83" stop-color="#ffff3f"/><stop offset=".84" stop-color="#ffff6d"/><stop offset=".85" stop-color="#ffffa1"/><stop offset=".859" stop-color="#ffffdc"/><stop offset=".869" stop-color="#ffffff"/><stop offset="1" stop-color="#ffffff"/></linearGradient>
<linearGradient id="g215" x1="0" y1="0" x2="0" y2="1"><stop offset="0" stop-color="#6f0000"/><stop offset=".092" stop-color="#850000"/><stop offset=".199" stop-color="#a80000"/><stop offset=".286" stop-color="#ca0000"/><stop offset=".403" stop-color="#ff0100"/><stop offset=".519" stop-color="#ff3d00"/><stop offset=".617" stop-color="#ff8300"/><stop offset=".675" stop-color="#ffa100"/><stop offset=".743" stop-color="#ffaa00"/><stop offset=".782" stop-color="#ffb800"/><stop offset=".801" stop-color="#ffc500"/><stop offset=".82" stop-color="#ffed00"/><stop offset=".83" stop-color="#ffff0a"/><stop offset=".84" stop-color="#ffff34"/><stop offset=".85" stop-color="#ffff64"/><stop offset=".859" stop-color="#ffff9b"/><stop offset=".869" stop-color="#ffffcc"/><stop offset=".879" stop-color="#fffff4"/><stop offset=".888" stop-color="#ffffff"/><stop offset="1" stop-color="#ffffff"/></linearGradient>
<linearGradient id="g216" x1="0" y1="0" x2="0" y2="1"><stop offset="0" stop-color="#6e0000"/><stop offset=".092" stop-color="#850000"/><stop offset=".199" stop-color="#a70000"/><stop offset=".296" stop-color="#cd0000"/><stop offset=".403" stop-color="#fe0000"/><stop offset=".519" stop-color="#ff3a00"/><stop offset=".617" stop-color="#ff7d00"/><stop offset=".665" stop-color="#ff9300"/><stop offset=".675" stop-color="#ff9700"/><stop offset=".752" stop-color="#ff9900"/><stop offset=".791" stop-color="#ffa400"/><stop offset=".801" stop-color="#ffaa00"/><stop offset=".811" stop-color="#ffb900"/><stop offset=".83" stop-color="#ffe200"/><stop offset=".84" stop-color="#fffc00"/><stop offset=".85" stop-color="#ffff27"/><stop offset=".869" stop-color="#ffff88"/><stop offset=".879" stop-color="#ffffaf"/><stop offset=".888" stop-color="#ffffdc"/><stop offset=".898" stop-color="#ffffff"/><stop offset="1" stop-color="#ffffff"/></linearGradient>
<linearGradient id="g217" x1="0" y1="0" x2="0" y2="1"><stop offset="0" stop-color="#6d0000"/><stop offset=".092" stop-color="#840000"/><stop offset=".199" stop-color="#a60000"/><stop offset=".413" stop-color="#ff0300"/><stop offset=".519" stop-color="#ff3800"/><stop offset=".617" stop-color="#ff7800"/><stop offset=".655" stop-color="#ff8700"/><stop offset=".675" stop-color="#ff8e00"/><stop offset=".762" stop-color="#ff8600"/><stop offset=".801" stop-color="#ff8e00"/><stop offset=".811" stop-color="#ff9b00"/><stop offset=".83" stop-color="#ffbf00"/><stop offset=".85" stop-color="#fff100"/><stop offset=".859" stop-color="#ffff1a"/><stop offset=".879" stop-color="#ffff69"/><stop offset=".888" stop-color="#ffff95"/><stop offset=".908" stop-color="#ffffff"/><stop offset="1" stop-color="#ffffff"/></linearGradient>
<linearGradient id="g218" x1="0" y1="0" x2="0" y2="1"><stop offset="0" stop-color="#6c0000"/><stop offset=".092" stop-color="#830000"/><stop offset=".199" stop-color="#a50000"/><stop offset=".413" stop-color="#ff0100"/><stop offset=".519" stop-color="#ff3500"/><stop offset=".617" stop-color="#ff7300"/><stop offset=".655" stop-color="#ff8000"/><stop offset=".675" stop-color="#ff8500"/><stop offset=".762" stop-color="#ff7300"/><stop offset=".801" stop-color="#ff7400"/><stop offset=".811" stop-color="#ff7e00"/><stop offset=".83" stop-color="#ff9c00"/><stop offset=".85" stop-color="#ffc800"/><stop offset=".869" stop-color="#ffff00"/><stop offset=".879" stop-color="#ffff24"/><stop offset=".888" stop-color="#ffff4f"/><stop offset=".898" stop-color="#ffff81"/><stop offset=".908" stop-color="#ffffba"/><stop offset=".917" stop-color="#fffffc"/><stop offset="1" stop-color="#ffffff"/></linearGradient>
<linearGradient id="g219" x1="0" y1="0" x2="0" y2="1"><stop offset="0" stop-color="#6c0000"/><stop offset=".092" stop-color="#820000"/><stop offset=".199" stop-color="#a40000"/><stop offset=".296" stop-color="#ca0000"/><stop offset=".413" stop-color="#ff0000"/><stop offset=".519" stop-color="#ff3300"/><stop offset=".607" stop-color="#ff6900"/><stop offset=".655" stop-color="#ff7900"/><stop offset=".684" stop-color="#ff7b00"/><stop offset=".772" stop-color="#ff5d00"/><stop offset=".801" stop-color="#ff5900"/><stop offset=".82" stop-color="#ff6c00"/><stop offset=".84" stop-color="#ff8b00"/><stop offset=".879" stop-color="#ffe900"/><stop offset=".888" stop-color="#ffff09"/><stop offset=".898" stop-color="#ffff3a"/><stop offset=".908" stop-color="#ffff74"/><stop offset=".917" stop-color="#ffffb5"/><stop offset=".927" stop-color="#ffffff"/><stop offset="1" stop-color="#ffffff"/></linearGradient>
<linearGradient id="g220" x1="0" y1="0" x2="0" y2="1"><stop offset="0" stop-color="#6b0000"/><stop offset=".092" stop-color="#810000"/><stop offset=".199" stop-color="#a30000"/><stop offset=".296" stop-color="#c90000"/><stop offset=".413" stop-color="#fe0000"/><stop offset=".519" stop-color="#ff3100"/><stop offset=".607" stop-color="#ff6600"/><stop offset=".655" stop-color="#ff7300"/><stop offset=".684" stop-color="#ff7300"/><stop offset=".801" stop-color="#ff4000"/><stop offset=".811" stop-color="#ff4500"/><stop offset=".83" stop-color="#ff5700"/><stop offset=".85" stop-color="#ff7800"/><stop offset=".879" stop-color="#ffbc00"/><stop offset=".898" stop-color="#fff800"/><stop offset=".908" stop-color="#ffff2e"/><stop offset=".917" stop-color="#ffff70"/><stop offset=".937" stop-color="#ffffff"/><stop offset="1" stop-color="#ffffff"/></linearGradient>
<linearGradient id="g221" x1="0" y1="0" x2="0" y2="1"><stop offset="0" stop-color="#6a0000"/><stop offset=".092" stop-color="#810000"/><stop offset=".199" stop-color="#a20000"/><stop offset=".296" stop-color="#c80000"/><stop offset=".413" stop-color="#fd0000"/><stop offset=".519" stop-color="#ff3000"/><stop offset=".607" stop-color="#ff6200"/><stop offset=".665" stop-color="#ff6e00"/><stop offset=".675" stop-color="#ff6f00"/><stop offset=".704" stop-color="#ff6200"/><stop offset=".801" stop-color="#ff2700"/><stop offset=".811" stop-color="#ff2900"/><stop offset=".83" stop-color="#ff3600"/><stop offset=".85" stop-color="#ff5000"/><stop offset=".879" stop-color="#ff8f00"/><stop offset=".898" stop-color="#ffca00"/><stop offset=".908" stop-color="#fff100"/><stop offset=".917" stop-color="#ffff2d"/><stop offset=".927" stop-color="#ffff78"/><stop offset=".937" stop-color="#ffffcb"/><stop offset=".947" stop-color="#ffffff"/><stop offset="1" stop-color="#ffffff"/></linearGradient>
<linearGradient id="g222" x1="0" y1="0" x2="0" y2="1"><stop offset="0" stop-color="#6a0000"/><stop offset=".092" stop-color="#800000"/><stop offset=".199" stop-color="#a20000"/><stop offset=".286" stop-color="#c30000"/><stop offset=".422" stop-color="#ff0100"/><stop offset=".519" stop-color="#ff2e00"/><stop offset=".607" stop-color="#ff5f00"/><stop offset=".665" stop-color="#ff6900"/><stop offset=".684" stop-color="#ff6500"/><stop offset=".714" stop-color="#ff5400"/><stop offset=".801" stop-color="#ff1000"/><stop offset=".82" stop-color="#ff1000"/><stop offset=".84" stop-color="#ff1c00"/><stop offset=".85" stop-color="#ff2900"/><stop offset=".879" stop-color="#ff6200"/><stop offset=".888" stop-color="#ff7d00"/><stop offset=".898" stop-color="#ff9e00"/><stop offset=".917" stop-color="#fff200"/><stop offset=".927" stop-color="#ffff39"/><stop offset=".937" stop-color="#ffff8e"/><stop offset=".947" stop-color="#ffffeb"/><stop offset=".956" stop-color="#ffffff"/><stop offset="1" stop-color="#ffffff"/></linearGradient>
<linearGradient id="g223" x1="0" y1="0" x2="0" y2="1"><stop offset="0" stop-color="#690000"/><stop offset=".102" stop-color="#820000"/><stop offset=".209" stop-color="#a40000"/><stop offset=".296" stop-color="#c60000"/><stop offset=".422" stop-color="#ff0000"/><stop offset=".519" stop-color="#ff2d00"/><stop offset=".607" stop-color="#ff5c00"/><stop offset=".655" stop-color="#ff6400"/><stop offset=".675" stop-color="#ff6300"/><stop offset=".714" stop-color="#ff4c00"/><stop offset=".743" stop-color="#ff3400"/><stop offset=".791" stop-color="#ff0300"/><stop offset=".82" stop-color="#f20000"/><stop offset=".83" stop-color="#f30000"/><stop offset=".85" stop-color="#ff0100"/><stop offset=".869" stop-color="#ff2200"/><stop offset=".879" stop-color="#ff3600"/><stop offset=".888" stop-color="#ff5200"/><stop offset=".898" stop-color="#ff7300"/><stop offset=".908" stop-color="#ff9b00"/><stop offset=".927" stop-color="#fffe00"/><stop offset=".937" stop-color="#ffff54"/><stop offset=".947" stop-color="#ffffb4"/><stop offset=".956" stop-color="#ffffff"/><stop offset="1" stop-color="#ffffff"/></linearGradient>
<linearGradient id="g224" x1="0" y1="0" x2="0" y2="1"><stop offset="0" stop-color="#680000"/><stop offset=".102" stop-color="#810000"/><stop offset=".209" stop-color="#a30000"/><stop offset=".306" stop-color="#ca0000"/><stop offset=".422" stop-color="#fe0000"/><stop offset=".519" stop-color="#ff2b00"/><stop offset=".607" stop-color="#ff5a00"/><stop offset=".646" stop-color="#ff6100"/><stop offset=".675" stop-color="#ff5f00"/><stop offset=".704" stop-color="#ff4d00"/><stop offset=".733" stop-color="#ff3400"/><stop offset=".782" stop-color="#fc0000"/><stop offset=".801" stop-color="#e40000"/><stop offset=".83" stop-color="#d40000"/><stop offset=".85" stop-color="#d90000"/><stop offset=".869" stop-color="#f50000"/><stop offset=".879" stop-color="#ff0b00"/><stop offset=".888" stop-color="#ff2700"/><stop offset=".898" stop-color="#ff4a00"/><stop offset=".908" stop-color="#ff7400"/><stop offset=".927" stop-color="#ffd900"/><stop offset=".937" stop-color="#ffff20"/><stop offset=".947" stop-color="#ffff81"/><stop offset=".956" stop-color="#ffffea"/><stop offset=".966" stop-color="#ffffff"/><stop offset="1" stop-color="#ffffff"/></linearGradient>
<linearGradient id="g225" x1="0" y1="0" x2="0" y2="1"><stop offset="0" stop-color="#680000"/><stop offset=".102" stop-color="#800000"/><stop offset=".209" stop-color="#a30000"/><stop offset=".306" stop-color="#c90000"/><stop offset=".422" stop-color="#fd0000"/><stop offset=".519" stop-color="#ff2a00"/><stop offset=".607" stop-color="#ff5800"/><stop offset=".646" stop-color="#ff5e00"/><stop offset=".675" stop-color="#ff5b00"/><stop offset=".694" stop-color="#ff4f00"/><stop offset=".723" stop-color="#ff3600"/><stop offset=".772" stop-color="#fc0000"/><stop offset=".801" stop-color="#d10000"/><stop offset=".82" stop-color="#bd0000"/><stop offset=".84" stop-color="#b10000"/><stop offset=".85" stop-color="#b30000"/><stop offset=".859" stop-color="#bb0000"/><stop offset=".869" stop-color="#cb0000"/><stop offset=".879" stop-color="#e00000"/><stop offset=".888" stop-color="#fe0000"/><stop offset=".898" stop-color="#ff2400"/><stop offset=".908" stop-color="#ff5000"/><stop offset=".917" stop-color="#ff8100"/><stop offset=".937" stop-color="#fff500"/><stop offset=".947" stop-color="#ffff54"/><stop offset=".956" stop-color="#ffffbf"/><stop offset=".966" stop-color="#ffffff"/><stop offset="1" stop-color="#ffffff"/></linearGradient>
<linearGradient id="g226" x1="0" y1="0" x2="0" y2="1"><stop offset="0" stop-color="#670000"/><stop offset=".092" stop-color="#7d0000"/><stop offset=".199" stop-color="#9f0000"/><stop offset=".432" stop-color="#ff0200"/><stop offset=".519" stop-color="#ff2900"/><stop offset=".607" stop-color="#ff5700"/><stop offset=".646" stop-color="#ff5c00"/><stop offset=".675" stop-color="#ff5800"/><stop offset=".694" stop-color="#ff4b00"/><stop offset=".733" stop-color="#ff2600"/><stop offset=".762" stop-color="#ff0100"/><stop offset=".82" stop-color="#a60000"/><stop offset=".84" stop-color="#900000"/><stop offset=".85" stop-color="#8c0000"/><stop offset=".859" stop-color="#920000"/><stop offset=".869" stop-color="#a00000"/><stop offset=".879" stop-color="#b80000"/><stop offset=".888" stop-color="#d80000"/><stop offset=".898" stop-color="#ff0100"/><stop offset=".917" stop-color="#ff6300"/><stop offset=".937" stop-color="#ffdb00"/><stop offset=".947" stop-color="#ffff2e"/><stop offset=".956" stop-color="#ffff9b"/><stop offset=".966" stop-color="#ffffff"/><stop offset="1" stop-color="#ffffff"/></linearGradient>
<linearGradient id="g227" x1="0" y1="0" x2="0" y2="1"><stop offset="0" stop-color="#660000"/><stop offset=".092" stop-color="#7c0000"/><stop offset=".199" stop-color="#9e0000"/><stop offset=".286" stop-color="#bf0000"/><stop offset=".432" stop-color="#ff0200"/><stop offset=".607" stop-color="#ff5600"/><stop offset=".636" stop-color="#ff5a00"/><stop offset=".665" stop-color="#ff5800"/><stop offset=".684" stop-color="#ff5000"/><stop offset=".723" stop-color="#ff2d00"/><stop offset=".752" stop-color="#ff0900"/><stop offset=".762" stop-color="#f90000"/><stop offset=".772" stop-color="#ea0000"/><stop offset=".84" stop-color="#710000"/><stop offset=".85" stop-color="#670000"/><stop offset=".859" stop-color="#680000"/><stop offset=".869" stop-color="#770000"/><stop offset=".879" stop-color="#920000"/><stop offset=".888" stop-color="#b60000"/><stop offset=".898" stop-color="#e20000"/><stop offset=".908" stop-color="#ff1400"/><stop offset=".917" stop-color="#ff4b00"/><stop offset=".937" stop-color="#ffc500"/><stop offset=".947" stop-color="#ffff10"/><stop offset=".956" stop-color="#ffff7e"/><stop offset=".966" stop-color="#fffff4"/><stop offset=".976" stop-color="#ffffff"/><stop offset="1" stop-color="#ffffff"/></linearGradient>
<linearGradient id="g228" x1="0" y1="0" x2="0" y2="1"><stop offset="0" stop-color="#660000"/><stop offset=".102" stop-color="#7e0000"/><stop offset=".209" stop-color="#a10000"/><stop offset=".432" stop-color="#ff0100"/><stop offset=".607" stop-color="#ff5500"/><stop offset=".636" stop-color="#ff5a00"/><stop offset=".665" stop-color="#ff5700"/><stop offset=".684" stop-color="#ff4e00"/><stop offset=".723" stop-color="#ff2b00"/><stop offset=".752" stop-color="#ff0500"/><stop offset=".762" stop-color="#f50000"/><stop offset=".782" stop-color="#d30000"/><stop offset=".85" stop-color="#440000"/><stop offset=".859" stop-color="#3f0000"/><stop offset=".869" stop-color="#510000"/><stop offset=".879" stop-color="#720000"/><stop offset=".888" stop-color="#9c0000"/><stop offset=".908" stop-color="#ff0000"/><stop offset=".927" stop-color="#ff7500"/><stop offset=".947" stop-color="#fffb00"/><stop offset=".956" stop-color="#ffff6a"/><stop offset=".966" stop-color="#ffffe0"/><stop offset=".976" stop-color="#ffffff"/><stop offset="1" stop-color="#ffffff"/></linearGradient>
<linearGradient id="g229" x1="0" y1="0" x2="0" y2="1"><stop offset="0" stop-color="#650000"/><stop offset=".102" stop-color="#7e0000"/><stop offset=".209" stop-color="#a00000"/><stop offset=".306" stop-color="#c60000"/><stop offset=".432" stop-color="#ff0000"/><stop offset=".607" stop-color="#ff5500"/><stop offset=".636" stop-color="#ff5900"/><stop offset=".665" stop-color="#ff5700"/><stop offset=".684" stop-color="#ff4e00"/><stop offset=".723" stop-color="#ff2a00"/><stop offset=".752" stop-color="#ff0400"/><stop offset=".772" stop-color="#e30000"/><stop offset=".811" stop-color="#930000"/><stop offset=".83" stop-color="#630000"/><stop offset=".85" stop-color="#280000"/><stop offset=".859" stop-color="#160000"/><stop offset=".869" stop-color="#330000"/><stop offset=".879" stop-color="#5d0000"/><stop offset=".888" stop-color="#8c0000"/><stop offset=".908" stop-color="#f40000"/><stop offset=".917" stop-color="#ff2f00"/><stop offset=".937" stop-color="#ffad00"/><stop offset=".947" stop-color="#fff300"/><stop offset=".956" stop-color="#ffff5e"/><stop offset=".966" stop-color="#ffffd4"/><stop offset=".976" stop-color="#ffffff"/><stop offset="1" stop-color="#ffffff"/></linearGradient>
<linearGradient id="g230" x1="0" y1="0" x2="0" y2="1"><stop offset="0" stop-color="#640000"/><stop offset=".102" stop-color="#7d0000"/><stop offset=".209" stop-color="#9f0000"/><stop offset=".306" stop-color="#c60000"/><stop offset=".432" stop-color="#ff0000"/><stop offset=".519" stop-color="#ff2800"/><stop offset=".607" stop-color="#ff5500"/><stop offset=".636" stop-color="#ff5a00"/><stop offset=".665" stop-color="#ff5700"/><stop offset=".684" stop-color="#ff4e00"/><stop offset=".723" stop-color="#ff2a00"/><stop offset=".752" stop-color="#ff0400"/><stop offset=".772" stop-color="#e30000"/><stop offset=".811" stop-color="#930000"/><stop offset=".83" stop-color="#630000"/><stop offset=".85" stop-color="#270000"/><stop offset=".859" stop-color="#130000"/><stop offset=".869" stop-color="#310000"/><stop offset=".879" stop-color="#5c0000"/><stop offset=".898" stop-color="#bd0000"/><stop offset=".908" stop-color="#f30000"/><stop offset=".917" stop-color="#ff2e00"/><stop offset=".937" stop-color="#ffad00"/><stop offset=".947" stop-color="#fff200"/><stop offset=".956" stop-color="#ffff5d"/><stop offset=".966" stop-color="#ffffd3"/><stop offset=".976" stop-color="#ffffff"/><stop offset="1" stop-color="#ffffff"/></linearGradient>
<linearGradient id="g231" x1="0" y1="0" x2="0" y2="1"><stop offset="0" stop-color="#640000"/><stop offset=".102" stop-color="#7d0000"/><stop offset=".209" stop-color="#9f0000"/><stop offset=".306" stop-color="#c50000"/><stop offset=".432" stop-color="#ff0000"/><stop offset=".519" stop-color="#ff2700"/><stop offset=".607" stop-color="#ff5600"/><stop offset=".636" stop-color="#ff5a00"/><stop offset=".665" stop-color="#ff5700"/><stop offset=".684" stop-color="#ff4f00"/><stop offset=".723" stop-color="#ff2b00"/><stop offset=".752" stop-color="#ff0500"/><stop offset=".762" stop-color="#f50000"/><stop offset=".782" stop-color="#d40000"/><stop offset=".811" stop-color="#990000"/><stop offset=".85" stop-color="#410000"/><stop offset=".859" stop-color="#3b0000"/><stop offset=".869" stop-color="#4d0000"/><stop offset=".879" stop-color="#6f0000"/><stop offset=".888" stop-color="#990000"/><stop offset=".908" stop-color="#fd0000"/><stop offset=".917" stop-color="#ff3600"/><stop offset=".927" stop-color="#ff7300"/><stop offset=".947" stop-color="#fff900"/><stop offset=".956" stop-color="#ffff67"/><stop offset=".966" stop-color="#ffffdd"/><stop offset=".976" stop-color="#ffffff"/><stop offset="1" stop-color="#ffffff"/></linearGradient>
<linearGradient id="g232" x1="0" y1="0" x2="0" y2="1"><stop offset="0" stop-color="#630000"/><stop offset=".102" stop-color="#7c0000"/><stop offset=".209" stop-color="#9e0000"/><stop offset=".306" stop-color="#c40000"/><stop offset=".432" stop-color="#fe0000"/><stop offset=".519" stop-color="#ff2700"/><stop offset=".607" stop-color="#ff5600"/><stop offset=".636" stop-color="#ff5b00"/><stop offset=".665" stop-color="#ff5900"/><stop offset=".684" stop-color="#ff5000"/><stop offset=".723" stop-color="#ff2e00"/><stop offset=".752" stop-color="#ff0900"/><stop offset=".762" stop-color="#fa0000"/><stop offset=".772" stop-color="#ea0000"/><stop offset=".84" stop-color="#6e0000"/><stop offset=".85" stop-color="#630000"/><stop offset=".859" stop-color="#630000"/><stop offset=".869" stop-color="#710000"/><stop offset=".879" stop-color="#8c0000"/><stop offset=".888" stop-color="#b10000"/><stop offset=".898" stop-color="#dd0000"/><stop offset=".908" stop-color="#ff1000"/><stop offset=".917" stop-color="#ff4600"/><stop offset=".937" stop-color="#ffc100"/><stop offset=".947" stop-color="#ffff0a"/><stop offset=".956" stop-color="#ffff79"/><stop offset=".966" stop-color="#ffffee"/><stop offset=".976" stop-color="#ffffff"/><stop offset="1" stop-color="#ffffff"/></linearGradient>
<linearGradient id="g233" x1="0" y1="0" x2="0" y2="1"><stop offset="0" stop-color="#630000"/><stop offset=".092" stop-color="#790000"/><stop offset=".199" stop-color="#9a0000"/><stop offset=".296" stop-color="#c00000"/><stop offset=".432" stop-color="#fe0000"/><stop offset=".442" stop-color="#ff0400"/><stop offset=".519" stop-color="#ff2800"/><stop offset=".607" stop-color="#ff5700"/><stop offset=".646" stop-color="#ff5d00"/><stop offset=".675" stop-color="#ff5900"/><stop offset=".694" stop-color="#ff4c00"/><stop offset=".733" stop-color="#ff2700"/><stop offset=".762" stop-color="#ff0100"/><stop offset=".801" stop-color="#c00000"/><stop offset=".83" stop-color="#960000"/><stop offset=".85" stop-color="#870000"/><stop offset=".859" stop-color="#8b0000"/><stop offset=".869" stop-color="#990000"/><stop offset=".879" stop-color="#b00000"/><stop offset=".888" stop-color="#d10000"/><stop offset=".898" stop-color="#f90000"/><stop offset=".908" stop-color="#ff2900"/><stop offset=".917" stop-color="#ff5d00"/><stop offset=".937" stop-color="#ffd500"/><stop offset=".947" stop-color="#ffff26"/><stop offset=".966" stop-color="#ffffff"/><stop offset="1" stop-color="#ffffff"/></linearGradient>
<linearGradient id="g234" x1="0" y1="0" x2="0" y2="1"><stop offset="0" stop-color="#620000"/><stop offset=".102" stop-color="#7b0000"/><stop offset=".209" stop-color="#9d0000"/><stop offset=".306" stop-color="#c30000"/><stop offset=".432" stop-color="#fe0000"/><stop offset=".519" stop-color="#ff2800"/><stop offset=".607" stop-color="#ff5900"/><stop offset=".646" stop-color="#ff5f00"/><stop offset=".675" stop-color="#ff5c00"/><stop offset=".694" stop-color="#ff4f00"/><stop offset=".723" stop-color="#ff3700"/><stop offset=".762" stop-color="#ff0900"/><stop offset=".772" stop-color="#fb0000"/><stop offset=".801" stop-color="#cf0000"/><stop offset=".82" stop-color="#ba0000"/><stop offset=".84" stop-color="#ab0000"/><stop offset=".85" stop-color="#ab0000"/><stop offset=".859" stop-color="#b30000"/><stop offset=".869" stop-color="#c10000"/><stop offset=".879" stop-color="#d70000"/><stop offset=".888" stop-color="#f40000"/><stop offset=".898" stop-color="#ff1b00"/><stop offset=".908" stop-color="#ff4700"/><stop offset=".917" stop-color="#ff7900"/><stop offset=".937" stop-color="#ffed00"/><stop offset=".947" stop-color="#ffff48"/><stop offset=".956" stop-color="#ffffb3"/><stop offset=".966" stop-color="#ffffff"/><stop offset="1" stop-color="#ffffff"/></linearGradient>
<linearGradient id="g235" x1="0" y1="0" x2="0" y2="1"><stop offset="0" stop-color="#620000"/><stop offset=".102" stop-color="#7a0000"/><stop offset=".209" stop-color="#9c0000"/><stop offset=".306" stop-color="#c30000"/><stop offset=".432" stop-color="#fe0000"/><stop offset=".519" stop-color="#ff2800"/><stop offset=".607" stop-color="#ff5b00"/><stop offset=".646" stop-color="#ff6200"/><stop offset=".675" stop-color="#ff5f00"/><stop offset=".694" stop-color="#ff5400"/><stop offset=".733" stop-color="#ff3400"/><stop offset=".772" stop-color="#ff0700"/><stop offset=".782" stop-color="#fa0000"/><stop offset=".811" stop-color="#d90000"/><stop offset=".84" stop-color="#cd0000"/><stop offset=".85" stop-color="#d10000"/><stop offset=".859" stop-color="#db0000"/><stop offset=".879" stop-color="#ff0000"/><stop offset=".888" stop-color="#ff1c00"/><stop offset=".898" stop-color="#ff3f00"/><stop offset=".908" stop-color="#ff6900"/><stop offset=".927" stop-color="#ffce00"/><stop offset=".937" stop-color="#ffff10"/><stop offset=".947" stop-color="#ffff71"/><stop offset=".956" stop-color="#ffffdb"/><stop offset=".966" stop-color="#ffffff"/><stop offset="1" stop-color="#ffffff"/></linearGradient>
<linearGradient id="g236" x1="0" y1="0" x2="0" y2="1"><stop offset="0" stop-color="#610000"/><stop offset=".102" stop-color="#7a0000"/><stop offset=".209" stop-color="#9c0000"/><stop offset=".306" stop-color="#c30000"/><stop offset=".432" stop-color="#fe0000"/><stop offset=".519" stop-color="#ff2900"/><stop offset=".607" stop-color="#ff5d00"/><stop offset=".655" stop-color="#ff6500"/><stop offset=".675" stop-color="#ff6400"/><stop offset=".714" stop-color="#ff4c00"/><stop offset=".743" stop-color="#ff3300"/><stop offset=".791" stop-color="#ff0000"/><stop offset=".801" stop-color="#f40000"/><stop offset=".82" stop-color="#ec0000"/><stop offset=".84" stop-color="#ef0000"/><stop offset=".85" stop-color="#f60000"/><stop offset=".859" stop-color="#ff0500"/><stop offset=".869" stop-color="#ff1500"/><stop offset=".879" stop-color="#ff2900"/><stop offset=".888" stop-color="#ff4400"/><stop offset=".898" stop-color="#ff6600"/><stop offset=".908" stop-color="#ff8e00"/><stop offset=".927" stop-color="#fff000"/><stop offset=".937" stop-color="#ffff41"/><stop offset=".956" stop-color="#ffffff"/><stop offset="1" stop-color="#ffffff"/></linearGradient>
<linearGradient id="g237" x1="0" y1="0" x2="0" y2="1"><stop offset="0" stop-color="#600000"/><stop offset=".102" stop-color="#790000"/><stop offset=".209" stop-color="#9b0000"/><stop offset=".306" stop-color="#c20000"/><stop offset=".432" stop-color="#fe0000"/><stop offset=".519" stop-color="#ff2a00"/><stop offset=".607" stop-color="#ff6000"/><stop offset=".626" stop-color="#ff6600"/><stop offset=".665" stop-color="#ff6a00"/><stop offset=".684" stop-color="#ff6500"/><stop offset=".714" stop-color="#ff5400"/><stop offset=".801" stop-color="#ff0b00"/><stop offset=".82" stop-color="#ff0900"/><stop offset=".84" stop-color="#ff1200"/><stop offset=".85" stop-color="#ff1d00"/><stop offset=".879" stop-color="#ff5400"/><stop offset=".888" stop-color="#ff6e00"/><stop offset=".898" stop-color="#ff8f00"/><stop offset=".908" stop-color="#ffb600"/><stop offset=".917" stop-color="#ffe300"/><stop offset=".927" stop-color="#ffff22"/><stop offset=".937" stop-color="#ffff77"/><stop offset=".947" stop-color="#ffffd4"/><stop offset=".956" stop-color="#ffffff"/><stop offset="1" stop-color="#ffffff"/></linearGradient>
<linearGradient id="g238" x1="0" y1="0" x2="0" y2="1"><stop offset="0" stop-color="#600000"/><stop offset=".102" stop-color="#790000"/><stop offset=".209" stop-color="#9b0000"/><stop offset=".306" stop-color="#c20000"/><stop offset=".432" stop-color="#fe0000"/><stop offset=".519" stop-color="#ff2b00"/><stop offset=".617" stop-color="#ff6700"/><stop offset=".665" stop-color="#ff6f00"/><stop offset=".675" stop-color="#ff6f00"/><stop offset=".704" stop-color="#ff6200"/><stop offset=".791" stop-color="#ff2700"/><stop offset=".801" stop-color="#ff2100"/><stop offset=".811" stop-color="#ff2200"/><stop offset=".83" stop-color="#ff2c00"/><stop offset=".85" stop-color="#ff4300"/><stop offset=".879" stop-color="#ff7f00"/><stop offset=".888" stop-color="#ff9900"/><stop offset=".908" stop-color="#ffdf00"/><stop offset=".917" stop-color="#ffff12"/><stop offset=".927" stop-color="#ffff5d"/><stop offset=".947" stop-color="#ffffff"/><stop offset="1" stop-color="#ffffff"/></linearGradient>
<linearGradient id="g239" x1="0" y1="0" x2="0" y2="1"><stop offset="0" stop-color="#5f0000"/><stop offset=".102" stop-color="#780000"/><stop offset=".218" stop-color="#9e0000"/><stop offset=".316" stop-color="#c60000"/><stop offset=".432" stop-color="#fe0000"/><stop offset=".519" stop-color="#ff2c00"/><stop offset=".607" stop-color="#ff6600"/><stop offset=".655" stop-color="#ff7400"/><stop offset=".675" stop-color="#ff7600"/><stop offset=".694" stop-color="#ff6f00"/><stop offset=".801" stop-color="#ff3900"/><stop offset=".83" stop-color="#ff4c00"/><stop offset=".85" stop-color="#ff6a00"/><stop offset=".879" stop-color="#ffaa00"/><stop offset=".898" stop-color="#ffe500"/><stop offset=".908" stop-color="#ffff11"/><stop offset=".917" stop-color="#ffff52"/><stop offset=".927" stop-color="#ffff9c"/><stop offset=".937" stop-color="#ffffee"/><stop offset=".947" stop-color="#ffffff"/><stop offset="1" stop-color="#ffffff"/></linearGradient>
<linearGradient id="g240" x1="0" y1="0" x2="0" y2="1"><stop offset="0" stop-color="#5f0000"/><stop offset=".102" stop-color="#780000"/><stop offset=".218" stop-color="#9e0000"/><stop offset=".316" stop-color="#c60000"/><stop offset=".432" stop-color="#ff0000"/><stop offset=".519" stop-color="#ff2d00"/><stop offset=".617" stop-color="#ff6f00"/><stop offset=".655" stop-color="#ff7a00"/><stop offset=".684" stop-color="#ff7b00"/><stop offset=".772" stop-color="#ff5800"/><stop offset=".801" stop-color="#ff5100"/><stop offset=".82" stop-color="#ff6100"/><stop offset=".84" stop-color="#ff7d00"/><stop offset=".879" stop-color="#ffd600"/><stop offset=".888" stop-color="#fff100"/><stop offset=".898" stop-color="#ffff1b"/><stop offset=".908" stop-color="#ffff53"/><stop offset=".917" stop-color="#ffff94"/><stop offset=".927" stop-color="#ffffdd"/><stop offset=".937" stop-color="#ffffff"/><stop offset="1" stop-color="#ffffff"/></linearGradient>
<linearGradient id="g241" x1="0" y1="0" x2="0" y2="1"><stop offset="0" stop-color="#5e0000"/><stop offset=".102" stop-color="#770000"/><stop offset=".218" stop-color="#9d0000"/><stop offset=".316" stop-color="#c60000"/><stop offset=".432" stop-color="#ff0000"/><stop offset=".519" stop-color="#ff2f00"/><stop offset=".617" stop-color="#ff7400"/><stop offset=".646" stop-color="#ff7d00"/><stop offset=".675" stop-color="#ff8500"/><stop offset=".772" stop-color="#ff6b00"/><stop offset=".801" stop-color="#ff6a00"/><stop offset=".82" stop-color="#ff7f00"/><stop offset=".84" stop-color="#ffa100"/><stop offset=".869" stop-color="#ffeb00"/><stop offset=".879" stop-color="#ffff04"/><stop offset=".888" stop-color="#ffff2e"/><stop offset=".898" stop-color="#ffff5e"/><stop offset=".908" stop-color="#ffff97"/><stop offset=".917" stop-color="#ffffd8"/><stop offset=".927" stop-color="#ffffff"/><stop offset="1" stop-color="#ffffff"/></linearGradient>
<linearGradient id="g242" x1="0" y1="0" x2="0" y2="1"><stop offset="0" stop-color="#5e0000"/><stop offset=".102" stop-color="#770000"/><stop offset=".218" stop-color="#9d0000"/><stop offset=".316" stop-color="#c50000"/><stop offset=".432" stop-color="#ff0000"/><stop offset=".519" stop-color="#ff3000"/><stop offset=".617" stop-color="#ff7800"/><stop offset=".646" stop-color="#ff8400"/><stop offset=".675" stop-color="#ff8d00"/><stop offset=".762" stop-color="#ff8000"/><stop offset=".801" stop-color="#ff8400"/><stop offset=".811" stop-color="#ff8f00"/><stop offset=".83" stop-color="#ffb000"/><stop offset=".85" stop-color="#ffde00"/><stop offset=".859" stop-color="#fffc00"/><stop offset=".879" stop-color="#ffff47"/><stop offset=".888" stop-color="#ffff71"/><stop offset=".898" stop-color="#ffffa3"/><stop offset=".908" stop-color="#ffffdc"/><stop offset=".917" stop-color="#ffffff"/><stop offset="1" stop-color="#ffffff"/></linearGradient>
<linearGradient id="g243" x1="0" y1="0" x2="0" y2="1"><stop offset="0" stop-color="#5e0000"/><stop offset=".102" stop-color="#770000"/><stop offset=".218" stop-color="#9d0000"/><stop offset=".316" stop-color="#c60000"/><stop offset=".432" stop-color="#ff0100"/><stop offset=".519" stop-color="#ff3200"/><stop offset=".617" stop-color="#ff7e00"/><stop offset=".646" stop-color="#ff8b00"/><stop offset=".675" stop-color="#ff9600"/><stop offset=".762" stop-color="#ff9300"/><stop offset=".801" stop-color="#ff9e00"/><stop offset=".82" stop-color="#ffbd00"/><stop offset=".84" stop-color="#ffea00"/><stop offset=".85" stop-color="#ffff09"/><stop offset=".859" stop-color="#ffff3a"/><stop offset=".888" stop-color="#ffffb6"/><stop offset=".898" stop-color="#ffffe8"/><stop offset=".908" stop-color="#ffffff"/><stop offset="1" stop-color="#ffffff"/></linearGradient>
<linearGradient id="g244" x1="0" y1="0" x2="0" y2="1"><stop offset="0" stop-color="#5e0000"/><stop offset=".102" stop-color="#770000"/><stop offset=".209" stop-color="#9a0000"/><stop offset=".306" stop-color="#c20000"/><stop offset=".432" stop-color="#ff0200"/><stop offset=".519" stop-color="#ff3400"/><stop offset=".617" stop-color="#ff8300"/><stop offset=".646" stop-color="#ff9200"/><stop offset=".675" stop-color="#ffa000"/><stop offset=".752" stop-color="#ffa500"/><stop offset=".791" stop-color="#ffb300"/><stop offset=".801" stop-color="#ffb900"/><stop offset=".811" stop-color="#ffc900"/><stop offset=".83" stop-color="#fff400"/><stop offset=".84" stop-color="#ffff17"/><stop offset=".869" stop-color="#ffffa6"/><stop offset=".879" stop-color="#ffffcd"/><stop offset=".888" stop-color="#fffffb"/><stop offset=".898" stop-color="#ffffff"/><stop offset="1" stop-color="#ffffff"/></linearGradient>
<linearGradient id="g245" x1="0" y1="0" x2="0" y2="1"><stop offset="0" stop-color="#5e0000"/><stop offset=".102" stop-color="#770000"/><stop offset=".218" stop-color="#9d0000"/><stop offset=".316" stop-color="#c70000"/><stop offset=".422" stop-color="#fd0000"/><stop offset=".519" stop-color="#ff3600"/><stop offset=".617" stop-color="#ff8900"/><stop offset=".675" stop-color="#ffaa00"/><stop offset=".743" stop-color="#ffb500"/><stop offset=".782" stop-color="#ffc500"/><stop offset=".801" stop-color="#ffd400"/><stop offset=".82" stop-color="#fffd00"/><stop offset=".83" stop-color="#ffff23"/><stop offset=".84" stop-color="#ffff4e"/><stop offset=".869" stop-color="#ffffe8"/><stop offset=".879" stop-color="#ffffff"/><stop offset="1" stop-color="#ffffff"/></linearGradient>
<linearGradient id="g246" x1="0" y1="0" x2="0" y2="1"><stop offset="0" stop-color="#5e0000"/><stop offset=".102" stop-color="#770000"/><stop offset=".218" stop-color="#9e0000"/><stop offset=".316" stop-color="#c70000"/><stop offset=".422" stop-color="#fe0000"/><stop offset=".519" stop-color="#ff3900"/><stop offset=".617" stop-color="#ff8f00"/><stop offset=".675" stop-color="#ffb400"/><stop offset=".752" stop-color="#ffcb00"/><stop offset=".782" stop-color="#ffdd00"/><stop offset=".801" stop-color="#ffef00"/><stop offset=".811" stop-color="#ffff07"/><stop offset=".82" stop-color="#ffff2c"/><stop offset=".84" stop-color="#ffff85"/><stop offset=".85" stop-color="#ffffbb"/><stop offset=".859" stop-color="#fffff7"/><stop offset=".869" stop-color="#ffffff"/><stop offset="1" stop-color="#ffffff"/></linearGradient>
<linearGradient id="g247" x1="0" y1="0" x2="0" y2="1"><stop offset="0" stop-color="#5e0000"/><stop offset=".102" stop-color="#770000"/><stop offset=".218" stop-color="#9e0000"/><stop offset=".316" stop-color="#c70000"/><stop offset=".422" stop-color="#ff0000"/><stop offset=".519" stop-color="#ff3b00"/><stop offset=".617" stop-color="#ff9600"/><stop offset=".675" stop-color="#ffbf00"/><stop offset=".743" stop-color="#ffd900"/><stop offset=".772" stop-color="#ffed00"/><stop offset=".791" stop-color="#ffff00"/><stop offset=".801" stop-color="#ffff11"/><stop offset=".811" stop-color="#ffff33"/><stop offset=".82" stop-color="#ffff5c"/><stop offset=".84" stop-color="#ffffbd"/><stop offset=".85" stop-color="#fffff6"/><stop offset=".859" stop-color="#ffffff"/><stop offset="1" stop-color="#ffffff"/></linearGradient>
<linearGradient id="g248" x1="0" y1="0" x2="0" y2="1"><stop offset="0" stop-color="#5e0000"/><stop offset=".102" stop-color="#770000"/><stop offset=".218" stop-color="#9e0000"/><stop offset=".316" stop-color="#c80000"/><stop offset=".422" stop-color="#ff0100"/><stop offset=".519" stop-color="#ff3e00"/><stop offset=".568" stop-color="#ff6a00"/><stop offset=".617" stop-color="#ff9c00"/><stop offset=".675" stop-color="#ffca00"/><stop offset=".723" stop-color="#ffe000"/><stop offset=".762" stop-color="#fffb00"/><stop offset=".772" stop-color="#ffff07"/><stop offset=".801" stop-color="#ffff3b"/><stop offset=".811" stop-color="#ffff60"/><stop offset=".82" stop-color="#ffff8c"/><stop offset=".84" stop-color="#fffff4"/><stop offset=".85" stop-color="#ffffff"/><stop offset="1" stop-color="#ffffff"/></linearGradient>
<linearGradient id="g249" x1="0" y1="0" x2="0" y2="1"><stop offset="0" stop-color="#5e0000"/><stop offset=".102" stop-color="#770000"/><stop offset=".218" stop-color="#9e0000"/><stop offset=".306" stop-color="#c40000"/><stop offset=".422" stop-color="#ff0200"/><stop offset=".519" stop-color="#ff4000"/><stop offset=".568" stop-color="#ff6e00"/><stop offset=".617" stop-color="#ffa300"/><stop offset=".675" stop-color="#ffd500"/><stop offset=".743" stop-color="#ffff00"/><stop offset=".772" stop-color="#ffff2a"/><stop offset=".801" stop-color="#ffff64"/><stop offset=".811" stop-color="#ffff8c"/><stop offset=".83" stop-color="#fffff1"/><stop offset=".84" stop-color="#ffffff"/><stop offset="1" stop-color="#ffffff"/></linearGradient>
<linearGradient id="g250" x1="0" y1="0" x2="0" y2="1"><stop offset="0" stop-color="#5e0000"/><stop offset=".102" stop-color="#770000"/><stop offset=".209" stop-color="#9b0000"/><stop offset=".296" stop-color="#c00000"/><stop offset=".413" stop-color="#fd0000"/><stop offset=".422" stop-color="#ff0300"/><stop offset=".519" stop-color="#ff4300"/><stop offset=".568" stop-color="#ff7200"/><stop offset=".617" stop-color="#ffaa00"/><stop offset=".675" stop-color="#ffe100"/><stop offset=".714" stop-color="#fffa00"/><stop offset=".723" stop-color="#ffff04"/><stop offset=".743" stop-color="#ffff1d"/><stop offset=".762" stop-color="#ffff3b"/><stop offset=".782" stop-color="#ffff60"/><stop offset=".801" stop-color="#ffff8d"/><stop offset=".811" stop-color="#ffffb9"/><stop offset=".82" stop-color="#ffffec"/><stop offset=".83" stop-color="#ffffff"/><stop offset="1" stop-color="#ffffff"/></linearGradient>
<linearGradient id="g251" x1="0" y1="0" x2="0" y2="1"><stop offset="0" stop-color="#5e0000"/><stop offset=".112" stop-color="#7a0000"/><stop offset=".218" stop-color="#9f0000"/><stop offset=".316" stop-color="#c90000"/><stop offset=".413" stop-color="#fe0000"/><stop offset=".519" stop-color="#ff4600"/><stop offset=".568" stop-color="#ff7700"/><stop offset=".617" stop-color="#ffb100"/><stop offset=".675" stop-color="#ffed00"/><stop offset=".694" stop-color="#fffb00"/><stop offset=".704" stop-color="#ffff04"/><stop offset=".733" stop-color="#ffff2a"/><stop offset=".752" stop-color="#ffff4a"/><stop offset=".772" stop-color="#ffff6f"/><stop offset=".801" stop-color="#ffffb7"/><stop offset=".811" stop-color="#ffffe5"/><stop offset=".82" stop-color="#ffffff"/><stop offset="1" stop-color="#ffffff"/></linearGradient>
<linearGradient id="g252" x1="0" y1="0" x2="0" y2="1"><stop offset="0" stop-color="#5e0000"/><stop offset=".112" stop-color="#7a0000"/><stop offset=".218" stop-color="#9f0000"/><stop offset=".316" stop-color="#ca0000"/><stop offset=".413" stop-color="#ff0000"/><stop offset=".519" stop-color="#ff4900"/><stop offset=".568" stop-color="#ff7c00"/><stop offset=".617" stop-color="#ffb900"/><stop offset=".675" stop-color="#fff900"/><stop offset=".684" stop-color="#ffff03"/><stop offset=".704" stop-color="#ffff1b"/><stop offset=".733" stop-color="#ffff46"/><stop offset=".752" stop-color="#ffff68"/><stop offset=".782" stop-color="#ffffa9"/><stop offset=".811" stop-color="#ffffff"/><stop offset="1" stop-color="#ffffff"/></linearGradient>
<linearGradient id="g253" x1="0" y1="0" x2="0" y2="1"><stop offset="0" stop-color="#5e0000"/><stop offset=".112" stop-color="#7b0000"/><stop offset=".218" stop-color="#9f0000"/><stop offset=".316" stop-color="#cb0000"/><stop offset=".413" stop-color="#ff0100"/><stop offset=".519" stop-color="#ff4c00"/><stop offset=".568" stop-color="#ff8000"/><stop offset=".617" stop-color="#ffc000"/><stop offset=".665" stop-color="#fff800"/><stop offset=".675" stop-color="#ffff09"/><stop offset=".694" stop-color="#ffff23"/><stop offset=".733" stop-color="#ffff61"/><stop offset=".762" stop-color="#ffff9d"/><stop offset=".791" stop-color="#ffffea"/><stop offset=".801" stop-color="#ffffff"/><stop offset="1" stop-color="#ffffff"/></linearGradient>
<linearGradient id="g254" x1="0" y1="0" x2="0" y2="1"><stop offset="0" stop-color="#5e0000"/><stop offset=".102" stop-color="#780000"/><stop offset=".209" stop-color="#9c0000"/><stop offset=".306" stop-color="#c60000"/><stop offset=".413" stop-color="#ff0200"/><stop offset=".519" stop-color="#ff4f00"/><stop offset=".568" stop-color="#ff8500"/><stop offset=".617" stop-color="#ffc800"/><stop offset=".655" stop-color="#fff700"/><stop offset=".665" stop-color="#ffff07"/><stop offset=".675" stop-color="#ffff1b"/><stop offset=".723" stop-color="#ffff69"/><stop offset=".752" stop-color="#ffffa6"/><stop offset=".782" stop-color="#fffff2"/><stop offset=".791" stop-color="#ffffff"/><stop offset="1" stop-color="#ffffff"/></linearGradient>
<linearGradient id="g255" x1="0" y1="0" x2="0" y2="1"><stop offset="0" stop-color="#5e0000"/><stop offset=".102" stop-color="#780000"/><stop offset=".209" stop-color="#9c0000"/><stop offset=".296" stop-color="#c20000"/><stop offset=".403" stop-color="#fc0000"/><stop offset=".413" stop-color="#ff0300"/><stop offset=".471" stop-color="#ff2b00"/><stop offset=".519" stop-color="#ff5200"/><stop offset=".568" stop-color="#ff8a00"/><stop offset=".617" stop-color="#ffd000"/><stop offset=".646" stop-color="#fff400"/><stop offset=".655" stop-color="#ffff03"/><stop offset=".675" stop-color="#ffff2d"/><stop offset=".723" stop-color="#ffff82"/><stop offset=".752" stop-color="#ffffc4"/><stop offset=".772" stop-color="#fffff9"/><stop offset=".782" stop-color="#ffffff"/><stop offset="1" stop-color="#ffffff"/></linearGradient>
<linearGradient id="g256" x1="0" y1="0" x2="0" y2="1"><stop offset="0" stop-color="#5e0000"/><stop offset=".112" stop-color="#7b0000"/><stop offset=".218" stop-color="#a00000"/><stop offset=".316" stop-color="#cc0000"/><stop offset=".403" stop-color="#fd0000"/><stop offset=".461" stop-color="#ff2600"/><stop offset=".519" stop-color="#ff5500"/><stop offset=".568" stop-color="#ff8f00"/><stop offset=".617" stop-color="#ffd700"/><stop offset=".646" stop-color="#fffd00"/><stop offset=".675" stop-color="#ffff40"/><stop offset=".723" stop-color="#ffff9b"/><stop offset=".743" stop-color="#ffffc9"/><stop offset=".762" stop-color="#fffffd"/><stop offset="1" stop-color="#ffffff"/></linearGradient>
<linearGradient id="g257" x1="0" y1="0" x2="0" y2="1"><stop offset="0" stop-color="#5e0000"/><stop offset=".112" stop-color="#7b0000"/><stop offset=".218" stop-color="#a10000"/><stop offset=".316" stop-color="#cd0000"/><stop offset=".403" stop-color="#ff0000"/><stop offset=".461" stop-color="#ff2800"/><stop offset=".519" stop-color="#ff5800"/><stop offset=".568" stop-color="#ff9300"/><stop offset=".636" stop-color="#fff900"/><stop offset=".646" stop-color="#ffff0c"/><stop offset=".675" stop-color="#ffff52"/><stop offset=".714" stop-color="#ffff9e"/><stop offset=".733" stop-color="#ffffcc"/><stop offset=".752" stop-color="#ffffff"/><stop offset="1" stop-color="#ffffff"/></linearGradient>
<linearGradient id="g258" x1="0" y1="0" x2="0" y2="1"><stop offset="0" stop-color="#5e0000"/><stop offset=".112" stop-color="#7b0000"/><stop offset=".218" stop-color="#a10000"/><stop offset=".306" stop-color="#c80000"/><stop offset=".403" stop-color="#ff0100"/><stop offset=".461" stop-color="#ff2900"/><stop offset=".519" stop-color="#ff5b00"/><stop offset=".568" stop-color="#ff9800"/><stop offset=".626" stop-color="#fff400"/><stop offset=".636" stop-color="#ffff04"/><stop offset=".675" stop-color="#ffff64"/><stop offset=".714" stop-color="#ffffb5"/><stop offset=".743" stop-color="#ffffff"/><stop offset="1" stop-color="#ffffff"/></linearGradient>
<linearGradient id="g259" x1="0" y1="0" x2="0" y2="1"><stop offset="0" stop-color="#5e0000"/><stop offset=".102" stop-color="#780000"/><stop offset=".209" stop-color="#9d0000"/><stop offset=".306" stop-color="#c90000"/><stop offset=".403" stop-color="#ff0200"/><stop offset=".461" stop-color="#ff2b00"/><stop offset=".519" stop-color="#ff5e00"/><stop offset=".568" stop-color="#ff9d00"/><stop offset=".626" stop-color="#fffc00"/><stop offset=".646" stop-color="#ffff29"/><stop offset=".675" stop-color="#ffff75"/><stop offset=".704" stop-color="#ffffb5"/><stop offset=".733" stop-color="#ffffff"/><stop offset="1" stop-color="#ffffff"/></linearGradient>
<linearGradient id="g260" x1="0" y1="0" x2="0" y2="1"><stop offset="0" stop-color="#5e0000"/><stop offset=".102" stop-color="#780000"/><stop offset=".209" stop-color="#9e0000"/><stop offset=".296" stop-color="#c50000"/><stop offset=".403" stop-color="#ff0300"/><stop offset=".461" stop-color="#ff2d00"/><stop offset=".519" stop-color="#ff6100"/><stop offset=".568" stop-color="#ffa200"/><stop offset=".617" stop-color="#fff500"/><stop offset=".626" stop-color="#ffff08"/><stop offset=".655" stop-color="#ffff50"/><stop offset=".675" stop-color="#ffff87"/><stop offset=".704" stop-color="#ffffc9"/><stop offset=".723" stop-color="#fffffc"/><stop offset="1" stop-color="#ffffff"/></linearGradient>
<linearGradient id="g261" x1="0" y1="0" x2="0" y2="1"><stop offset="0" stop-color="#5e0000"/><stop offset=".102" stop-color="#790000"/><stop offset=".209" stop-color="#9e0000"/><stop offset=".306" stop-color="#ca0000"/><stop offset=".393" stop-color="#fd0000"/><stop offset=".451" stop-color="#ff2700"/><stop offset=".519" stop-color="#ff6400"/><stop offset=".568" stop-color="#ffa600"/><stop offset=".617" stop-color="#fffd00"/><stop offset=".636" stop-color="#ffff2b"/><stop offset=".675" stop-color="#ffff98"/><stop offset=".714" stop-color="#fffff8"/><stop offset=".723" stop-color="#ffffff"/><stop offset="1" stop-color="#ffffff"/></linearGradient>
<linearGradient id="g262" x1="0" y1="0" x2="0" y2="1"><stop offset="0" stop-color="#5e0000"/><stop offset=".102" stop-color="#790000"/><stop offset=".209" stop-color="#9e0000"/><stop offset=".306" stop-color="#cb0000"/><stop offset=".393" stop-color="#fe0000"/><stop offset=".461" stop-color="#ff3100"/><stop offset=".519" stop-color="#ff6700"/><stop offset=".568" stop-color="#ffab00"/><stop offset=".607" stop-color="#fff200"/><stop offset=".617" stop-color="#ffff07"/><stop offset=".646" stop-color="#ffff52"/><stop offset=".675" stop-color="#ffffa8"/><stop offset=".704" stop-color="#fffff2"/><stop offset=".714" stop-color="#ffffff"/><stop offset="1" stop-color="#ffffff"/></linearGradient>
<linearGradient id="g263" x1="0" y1="0" x2="0" y2="1"><stop offset="0" stop-color="#5e0000"/><stop offset=".102" stop-color="#790000"/><stop offset=".209" stop-color="#9e0000"/><stop offset=".306" stop-color="#cb0000"/><stop offset=".393" stop-color="#ff0000"/><stop offset=".461" stop-color="#ff3200"/><stop offset=".519" stop-color="#ff6a00"/><stop offset=".568" stop-color="#ffaf00"/><stop offset=".607" stop-color="#fff800"/><stop offset=".617" stop-color="#ffff12"/><stop offset=".626" stop-color="#ffff2a"/><stop offset=".655" stop-color="#ffff7b"/><stop offset=".675" stop-color="#ffffb8"/><stop offset=".704" stop-color="#ffffff"/><stop offset="1" stop-color="#ffffff"/></linearGradient>
<linearGradient id="g264" x1="0" y1="0" x2="0" y2="1"><stop offset="0" stop-color="#5f0000"/><stop offset=".102" stop-color="#790000"/><stop offset=".209" stop-color="#9f0000"/><stop offset=".306" stop-color="#cc0000"/><stop offset=".393" stop-color="#ff0100"/><stop offset=".461" stop-color="#ff3400"/><stop offset=".519" stop-color="#ff6c00"/><stop offset=".568" stop-color="#ffb400"/><stop offset=".607" stop-color="#fffe00"/><stop offset=".646" stop-color="#ffff6b"/><stop offset=".675" stop-color="#ffffc8"/><stop offset=".694" stop-color="#fffffc"/><stop offset="1" stop-color="#ffffff"/></linearGradient>
<linearGradient id="g265" x1="0" y1="0" x2="0" y2="1"><stop offset="0" stop-color="#5f0000"/><stop offset=".102" stop-color="#790000"/><stop offset=".209" stop-color="#9f0000"/><stop offset=".296" stop-color="#c70000"/><stop offset=".393" stop-color="#ff0200"/><stop offset=".461" stop-color="#ff3600"/><stop offset=".519" stop-color="#ff6f00"/><stop offset=".558" stop-color="#ffa800"/><stop offset=".597" stop-color="#ffef00"/><stop offset=".607" stop-color="#ffff08"/><stop offset=".646" stop-color="#ffff78"/><stop offset=".675" stop-color="#ffffd7"/><stop offset=".684" stop-color="#fffff2"/><stop offset=".694" stop-color="#ffffff"/><stop offset="1" stop-color="#ffffff"/></linearGradient>
<linearGradient id="g266" x1="0" y1="0" x2="0" y2="1"><stop offset="0" stop-color="#5f0000"/><stop offset=".102" stop-color="#790000"/><stop offset=".209" stop-color="#9f0000"/><stop offset=".296" stop-color="#c70000"/><stop offset=".393" stop-color="#ff0300"/><stop offset=".461" stop-color="#ff3700"/><stop offset=".519" stop-color="#ff7200"/><stop offset=".558" stop-color="#ffac00"/><stop offset=".597" stop-color="#fff400"/><stop offset=".607" stop-color="#ffff11"/><stop offset=".646" stop-color="#ffff83"/><stop offset=".675" stop-color="#ffffe6"/><stop offset=".684" stop-color="#ffffff"/><stop offset="1" stop-color="#ffffff"/></linearGradient>
<linearGradient id="g267" x1="0" y1="0" x2="0" y2="1"><stop offset="0" stop-color="#5f0000"/><stop offset=".102" stop-color="#790000"/><stop offset=".209" stop-color="#9f0000"/><stop offset=".296" stop-color="#c80000"/><stop offset=".383" stop-color="#fc0000"/><stop offset=".393" stop-color="#ff0300"/><stop offset=".461" stop-color="#ff3900"/><stop offset=".519" stop-color="#ff7400"/><stop offset=".558" stop-color="#ffaf00"/><stop offset=".597" stop-color="#fffa00"/><stop offset=".607" stop-color="#ffff19"/><stop offset=".646" stop-color="#ffff8f"/><stop offset=".675" stop-color="#fffff3"/><stop offset=".684" stop-color="#ffffff"/><stop offset="1" stop-color="#ffffff"/></linearGradient>
<linearGradient id="g268" x1="0" y1="0" x2="0" y2="1"><stop offset="0" stop-color="#5f0000"/><stop offset=".102" stop-color="#790000"/><stop offset=".209" stop-color="#a00000"/><stop offset=".296" stop-color="#c80000"/><stop offset=".383" stop-color="#fd0000"/><stop offset=".442" stop-color="#ff2900"/><stop offset=".51" stop-color="#ff6b00"/><stop offset=".529" stop-color="#ff8400"/><stop offset=".558" stop-color="#ffb300"/><stop offset=".597" stop-color="#fffe00"/><stop offset=".617" stop-color="#ffff41"/><stop offset=".646" stop-color="#ffff99"/><stop offset=".675" stop-color="#ffffff"/><stop offset="1" stop-color="#ffffff"/></linearGradient>
<linearGradient id="g269" x1="0" y1="0" x2="0" y2="1"><stop offset="0" stop-color="#5f0000"/><stop offset=".102" stop-color="#790000"/><stop offset=".209" stop-color="#a00000"/><stop offset=".296" stop-color="#c90000"/><stop offset=".383" stop-color="#fd0000"/><stop offset=".451" stop-color="#ff3300"/><stop offset=".51" stop-color="#ff6d00"/><stop offset=".549" stop-color="#ffa500"/><stop offset=".587" stop-color="#ffee00"/><stop offset=".597" stop-color="#ffff06"/><stop offset=".617" stop-color="#ffff4a"/><stop offset=".646" stop-color="#ffffa4"/><stop offset=".665" stop-color="#ffffe8"/><stop offset=".675" stop-color="#ffffff"/><stop offset="1" stop-color="#ffffff"/></linearGradient>
<linearGradient id="g270" x1="0" y1="0" x2="0" y2="1"><stop offset="0" stop-color="#5f0000"/><stop offset=".102" stop-color="#790000"/><stop offset=".209" stop-color="#a00000"/><stop offset=".296" stop-color="#c90000"/><stop offset=".383" stop-color="#fe0000"/><stop offset=".451" stop-color="#ff3400"/><stop offset=".51" stop-color="#ff6f00"/><stop offset=".549" stop-color="#ffa800"/><stop offset=".587" stop-color="#fff200"/><stop offset=".597" stop-color="#ffff0d"/><stop offset=".617" stop-color="#ffff52"/><stop offset=".646" stop-color="#ffffad"/><stop offset=".665" stop-color="#fffff3"/><stop offset=".675" stop-color="#ffffff"/><stop offset="1" stop-color="#ffffff"/></linearGradient>
<linearGradient id="g271" x1="0" y1="0" x2="0" y2="1"><stop offset="0" stop-color="#5f0000"/><stop offset=".102" stop-color="#7a0000"/><stop offset=".209" stop-color="#a00000"/><stop offset=".296" stop-color="#c90000"/><stop offset=".383" stop-color="#ff0000"/><stop offset=".451" stop-color="#ff3500"/><stop offset=".51" stop-color="#ff7100"/><stop offset=".549" stop-color="#ffab00"/><stop offset=".587" stop-color="#fff600"/><stop offset=".597" stop-color="#ffff13"/><stop offset=".617" stop-color="#ffff59"/><stop offset=".646" stop-color="#ffffb7"/><stop offset=".665" stop-color="#fffffe"/><stop offset="1" stop-color="#ffffff"/></linearGradient>
<linearGradient id="g272" x1="0" y1="0" x2="0" y2="1"><stop offset="0" stop-color="#5f0000"/><stop offset=".102" stop-color="#7a0000"/><stop offset=".209" stop-color="#a00000"/><stop offset=".296" stop-color="#ca0000"/><stop offset=".383" stop-color="#ff0000"/><stop offset=".451" stop-color="#ff3600"/><stop offset=".51" stop-color="#ff7300"/><stop offset=".549" stop-color="#ffad00"/><stop offset=".587" stop-color="#fff900"/><stop offset=".597" stop-color="#ffff19"/><stop offset=".617" stop-color="#ffff60"/><stop offset=".636" stop-color="#ffff9e"/><stop offset=".655" stop-color="#ffffe2"/><stop offset=".665" stop-color="#ffffff"/><stop offset="1" stop-color="#ffffff"/></linearGradient>
<linearGradient id="g273" x1="0" y1="0" x2="0" y2="1"><stop offset="0" stop-color="#5f0000"/><stop offset=".102" stop-color="#7a0000"/><stop offset=".209" stop-color="#a00000"/><stop offset=".296" stop-color="#ca0000"/><stop offset=".383" stop-color="#ff0100"/><stop offset=".451" stop-color="#ff3700"/><stop offset=".51" stop-color="#ff7400"/><stop offset=".549" stop-color="#ffb000"/><stop offset=".587" stop-color="#fffd00"/><stop offset=".655" stop-color="#ffffeb"/><stop offset=".665" stop-color="#ffffff"/><stop offset="1" stop-color="#ffffff"/></linearGradient>
<linearGradient id="g274" x1="0" y1="0" x2="0" y2="1"><stop offset="0" stop-color="#5f0000"/><stop offset=".102" stop-color="#7a0000"/><stop offset=".209" stop-color="#a10000"/><stop offset=".296" stop-color="#ca0000"/><stop offset=".383" stop-color="#ff0100"/><stop offset=".451" stop-color="#ff3800"/><stop offset=".51" stop-color="#ff7600"/><stop offset=".549" stop-color="#ffb200"/><stop offset=".587" stop-color="#ffff01"/><stop offset=".617" stop-color="#ffff6d"/><stop offset=".636" stop-color="#ffffac"/><stop offset=".655" stop-color="#fffff3"/><stop offset=".665" stop-color="#ffffff"/><stop offset="1" stop-color="#ffffff"/></linearGradient>
<linearGradient id="g275" x1="0" y1="0" x2="0" y2="1"><stop offset="0" stop-color="#5f0000"/><stop offset=".102" stop-color="#7a0000"/><stop offset=".209" stop-color="#a10000"/><stop offset=".296" stop-color="#ca0000"/><stop offset=".383" stop-color="#ff0200"/><stop offset=".451" stop-color="#ff3900"/><stop offset=".51" stop-color="#ff7700"/><stop offset=".539" stop-color="#ffa300"/><stop offset=".578" stop-color="#ffed00"/><stop offset=".587" stop-color="#ffff06"/><stop offset=".617" stop-color="#ffff73"/><stop offset=".636" stop-color="#ffffb3"/><stop offset=".655" stop-color="#fffffa"/><stop offset=".665" stop-color="#ffffff"/><stop offset="1" stop-color="#ffffff"/></linearGradient>
<linearGradient id="g276" x1="0" y1="0" x2="0" y2="1"><stop offset="0" stop-color="#5f0000"/><stop offset=".102" stop-color="#7a0000"/><stop offset=".209" stop-color="#a10000"/><stop offset=".296" stop-color="#cb0000"/><stop offset=".383" stop-color="#ff0200"/><stop offset=".451" stop-color="#ff3a00"/><stop offset=".51" stop-color="#ff7900"/><stop offset=".539" stop-color="#ffa500"/><stop offset=".578" stop-color="#fff000"/><stop offset=".587" stop-color="#ffff0a"/><stop offset=".617" stop-color="#ffff78"/><stop offset=".655" stop-color="#ffffff"/><stop offset="1" stop-color="#ffffff"/></linearGradient>
<linearGradient id="g277" x1="0" y1="0" x2="0" y2="1"><stop offset="0" stop-color="#5f0000"/><stop offset=".102" stop-color="#7a0000"/><stop offset=".209" stop-color="#a10000"/><stop offset=".296" stop-color="#cb0000"/><stop offset=".383" stop-color="#ff0300"/><stop offset=".451" stop-color="#ff3b00"/><stop offset=".51" stop-color="#ff7a00"/><stop offset=".539" stop-color="#ffa600"/><stop offset=".578" stop-color="#fff200"/><stop offset=".587" stop-color="#ffff0d"/><stop offset=".617" stop-color="#ffff7c"/><stop offset=".646" stop-color="#ffffe2"/><stop offset=".655" stop-color="#ffffff"/><stop offset="1" stop-color="#ffffff"/></linearGradient>
<linearGradient id="g278" x1="0" y1="0" x2="0" y2="1"><stop offset="0" stop-color="#5e0000"/><stop offset=".102" stop-color="#7a0000"/><stop offset=".209" stop-color="#a10000"/><stop offset=".286" stop-color="#c60000"/><stop offset=".383" stop-color="#ff0300"/><stop offset=".451" stop-color="#ff3b00"/><stop offset=".51" stop-color="#ff7b00"/><stop offset=".539" stop-color="#ffa800"/><stop offset=".578" stop-color="#fff400"/><stop offset=".587" stop-color="#ffff10"/><stop offset=".617" stop-color="#ffff81"/><stop offset=".646" stop-color="#ffffe7"/><stop offset=".655" stop-color="#ffffff"/><stop offset="1" stop-color="#ffffff"/></linearGradient>
<linearGradient id="g279" x1="0" y1="0" x2="0" y2="1"><stop offset="0" stop-color="#5e0000"/><stop offset=".102" stop-color="#7a0000"/><stop offset=".209" stop-color="#a10000"/><stop offset=".286" stop-color="#c60000"/><stop offset=".374" stop-color="#fc0000"/><stop offset=".383" stop-color="#ff0300"/><stop offset=".451" stop-color="#ff3c00"/><stop offset=".51" stop-color="#ff7c00"/><stop offset=".539" stop-color="#ffa900"/><stop offset=".578" stop-color="#fff500"/><stop offset=".587" stop-color="#ffff13"/><stop offset=".617" stop-color="#ffff84"/><stop offset=".646" stop-color="#ffffeb"/><stop offset=".655" stop-color="#ffffff"/><stop offset="1" stop-color="#ffffff"/></linearGradient>
<linearGradient id="g280" x1="0" y1="0" x2="0" y2="1"><stop offset="0" stop-color="#5e0000"/><stop offset=".102" stop-color="#7a0000"/><stop offset=".209" stop-color="#a10000"/><stop offset=".286" stop-color="#c60000"/><stop offset=".374" stop-color="#fc0000"/><stop offset=".383" stop-color="#ff0400"/><stop offset=".451" stop-color="#ff3c00"/><stop offset=".51" stop-color="#ff7d00"/><stop offset=".539" stop-color="#ffaa00"/><stop offset=".578" stop-color="#fff700"/><stop offset=".587" stop-color="#ffff16"/><stop offset=".617" stop-color="#ffff88"/><stop offset=".646" stop-color="#ffffef"/><stop offset=".655" stop-color="#ffffff"/><stop offset="1" stop-color="#ffffff"/></linearGradient>
<linearGradient id="g281" x1="0" y1="0" x2="0" y2="1"><stop offset="0" stop-color="#5e0000"/><stop offset=".102" stop-color="#7a0000"/><stop offset=".199" stop-color="#9d0000"/><stop offset=".286" stop-color="#c60000"/><stop offset=".374" stop-color="#fc0000"/><stop offset=".383" stop-color="#ff0400"/><stop offset=".451" stop-color="#ff3d00"/><stop offset=".51" stop-color="#ff7d00"/><stop offset=".539" stop-color="#ffab00"/><stop offset=".578" stop-color="#fff800"/><stop offset=".587" stop-color="#ffff18"/><stop offset=".617" stop-color="#ffff8a"/><stop offset=".646" stop-color="#fffff3"/><stop offset=".655" stop-color="#ffffff"/><stop offset="1" stop-color="#ffffff"/></linearGradient>
<linearGradient id="g282" x1="0" y1="0" x2="0" y2="1"><stop offset="0" stop-color="#5e0000"/><stop offset=".102" stop-color="#7a0000"/><stop offset=".199" stop-color="#9d0000"/><stop offset=".286" stop-color="#c60000"/><stop offset=".374" stop-color="#fc0000"/><stop offset=".383" stop-color="#ff0400"/><stop offset=".451" stop-color="#ff3d00"/><stop offset=".51" stop-color="#ff7e00"/><stop offset=".539" stop-color="#ffac00"/><stop offset=".578" stop-color="#fff900"/><stop offset=".587" stop-color="#ffff1a"/><stop offset=".617" stop-color="#ffff8d"/><stop offset=".646" stop-color="#fffff5"/><stop offset=".655" stop-color="#ffffff"/><stop offset="1" stop-color="#ffffff"/></linearGradient>
<linearGradient id="g283" x1="0" y1="0" x2="0" y2="1"><stop offset="0" stop-color="#5e0000"/><stop offset=".102" stop-color="#790000"/><stop offset=".199" stop-color="#9d0000"/><stop offset=".286" stop-color="#c60000"/><stop offset=".374" stop-color="#fc0000"/><stop offset=".383" stop-color="#ff0400"/><stop offset=".451" stop-color="#ff3d00"/><stop offset=".51" stop-color="#ff7e00"/><stop offset=".539" stop-color="#ffac00"/><stop offset=".578" stop-color="#fffa00"/><stop offset=".587" stop-color="#ffff1b"/><stop offset=".617" stop-color="#ffff8f"/><stop offset=".646" stop-color="#fffff8"/><stop offset=".655" stop-color="#ffffff"/><stop offset="1" stop-color="#ffffff"/></linearGradient>
<linearGradient id="g284" x1="0" y1="0" x2="0" y2="1"><stop offset="0" stop-color="#5e0000"/><stop offset=".102" stop-color="#790000"/><stop offset=".199" stop-color="#9d0000"/><stop offset=".286" stop-color="#c60000"/><stop offset=".374" stop-color="#fc0000"/><stop offset=".383" stop-color="#ff0400"/><stop offset=".451" stop-color="#ff3e00"/><stop offset=".51" stop-color="#ff7f00"/><stop offset=".539" stop-color="#ffad00"/><stop offset=".578" stop-color="#fffb00"/><stop offset=".587" stop-color="#ffff1c"/><stop offset=".617" stop-color="#ffff90"/><stop offset=".646" stop-color="#fffff9"/><stop offset=".655" stop-color="#ffffff"/><stop offset="1" stop-color="#ffffff"/></linearGradient>
<linearGradient id="g285" x1="0" y1="0" x2="0" y2="1"><stop offset="0" stop-color="#5e0000"/><stop offset=".102" stop-color="#790000"/><stop offset=".199" stop-color="#9d0000"/><stop offset=".286" stop-color="#c60000"/><stop offset=".374" stop-color="#fc0000"/><stop offset=".383" stop-color="#ff0400"/><stop offset=".451" stop-color="#ff3e00"/><stop offset=".51" stop-color="#ff7f00"/><stop offset=".539" stop-color="#ffad00"/><stop offset=".578" stop-color="#fffb00"/><stop offset=".587" stop-color="#ffff1d"/><stop offset=".617" stop-color="#ffff91"/><stop offset=".646" stop-color="#fffffb"/><stop offset=".655" stop-color="#ffffff"/><stop offset="1" stop-color="#ffffff"/></linearGradient>
<linearGradient id="g286" x1="0" y1="0" x2="0" y2="1"><stop offset="0" stop-color="#5e0000"/><stop offset=".102" stop-color="#790000"/><stop offset=".199" stop-color="#9d0000"/><stop offset=".286" stop-color="#c60000"/><stop offset=".374" stop-color="#fc0000"/><stop offset=".383" stop-color="#ff0400"/><stop offset=".451" stop-color="#ff3e00"/><stop offset=".51" stop-color="#ff7f00"/><stop offset=".539" stop-color="#ffad00"/><stop offset=".578" stop-color="#fffc00"/><stop offset=".587" stop-color="#ffff1d"/><stop offset=".617" stop-color="#ffff92"/><stop offset=".646" stop-color="#fffffb"/><stop offset=".655" stop-color="#ffffff"/><stop offset="1" stop-color="#ffffff"/></linearGradient>
<linearGradient id="g287" x1="0" y1="0" x2="0" y2="1"><stop offset="0" stop-color="#5e0000"/><stop offset=".102" stop-color="#790000"/><stop offset=".199" stop-color="#9c0000"/><stop offset=".286" stop-color="#c60000"/><stop offset=".374" stop-color="#fc0000"/><stop offset=".383" stop-color="#ff0400"/><stop offset=".451" stop-color="#ff3e00"/><stop offset=".51" stop-color="#ff7f00"/><stop offset=".539" stop-color="#ffad00"/><stop offset=".578" stop-color="#fffc00"/><stop offset=".587" stop-color="#ffff1e"/><stop offset=".617" stop-color="#ffff92"/><stop offset=".646" stop-color="#fffffc"/><stop offset=".655" stop-color="#ffffff"/><stop offset="1" stop-color="#ffffff"/></linearGradient>
<linearGradient id="g288" x1="0" y1="0" x2="0" y2="1"><stop offset="0" stop-color="#5e0000"/><stop offset=".102" stop-color="#790000"/><stop offset=".209" stop-color="#a00000"/><stop offset=".286" stop-color="#c60000"/><stop offset=".374" stop-color="#fc0000"/><stop offset=".383" stop-color="#ff0400"/><stop offset=".451" stop-color="#ff3e00"/><stop offset=".51" stop-color="#ff7f00"/><stop offset=".539" stop-color="#ffad00"/><stop offset=".578" stop-color="#fffb00"/><stop offset=".587" stop-color="#ffff1d"/><stop offset=".617" stop-color="#ffff92"/><stop offset=".646" stop-color="#fffffb"/><stop offset=".655" stop-color="#ffffff"/><stop offset="1" stop-color="#ffffff"/></linearGradient>
<linearGradient id="g289" x1="0" y1="0" x2="0" y2="1"><stop offset="0" stop-color="#5d0000"/><stop offset=".102" stop-color="#790000"/><stop offset=".209" stop-color="#a00000"/><stop offset=".286" stop-color="#c50000"/><stop offset=".374" stop-color="#fc0000"/><stop offset=".383" stop-color="#ff0400"/><stop offset=".451" stop-color="#ff3d00"/><stop offset=".51" stop-color="#ff7f00"/><stop offset=".539" stop-color="#ffad00"/><stop offset=".578" stop-color="#fffb00"/><stop offset=".587" stop-color="#ffff1d"/><stop offset=".617" stop-color="#ffff91"/><stop offset=".646" stop-color="#fffffa"/><stop offset=".655" stop-color="#ffffff"/><stop offset="1" stop-color="#ffffff"/></linearGradient>
<linearGradient id="g290" x1="0" y1="0" x2="0" y2="1"><stop offset="0" stop-color="#5d0000"/><stop offset=".102" stop-color="#790000"/><stop offset=".209" stop-color="#a00000"/><stop offset=".286" stop-color="#c50000"/><stop offset=".374" stop-color="#fc0000"/><stop offset=".383" stop-color="#ff0400"/><stop offset=".451" stop-color="#ff3d00"/><stop offset=".51" stop-color="#ff7e00"/><stop offset=".539" stop-color="#ffac00"/><stop offset=".578" stop-color="#fffa00"/><stop offset=".587" stop-color="#ffff1b"/><stop offset=".617" stop-color="#ffff8f"/><stop offset=".646" stop-color="#fffff8"/><stop offset=".655" stop-color="#ffffff"/><stop offset="1" stop-color="#ffffff"/></linearGradient>
<linearGradient id="g291" x1="0" y1="0" x2="0" y2="1"><stop offset="0" stop-color="#5d0000"/><stop offset=".102" stop-color="#780000"/><stop offset=".209" stop-color="#a00000"/><stop offset=".286" stop-color="#c50000"/><stop offset=".383" stop-color="#ff0300"/><stop offset=".451" stop-color="#ff3d00"/><stop offset=".51" stop-color="#ff7e00"/><stop offset=".539" stop-color="#ffac00"/><stop offset=".578" stop-color="#fff900"/><stop offset=".587" stop-color="#ffff1a"/><stop offset=".617" stop-color="#ffff8e"/><stop offset=".646" stop-color="#fffff6"/><stop offset=".655" stop-color="#ffffff"/><stop offset="1" stop-color="#ffffff"/></linearGradient>
<linearGradient id="g292" x1="0" y1="0" x2="0" y2="1"><stop offset="0" stop-color="#5d0000"/><stop offset=".102" stop-color="#780000"/><stop offset=".209" stop-color="#a00000"/><stop offset=".296" stop-color="#ca0000"/><stop offset=".383" stop-color="#ff0300"/><stop offset=".451" stop-color="#ff3c00"/><stop offset=".51" stop-color="#ff7d00"/><stop offset=".539" stop-color="#ffab00"/><stop offset=".578" stop-color="#fff800"/><stop offset=".587" stop-color="#ffff18"/><stop offset=".617" stop-color="#ffff8b"/><stop offset=".646" stop-color="#fffff3"/><stop offset=".655" stop-color="#ffffff"/><stop offset="1" stop-color="#ffffff"/></linearGradient>
<linearGradient id="g293" x1="0" y1="0" x2="0" y2="1"><stop offset="0" stop-color="#5d0000"/><stop offset=".102" stop-color="#780000"/><stop offset=".209" stop-color="#9f0000"/><stop offset=".296" stop-color="#ca0000"/><stop offset=".383" stop-color="#ff0200"/><stop offset=".451" stop-color="#ff3c00"/><stop offset=".51" stop-color="#ff7c00"/><stop offset=".539" stop-color="#ffaa00"/><stop offset=".578" stop-color="#fff700"/><stop offset=".587" stop-color="#ffff16"/><stop offset=".617" stop-color="#ffff89"/><stop offset=".646" stop-color="#fffff0"/><stop offset=".655" stop-color="#ffffff"/><stop offset="1" stop-color="#ffffff"/></linearGradient>
<linearGradient id="g294" x1="0" y1="0" x2="0" y2="1"><stop offset="0" stop-color="#5d0000"/><stop offset=".102" stop-color="#780000"/><stop offset=".209" stop-color="#9f0000"/><stop offset=".296" stop-color="#c90000"/><stop offset=".383" stop-color="#ff0200"/><stop offset=".451" stop-color="#ff3b00"/><stop offset=".51" stop-color="#ff7b00"/><stop offset=".539" stop-color="#ffa900"/><stop offset=".578" stop-color="#fff500"/><stop offset=".587" stop-color="#ffff13"/><stop offset=".617" stop-color="#ffff85"/><stop offset=".646" stop-color="#ffffec"/><stop offset=".655" stop-color="#ffffff"/><stop offset="1" stop-color="#ffffff"/></linearGradient>
<linearGradient id="g295" x1="0" y1="0" x2="0" y2="1"><stop offset="0" stop-color="#5c0000"/><stop offset=".102" stop-color="#780000"/><stop offset=".209" stop-color="#9f0000"/><stop offset=".296" stop-color="#c90000"/><stop offset=".383" stop-color="#ff0200"/><stop offset=".451" stop-color="#ff3a00"/><stop offset=".51" stop-color="#ff7a00"/><stop offset=".539" stop-color="#ffa700"/><stop offset=".578" stop-color="#fff300"/><stop offset=".587" stop-color="#ffff10"/><stop offset=".617" stop-color="#ffff81"/><stop offset=".646" stop-color="#ffffe7"/><stop offset=".655" stop-color="#ffffff"/><stop offset="1" stop-color="#ffffff"/></linearGradient>
<linearGradient id="g296" x1="0" y1="0" x2="0" y2="1"><stop offset="0" stop-color="#5c0000"/><stop offset=".102" stop-color="#770000"/><stop offset=".209" stop-color="#9e0000"/><stop offset=".296" stop-color="#c90000"/><stop offset=".383" stop-color="#ff0100"/><stop offset=".451" stop-color="#ff3900"/><stop offset=".51" stop-color="#ff7900"/><stop offset=".539" stop-color="#ffa600"/><stop offset=".578" stop-color="#fff100"/><stop offset=".587" stop-color="#ffff0d"/><stop offset=".617" stop-color="#ffff7d"/><stop offset=".646" stop-color="#ffffe2"/><stop offset=".655" stop-color="#ffffff"/><stop offset="1" stop-color="#ffffff"/></linearGradient>
<linearGradient id="g297" x1="0" y1="0" x2="0" y2="1"><stop offset="0" stop-color="#5c0000"/><stop offset=".102" stop-color="#770000"/><stop offset=".209" stop-color="#9e0000"/><stop offset=".296" stop-color="#c80000"/><stop offset=".383" stop-color="#ff0000"/><stop offset=".451" stop-color="#ff3800"/><stop offset=".51" stop-color="#ff7800"/><stop offset=".539" stop-color="#ffa400"/><stop offset=".578" stop-color="#ffef00"/><stop offset=".587" stop-color="#ffff09"/><stop offset=".617" stop-color="#ffff78"/><stop offset=".655" stop-color="#ffffff"/><stop offset="1" stop-color="#ffffff"/></linearGradient>
<linearGradient id="g298" x1="0" y1="0" x2="0" y2="1"><stop offset="0" stop-color="#5c0000"/><stop offset=".102" stop-color="#770000"/><stop offset=".209" stop-color="#9e0000"/><stop offset=".296" stop-color="#c80000"/><stop offset=".383" stop-color="#ff0000"/><stop offset=".451" stop-color="#ff3700"/><stop offset=".51" stop-color="#ff7600"/><stop offset=".539" stop-color="#ffa200"/><stop offset=".578" stop-color="#ffed00"/><stop offset=".587" stop-color="#ffff05"/><stop offset=".617" stop-color="#ffff73"/><stop offset=".636" stop-color="#ffffb3"/><stop offset=".655" stop-color="#fffffa"/><stop offset=".665" stop-color="#ffffff"/><stop offset="1" stop-color="#ffffff"/></linearGradient>
<linearGradient id="g299" x1="0" y1="0" x2="0" y2="1"><stop offset="0" stop-color="#5c0000"/><stop offset=".102" stop-color="#770000"/><stop offset=".209" stop-color="#9d0000"/><stop offset=".296" stop-color="#c70000"/><stop offset=".383" stop-color="#fe0000"/><stop offset=".451" stop-color="#ff3600"/><stop offset=".51" stop-color="#ff7500"/><stop offset=".549" stop-color="#ffb100"/><stop offset=".587" stop-color="#ffff00"/><stop offset=".617" stop-color="#ffff6d"/><stop offset=".636" stop-color="#ffffac"/><stop offset=".655" stop-color="#fffff2"/><stop offset=".665" stop-color="#ffffff"/><stop offset="1" stop-color="#ffffff"/></linearGradient>
<linearGradient id="g300" x1="0" y1="0" x2="0" y2="1"><stop offset="0" stop-color="#5b0000"/><stop offset=".102" stop-color="#760000"/><stop offset=".209" stop-color="#9d0000"/><stop offset=".296" stop-color="#c70000"/><stop offset=".383" stop-color="#fd0000"/><stop offset=".451" stop-color="#ff3500"/><stop offset=".51" stop-color="#ff7300"/><stop offset=".549" stop-color="#ffaf00"/><stop offset=".587" stop-color="#fffc00"/><stop offset=".597" stop-color="#ffff1e"/><stop offset=".617" stop-color="#ffff67"/><stop offset=".636" stop-color="#ffffa5"/><stop offset=".655" stop-color="#ffffea"/><stop offset=".665" stop-color="#ffffff"/><stop offset="1" stop-color="#ffffff"/></linearGradient>
<linearGradient id="g301" x1="0" y1="0" x2="0" y2="1"><stop offset="0" stop-color="#5b0000"/><stop offset=".102" stop-color="#760000"/><stop offset=".209" stop-color="#9d0000"/><stop offset=".296" stop-color="#c60000"/><stop offset=".383" stop-color="#fd0000"/><stop offset=".442" stop-color="#ff2b00"/><stop offset=".51" stop-color="#ff7100"/><stop offset=".549" stop-color="#ffac00"/><stop offset=".587" stop-color="#fff800"/><stop offset=".597" stop-color="#ffff18"/><stop offset=".617" stop-color="#ffff60"/><stop offset=".665" stop-color="#ffffff"/><stop offset="1" stop-color="#ffffff"/></linearGradient>
<linearGradient id="g302" x1="0" y1="0" x2="0" y2="1"><stop offset="0" stop-color="#5b0000"/><stop offset=".102" stop-color="#760000"/><stop offset=".209" stop-color="#9c0000"/><stop offset=".296" stop-color="#c60000"/><stop offset=".383" stop-color="#fc0000"/><stop offset=".393" stop-color="#ff0400"/><stop offset=".451" stop-color="#ff3300"/><stop offset=".51" stop-color="#ff6f00"/><stop offset=".549" stop-color="#ffa900"/><stop offset=".587" stop-color="#fff500"/><stop offset=".597" stop-color="#ffff12"/><stop offset=".617" stop-color="#ffff59"/><stop offset=".646" stop-color="#ffffb5"/><stop offset=".665" stop-color="#fffffb"/><stop offset=".675" stop-color="#ffffff"/><stop offset="1" stop-color="#ffffff"/></linearGradient>
<linearGradient id="g303" x1="0" y1="0" x2="0" y2="1"><stop offset="0" stop-color="#5b0000"/><stop offset=".102" stop-color="#760000"/><stop offset=".209" stop-color="#9c0000"/><stop offset=".296" stop-color="#c50000"/><stop offset=".393" stop-color="#ff0300"/><stop offset=".451" stop-color="#ff3200"/><stop offset=".51" stop-color="#ff6d00"/><stop offset=".549" stop-color="#ffa700"/><stop offset=".587" stop-color="#fff100"/><stop offset=".597" stop-color="#ffff0c"/><stop offset=".617" stop-color="#ffff51"/><stop offset=".646" stop-color="#ffffab"/><stop offset=".665" stop-color="#fffff0"/><stop offset=".675" stop-color="#ffffff"/><stop offset="1" stop-color="#ffffff"/></linearGradient>
<linearGradient id="g304" x1="0" y1="0" x2="0" y2="1"><stop offset="0" stop-color="#5b0000"/><stop offset=".102" stop-color="#750000"/><stop offset=".209" stop-color="#9c0000"/><stop offset=".296" stop-color="#c50000"/><stop offset=".393" stop-color="#ff0200"/><stop offset=".451" stop-color="#ff3000"/><stop offset=".51" stop-color="#ff6b00"/><stop offset=".549" stop-color="#ffa400"/><stop offset=".587" stop-color="#ffed00"/><stop offset=".597" stop-color="#ffff05"/><stop offset=".617" stop-color="#ffff49"/><stop offset=".646" stop-color="#ffffa1"/><stop offset=".665" stop-color="#ffffe5"/><stop offset=".675" stop-color="#ffffff"/><stop offset="1" stop-color="#ffffff"/></linearGradient>
<linearGradient id="g305" x1="0" y1="0" x2="0" y2="1"><stop offset="0" stop-color="#5b0000"/><stop offset=".102" stop-color="#750000"/><stop offset=".209" stop-color="#9c0000"/><stop offset=".306" stop-color="#ca0000"/><stop offset=".393" stop-color="#ff0100"/><stop offset=".461" stop-color="#ff3800"/><stop offset=".519" stop-color="#ff7400"/><stop offset=".558" stop-color="#ffb100"/><stop offset=".597" stop-color="#fffd00"/><stop offset=".617" stop-color="#ffff40"/><stop offset=".646" stop-color="#ffff97"/><stop offset=".675" stop-color="#fffffc"/><stop offset="1" stop-color="#ffffff"/></linearGradient>
<linearGradient id="g306" x1="0" y1="0" x2="0" y2="1"><stop offset="0" stop-color="#5a0000"/><stop offset=".112" stop-color="#780000"/><stop offset=".218" stop-color="#9f0000"/><stop offset=".306" stop-color="#c90000"/><stop offset=".393" stop-color="#ff0000"/><stop offset=".461" stop-color="#ff3600"/><stop offset=".519" stop-color="#ff7200"/><stop offset=".558" stop-color="#ffad00"/><stop offset=".597" stop-color="#fff800"/><stop offset=".607" stop-color="#ffff17"/><stop offset=".646" stop-color="#ffff8b"/><stop offset=".675" stop-color="#ffffee"/><stop offset=".684" stop-color="#ffffff"/><stop offset="1" stop-color="#ffffff"/></linearGradient>
<linearGradient id="g307" x1="0" y1="0" x2="0" y2="1"><stop offset="0" stop-color="#5a0000"/><stop offset=".112" stop-color="#780000"/><stop offset=".218" stop-color="#9f0000"/><stop offset=".306" stop-color="#c90000"/><stop offset=".393" stop-color="#fe0000"/><stop offset=".461" stop-color="#ff3400"/><stop offset=".519" stop-color="#ff6f00"/><stop offset=".558" stop-color="#ffa900"/><stop offset=".597" stop-color="#fff300"/><stop offset=".607" stop-color="#ffff0f"/><stop offset=".646" stop-color="#ffff7f"/><stop offset=".675" stop-color="#ffffdf"/><stop offset=".684" stop-color="#fffffa"/><stop offset=".694" stop-color="#ffffff"/><stop offset="1" stop-color="#ffffff"/></linearGradient>
<linearGradient id="g308" x1="0" y1="0" x2="0" y2="1"><stop offset="0" stop-color="#5a0000"/><stop offset=".112" stop-color="#780000"/><stop offset=".218" stop-color="#9f0000"/><stop offset=".306" stop-color="#c80000"/><stop offset=".393" stop-color="#fd0000"/><stop offset=".461" stop-color="#ff3300"/><stop offset=".519" stop-color="#ff6d00"/><stop offset=".558" stop-color="#ffa600"/><stop offset=".597" stop-color="#ffed00"/><stop offset=".607" stop-color="#ffff06"/><stop offset=".646" stop-color="#ffff73"/><stop offset=".675" stop-color="#ffffd0"/><stop offset=".694" stop-color="#ffffff"/><stop offset="1" stop-color="#ffffff"/></linearGradient>
<linearGradient id="g309" x1="0" y1="0" x2="0" y2="1"><stop offset="0" stop-color="#5a0000"/><stop offset=".102" stop-color="#740000"/><stop offset=".209" stop-color="#9a0000"/><stop offset=".296" stop-color="#c20000"/><stop offset=".393" stop-color="#fc0000"/><stop offset=".403" stop-color="#ff0400"/><stop offset=".471" stop-color="#ff3a00"/><stop offset=".519" stop-color="#ff6a00"/><stop offset=".568" stop-color="#ffb200"/><stop offset=".607" stop-color="#fffc00"/><stop offset=".646" stop-color="#ffff66"/><stop offset=".675" stop-color="#ffffc0"/><stop offset=".694" stop-color="#fffff2"/><stop offset=".704" stop-color="#ffffff"/><stop offset="1" stop-color="#ffffff"/></linearGradient>
<linearGradient id="g310" x1="0" y1="0" x2="0" y2="1"><stop offset="0" stop-color="#5a0000"/><stop offset=".102" stop-color="#740000"/><stop offset=".209" stop-color="#9a0000"/><stop offset=".296" stop-color="#c20000"/><stop offset=".403" stop-color="#ff0300"/><stop offset=".461" stop-color="#ff2f00"/><stop offset=".519" stop-color="#ff6700"/><stop offset=".568" stop-color="#ffad00"/><stop offset=".607" stop-color="#fff600"/><stop offset=".617" stop-color="#ffff0f"/><stop offset=".636" stop-color="#ffff3f"/><stop offset=".655" stop-color="#ffff74"/><stop offset=".675" stop-color="#ffffb0"/><stop offset=".704" stop-color="#fffff9"/><stop offset=".714" stop-color="#ffffff"/><stop offset="1" stop-color="#ffffff"/></linearGradient>
<linearGradient id="g311" x1="0" y1="0" x2="0" y2="1"><stop offset="0" stop-color="#5a0000"/><stop offset=".112" stop-color="#770000"/><stop offset=".218" stop-color="#9e0000"/><stop offset=".306" stop-color="#c60000"/><stop offset=".403" stop-color="#ff0200"/><stop offset=".461" stop-color="#ff2e00"/><stop offset=".519" stop-color="#ff6400"/><stop offset=".568" stop-color="#ffa800"/><stop offset=".607" stop-color="#ffef00"/><stop offset=".617" stop-color="#ffff04"/><stop offset=".626" stop-color="#ffff1b"/><stop offset=".655" stop-color="#ffff66"/><stop offset=".675" stop-color="#ffff9f"/><stop offset=".714" stop-color="#ffffff"/><stop offset="1" stop-color="#ffffff"/></linearGradient>
<linearGradient id="g312" x1="0" y1="0" x2="0" y2="1"><stop offset="0" stop-color="#5a0000"/><stop offset=".112" stop-color="#770000"/><stop offset=".218" stop-color="#9d0000"/><stop offset=".306" stop-color="#c60000"/><stop offset=".403" stop-color="#ff0100"/><stop offset=".461" stop-color="#ff2c00"/><stop offset=".519" stop-color="#ff6100"/><stop offset=".568" stop-color="#ffa400"/><stop offset=".617" stop-color="#fffa00"/><stop offset=".626" stop-color="#ffff0f"/><stop offset=".636" stop-color="#ffff25"/><stop offset=".675" stop-color="#ffff8e"/><stop offset=".723" stop-color="#ffffff"/><stop offset="1" stop-color="#ffffff"/></linearGradient>
<linearGradient id="g313" x1="0" y1="0" x2="0" y2="1"><stop offset="0" stop-color="#590000"/><stop offset=".112" stop-color="#760000"/><stop offset=".218" stop-color="#9d0000"/><stop offset=".316" stop-color="#ca0000"/><stop offset=".403" stop-color="#ff0000"/><stop offset=".461" stop-color="#ff2a00"/><stop offset=".519" stop-color="#ff5e00"/><stop offset=".568" stop-color="#ff9f00"/><stop offset=".617" stop-color="#fff300"/><stop offset=".626" stop-color="#ffff02"/><stop offset=".655" stop-color="#ffff47"/><stop offset=".675" stop-color="#ffff7c"/><stop offset=".733" stop-color="#ffffff"/><stop offset="1" stop-color="#ffffff"/></linearGradient>
<linearGradient id="g314" x1="0" y1="0" x2="0" y2="1"><stop offset="0" stop-color="#590000"/><stop offset=".112" stop-color="#760000"/><stop offset=".218" stop-color="#9c0000"/><stop offset=".316" stop-color="#ca0000"/><stop offset=".403" stop-color="#fd0000"/><stop offset=".461" stop-color="#ff2800"/><stop offset=".519" stop-color="#ff5b00"/><stop offset=".568" stop-color="#ff9a00"/><stop offset=".626" stop-color="#fff800"/><stop offset=".636" stop-color="#ffff0b"/><stop offset=".675" stop-color="#ffff6a"/><stop offset=".704" stop-color="#ffffa5"/><stop offset=".743" stop-color="#ffffff"/><stop offset="1" stop-color="#ffffff"/></linearGradient>
<linearGradient id="g315" x1="0" y1="0" x2="0" y2="1"><stop offset="0" stop-color="#590000"/><stop offset=".102" stop-color="#730000"/><stop offset=".209" stop-color="#980000"/><stop offset=".296" stop-color="#bf0000"/><stop offset=".403" stop-color="#fc0000"/><stop offset=".413" stop-color="#ff0400"/><stop offset=".471" stop-color="#ff2e00"/><stop offset=".519" stop-color="#ff5800"/><stop offset=".568" stop-color="#ff9500"/><stop offset=".617" stop-color="#ffe300"/><stop offset=".636" stop-color="#fffd00"/><stop offset=".646" stop-color="#ffff12"/><stop offset=".675" stop-color="#ffff57"/><stop offset=".714" stop-color="#ffffa3"/><stop offset=".752" stop-color="#ffffff"/><stop offset="1" stop-color="#ffffff"/></linearGradient>
<linearGradient id="g316" x1="0" y1="0" x2="0" y2="1"><stop offset="0" stop-color="#590000"/><stop offset=".112" stop-color="#760000"/><stop offset=".218" stop-color="#9c0000"/><stop offset=".306" stop-color="#c30000"/><stop offset=".413" stop-color="#ff0200"/><stop offset=".471" stop-color="#ff2c00"/><stop offset=".519" stop-color="#ff5500"/><stop offset=".568" stop-color="#ff9000"/><stop offset=".617" stop-color="#ffdb00"/><stop offset=".636" stop-color="#fff400"/><stop offset=".646" stop-color="#ffff03"/><stop offset=".675" stop-color="#ffff44"/><stop offset=".714" stop-color="#ffff8a"/><stop offset=".733" stop-color="#ffffb5"/><stop offset=".762" stop-color="#ffffff"/><stop offset="1" stop-color="#ffffff"/></linearGradient>
<linearGradient id="g317" x1="0" y1="0" x2="0" y2="1"><stop offset="0" stop-color="#590000"/><stop offset=".112" stop-color="#760000"/><stop offset=".218" stop-color="#9b0000"/><stop offset=".316" stop-color="#c80000"/><stop offset=".413" stop-color="#ff0100"/><stop offset=".471" stop-color="#ff2a00"/><stop offset=".519" stop-color="#ff5200"/><stop offset=".568" stop-color="#ff8c00"/><stop offset=".617" stop-color="#ffd400"/><stop offset=".646" stop-color="#fff700"/><stop offset=".655" stop-color="#ffff08"/><stop offset=".675" stop-color="#ffff32"/><stop offset=".723" stop-color="#ffff85"/><stop offset=".752" stop-color="#ffffc6"/><stop offset=".772" stop-color="#fffffb"/><stop offset=".782" stop-color="#ffffff"/><stop offset="1" stop-color="#ffffff"/></linearGradient>
<linearGradient id="g318" x1="0" y1="0" x2="0" y2="1"><stop offset="0" stop-color="#590000"/><stop offset=".112" stop-color="#750000"/><stop offset=".218" stop-color="#9b0000"/><stop offset=".316" stop-color="#c70000"/><stop offset=".413" stop-color="#ff0000"/><stop offset=".471" stop-color="#ff2800"/><stop offset=".519" stop-color="#ff4f00"/><stop offset=".568" stop-color="#ff8700"/><stop offset=".617" stop-color="#ffcc00"/><stop offset=".655" stop-color="#fff900"/><stop offset=".665" stop-color="#ffff0b"/><stop offset=".675" stop-color="#ffff1f"/><stop offset=".723" stop-color="#ffff6a"/><stop offset=".752" stop-color="#ffffa7"/><stop offset=".782" stop-color="#fffff4"/><stop offset=".791" stop-color="#ffffff"/><stop offset="1" stop-color="#ffffff"/></linearGradient>
<linearGradient id="g319" x1="0" y1="0" x2="0" y2="1"><stop offset="0" stop-color="#590000"/><stop offset=".112" stop-color="#750000"/><stop offset=".218" stop-color="#9b0000"/><stop offset=".316" stop-color="#c70000"/><stop offset=".413" stop-color="#fe0000"/><stop offset=".461" stop-color="#ff1f00"/><stop offset=".519" stop-color="#ff4c00"/><stop offset=".558" stop-color="#ff7600"/><stop offset=".617" stop-color="#ffc400"/><stop offset=".665" stop-color="#fffa00"/><stop offset=".675" stop-color="#ffff0c"/><stop offset=".704" stop-color="#ffff32"/><stop offset=".733" stop-color="#ffff61"/><stop offset=".762" stop-color="#ffff9c"/><stop offset=".791" stop-color="#ffffea"/><stop offset=".801" stop-color="#ffffff"/><stop offset="1" stop-color="#ffffff"/></linearGradient>
<linearGradient id="g320" x1="0" y1="0" x2="0" y2="1"><stop offset="0" stop-color="#580000"/><stop offset=".112" stop-color="#750000"/><stop offset=".218" stop-color="#9a0000"/><stop offset=".316" stop-color="#c60000"/><stop offset=".413" stop-color="#fd0000"/><stop offset=".451" stop-color="#ff1700"/><stop offset=".519" stop-color="#ff4900"/><stop offset=".568" stop-color="#ff7d00"/><stop offset=".617" stop-color="#ffbc00"/><stop offset=".675" stop-color="#fffa00"/><stop offset=".684" stop-color="#ffff04"/><stop offset=".714" stop-color="#ffff28"/><stop offset=".752" stop-color="#ffff67"/><stop offset=".782" stop-color="#ffffa8"/><stop offset=".811" stop-color="#ffffff"/><stop offset="1" stop-color="#ffffff"/></linearGradient>
<linearGradient id="g321" x1="0" y1="0" x2="0" y2="1"><stop offset="0" stop-color="#580000"/><stop offset=".112" stop-color="#750000"/><stop offset=".218" stop-color="#9a0000"/><stop offset=".306" stop-color="#c10000"/><stop offset=".422" stop-color="#ff0200"/><stop offset=".519" stop-color="#ff4600"/><stop offset=".568" stop-color="#ff7900"/><stop offset=".617" stop-color="#ffb500"/><stop offset=".675" stop-color="#ffee00"/><stop offset=".694" stop-color="#fffb00"/><stop offset=".704" stop-color="#ffff04"/><stop offset=".733" stop-color="#ffff28"/><stop offset=".752" stop-color="#ffff46"/><stop offset=".772" stop-color="#ffff6c"/><stop offset=".801" stop-color="#ffffb4"/><stop offset=".811" stop-color="#ffffe4"/><stop offset=".82" stop-color="#ffffff"/><stop offset="1" stop-color="#ffffff"/></linearGradient>
<linearGradient id="g322" x1="0" y1="0" x2="0" y2="1"><stop offset="0" stop-color="#580000"/><stop offset=".112" stop-color="#750000"/><stop offset=".218" stop-color="#9a0000"/><stop offset=".316" stop-color="#c50000"/><stop offset=".422" stop-color="#ff0100"/><stop offset=".519" stop-color="#ff4300"/><stop offset=".568" stop-color="#ff7400"/><stop offset=".617" stop-color="#ffad00"/><stop offset=".675" stop-color="#ffe100"/><stop offset=".723" stop-color="#ffff00"/><stop offset=".762" stop-color="#ffff36"/><stop offset=".791" stop-color="#ffff71"/><stop offset=".801" stop-color="#ffff89"/><stop offset=".811" stop-color="#ffffb6"/><stop offset=".82" stop-color="#ffffea"/><stop offset=".83" stop-color="#ffffff"/><stop offset="1" stop-color="#ffffff"/></linearGradient>
<linearGradient id="g323" x1="0" y1="0" x2="0" y2="1"><stop offset="0" stop-color="#580000"/><stop offset=".112" stop-color="#740000"/><stop offset=".218" stop-color="#990000"/><stop offset=".316" stop-color="#c40000"/><stop offset=".422" stop-color="#ff0000"/><stop offset=".519" stop-color="#ff4100"/><stop offset=".568" stop-color="#ff7000"/><stop offset=".617" stop-color="#ffa600"/><stop offset=".675" stop-color="#ffd500"/><stop offset=".743" stop-color="#fffb00"/><stop offset=".752" stop-color="#ffff06"/><stop offset=".772" stop-color="#ffff23"/><stop offset=".801" stop-color="#ffff5e"/><stop offset=".811" stop-color="#ffff87"/><stop offset=".83" stop-color="#ffffee"/><stop offset=".84" stop-color="#ffffff"/><stop offset="1" stop-color="#ffffff"/></linearGradient>
<linearGradient id="g324" x1="0" y1="0" x2="0" y2="1"><stop offset="0" stop-color="#580000"/><stop offset=".112" stop-color="#740000"/><stop offset=".218" stop-color="#990000"/><stop offset=".316" stop-color="#c40000"/><stop offset=".422" stop-color="#fe0000"/><stop offset=".519" stop-color="#ff3e00"/><stop offset=".568" stop-color="#ff6b00"/><stop offset=".617" stop-color="#ff9f00"/><stop offset=".675" stop-color="#ffc900"/><stop offset=".733" stop-color="#ffe100"/><stop offset=".772" stop-color="#fffe00"/><stop offset=".782" stop-color="#ffff0d"/><stop offset=".801" stop-color="#ffff32"/><stop offset=".811" stop-color="#ffff58"/><stop offset=".82" stop-color="#ffff86"/><stop offset=".83" stop-color="#ffffb9"/><stop offset=".84" stop-color="#fffff1"/><stop offset=".85" stop-color="#ffffff"/><stop offset="1" stop-color="#ffffff"/></linearGradient>
<linearGradient id="g325" x1="0" y1="0" x2="0" y2="1"><stop offset="0" stop-color="#580000"/><stop offset=".112" stop-color="#740000"/><stop offset=".218" stop-color="#990000"/><stop offset=".316" stop-color="#c30000"/><stop offset=".422" stop-color="#fd0000"/><stop offset=".519" stop-color="#ff3b00"/><stop offset=".617" stop-color="#ff9800"/><stop offset=".675" stop-color="#ffbe00"/><stop offset=".723" stop-color="#ffcb00"/><stop offset=".752" stop-color="#ffd800"/><stop offset=".791" stop-color="#fff800"/><stop offset=".801" stop-color="#ffff07"/><stop offset=".811" stop-color="#ffff29"/><stop offset=".83" stop-color="#ffff83"/><stop offset=".84" stop-color="#ffffb8"/><stop offset=".85" stop-color="#fffff4"/><stop offset=".859" stop-color="#ffffff"/><stop offset="1" stop-color="#ffffff"/></linearGradient>
<linearGradient id="g326" x1="0" y1="0" x2="0" y2="1"><stop offset="0" stop-color="#580000"/><stop offset=".112" stop-color="#740000"/><stop offset=".218" stop-color="#980000"/><stop offset=".306" stop-color="#be0000"/><stop offset=".432" stop-color="#ff0200"/><stop offset=".519" stop-color="#ff3900"/><stop offset=".617" stop-color="#ff9200"/><stop offset=".675" stop-color="#ffb200"/><stop offset=".733" stop-color="#ffbd00"/><stop offset=".762" stop-color="#ffc800"/><stop offset=".801" stop-color="#ffe700"/><stop offset=".811" stop-color="#fffb00"/><stop offset=".82" stop-color="#ffff21"/><stop offset=".83" stop-color="#ffff4c"/><stop offset=".84" stop-color="#ffff7e"/><stop offset=".85" stop-color="#ffffb6"/><stop offset=".859" stop-color="#fffff7"/><stop offset=".869" stop-color="#ffffff"/><stop offset="1" stop-color="#ffffff"/></linearGradient>
<linearGradient id="g327" x1="0" y1="0" x2="0" y2="1"><stop offset="0" stop-color="#580000"/><stop offset=".112" stop-color="#740000"/><stop offset=".218" stop-color="#980000"/><stop offset=".316" stop-color="#c20000"/><stop offset=".432" stop-color="#ff0100"/><stop offset=".519" stop-color="#ff3700"/><stop offset=".617" stop-color="#ff8b00"/><stop offset=".675" stop-color="#ffa800"/><stop offset=".743" stop-color="#ffad00"/><stop offset=".782" stop-color="#ffbb00"/><stop offset=".801" stop-color="#ffca00"/><stop offset=".82" stop-color="#fff300"/><stop offset=".83" stop-color="#ffff16"/><stop offset=".84" stop-color="#ffff44"/><stop offset=".85" stop-color="#ffff79"/><stop offset=".859" stop-color="#ffffb5"/><stop offset=".869" stop-color="#ffffeb"/><stop offset=".879" stop-color="#ffffff"/><stop offset="1" stop-color="#ffffff"/></linearGradient>
<linearGradient id="g328" x1="0" y1="0" x2="0" y2="1"><stop offset="0" stop-color="#570000"/><stop offset=".112" stop-color="#730000"/><stop offset=".218" stop-color="#980000"/><stop offset=".316" stop-color="#c20000"/><stop offset=".432" stop-color="#ff0000"/><stop offset=".519" stop-color="#ff3400"/><stop offset=".617" stop-color="#ff8500"/><stop offset=".675" stop-color="#ff9d00"/><stop offset=".752" stop-color="#ff9b00"/><stop offset=".791" stop-color="#ffa600"/><stop offset=".801" stop-color="#ffad00"/><stop offset=".811" stop-color="#ffbd00"/><stop offset=".83" stop-color="#ffea00"/><stop offset=".84" stop-color="#ffff0a"/><stop offset=".85" stop-color="#ffff3b"/><stop offset=".869" stop-color="#ffffa8"/><stop offset=".888" stop-color="#ffffff"/><stop offset="1" stop-color="#ffffff"/></linearGradient>
<linearGradient id="g329" x1="0" y1="0" x2="0" y2="1"><stop offset="0" stop-color="#570000"/><stop offset=".112" stop-color="#730000"/><stop offset=".218" stop-color="#980000"/><stop offset=".316" stop-color="#c20000"/><stop offset=".432" stop-color="#fe0000"/><stop offset=".519" stop-color="#ff3200"/><stop offset=".617" stop-color="#ff8000"/><stop offset=".675" stop-color="#ff9300"/><stop offset=".762" stop-color="#ff8700"/><stop offset=".801" stop-color="#ff9000"/><stop offset=".811" stop-color="#ff9e00"/><stop offset=".83" stop-color="#ffc600"/><stop offset=".85" stop-color="#fffd00"/><stop offset=".869" stop-color="#ffff64"/><stop offset=".879" stop-color="#ffff91"/><stop offset=".898" stop-color="#ffffff"/><stop offset="1" stop-color="#ffffff"/></linearGradient>
<linearGradient id="g330" x1="0" y1="0" x2="0" y2="1"><stop offset="0" stop-color="#570000"/><stop offset=".112" stop-color="#730000"/><stop offset=".218" stop-color="#970000"/><stop offset=".316" stop-color="#c10000"/><stop offset=".432" stop-color="#fe0000"/><stop offset=".519" stop-color="#ff3100"/><stop offset=".607" stop-color="#ff7400"/><stop offset=".626" stop-color="#ff7e00"/><stop offset=".675" stop-color="#ff8a00"/><stop offset=".762" stop-color="#ff7200"/><stop offset=".801" stop-color="#ff7400"/><stop offset=".811" stop-color="#ff7f00"/><stop offset=".83" stop-color="#ffa200"/><stop offset=".85" stop-color="#ffd400"/><stop offset=".859" stop-color="#fff600"/><stop offset=".869" stop-color="#ffff21"/><stop offset=".879" stop-color="#ffff4d"/><stop offset=".888" stop-color="#ffff81"/><stop offset=".898" stop-color="#ffffbc"/><stop offset=".908" stop-color="#ffffff"/><stop offset="1" stop-color="#ffffff"/></linearGradient>
<linearGradient id="g331" x1="0" y1="0" x2="0" y2="1"><stop offset="0" stop-color="#570000"/><stop offset=".102" stop-color="#700000"/><stop offset=".209" stop-color="#930000"/><stop offset=".296" stop-color="#b80000"/><stop offset=".442" stop-color="#ff0300"/><stop offset=".519" stop-color="#ff2f00"/><stop offset=".607" stop-color="#ff7000"/><stop offset=".636" stop-color="#ff7b00"/><stop offset=".675" stop-color="#ff8100"/><stop offset=".772" stop-color="#ff5b00"/><stop offset=".801" stop-color="#ff5800"/><stop offset=".82" stop-color="#ff6d00"/><stop offset=".84" stop-color="#ff9200"/><stop offset=".85" stop-color="#ffab00"/><stop offset=".869" stop-color="#ffe800"/><stop offset=".879" stop-color="#ffff09"/><stop offset=".888" stop-color="#ffff3d"/><stop offset=".898" stop-color="#ffff79"/><stop offset=".917" stop-color="#ffffff"/><stop offset="1" stop-color="#ffffff"/></linearGradient>
<linearGradient id="g332" x1="0" y1="0" x2="0" y2="1"><stop offset="0" stop-color="#570000"/><stop offset=".102" stop-color="#700000"/><stop offset=".218" stop-color="#970000"/><stop offset=".306" stop-color="#bc0000"/><stop offset=".442" stop-color="#ff0200"/><stop offset=".519" stop-color="#ff2d00"/><stop offset=".607" stop-color="#ff6c00"/><stop offset=".636" stop-color="#ff7500"/><stop offset=".675" stop-color="#ff7900"/><stop offset=".772" stop-color="#ff4600"/><stop offset=".801" stop-color="#ff3c00"/><stop offset=".82" stop-color="#ff4c00"/><stop offset=".84" stop-color="#ff6b00"/><stop offset=".85" stop-color="#ff8200"/><stop offset=".879" stop-color="#ffd900"/><stop offset=".888" stop-color="#fffb00"/><stop offset=".898" stop-color="#ffff37"/><stop offset=".908" stop-color="#ffff7c"/><stop offset=".917" stop-color="#ffffca"/><stop offset=".927" stop-color="#ffffff"/><stop offset="1" stop-color="#ffffff"/></linearGradient>
<linearGradient id="g333" x1="0" y1="0" x2="0" y2="1"><stop offset="0" stop-color="#570000"/><stop offset=".102" stop-color="#700000"/><stop offset=".218" stop-color="#970000"/><stop offset=".306" stop-color="#bc0000"/><stop offset=".442" stop-color="#ff0200"/><stop offset=".519" stop-color="#ff2c00"/><stop offset=".607" stop-color="#ff6800"/><stop offset=".655" stop-color="#ff7200"/><stop offset=".675" stop-color="#ff7100"/><stop offset=".694" stop-color="#ff6800"/><stop offset=".782" stop-color="#ff2b00"/><stop offset=".801" stop-color="#ff2100"/><stop offset=".811" stop-color="#ff2500"/><stop offset=".83" stop-color="#ff3600"/><stop offset=".85" stop-color="#ff5900"/><stop offset=".879" stop-color="#ffad00"/><stop offset=".888" stop-color="#ffd000"/><stop offset=".898" stop-color="#fff900"/><stop offset=".908" stop-color="#ffff3d"/><stop offset=".917" stop-color="#ffff8d"/><stop offset=".927" stop-color="#ffffe5"/><stop offset=".937" stop-color="#ffffff"/><stop offset="1" stop-color="#ffffff"/></linearGradient>
<linearGradient id="g334" x1="0" y1="0" x2="0" y2="1"><stop offset="0" stop-color="#570000"/><stop offset=".102" stop-color="#700000"/><stop offset=".218" stop-color="#970000"/><stop offset=".316" stop-color="#c00000"/><stop offset=".442" stop-color="#ff0100"/><stop offset=".519" stop-color="#ff2b00"/><stop offset=".607" stop-color="#ff6500"/><stop offset=".646" stop-color="#ff6d00"/><stop offset=".675" stop-color="#ff6b00"/><stop offset=".684" stop-color="#ff6600"/><stop offset=".723" stop-color="#ff4a00"/><stop offset=".791" stop-color="#ff0e00"/><stop offset=".801" stop-color="#ff0700"/><stop offset=".811" stop-color="#ff0700"/><stop offset=".83" stop-color="#ff1200"/><stop offset=".85" stop-color="#ff3100"/><stop offset=".879" stop-color="#ff8200"/><stop offset=".888" stop-color="#ffa600"/><stop offset=".908" stop-color="#ffff02"/><stop offset=".917" stop-color="#ffff53"/><stop offset=".927" stop-color="#ffffad"/><stop offset=".937" stop-color="#ffffff"/><stop offset="1" stop-color="#ffffff"/></linearGradient>
<linearGradient id="g335" x1="0" y1="0" x2="0" y2="1"><stop offset="0" stop-color="#570000"/><stop offset=".102" stop-color="#700000"/><stop offset=".218" stop-color="#970000"/><stop offset=".316" stop-color="#c00000"/><stop offset=".442" stop-color="#ff0000"/><stop offset=".519" stop-color="#ff2900"/><stop offset=".607" stop-color="#ff6200"/><stop offset=".646" stop-color="#ff6800"/><stop offset=".675" stop-color="#ff6500"/><stop offset=".694" stop-color="#ff5800"/><stop offset=".733" stop-color="#ff3600"/><stop offset=".782" stop-color="#ff0100"/><stop offset=".801" stop-color="#ed0000"/><stop offset=".811" stop-color="#ea0000"/><stop offset=".83" stop-color="#ee0000"/><stop offset=".84" stop-color="#f70000"/><stop offset=".85" stop-color="#ff0800"/><stop offset=".859" stop-color="#ff1f00"/><stop offset=".879" stop-color="#ff5800"/><stop offset=".888" stop-color="#ff7d00"/><stop offset=".898" stop-color="#ffa900"/><stop offset=".908" stop-color="#ffdb00"/><stop offset=".917" stop-color="#ffff1d"/><stop offset=".927" stop-color="#ffff79"/><stop offset=".937" stop-color="#ffffdf"/><stop offset=".947" stop-color="#ffffff"/><stop offset="1" stop-color="#ffffff"/></linearGradient>
<linearGradient id="g336" x1="0" y1="0" x2="0" y2="1"><stop offset="0" stop-color="#570000"/><stop offset=".102" stop-color="#700000"/><stop offset=".218" stop-color="#960000"/><stop offset=".316" stop-color="#c00000"/><stop offset=".442" stop-color="#ff0000"/><stop offset=".519" stop-color="#ff2800"/><stop offset=".607" stop-color="#ff6000"/><stop offset=".636" stop-color="#ff6500"/><stop offset=".665" stop-color="#ff6200"/><stop offset=".684" stop-color="#ff5900"/><stop offset=".723" stop-color="#ff3700"/><stop offset=".762" stop-color="#ff0900"/><stop offset=".772" stop-color="#fb0000"/><stop offset=".801" stop-color="#d50000"/><stop offset=".82" stop-color="#cb0000"/><stop offset=".84" stop-color="#d10000"/><stop offset=".85" stop-color="#df0000"/><stop offset=".859" stop-color="#f40000"/><stop offset=".869" stop-color="#ff1100"/><stop offset=".879" stop-color="#ff3000"/><stop offset=".888" stop-color="#ff5700"/><stop offset=".898" stop-color="#ff8500"/><stop offset=".917" stop-color="#fff200"/><stop offset=".927" stop-color="#ffff4b"/><stop offset=".937" stop-color="#ffffb2"/><stop offset=".947" stop-color="#ffffff"/><stop offset="1" stop-color="#ffffff"/></linearGradient>
<linearGradient id="g337" x1="0" y1="0" x2="0" y2="1"><stop offset="0" stop-color="#570000"/><stop offset=".102" stop-color="#700000"/><stop offset=".218" stop-color="#960000"/><stop offset=".316" stop-color="#c00000"/><stop offset=".442" stop-color="#ff0000"/><stop offset=".519" stop-color="#ff2800"/><stop offset=".607" stop-color="#ff5e00"/><stop offset=".636" stop-color="#ff6200"/><stop offset=".665" stop-color="#ff5e00"/><stop offset=".684" stop-color="#ff5400"/><stop offset=".714" stop-color="#ff3a00"/><stop offset=".752" stop-color="#ff0a00"/><stop offset=".762" stop-color="#fb0000"/><stop offset=".801" stop-color="#bf0000"/><stop offset=".82" stop-color="#ad0000"/><stop offset=".83" stop-color="#a90000"/><stop offset=".84" stop-color="#ab0000"/><stop offset=".85" stop-color="#b60000"/><stop offset=".859" stop-color="#cb0000"/><stop offset=".869" stop-color="#e80000"/><stop offset=".879" stop-color="#ff0a00"/><stop offset=".888" stop-color="#ff3400"/><stop offset=".898" stop-color="#ff6400"/><stop offset=".917" stop-color="#ffd500"/><stop offset=".927" stop-color="#ffff22"/><stop offset=".937" stop-color="#ffff8c"/><stop offset=".947" stop-color="#fffffe"/><stop offset="1" stop-color="#ffffff"/></linearGradient>
<linearGradient id="g338" x1="0" y1="0" x2="0" y2="1"><stop offset="0" stop-color="#570000"/><stop offset=".102" stop-color="#700000"/><stop offset=".218" stop-color="#960000"/><stop offset=".316" stop-color="#bf0000"/><stop offset=".442" stop-color="#fe0000"/><stop offset=".519" stop-color="#ff2700"/><stop offset=".607" stop-color="#ff5c00"/><stop offset=".626" stop-color="#ff6000"/><stop offset=".665" stop-color="#ff5b00"/><stop offset=".684" stop-color="#ff5000"/><stop offset=".723" stop-color="#ff2900"/><stop offset=".752" stop-color="#ff0100"/><stop offset=".811" stop-color="#9d0000"/><stop offset=".83" stop-color="#870000"/><stop offset=".84" stop-color="#850000"/><stop offset=".85" stop-color="#8e0000"/><stop offset=".859" stop-color="#a30000"/><stop offset=".869" stop-color="#c20000"/><stop offset=".879" stop-color="#e70000"/><stop offset=".888" stop-color="#ff1500"/><stop offset=".898" stop-color="#ff4700"/><stop offset=".908" stop-color="#ff7f00"/><stop offset=".927" stop-color="#ffff01"/><stop offset=".937" stop-color="#ffff6d"/><stop offset=".947" stop-color="#ffffe0"/><stop offset=".956" stop-color="#ffffff"/><stop offset="1" stop-color="#ffffff"/></linearGradient>
<linearGradient id="g339" x1="0" y1="0" x2="0" y2="1"><stop offset="0" stop-color="#570000"/><stop offset=".102" stop-color="#700000"/><stop offset=".209" stop-color="#930000"/><stop offset=".316" stop-color="#bf0000"/><stop offset=".442" stop-color="#fe0000"/><stop offset=".451" stop-color="#ff0400"/><stop offset=".519" stop-color="#ff2700"/><stop offset=".607" stop-color="#ff5b00"/><stop offset=".626" stop-color="#ff5e00"/><stop offset=".675" stop-color="#ff5500"/><stop offset=".714" stop-color="#ff3000"/><stop offset=".743" stop-color="#ff0900"/><stop offset=".752" stop-color="#f90000"/><stop offset=".772" stop-color="#d70000"/><stop offset=".82" stop-color="#760000"/><stop offset=".83" stop-color="#670000"/><stop offset=".84" stop-color="#600000"/><stop offset=".85" stop-color="#660000"/><stop offset=".859" stop-color="#7d0000"/><stop offset=".869" stop-color="#a00000"/><stop offset=".879" stop-color="#ca0000"/><stop offset=".888" stop-color="#fa0000"/><stop offset=".898" stop-color="#ff3000"/><stop offset=".908" stop-color="#ff6b00"/><stop offset=".927" stop-color="#ffef00"/><stop offset=".937" stop-color="#ffff55"/><stop offset=".947" stop-color="#ffffca"/><stop offset=".956" stop-color="#ffffff"/><stop offset="1" stop-color="#ffffff"/></linearGradient>
<linearGradient id="g340" x1="0" y1="0" x2="0" y2="1"><stop offset="0" stop-color="#570000"/><stop offset=".102" stop-color="#700000"/><stop offset=".218" stop-color="#960000"/><stop offset=".316" stop-color="#bf0000"/><stop offset=".442" stop-color="#fe0000"/><stop offset=".519" stop-color="#ff2600"/><stop offset=".607" stop-color="#ff5a00"/><stop offset=".626" stop-color="#ff5d00"/><stop offset=".675" stop-color="#ff5300"/><stop offset=".714" stop-color="#ff2d00"/><stop offset=".743" stop-color="#ff0500"/><stop offset=".752" stop-color="#f40000"/><stop offset=".772" stop-color="#d00000"/><stop offset=".83" stop-color="#4a0000"/><stop offset=".84" stop-color="#3a0000"/><stop offset=".85" stop-color="#3f0000"/><stop offset=".859" stop-color="#5c0000"/><stop offset=".869" stop-color="#850000"/><stop offset=".888" stop-color="#e80000"/><stop offset=".898" stop-color="#ff2100"/><stop offset=".917" stop-color="#ff9e00"/><stop offset=".927" stop-color="#ffe300"/><stop offset=".937" stop-color="#ffff46"/><stop offset=".947" stop-color="#ffffbc"/><stop offset=".956" stop-color="#ffffff"/><stop offset="1" stop-color="#ffffff"/></linearGradient>
<linearGradient id="g341" x1="0" y1="0" x2="0" y2="1"><stop offset="0" stop-color="#570000"/><stop offset=".102" stop-color="#700000"/><stop offset=".218" stop-color="#960000"/><stop offset=".316" stop-color="#bf0000"/><stop offset=".442" stop-color="#fe0000"/><stop offset=".519" stop-color="#ff2600"/><stop offset=".607" stop-color="#ff5a00"/><stop offset=".626" stop-color="#ff5d00"/><stop offset=".675" stop-color="#ff5200"/><stop offset=".714" stop-color="#ff2c00"/><stop offset=".743" stop-color="#ff0300"/><stop offset=".762" stop-color="#e00000"/><stop offset=".791" stop-color="#a10000"/><stop offset=".82" stop-color="#550000"/><stop offset=".84" stop-color="#180000"/><stop offset=".85" stop-color="#1d0000"/><stop offset=".859" stop-color="#460000"/><stop offset=".869" stop-color="#760000"/><stop offset=".888" stop-color="#de0000"/><stop offset=".898" stop-color="#ff1900"/><stop offset=".917" stop-color="#ff9800"/><stop offset=".927" stop-color="#ffde00"/><stop offset=".937" stop-color="#ffff3f"/><stop offset=".947" stop-color="#ffffb6"/><stop offset=".956" stop-color="#ffffff"/><stop offset="1" stop-color="#ffffff"/></linearGradient>
<linearGradient id="g342" x1="0" y1="0" x2="0" y2="1"><stop offset="0" stop-color="#570000"/><stop offset=".102" stop-color="#700000"/><stop offset=".218" stop-color="#960000"/><stop offset=".316" stop-color="#bf0000"/><stop offset=".442" stop-color="#fe0000"/><stop offset=".519" stop-color="#ff2600"/><stop offset=".607" stop-color="#ff5a00"/><stop offset=".626" stop-color="#ff5d00"/><stop offset=".675" stop-color="#ff5200"/><stop offset=".714" stop-color="#ff2c00"/><stop offset=".743" stop-color="#ff0300"/><stop offset=".762" stop-color="#e00000"/><stop offset=".791" stop-color="#a10000"/><stop offset=".811" stop-color="#700000"/><stop offset=".84" stop-color="#1b0000"/><stop offset=".85" stop-color="#200000"/><stop offset=".859" stop-color="#480000"/><stop offset=".869" stop-color="#770000"/><stop offset=".888" stop-color="#df0000"/><stop offset=".898" stop-color="#ff1a00"/><stop offset=".917" stop-color="#ff9900"/><stop offset=".927" stop-color="#ffdf00"/><stop offset=".937" stop-color="#ffff40"/><stop offset=".947" stop-color="#ffffb8"/><stop offset=".956" stop-color="#ffffff"/><stop offset="1" stop-color="#ffffff"/></linearGradient>
<linearGradient id="g343" x1="0" y1="0" x2="0" y2="1"><stop offset="0" stop-color="#570000"/><stop offset=".102" stop-color="#700000"/><stop offset=".218" stop-color="#960000"/><stop offset=".316" stop-color="#bf0000"/><stop offset=".442" stop-color="#fe0000"/><stop offset=".519" stop-color="#ff2700"/><stop offset=".607" stop-color="#ff5a00"/><stop offset=".626" stop-color="#ff5e00"/><stop offset=".675" stop-color="#ff5300"/><stop offset=".714" stop-color="#ff2e00"/><stop offset=".743" stop-color="#ff0500"/><stop offset=".752" stop-color="#f40000"/><stop offset=".772" stop-color="#d00000"/><stop offset=".83" stop-color="#4c0000"/><stop offset=".84" stop-color="#3d0000"/><stop offset=".85" stop-color="#430000"/><stop offset=".859" stop-color="#5f0000"/><stop offset=".869" stop-color="#880000"/><stop offset=".888" stop-color="#ea0000"/><stop offset=".898" stop-color="#ff2300"/><stop offset=".917" stop-color="#ffa100"/><stop offset=".927" stop-color="#ffe600"/><stop offset=".937" stop-color="#ffff4a"/><stop offset=".947" stop-color="#ffffc1"/><stop offset=".956" stop-color="#ffffff"/><stop offset="1" stop-color="#ffffff"/></linearGradient>
<linearGradient id="g344" x1="0" y1="0" x2="0" y2="1"><stop offset="0" stop-color="#570000"/><stop offset=".102" stop-color="#700000"/><stop offset=".209" stop-color="#930000"/><stop offset=".316" stop-color="#c00000"/><stop offset=".442" stop-color="#ff0000"/><stop offset=".451" stop-color="#ff0500"/><stop offset=".519" stop-color="#ff2700"/><stop offset=".607" stop-color="#ff5b00"/><stop offset=".626" stop-color="#ff5f00"/><stop offset=".675" stop-color="#ff5500"/><stop offset=".714" stop-color="#ff3100"/><stop offset=".743" stop-color="#ff0a00"/><stop offset=".752" stop-color="#f90000"/><stop offset=".762" stop-color="#e90000"/><stop offset=".82" stop-color="#780000"/><stop offset=".83" stop-color="#690000"/><stop offset=".84" stop-color="#630000"/><stop offset=".85" stop-color="#6a0000"/><stop offset=".859" stop-color="#820000"/><stop offset=".869" stop-color="#a40000"/><stop offset=".879" stop-color="#ce0000"/><stop offset=".888" stop-color="#fe0000"/><stop offset=".908" stop-color="#ff7000"/><stop offset=".927" stop-color="#fff300"/><stop offset=".937" stop-color="#ffff5d"/><stop offset=".947" stop-color="#ffffd2"/><stop offset=".956" stop-color="#ffffff"/><stop offset="1" stop-color="#ffffff"/></linearGradient>
<linearGradient id="g345" x1="0" y1="0" x2="0" y2="1"><stop offset="0" stop-color="#570000"/><stop offset=".102" stop-color="#700000"/><stop offset=".218" stop-color="#960000"/><stop offset=".316" stop-color="#c00000"/><stop offset=".442" stop-color="#ff0000"/><stop offset=".519" stop-color="#ff2800"/><stop offset=".607" stop-color="#ff5d00"/><stop offset=".626" stop-color="#ff6100"/><stop offset=".665" stop-color="#ff5c00"/><stop offset=".684" stop-color="#ff5100"/><stop offset=".723" stop-color="#ff2a00"/><stop offset=".752" stop-color="#ff0200"/><stop offset=".811" stop-color="#9e0000"/><stop offset=".83" stop-color="#8a0000"/><stop offset=".84" stop-color="#890000"/><stop offset=".85" stop-color="#930000"/><stop offset=".859" stop-color="#a80000"/><stop offset=".869" stop-color="#c70000"/><stop offset=".879" stop-color="#ed0000"/><stop offset=".888" stop-color="#ff1a00"/><stop offset=".898" stop-color="#ff4d00"/><stop offset=".917" stop-color="#ffc300"/><stop offset=".927" stop-color="#ffff0b"/><stop offset=".937" stop-color="#ffff77"/><stop offset=".947" stop-color="#ffffec"/><stop offset=".956" stop-color="#ffffff"/><stop offset="1" stop-color="#ffffff"/></linearGradient>
<linearGradient id="g346" x1="0" y1="0" x2="0" y2="1"><stop offset="0" stop-color="#570000"/><stop offset=".102" stop-color="#700000"/><stop offset=".218" stop-color="#970000"/><stop offset=".316" stop-color="#c00000"/><stop offset=".442" stop-color="#ff0000"/><stop offset=".519" stop-color="#ff2900"/><stop offset=".607" stop-color="#ff5f00"/><stop offset=".636" stop-color="#ff6300"/><stop offset=".665" stop-color="#ff5f00"/><stop offset=".684" stop-color="#ff5600"/><stop offset=".723" stop-color="#ff3000"/><stop offset=".762" stop-color="#fc0000"/><stop offset=".801" stop-color="#c10000"/><stop offset=".82" stop-color="#af0000"/><stop offset=".83" stop-color="#ac0000"/><stop offset=".84" stop-color="#b00000"/><stop offset=".85" stop-color="#bb0000"/><stop offset=".859" stop-color="#d10000"/><stop offset=".869" stop-color="#ee0000"/><stop offset=".879" stop-color="#ff1100"/><stop offset=".888" stop-color="#ff3b00"/><stop offset=".898" stop-color="#ff6b00"/><stop offset=".917" stop-color="#ffdd00"/><stop offset=".927" stop-color="#ffff2f"/><stop offset=".947" stop-color="#ffffff"/><stop offset="1" stop-color="#ffffff"/></linearGradient>
<linearGradient id="g347" x1="0" y1="0" x2="0" y2="1"><stop offset="0" stop-color="#570000"/><stop offset=".102" stop-color="#700000"/><stop offset=".218" stop-color="#970000"/><stop offset=".316" stop-color="#c00000"/><stop offset=".442" stop-color="#ff0100"/><stop offset=".519" stop-color="#ff2a00"/><stop offset=".607" stop-color="#ff6100"/><stop offset=".636" stop-color="#ff6600"/><stop offset=".665" stop-color="#ff6300"/><stop offset=".684" stop-color="#ff5b00"/><stop offset=".723" stop-color="#ff3800"/><stop offset=".772" stop-color="#fd0000"/><stop offset=".801" stop-color="#d80000"/><stop offset=".82" stop-color="#ce0000"/><stop offset=".84" stop-color="#d60000"/><stop offset=".85" stop-color="#e40000"/><stop offset=".859" stop-color="#fb0000"/><stop offset=".869" stop-color="#ff1800"/><stop offset=".879" stop-color="#ff3800"/><stop offset=".888" stop-color="#ff5f00"/><stop offset=".898" stop-color="#ff8d00"/><stop offset=".917" stop-color="#fffc00"/><stop offset=".927" stop-color="#ffff5b"/><stop offset=".937" stop-color="#ffffc3"/><stop offset=".947" stop-color="#ffffff"/><stop offset="1" stop-color="#ffffff"/></linearGradient>
<linearGradient id="g348" x1="0" y1="0" x2="0" y2="1"><stop offset="0" stop-color="#570000"/><stop offset=".102" stop-color="#700000"/><stop offset=".218" stop-color="#970000"/><stop offset=".306" stop-color="#bc0000"/><stop offset=".442" stop-color="#ff0100"/><stop offset=".519" stop-color="#ff2b00"/><stop offset=".607" stop-color="#ff6400"/><stop offset=".646" stop-color="#ff6a00"/><stop offset=".675" stop-color="#ff6700"/><stop offset=".694" stop-color="#ff5a00"/><stop offset=".733" stop-color="#ff3800"/><stop offset=".782" stop-color="#ff0400"/><stop offset=".801" stop-color="#f00000"/><stop offset=".811" stop-color="#ed0000"/><stop offset=".83" stop-color="#f30000"/><stop offset=".84" stop-color="#fd0000"/><stop offset=".85" stop-color="#ff0f00"/><stop offset=".859" stop-color="#ff2700"/><stop offset=".879" stop-color="#ff6100"/><stop offset=".888" stop-color="#ff8700"/><stop offset=".898" stop-color="#ffb300"/><stop offset=".908" stop-color="#ffe600"/><stop offset=".917" stop-color="#ffff2e"/><stop offset=".927" stop-color="#ffff8c"/><stop offset=".937" stop-color="#fffff2"/><stop offset=".947" stop-color="#ffffff"/><stop offset="1" stop-color="#ffffff"/></linearGradient>
<linearGradient id="g349" x1="0" y1="0" x2="0" y2="1"><stop offset="0" stop-color="#570000"/><stop offset=".102" stop-color="#700000"/><stop offset=".218" stop-color="#970000"/><stop offset=".316" stop-color="#c10000"/><stop offset=".432" stop-color="#fc0000"/><stop offset=".519" stop-color="#ff2c00"/><stop offset=".607" stop-color="#ff6700"/><stop offset=".646" stop-color="#ff6f00"/><stop offset=".675" stop-color="#ff6d00"/><stop offset=".684" stop-color="#ff6800"/><stop offset=".723" stop-color="#ff4c00"/><stop offset=".791" stop-color="#ff1100"/><stop offset=".801" stop-color="#ff0b00"/><stop offset=".811" stop-color="#ff0c00"/><stop offset=".83" stop-color="#ff1800"/><stop offset=".85" stop-color="#ff3800"/><stop offset=".879" stop-color="#ff8c00"/><stop offset=".888" stop-color="#ffb100"/><stop offset=".898" stop-color="#ffdc00"/><stop offset=".908" stop-color="#ffff14"/><stop offset=".917" stop-color="#ffff67"/><stop offset=".927" stop-color="#ffffc3"/><stop offset=".937" stop-color="#ffffff"/><stop offset="1" stop-color="#ffffff"/></linearGradient>
<linearGradient id="g350" x1="0" y1="0" x2="0" y2="1"><stop offset="0" stop-color="#570000"/><stop offset=".102" stop-color="#700000"/><stop offset=".218" stop-color="#970000"/><stop offset=".316" stop-color="#c10000"/><stop offset=".432" stop-color="#fd0000"/><stop offset=".519" stop-color="#ff2e00"/><stop offset=".607" stop-color="#ff6b00"/><stop offset=".617" stop-color="#ff7000"/><stop offset=".655" stop-color="#ff7500"/><stop offset=".684" stop-color="#ff7000"/><stop offset=".772" stop-color="#ff3500"/><stop offset=".801" stop-color="#ff2600"/><stop offset=".82" stop-color="#ff3100"/><stop offset=".84" stop-color="#ff4c00"/><stop offset=".85" stop-color="#ff6200"/><stop offset=".859" stop-color="#ff7e00"/><stop offset=".879" stop-color="#ffb800"/><stop offset=".888" stop-color="#ffdc00"/><stop offset=".898" stop-color="#ffff0b"/><stop offset=".908" stop-color="#ffff53"/><stop offset=".917" stop-color="#ffffa4"/><stop offset=".927" stop-color="#fffffe"/><stop offset="1" stop-color="#ffffff"/></linearGradient>
<linearGradient id="g351" x1="0" y1="0" x2="0" y2="1"><stop offset="0" stop-color="#570000"/><stop offset=".102" stop-color="#700000"/><stop offset=".218" stop-color="#970000"/><stop offset=".316" stop-color="#c10000"/><stop offset=".432" stop-color="#fe0000"/><stop offset=".519" stop-color="#ff2f00"/><stop offset=".607" stop-color="#ff6f00"/><stop offset=".636" stop-color="#ff7900"/><stop offset=".675" stop-color="#ff7c00"/><stop offset=".772" stop-color="#ff4a00"/><stop offset=".801" stop-color="#ff4200"/><stop offset=".82" stop-color="#ff5300"/><stop offset=".84" stop-color="#ff7400"/><stop offset=".85" stop-color="#ff8c00"/><stop offset=".879" stop-color="#ffe600"/><stop offset=".888" stop-color="#ffff0f"/><stop offset=".898" stop-color="#ffff4d"/><stop offset=".908" stop-color="#ffff94"/><stop offset=".917" stop-color="#ffffe4"/><stop offset=".927" stop-color="#ffffff"/><stop offset="1" stop-color="#ffffff"/></linearGradient>
<linearGradient id="g352" x1="0" y1="0" x2="0" y2="1"><stop offset="0" stop-color="#570000"/><stop offset=".112" stop-color="#730000"/><stop offset=".218" stop-color="#980000"/><stop offset=".316" stop-color="#c20000"/><stop offset=".432" stop-color="#fe0000"/><stop offset=".519" stop-color="#ff3100"/><stop offset=".607" stop-color="#ff7300"/><stop offset=".626" stop-color="#ff7c00"/><stop offset=".675" stop-color="#ff8500"/><stop offset=".762" stop-color="#ff6200"/><stop offset=".801" stop-color="#ff5e00"/><stop offset=".82" stop-color="#ff7500"/><stop offset=".84" stop-color="#ff9b00"/><stop offset=".85" stop-color="#ffb600"/><stop offset=".869" stop-color="#fff600"/><stop offset=".879" stop-color="#ffff1f"/><stop offset=".888" stop-color="#ffff54"/><stop offset=".898" stop-color="#ffff92"/><stop offset=".908" stop-color="#ffffd8"/><stop offset=".917" stop-color="#ffffff"/><stop offset="1" stop-color="#ffffff"/></linearGradient>
<linearGradient id="g353" x1="0" y1="0" x2="0" y2="1"><stop offset="0" stop-color="#570000"/><stop offset=".112" stop-color="#730000"/><stop offset=".218" stop-color="#980000"/><stop offset=".316" stop-color="#c20000"/><stop offset=".432" stop-color="#ff0000"/><stop offset=".519" stop-color="#ff3300"/><stop offset=".607" stop-color="#ff7800"/><stop offset=".626" stop-color="#ff8200"/><stop offset=".675" stop-color="#ff8e00"/><stop offset=".762" stop-color="#ff7700"/><stop offset=".801" stop-color="#ff7b00"/><stop offset=".811" stop-color="#ff8700"/><stop offset=".83" stop-color="#ffab00"/><stop offset=".85" stop-color="#ffe000"/><stop offset=".859" stop-color="#ffff06"/><stop offset=".879" stop-color="#ffff65"/><stop offset=".888" stop-color="#ffff9a"/><stop offset=".898" stop-color="#ffffd8"/><stop offset=".908" stop-color="#ffffff"/><stop offset="1" stop-color="#ffffff"/></linearGradient>
<linearGradient id="g354" x1="0" y1="0" x2="0" y2="1"><stop offset="0" stop-color="#570000"/><stop offset=".112" stop-color="#740000"/><stop offset=".218" stop-color="#980000"/><stop offset=".316" stop-color="#c30000"/><stop offset=".432" stop-color="#ff0100"/><stop offset=".519" stop-color="#ff3500"/><stop offset=".617" stop-color="#ff8400"/><stop offset=".675" stop-color="#ff9800"/><stop offset=".762" stop-color="#ff8d00"/><stop offset=".801" stop-color="#ff9800"/><stop offset=".82" stop-color="#ffba00"/><stop offset=".84" stop-color="#ffeb00"/><stop offset=".85" stop-color="#ffff12"/><stop offset=".859" stop-color="#ffff49"/><stop offset=".879" stop-color="#ffffab"/><stop offset=".888" stop-color="#ffffe1"/><stop offset=".898" stop-color="#ffffff"/><stop offset="1" stop-color="#ffffff"/></linearGradient>
<linearGradient id="g355" x1="0" y1="0" x2="0" y2="1"><stop offset="0" stop-color="#580000"/><stop offset=".112" stop-color="#740000"/><stop offset=".218" stop-color="#980000"/><stop offset=".306" stop-color="#be0000"/><stop offset=".432" stop-color="#ff0300"/><stop offset=".519" stop-color="#ff3800"/><stop offset=".617" stop-color="#ff8b00"/><stop offset=".675" stop-color="#ffa300"/><stop offset=".752" stop-color="#ffa200"/><stop offset=".791" stop-color="#ffaf00"/><stop offset=".801" stop-color="#ffb600"/><stop offset=".811" stop-color="#ffc700"/><stop offset=".83" stop-color="#fff600"/><stop offset=".84" stop-color="#ffff1e"/><stop offset=".85" stop-color="#ffff51"/><stop offset=".869" stop-color="#ffffc3"/><stop offset=".879" stop-color="#fffff2"/><stop offset=".888" stop-color="#ffffff"/><stop offset="1" stop-color="#ffffff"/></linearGradient>
<linearGradient id="g356" x1="0" y1="0" x2="0" y2="1"><stop offset="0" stop-color="#580000"/><stop offset=".112" stop-color="#740000"/><stop offset=".218" stop-color="#990000"/><stop offset=".316" stop-color="#c40000"/><stop offset=".422" stop-color="#fd0000"/><stop offset=".519" stop-color="#ff3a00"/><stop offset=".617" stop-color="#ff9100"/><stop offset=".675" stop-color="#ffae00"/><stop offset=".743" stop-color="#ffb400"/><stop offset=".782" stop-color="#ffc400"/><stop offset=".801" stop-color="#ffd400"/><stop offset=".82" stop-color="#ffff01"/><stop offset=".83" stop-color="#ffff2b"/><stop offset=".84" stop-color="#ffff5b"/><stop offset=".85" stop-color="#ffff92"/><stop offset=".859" stop-color="#ffffd1"/><stop offset=".869" stop-color="#ffffff"/><stop offset="1" stop-color="#ffffff"/></linearGradient>
<linearGradient id="g357" x1="0" y1="0" x2="0" y2="1"><stop offset="0" stop-color="#580000"/><stop offset=".112" stop-color="#740000"/><stop offset=".218" stop-color="#990000"/><stop offset=".316" stop-color="#c40000"/><stop offset=".422" stop-color="#fe0000"/><stop offset=".519" stop-color="#ff3d00"/><stop offset=".617" stop-color="#ff9800"/><stop offset=".675" stop-color="#ffb900"/><stop offset=".752" stop-color="#ffcc00"/><stop offset=".782" stop-color="#ffdf00"/><stop offset=".801" stop-color="#fff200"/><stop offset=".811" stop-color="#ffff0e"/><stop offset=".82" stop-color="#ffff36"/><stop offset=".83" stop-color="#ffff63"/><stop offset=".84" stop-color="#ffff97"/><stop offset=".85" stop-color="#ffffd2"/><stop offset=".859" stop-color="#ffffff"/><stop offset="1" stop-color="#ffffff"/></linearGradient>
<linearGradient id="g358" x1="0" y1="0" x2="0" y2="1"><stop offset="0" stop-color="#580000"/><stop offset=".112" stop-color="#740000"/><stop offset=".218" stop-color="#990000"/><stop offset=".316" stop-color="#c50000"/><stop offset=".422" stop-color="#ff0000"/><stop offset=".519" stop-color="#ff3f00"/><stop offset=".617" stop-color="#ff9f00"/><stop offset=".675" stop-color="#ffc500"/><stop offset=".743" stop-color="#ffdd00"/><stop offset=".782" stop-color="#fffa00"/><stop offset=".791" stop-color="#ffff08"/><stop offset=".801" stop-color="#ffff1b"/><stop offset=".811" stop-color="#ffff3f"/><stop offset=".83" stop-color="#ffff9c"/><stop offset=".84" stop-color="#ffffd3"/><stop offset=".85" stop-color="#ffffff"/><stop offset="1" stop-color="#ffffff"/></linearGradient>
<linearGradient id="g359" x1="0" y1="0" x2="0" y2="1"><stop offset="0" stop-color="#580000"/><stop offset=".112" stop-color="#740000"/><stop offset=".218" stop-color="#9a0000"/><stop offset=".306" stop-color="#c10000"/><stop offset=".422" stop-color="#ff0200"/><stop offset=".519" stop-color="#ff4200"/><stop offset=".568" stop-color="#ff7100"/><stop offset=".617" stop-color="#ffa600"/><stop offset=".675" stop-color="#ffd200"/><stop offset=".723" stop-color="#ffe600"/><stop offset=".752" stop-color="#fff900"/><stop offset=".762" stop-color="#ffff03"/><stop offset=".772" stop-color="#ffff11"/><stop offset=".801" stop-color="#ffff48"/><stop offset=".811" stop-color="#ffff70"/><stop offset=".83" stop-color="#ffffd4"/><stop offset=".84" stop-color="#ffffff"/><stop offset="1" stop-color="#ffffff"/></linearGradient>
<linearGradient id="g360" x1="0" y1="0" x2="0" y2="1"><stop offset="0" stop-color="#580000"/><stop offset=".102" stop-color="#720000"/><stop offset=".209" stop-color="#960000"/><stop offset=".306" stop-color="#c10000"/><stop offset=".422" stop-color="#ff0300"/><stop offset=".519" stop-color="#ff4500"/><stop offset=".568" stop-color="#ff7600"/><stop offset=".617" stop-color="#ffae00"/><stop offset=".675" stop-color="#ffdf00"/><stop offset=".733" stop-color="#ffff01"/><stop offset=".752" stop-color="#ffff19"/><stop offset=".772" stop-color="#ffff37"/><stop offset=".801" stop-color="#ffff76"/><stop offset=".83" stop-color="#ffffff"/><stop offset="1" stop-color="#ffffff"/></linearGradient>
<linearGradient id="g361" x1="0" y1="0" x2="0" y2="1"><stop offset="0" stop-color="#580000"/><stop offset=".112" stop-color="#750000"/><stop offset=".218" stop-color="#9b0000"/><stop offset=".316" stop-color="#c70000"/><stop offset=".413" stop-color="#fd0000"/><stop offset=".461" stop-color="#ff1e00"/><stop offset=".519" stop-color="#ff4800"/><stop offset=".568" stop-color="#ff7a00"/><stop offset=".617" stop-color="#ffb600"/><stop offset=".675" stop-color="#ffec00"/><stop offset=".704" stop-color="#fffd00"/><stop offset=".723" stop-color="#ffff13"/><stop offset=".743" stop-color="#ffff2c"/><stop offset=".762" stop-color="#ffff4b"/><stop offset=".782" stop-color="#ffff73"/><stop offset=".801" stop-color="#ffffa4"/><stop offset=".82" stop-color="#ffffff"/><stop offset="1" stop-color="#ffffff"/></linearGradient>
<linearGradient id="g362" x1="0" y1="0" x2="0" y2="1"><stop offset="0" stop-color="#580000"/><stop offset=".112" stop-color="#750000"/><stop offset=".218" stop-color="#9b0000"/><stop offset=".316" stop-color="#c70000"/><stop offset=".413" stop-color="#ff0000"/><stop offset=".519" stop-color="#ff4b00"/><stop offset=".568" stop-color="#ff8000"/><stop offset=".617" stop-color="#ffbe00"/><stop offset=".675" stop-color="#fff900"/><stop offset=".684" stop-color="#ffff01"/><stop offset=".723" stop-color="#ffff2f"/><stop offset=".743" stop-color="#ffff4c"/><stop offset=".762" stop-color="#ffff70"/><stop offset=".782" stop-color="#ffff9c"/><stop offset=".801" stop-color="#ffffd1"/><stop offset=".811" stop-color="#ffffff"/><stop offset="1" stop-color="#ffffff"/></linearGradient>
<linearGradient id="g363" x1="0" y1="0" x2="0" y2="1"><stop offset="0" stop-color="#590000"/><stop offset=".112" stop-color="#750000"/><stop offset=".218" stop-color="#9b0000"/><stop offset=".316" stop-color="#c80000"/><stop offset=".413" stop-color="#ff0100"/><stop offset=".519" stop-color="#ff4f00"/><stop offset=".568" stop-color="#ff8500"/><stop offset=".617" stop-color="#ffc700"/><stop offset=".665" stop-color="#fffb00"/><stop offset=".675" stop-color="#ffff0b"/><stop offset=".714" stop-color="#ffff3d"/><stop offset=".743" stop-color="#ffff6d"/><stop offset=".772" stop-color="#ffffab"/><stop offset=".801" stop-color="#ffffff"/><stop offset="1" stop-color="#ffffff"/></linearGradient>
<linearGradient id="g364" x1="0" y1="0" x2="0" y2="1"><stop offset="0" stop-color="#590000"/><stop offset=".102" stop-color="#730000"/><stop offset=".209" stop-color="#980000"/><stop offset=".306" stop-color="#c40000"/><stop offset=".413" stop-color="#ff0200"/><stop offset=".519" stop-color="#ff5200"/><stop offset=".558" stop-color="#ff7e00"/><stop offset=".617" stop-color="#ffcf00"/><stop offset=".655" stop-color="#fffb00"/><stop offset=".665" stop-color="#ffff0d"/><stop offset=".675" stop-color="#ffff20"/><stop offset=".714" stop-color="#ffff57"/><stop offset=".733" stop-color="#ffff7a"/><stop offset=".762" stop-color="#ffffb9"/><stop offset=".782" stop-color="#ffffed"/><stop offset=".791" stop-color="#ffffff"/><stop offset="1" stop-color="#ffffff"/></linearGradient>
<linearGradient id="g365" x1="0" y1="0" x2="0" y2="1"><stop offset="0" stop-color="#590000"/><stop offset=".102" stop-color="#730000"/><stop offset=".209" stop-color="#980000"/><stop offset=".296" stop-color="#bf0000"/><stop offset=".403" stop-color="#fc0000"/><stop offset=".413" stop-color="#ff0400"/><stop offset=".471" stop-color="#ff2d00"/><stop offset=".519" stop-color="#ff5500"/><stop offset=".568" stop-color="#ff8f00"/><stop offset=".617" stop-color="#ffd800"/><stop offset=".646" stop-color="#fffa00"/><stop offset=".655" stop-color="#ffff0c"/><stop offset=".675" stop-color="#ffff34"/><stop offset=".723" stop-color="#ffff84"/><stop offset=".752" stop-color="#ffffc4"/><stop offset=".772" stop-color="#fffff8"/><stop offset=".782" stop-color="#ffffff"/><stop offset="1" stop-color="#ffffff"/></linearGradient>
<linearGradient id="g366" x1="0" y1="0" x2="0" y2="1"><stop offset="0" stop-color="#590000"/><stop offset=".112" stop-color="#760000"/><stop offset=".218" stop-color="#9d0000"/><stop offset=".316" stop-color="#ca0000"/><stop offset=".403" stop-color="#fe0000"/><stop offset=".461" stop-color="#ff2800"/><stop offset=".519" stop-color="#ff5900"/><stop offset=".568" stop-color="#ff9500"/><stop offset=".617" stop-color="#ffe000"/><stop offset=".636" stop-color="#fff800"/><stop offset=".646" stop-color="#ffff09"/><stop offset=".675" stop-color="#ffff49"/><stop offset=".714" stop-color="#ffff8d"/><stop offset=".733" stop-color="#ffffb6"/><stop offset=".762" stop-color="#ffffff"/><stop offset="1" stop-color="#ffffff"/></linearGradient>
<linearGradient id="g367" x1="0" y1="0" x2="0" y2="1"><stop offset="0" stop-color="#590000"/><stop offset=".112" stop-color="#760000"/><stop offset=".218" stop-color="#9d0000"/><stop offset=".316" stop-color="#cb0000"/><stop offset=".403" stop-color="#ff0000"/><stop offset=".461" stop-color="#ff2a00"/><stop offset=".519" stop-color="#ff5c00"/><stop offset=".568" stop-color="#ff9a00"/><stop offset=".626" stop-color="#fff500"/><stop offset=".636" stop-color="#ffff05"/><stop offset=".675" stop-color="#ffff5e"/><stop offset=".714" stop-color="#ffffa7"/><stop offset=".743" stop-color="#ffffed"/><stop offset=".752" stop-color="#ffffff"/><stop offset="1" stop-color="#ffffff"/></linearGradient>
<linearGradient id="g368" x1="0" y1="0" x2="0" y2="1"><stop offset="0" stop-color="#590000"/><stop offset=".102" stop-color="#740000"/><stop offset=".209" stop-color="#990000"/><stop offset=".306" stop-color="#c60000"/><stop offset=".403" stop-color="#ff0100"/><stop offset=".461" stop-color="#ff2c00"/><stop offset=".519" stop-color="#ff6000"/><stop offset=".568" stop-color="#ffa000"/><stop offset=".626" stop-color="#ffff00"/><stop offset=".655" stop-color="#ffff41"/><stop offset=".675" stop-color="#ffff72"/><stop offset=".704" stop-color="#ffffac"/><stop offset=".733" stop-color="#fffff1"/><stop offset=".743" stop-color="#ffffff"/><stop offset="1" stop-color="#ffffff"/></linearGradient>
<linearGradient id="g369" x1="0" y1="0" x2="0" y2="1"><stop offset="0" stop-color="#590000"/><stop offset=".102" stop-color="#740000"/><stop offset=".209" stop-color="#9a0000"/><stop offset=".296" stop-color="#c20000"/><stop offset=".403" stop-color="#ff0300"/><stop offset=".461" stop-color="#ff2e00"/><stop offset=".519" stop-color="#ff6300"/><stop offset=".568" stop-color="#ffa500"/><stop offset=".617" stop-color="#fffa00"/><stop offset=".626" stop-color="#ffff0e"/><stop offset=".636" stop-color="#ffff23"/><stop offset=".675" stop-color="#ffff86"/><stop offset=".704" stop-color="#ffffc5"/><stop offset=".723" stop-color="#fffff4"/><stop offset=".733" stop-color="#ffffff"/><stop offset="1" stop-color="#ffffff"/></linearGradient>
<linearGradient id="g370" x1="0" y1="0" x2="0" y2="1"><stop offset="0" stop-color="#5a0000"/><stop offset=".102" stop-color="#740000"/><stop offset=".209" stop-color="#9a0000"/><stop offset=".306" stop-color="#c80000"/><stop offset=".393" stop-color="#fc0000"/><stop offset=".451" stop-color="#ff2800"/><stop offset=".519" stop-color="#ff6700"/><stop offset=".568" stop-color="#ffaa00"/><stop offset=".607" stop-color="#fff100"/><stop offset=".617" stop-color="#ffff06"/><stop offset=".646" stop-color="#ffff4a"/><stop offset=".675" stop-color="#ffff9a"/><stop offset=".714" stop-color="#fffff5"/><stop offset=".723" stop-color="#ffffff"/><stop offset="1" stop-color="#ffffff"/></linearGradient>
<linearGradient id="g371" x1="0" y1="0" x2="0" y2="1"><stop offset="0" stop-color="#5a0000"/><stop offset=".102" stop-color="#740000"/><stop offset=".209" stop-color="#9b0000"/><stop offset=".306" stop-color="#c80000"/><stop offset=".393" stop-color="#fe0000"/><stop offset=".461" stop-color="#ff3200"/><stop offset=".519" stop-color="#ff6a00"/><stop offset=".568" stop-color="#ffb000"/><stop offset=".607" stop-color="#fff800"/><stop offset=".617" stop-color="#ffff12"/><stop offset=".636" stop-color="#ffff41"/><stop offset=".675" stop-color="#ffffae"/><stop offset=".704" stop-color="#fffff4"/><stop offset=".714" stop-color="#ffffff"/><stop offset="1" stop-color="#ffffff"/></linearGradient>
<linearGradient id="g372" x1="0" y1="0" x2="0" y2="1"><stop offset="0" stop-color="#5a0000"/><stop offset=".102" stop-color="#740000"/><stop offset=".209" stop-color="#9b0000"/><stop offset=".306" stop-color="#c90000"/><stop offset=".393" stop-color="#ff0000"/><stop offset=".461" stop-color="#ff3400"/><stop offset=".519" stop-color="#ff6d00"/><stop offset=".568" stop-color="#ffb500"/><stop offset=".607" stop-color="#ffff02"/><stop offset=".617" stop-color="#ffff1f"/><stop offset=".646" stop-color="#ffff6a"/><stop offset=".675" stop-color="#ffffc1"/><stop offset=".694" stop-color="#fffff2"/><stop offset=".704" stop-color="#ffffff"/><stop offset="1" stop-color="#ffffff"/></linearGradient>
<linearGradient id="g373" x1="0" y1="0" x2="0" y2="1"><stop offset="0" stop-color="#5a0000"/><stop offset=".102" stop-color="#750000"/><stop offset=".209" stop-color="#9b0000"/><stop offset=".296" stop-color="#c50000"/><stop offset=".393" stop-color="#ff0100"/><stop offset=".461" stop-color="#ff3600"/><stop offset=".519" stop-color="#ff7100"/><stop offset=".558" stop-color="#ffaa00"/><stop offset=".597" stop-color="#fff200"/><stop offset=".607" stop-color="#ffff0d"/><stop offset=".617" stop-color="#ffff2b"/><stop offset=".646" stop-color="#ffff79"/><stop offset=".675" stop-color="#ffffd4"/><stop offset=".684" stop-color="#ffffed"/><stop offset=".694" stop-color="#ffffff"/><stop offset="1" stop-color="#ffffff"/></linearGradient>
<linearGradient id="g374" x1="0" y1="0" x2="0" y2="1"><stop offset="0" stop-color="#5a0000"/><stop offset=".102" stop-color="#750000"/><stop offset=".209" stop-color="#9c0000"/><stop offset=".296" stop-color="#c50000"/><stop offset=".393" stop-color="#ff0200"/><stop offset=".461" stop-color="#ff3800"/><stop offset=".519" stop-color="#ff7400"/><stop offset=".558" stop-color="#ffaf00"/><stop offset=".597" stop-color="#fff900"/><stop offset=".607" stop-color="#ffff18"/><stop offset=".617" stop-color="#ffff37"/><stop offset=".646" stop-color="#ffff88"/><stop offset=".675" stop-color="#ffffe7"/><stop offset=".684" stop-color="#ffffff"/><stop offset="1" stop-color="#ffffff"/></linearGradient>
<linearGradient id="g375" x1="0" y1="0" x2="0" y2="1"><stop offset="0" stop-color="#5a0000"/><stop offset=".102" stop-color="#750000"/><stop offset=".209" stop-color="#9c0000"/><stop offset=".296" stop-color="#c60000"/><stop offset=".383" stop-color="#fc0000"/><stop offset=".393" stop-color="#ff0300"/><stop offset=".461" stop-color="#ff3a00"/><stop offset=".519" stop-color="#ff7700"/><stop offset=".558" stop-color="#ffb300"/><stop offset=".597" stop-color="#ffff00"/><stop offset=".617" stop-color="#ffff43"/><stop offset=".655" stop-color="#ffffb5"/><stop offset=".675" stop-color="#fffff8"/><stop offset=".684" stop-color="#ffffff"/><stop offset="1" stop-color="#ffffff"/></linearGradient>
<linearGradient id="g376" x1="0" y1="0" x2="0" y2="1"><stop offset="0" stop-color="#5a0000"/><stop offset=".102" stop-color="#750000"/><stop offset=".209" stop-color="#9d0000"/><stop offset=".296" stop-color="#c60000"/><stop offset=".383" stop-color="#fd0000"/><stop offset=".442" stop-color="#ff2b00"/><stop offset=".51" stop-color="#ff6e00"/><stop offset=".549" stop-color="#ffa700"/><stop offset=".587" stop-color="#fff000"/><stop offset=".597" stop-color="#ffff0a"/><stop offset=".617" stop-color="#ffff4e"/><stop offset=".646" stop-color="#ffffa4"/><stop offset=".665" stop-color="#ffffe6"/><stop offset=".675" stop-color="#ffffff"/><stop offset="1" stop-color="#ffffff"/></linearGradient>
<linearGradient id="g377" x1="0" y1="0" x2="0" y2="1"><stop offset="0" stop-color="#5b0000"/><stop offset=".102" stop-color="#760000"/><stop offset=".209" stop-color="#9d0000"/><stop offset=".296" stop-color="#c70000"/><stop offset=".383" stop-color="#fe0000"/><stop offset=".451" stop-color="#ff3500"/><stop offset=".51" stop-color="#ff7100"/><stop offset=".549" stop-color="#ffab00"/><stop offset=".587" stop-color="#fff600"/><stop offset=".597" stop-color="#ffff13"/><stop offset=".617" stop-color="#ffff59"/><stop offset=".646" stop-color="#ffffb2"/><stop offset=".665" stop-color="#fffff5"/><stop offset=".675" stop-color="#ffffff"/><stop offset="1" stop-color="#ffffff"/></linearGradient>
<linearGradient id="g378" x1="0" y1="0" x2="0" y2="1"><stop offset="0" stop-color="#5b0000"/><stop offset=".102" stop-color="#760000"/><stop offset=".209" stop-color="#9d0000"/><stop offset=".296" stop-color="#c80000"/><stop offset=".383" stop-color="#ff0000"/><stop offset=".451" stop-color="#ff3700"/><stop offset=".51" stop-color="#ff7400"/><stop offset=".549" stop-color="#ffaf00"/><stop offset=".587" stop-color="#fffb00"/><stop offset=".597" stop-color="#ffff1c"/><stop offset=".617" stop-color="#ffff64"/><stop offset=".665" stop-color="#ffffff"/><stop offset="1" stop-color="#ffffff"/></linearGradient>
<linearGradient id="g379" x1="0" y1="0" x2="0" y2="1"><stop offset="0" stop-color="#5b0000"/><stop offset=".102" stop-color="#760000"/><stop offset=".209" stop-color="#9e0000"/><stop offset=".296" stop-color="#c80000"/><stop offset=".383" stop-color="#ff0100"/><stop offset=".451" stop-color="#ff3900"/><stop offset=".51" stop-color="#ff7700"/><stop offset=".549" stop-color="#ffb300"/><stop offset=".587" stop-color="#ffff02"/><stop offset=".617" stop-color="#ffff6e"/><stop offset=".636" stop-color="#ffffaa"/><stop offset=".655" stop-color="#ffffee"/><stop offset=".665" stop-color="#ffffff"/><stop offset="1" stop-color="#ffffff"/></linearGradient>
<linearGradient id="g380" x1="0" y1="0" x2="0" y2="1"><stop offset="0" stop-color="#5b0000"/><stop offset=".102" stop-color="#760000"/><stop offset=".209" stop-color="#9e0000"/><stop offset=".296" stop-color="#c90000"/><stop offset=".383" stop-color="#ff0200"/><stop offset=".451" stop-color="#ff3a00"/><stop offset=".51" stop-color="#ff7900"/><stop offset=".539" stop-color="#ffa500"/><stop offset=".578" stop-color="#fff000"/><stop offset=".587" stop-color="#ffff09"/><stop offset=".617" stop-color="#ffff77"/><stop offset=".636" stop-color="#ffffb5"/><stop offset=".655" stop-color="#fffffb"/><stop offset=".665" stop-color="#ffffff"/><stop offset="1" stop-color="#ffffff"/></linearGradient>
<linearGradient id="g381" x1="0" y1="0" x2="0" y2="1"><stop offset="0" stop-color="#5b0000"/><stop offset=".102" stop-color="#760000"/><stop offset=".209" stop-color="#9e0000"/><stop offset=".296" stop-color="#c90000"/><stop offset=".383" stop-color="#ff0300"/><stop offset=".451" stop-color="#ff3c00"/><stop offset=".51" stop-color="#ff7b00"/><stop offset=".539" stop-color="#ffa800"/><stop offset=".578" stop-color="#fff400"/><stop offset=".587" stop-color="#ffff10"/><stop offset=".617" stop-color="#ffff80"/><stop offset=".655" stop-color="#ffffff"/><stop offset="1" stop-color="#ffffff"/></linearGradient>
<linearGradient id="g382" x1="0" y1="0" x2="0" y2="1"><stop offset="0" stop-color="#5b0000"/><stop offset=".102" stop-color="#770000"/><stop offset=".209" stop-color="#9f0000"/><stop offset=".286" stop-color="#c40000"/><stop offset=".374" stop-color="#fb0000"/><stop offset=".383" stop-color="#ff0300"/><stop offset=".451" stop-color="#ff3d00"/><stop offset=".51" stop-color="#ff7d00"/><stop offset=".539" stop-color="#ffab00"/><stop offset=".578" stop-color="#fff800"/><stop offset=".587" stop-color="#ffff17"/><stop offset=".617" stop-color="#ffff88"/><stop offset=".646" stop-color="#ffffec"/><stop offset=".655" stop-color="#ffffff"/><stop offset="1" stop-color="#ffffff"/></linearGradient>
<linearGradient id="g383" x1="0" y1="0" x2="0" y2="1"><stop offset="0" stop-color="#5b0000"/><stop offset=".102" stop-color="#770000"/><stop offset=".199" stop-color="#9b0000"/><stop offset=".286" stop-color="#c50000"/><stop offset=".374" stop-color="#fc0000"/><stop offset=".383" stop-color="#ff0400"/><stop offset=".451" stop-color="#ff3e00"/><stop offset=".51" stop-color="#ff8000"/><stop offset=".539" stop-color="#ffad00"/><stop offset=".578" stop-color="#fffb00"/><stop offset=".587" stop-color="#ffff1d"/><stop offset=".617" stop-color="#ffff90"/><stop offset=".646" stop-color="#fffff6"/><stop offset=".655" stop-color="#ffffff"/><stop offset="1" stop-color="#ffffff"/></linearGradient>
<linearGradient id="g384" x1="0" y1="0" x2="0" y2="1"><stop offset="0" stop-color="#5b0000"/><stop offset=".102" stop-color="#770000"/><stop offset=".209" stop-color="#9f0000"/><stop offset=".296" stop-color="#cb0000"/><stop offset=".374" stop-color="#fd0000"/><stop offset=".432" stop-color="#ff2d00"/><stop offset=".5" stop-color="#ff7500"/><stop offset=".519" stop-color="#ff8f00"/><stop offset=".539" stop-color="#ffb000"/><stop offset=".578" stop-color="#ffff00"/><stop offset=".597" stop-color="#ffff48"/><stop offset=".617" stop-color="#ffff98"/><stop offset=".646" stop-color="#fffffe"/><stop offset="1" stop-color="#ffffff"/></linearGradient>
<linearGradient id="g385" x1="0" y1="0" x2="0" y2="1"><stop offset="0" stop-color="#5b0000"/><stop offset=".102" stop-color="#770000"/><stop offset=".209" stop-color="#9f0000"/><stop offset=".296" stop-color="#cb0000"/><stop offset=".374" stop-color="#fd0000"/><stop offset=".432" stop-color="#ff2e00"/><stop offset=".49" stop-color="#ff6b00"/><stop offset=".519" stop-color="#ff9100"/><stop offset=".549" stop-color="#ffc400"/><stop offset=".568" stop-color="#ffec00"/><stop offset=".578" stop-color="#ffff04"/><stop offset=".597" stop-color="#ffff4e"/><stop offset=".617" stop-color="#ffff9e"/><stop offset=".636" stop-color="#ffffe2"/><stop offset=".646" stop-color="#ffffff"/><stop offset="1" stop-color="#ffffff"/></linearGradient>
<linearGradient id="g386" x1="0" y1="0" x2="0" y2="1"><stop offset="0" stop-color="#5c0000"/><stop offset=".102" stop-color="#770000"/><stop offset=".209" stop-color="#a00000"/><stop offset=".296" stop-color="#cb0000"/><stop offset=".374" stop-color="#fe0000"/><stop offset=".432" stop-color="#ff2f00"/><stop offset=".49" stop-color="#ff6c00"/><stop offset=".519" stop-color="#ff9300"/><stop offset=".549" stop-color="#ffc700"/><stop offset=".568" stop-color="#ffef00"/><stop offset=".578" stop-color="#ffff09"/><stop offset=".597" stop-color="#ffff53"/><stop offset=".617" stop-color="#ffffa4"/><stop offset=".636" stop-color="#ffffe9"/><stop offset=".646" stop-color="#ffffff"/><stop offset="1" stop-color="#ffffff"/></linearGradient>
<linearGradient id="g387" x1="0" y1="0" x2="0" y2="1"><stop offset="0" stop-color="#5c0000"/><stop offset=".102" stop-color="#770000"/><stop offset=".209" stop-color="#a00000"/><stop offset=".296" stop-color="#cc0000"/><stop offset=".374" stop-color="#fe0000"/><stop offset=".432" stop-color="#ff3000"/><stop offset=".49" stop-color="#ff6d00"/><stop offset=".519" stop-color="#ff9400"/><stop offset=".549" stop-color="#ffc900"/><stop offset=".568" stop-color="#fff100"/><stop offset=".578" stop-color="#ffff0d"/><stop offset=".597" stop-color="#ffff58"/><stop offset=".617" stop-color="#ffffaa"/><stop offset=".636" stop-color="#fffff0"/><stop offset=".646" stop-color="#ffffff"/><stop offset="1" stop-color="#ffffff"/></linearGradient>
<linearGradient id="g388" x1="0" y1="0" x2="0" y2="1"><stop offset="0" stop-color="#5c0000"/><stop offset=".102" stop-color="#780000"/><stop offset=".209" stop-color="#a00000"/><stop offset=".296" stop-color="#cc0000"/><stop offset=".374" stop-color="#ff0000"/><stop offset=".432" stop-color="#ff3000"/><stop offset=".49" stop-color="#ff6f00"/><stop offset=".519" stop-color="#ff9600"/><stop offset=".549" stop-color="#ffcb00"/><stop offset=".568" stop-color="#fff300"/><stop offset=".578" stop-color="#ffff10"/><stop offset=".597" stop-color="#ffff5c"/><stop offset=".617" stop-color="#ffffaf"/><stop offset=".636" stop-color="#fffff6"/><stop offset=".646" stop-color="#ffffff"/><stop offset="1" stop-color="#ffffff"/></linearGradient>
<linearGradient id="g389" x1="0" y1="0" x2="0" y2="1"><stop offset="0" stop-color="#5c0000"/><stop offset=".102" stop-color="#780000"/><stop offset=".209" stop-color="#a00000"/><stop offset=".296" stop-color="#cc0000"/><stop offset=".374" stop-color="#ff0000"/><stop offset=".432" stop-color="#ff3100"/><stop offset=".49" stop-color="#ff7000"/><stop offset=".519" stop-color="#ff9700"/><stop offset=".549" stop-color="#ffcc00"/><stop offset=".568" stop-color="#fff500"/><stop offset=".578" stop-color="#ffff14"/><stop offset=".597" stop-color="#ffff60"/><stop offset=".617" stop-color="#ffffb4"/><stop offset=".636" stop-color="#fffffb"/><stop offset=".646" stop-color="#ffffff"/><stop offset="1" stop-color="#ffffff"/></linearGradient>
<linearGradient id="g390" x1="0" y1="0" x2="0" y2="1"><stop offset="0" stop-color="#5c0000"/><stop offset=".102" stop-color="#780000"/><stop offset=".209" stop-color="#a00000"/><stop offset=".296" stop-color="#cc0000"/><stop offset=".374" stop-color="#ff0100"/><stop offset=".432" stop-color="#ff3200"/><stop offset=".49" stop-color="#ff7100"/><stop offset=".529" stop-color="#ffa900"/><stop offset=".568" stop-color="#fff700"/><stop offset=".578" stop-color="#ffff17"/><stop offset=".597" stop-color="#ffff63"/><stop offset=".617" stop-color="#ffffb8"/><stop offset=".636" stop-color="#ffffff"/><stop offset="1" stop-color="#ffffff"/></linearGradient>
<linearGradient id="g391" x1="0" y1="0" x2="0" y2="1"><stop offset="0" stop-color="#5c0000"/><stop offset=".102" stop-color="#780000"/><stop offset=".209" stop-color="#a00000"/><stop offset=".296" stop-color="#cd0000"/><stop offset=".374" stop-color="#ff0100"/><stop offset=".432" stop-color="#ff3200"/><stop offset=".49" stop-color="#ff7100"/><stop offset=".529" stop-color="#ffaa00"/><stop offset=".568" stop-color="#fff900"/><stop offset=".578" stop-color="#ffff19"/><stop offset=".597" stop-color="#ffff66"/><stop offset=".617" stop-color="#ffffbc"/><stop offset=".636" stop-color="#ffffff"/><stop offset="1" stop-color="#ffffff"/></linearGradient>
<linearGradient id="g392" x1="0" y1="0" x2="0" y2="1"><stop offset="0" stop-color="#5c0000"/><stop offset=".102" stop-color="#780000"/><stop offset=".199" stop-color="#9c0000"/><stop offset=".286" stop-color="#c70000"/><stop offset=".374" stop-color="#ff0100"/><stop offset=".432" stop-color="#ff3300"/><stop offset=".49" stop-color="#ff7200"/><stop offset=".529" stop-color="#ffab00"/><stop offset=".568" stop-color="#fffa00"/><stop offset=".578" stop-color="#ffff1b"/><stop offset=".597" stop-color="#ffff69"/><stop offset=".617" stop-color="#ffffbf"/><stop offset=".626" stop-color="#ffffe2"/><stop offset=".636" stop-color="#ffffff"/><stop offset="1" stop-color="#ffffff"/></linearGradient>
<linearGradient id="g393" x1="0" y1="0" x2="0" y2="1"><stop offset="0" stop-color="#5c0000"/><stop offset=".102" stop-color="#780000"/><stop offset=".199" stop-color="#9c0000"/><stop offset=".286" stop-color="#c70000"/><stop offset=".374" stop-color="#ff0200"/><stop offset=".432" stop-color="#ff3300"/><stop offset=".49" stop-color="#ff7300"/><stop offset=".529" stop-color="#ffac00"/><stop offset=".568" stop-color="#fffb00"/><stop offset=".578" stop-color="#ffff1d"/><stop offset=".587" stop-color="#ffff43"/><stop offset=".617" stop-color="#ffffc1"/><stop offset=".626" stop-color="#ffffe5"/><stop offset=".636" stop-color="#ffffff"/><stop offset="1" stop-color="#ffffff"/></linearGradient>
<linearGradient id="g394" x1="0" y1="0" x2="0" y2="1"><stop offset="0" stop-color="#5c0000"/><stop offset=".102" stop-color="#780000"/><stop offset=".199" stop-color="#9d0000"/><stop offset=".286" stop-color="#c80000"/><stop offset=".374" stop-color="#ff0200"/><stop offset=".432" stop-color="#ff3300"/><stop offset=".49" stop-color="#ff7300"/><stop offset=".529" stop-color="#ffad00"/><stop offset=".568" stop-color="#fffc00"/><stop offset=".578" stop-color="#ffff1f"/><stop offset=".587" stop-color="#ffff44"/><stop offset=".617" stop-color="#ffffc3"/><stop offset=".626" stop-color="#ffffe7"/><stop offset=".636" stop-color="#ffffff"/><stop offset="1" stop-color="#ffffff"/></linearGradient>
<linearGradient id="g395" x1="0" y1="0" x2="0" y2="1"><stop offset="0" stop-color="#5c0000"/><stop offset=".102" stop-color="#780000"/><stop offset=".199" stop-color="#9d0000"/><stop offset=".286" stop-color="#c80000"/><stop offset=".374" stop-color="#ff0200"/><stop offset=".432" stop-color="#ff3300"/><stop offset=".49" stop-color="#ff7400"/><stop offset=".529" stop-color="#ffad00"/><stop offset=".568" stop-color="#fffd00"/><stop offset=".587" stop-color="#ffff45"/><stop offset=".617" stop-color="#ffffc5"/><stop offset=".626" stop-color="#ffffe8"/><stop offset=".636" stop-color="#ffffff"/><stop offset="1" stop-color="#ffffff"/></linearGradient>
<linearGradient id="g396" x1="0" y1="0" x2="0" y2="1"><stop offset="0" stop-color="#5c0000"/><stop offset=".102" stop-color="#780000"/><stop offset=".199" stop-color="#9d0000"/><stop offset=".286" stop-color="#c80000"/><stop offset=".374" stop-color="#ff0200"/><stop offset=".432" stop-color="#ff3400"/><stop offset=".49" stop-color="#ff7400"/><stop offset=".529" stop-color="#ffad00"/><stop offset=".568" stop-color="#fffd00"/><stop offset=".587" stop-color="#ffff46"/><stop offset=".617" stop-color="#ffffc6"/><stop offset=".626" stop-color="#ffffe9"/><stop offset=".636" stop-color="#ffffff"/><stop offset="1" stop-color="#ffffff"/></linearGradient>
<linearGradient id="g397" x1="0" y1="0" x2="0" y2="1"><stop offset="0" stop-color="#5c0000"/><stop offset=".102" stop-color="#780000"/><stop offset=".199" stop-color="#9d0000"/><stop offset=".286" stop-color="#c80000"/><stop offset=".374" stop-color="#ff0200"/><stop offset=".432" stop-color="#ff3400"/><stop offset=".49" stop-color="#ff7400"/><stop offset=".529" stop-color="#ffad00"/><stop offset=".568" stop-color="#fffd00"/><stop offset=".587" stop-color="#ffff46"/><stop offset=".617" stop-color="#ffffc6"/><stop offset=".626" stop-color="#ffffea"/><stop offset=".636" stop-color="#ffffff"/><stop offset="1" stop-color="#ffffff"/></linearGradient>
<linearGradient id="g398" x1="0" y1="0" x2="0" y2="1"><stop offset="0.0000" stop-color="#ffffff"/><stop offset="0.0156" stop-color="#ffffef"/><stop offset="0.0312" stop-color="#ffffdf"/><stop offset="0.0469" stop-color="#ffffcf"/><stop offset="0.0625" stop-color="#ffffbf"/><stop offset="0.0781" stop-color="#ffffaf"/><stop offset="0.0938" stop-color="#ffff9f"/><stop offset="0.1094" stop-color="#ffff8f"/><stop offset="0.1250" stop-color="#ffff80"/><stop offset="0.1406" stop-color="#ffff70"/><stop offset="0.1562" stop-color="#ffff60"/><stop offset="0.1719" stop-color="#ffff50"/><stop offset="0.1875" stop-color="#ffff40"/><stop offset="0.2031" stop-color="#ffff30"/><stop offset="0.2188" stop-color="#ffff20"/><stop offset="0.2344" stop-color="#ffff10"/><stop offset="0.2500" stop-color="#ffff00"/><stop offset="0.2656" stop-color="#fff400"/><stop offset="0.2812" stop-color="#ffea00"/><stop offset="0.2969" stop-color="#ffdf00"/><stop offset="0.3125" stop-color="#ffd400"/><stop offset="0.3281" stop-color="#ffca00"/><stop offset="0.3438" stop-color="#ffbf00"/><stop offset="0.3594" stop-color="#ffb500"/><stop offset="0.3750" stop-color="#ffaa00"/><stop offset="0.3906" stop-color="#ff9f00"/><stop offset="0.4062" stop-color="#ff9500"/><stop offset="0.4219" stop-color="#ff8a00"/><stop offset="0.4375" stop-color="#ff8000"/><stop offset="0.4531" stop-color="#ff7500"/><stop offset="0.4688" stop-color="#ff6a00"/><stop offset="0.4844" stop-color="#ff6000"/><stop offset="0.5000" stop-color="#ff5500"/><stop offset="0.5156" stop-color="#ff4a00"/><stop offset="0.5312" stop-color="#ff4000"/><stop offset="0.5469" stop-color="#ff3500"/><stop offset="0.5625" stop-color="#ff2a00"/><stop offset="0.5781" stop-color="#ff2000"/><stop offset="0.5938" stop-color="#ff1500"/><stop offset="0.6094" stop-color="#ff0b00"/><stop offset="0.6250" stop-color="#ff0000"/><stop offset="0.6406" stop-color="#f40000"/><stop offset="0.6562" stop-color="#ea0000"/><stop offset="0.6719" stop-color="#df0000"/><stop offset="0.6875" stop-color="#d40000"/><stop offset="0.7031" stop-color="#ca0000"/><stop offset="0.7188" stop-color="#bf0000"/><stop offset="0.7344" stop-color="#b50000"/><stop offset="0.7500" stop-color="#aa0000"/><stop offset="0.7656" stop-color="#9f0000"/><stop offset="0.7812" stop-color="#950000"/><stop offset="0.7969" stop-color="#8a0000"/><stop offset="0.8125" stop-color="#800000"/><stop offset="0.8281" stop-color="#750000"/><stop offset="0.8438" stop-color="#6a0000"/><stop offset="0.8594" stop-color="#600000"/><stop offset="0.8750" stop-color="#550000"/><stop offset="0.8906" stop-color="#4a0000"/><stop offset="0.9062" stop-color="#400000"/><stop offset="0.9219" stop-color="#350000"/><stop offset="0.9375" stop-color="#2a0000"/><stop offset="0.9531" stop-color="#200000"/><stop offset="0.9688" stop-color="#150000"/><stop offset="0.9844" stop-color="#0b0000"/><stop offset="1.0000" stop-color="#000000"/></linearGradient>
<linearGradient id="g399" x1="0" y1="0" x2="0" y2="1"><stop offset="0.0000" stop-color="#ffffff"/><stop offset="0.0156" stop-color="#ffffef"/><stop offset="0.0312" stop-color="#ffffdf"/><stop offset="0.0469" stop-color="#ffffcf"/><stop offset="0.0625" stop-color="#ffffbf"/><stop offset="0.0781" stop-color="#ffffaf"/><stop offset="0.0938" stop-color="#ffff9f"/><stop offset="0.1094" stop-color="#ffff8f"/><stop offset="0.1250" stop-color="#ffff80"/><stop offset="0.1406" stop-color="#ffff70"/><stop offset="0.1562" stop-color="#ffff60"/><stop offset="0.1719" stop-color="#ffff50"/><stop offset="0.1875" stop-color="#ffff40"/><stop offset="0.2031" stop-color="#ffff30"/><stop offset="0.2188" stop-color="#ffff20"/><stop offset="0.2344" stop-color="#ffff10"/><stop offset="0.2500" stop-color="#ffff00"/><stop offset="0.2656" stop-color="#fff400"/><stop offset="0.2812" stop-color="#ffea00"/><stop offset="0.2969" stop-color="#ffdf00"/><stop offset="0.3125" stop-color="#ffd400"/><stop offset="0.3281" stop-color="#ffca00"/><stop offset="0.3438" stop-color="#ffbf00"/><stop offset="0.3594" stop-color="#ffb500"/><stop offset="0.3750" stop-color="#ffaa00"/><stop offset="0.3906" stop-color="#ff9f00"/><stop offset="0.4062" stop-color="#ff9500"/><stop offset="0.4219" stop-color="#ff8a00"/><stop offset="0.4375" stop-color="#ff8000"/><stop offset="0.4531" stop-color="#ff7500"/><stop offset="0.4688" stop-color="#ff6a00"/><stop offset="0.4844" stop-color="#ff6000"/><stop offset="0.5000" stop-color="#ff5500"/><stop offset="0.5156" stop-color="#ff4a00"/><stop offset="0.5312" stop-color="#ff4000"/><stop offset="0.5469" stop-color="#ff3500"/><stop offset="0.5625" stop-color="#ff2a00"/><stop offset="0.5781" stop-color="#ff2000"/><stop offset="0.5938" stop-color="#ff1500"/><stop offset="0.6094" stop-color="#ff0b00"/><stop offset="0.6250" stop-color="#ff0000"/><stop offset="0.6406" stop-color="#f40000"/><stop offset="0.6562" stop-color="#ea0000"/><stop offset="0.6719" stop-color="#df0000"/><stop offset="0.6875" stop-color="#d40000"/><stop offset="0.7031" stop-color="#ca0000"/><stop offset="0.7188" stop-color="#bf0000"/><stop offset="0.7344" stop-color="#b50000"/><stop offset="0.7500" stop-color="#aa0000"/><stop offset="0.7656" stop-color="#9f0000"/><stop offset="0.7812" stop-color="#950000"/><stop offset="0.7969" stop-color="#8a0000"/><stop offset="0.8125" stop-color="#800000"/><stop offset="0.8281" stop-color="#750000"/><stop offset="0.8438" stop-color="#6a0000"/><stop offset="0.8594" stop-color="#600000"/><stop offset="0.8750" stop-color="#550000"/><stop offset="0.8906" stop-color="#4a0000"/><stop offset="0.9062" stop-color="#400000"/><stop offset="0.9219" stop-color="#350000"/><stop offset="0.9375" stop-color="#2a0000"/><stop offset="0.9531" stop-color="#200000"/><stop offset="0.9688" stop-color="#150000"/><stop offset="0.9844" stop-color="#0b0000"/><stop offset="1.0000" stop-color="#000000"/></linearGradient>
</defs>
<rect x="0" y="0" width="473" height="551" fill="#fff"/>
<g shape-rendering="crispEdges">
<rect x="96" y="39" width="1" height="268" fill="url(#g1)"/>
<rect x="97" y="39" width="1" height="268" fill="url(#g2)"/>
<rect x="98" y="39" width="1" height="268" fill="url(#g3)"/>
<rect x="99" y="39" width="1" height="268" fill="url(#g4)"/>
<rect x="100" y="39" width="1" height="268" fill="url(#g5)"/>
<rect x="101" y="39" width="1" height="268" fill="url(#g6)"/>
<rect x="102" y="39" width="1" height="268" fill="url(#g7)"/>
<rect x="103" y="39" width="1" height="268" fill="url(#g8)"/>
<rect x="104" y="39" width="1" height="268" fill="url(#g9)"/>
<rect x="105" y="39" width="1" height="268" fill="url(#g10)"/>
<rect x="106" y="39" width="1" height="268" fill="url(#g11)"/>
<rect x="107" y="39" width="1" height="268" fill="url(#g12)"/>
<rect x="108" y="39" width="1" height="268" fill="url(#g13)"/>
<rect x="109" y="39" width="1" height="268" fill="url(#g14)"/>
<rect x="110" y="39" width="1" height="268" fill="url(#g15)"/>
<rect x="111" y="39" width="1" height="268" fill="url(#g16)"/>
<rect x="112" y="39" width="1" height="268" fill="url(#g17)"/>
<rect x="113" y="39" width="1" height="268" fill="url(#g18)"/>
<rect x="114" y="39" width="1" height="268" fill="url(#g19)"/>
<rect x="115" y="39" width="1" height="268" fill="url(#g20)"/>
<rect x="116" y="39" width="1" height="268" fill="url(#g21)"/>
<rect x="117" y="39" width="1" height="268" fill="url(#g22)"/>
<rect x="118" y="39" width="1" height="268" fill="url(#g23)"/>
<rect x="119" y="39" width="1" height="268" fill="url(#g24)"/>
<rect x="120" y="39" width="1" height="268" fill="url(#g25)"/>
<rect x="121" y="39" width="1" height="268" fill="url(#g26)"/>
<rect x="122" y="39" width="1" height="268" fill="url(#g27)"/>
<rect x="123" y="39" width="1" height="268" fill="url(#g28)"/>
<rect x="124" y="39" width="1" height="268" fill="url(#g29)"/>
<rect x="125" y="39" width="1" height="268" fill="url(#g30)"/>
<rect x="126" y="39" width="1" height="268" fill="url(#g31)"/>
<rect x="127" y="39" width="1" height="268" fill="url(#g32)"/>
<rect x="128" y="39" width="1" height="268" fill="url(#g33)"/>
<rect x="203" y="38" width="1" height="250" fill="url(#g34)"/>
<rect x="204" y="38" width="1" height="250" fill="url(#g35)"/>
<rect x="205" y="38" width="1" height="250" fill="url(#g36)"/>
<rect x="206" y="38" width="1" height="250" fill="url(#g37)"/>
<rect x="207" y="38" width="1" height="250" fill="url(#g38)"/>
<rect x="208" y="38" width="1" height="250" fill="url(#g39)"/>
<rect x="209" y="38" width="1" height="250" fill="url(#g40)"/>
<rect x="210" y="38" width="1" height="250" fill="url(#g41)"/>
<rect x="211" y="38" width="1" height="250" fill="url(#g42)"/>
<rect x="212" y="38" width="1" height="250" fill="url(#g43)"/>
<rect x="213" y="38" width="1" height="250" fill="url(#g44)"/>
<rect x="214" y="38" width="1" height="250" fill="url(#g45)"/>
<rect x="215" y="38" width="1" height="250" fill="url(#g46)"/>
<rect x="216" y="38" width="1" height="250" fill="url(#g47)"/>
<rect x="217" y="38" width="1" height="250" fill="url(#g48)"/>
<rect x="218" y="38" width="1" height="250" fill="url(#g49)"/>
<rect x="219" y="38" width="1" height="250" fill="url(#g50)"/>
<rect x="220" y="38" width="1" height="250" fill="url(#g51)"/>
<rect x="221" y="38" width="1" height="250" fill="url(#g52)"/>
<rect x="222" y="38" width="1" height="250" fill="url(#g53)"/>
<rect x="223" y="38" width="1" height="250" fill="url(#g54)"/>
<rect x="224" y="38" width="1" height="250" fill="url(#g55)"/>
<rect x="225" y="38" width="1" height="250" fill="url(#g56)"/>
<rect x="226" y="38" width="1" height="250" fill="url(#g57)"/>
<rect x="227" y="38" width="1" height="250" fill="url(#g58)"/>
<rect x="228" y="38" width="1" height="250" fill="url(#g59)"/>
<rect x="229" y="38" width="1" height="250" fill="url(#g60)"/>
<rect x="230" y="38" width="1" height="250" fill="url(#g61)"/>
<rect x="231" y="38" width="1" height="250" fill="url(#g62)"/>
<rect x="232" y="38" width="1" height="250" fill="url(#g63)"/>
<rect x="233" y="38" width="1" height="250" fill="url(#g64)"/>
<rect x="234" y="38" width="1" height="250" fill="url(#g65)"/>
<rect x="314" y="39" width="1" height="253" fill="url(#g66)"/>
<rect x="315" y="39" width="1" height="253" fill="url(#g67)"/>
<rect x="316" y="39" width="1" height="253" fill="url(#g68)"/>
<rect x="317" y="39" width="1" height="253" fill="url(#g69)"/>
<rect x="318" y="39" width="1" height="253" fill="url(#g70)"/>
<rect x="319" y="39" width="1" height="253" fill="url(#g71)"/>
<rect x="320" y="39" width="1" height="253" fill="url(#g72)"/>
<rect x="321" y="39" width="1" height="253" fill="url(#g73)"/>
<rect x="322" y="39" width="1" height="253" fill="url(#g74)"/>
<rect x="323" y="39" width="1" height="253" fill="url(#g75)"/>
<rect x="324" y="39" width="1" height="253" fill="url(#g76)"/>
<rect x="325" y="39" width="1" height="253" fill="url(#g77)"/>
<rect x="326" y="39" width="1" height="253" fill="url(#g78)"/>
<rect x="327" y="39" width="1" height="253" fill="url(#g79)"/>
<rect x="328" y="39" width="1" height="253" fill="url(#g80)"/>
<rect x="329" y="39" width="1" height="253" fill="url(#g81)"/>
<rect x="330" y="39" width="1" height="253" fill="url(#g82)"/>
<rect x="331" y="39" width="1" height="253" fill="url(#g83)"/>
<rect x="332" y="39" width="1" height="253" fill="url(#g84)"/>
<rect x="333" y="39" width="1" height="253" fill="url(#g85)"/>
<rect x="334" y="39" width="1" height="253" fill="url(#g86)"/>
<rect x="335" y="39" width="1" height="253" fill="url(#g87)"/>
<rect x="336" y="39" width="1" height="253" fill="url(#g88)"/>
<rect x="337" y="39" width="1" height="253" fill="url(#g89)"/>
<rect x="338" y="39" width="1" height="253" fill="url(#g90)"/>
<rect x="339" y="39" width="1" height="253" fill="url(#g91)"/>
<rect x="340" y="39" width="1" height="253" fill="url(#g92)"/>
<rect x="341" y="39" width="1" height="253" fill="url(#g93)"/>
<rect x="342" y="39" width="1" height="253" fill="url(#g94)"/>
<rect x="343" y="39" width="1" height="253" fill="url(#g95)"/>
<rect x="344" y="39" width="1" height="253" fill="url(#g96)"/>
<rect x="345" y="39" width="1" height="253" fill="url(#g97)"/>
<rect x="346" y="39" width="1" height="253" fill="url(#g98)"/>
<rect x="347" y="39" width="1" height="253" fill="url(#g99)"/>
<rect x="89" y="392" width="1" height="103" fill="url(#g100)"/>
<rect x="90" y="392" width="1" height="103" fill="url(#g101)"/>
<rect x="91" y="392" width="1" height="103" fill="url(#g102)"/>
<rect x="92" y="392" width="1" height="103" fill="url(#g103)"/>
<rect x="93" y="392" width="1" height="103" fill="url(#g104)"/>
<rect x="94" y="392" width="1" height="103" fill="url(#g105)"/>
<rect x="95" y="392" width="1" height="103" fill="url(#g106)"/>
<rect x="96" y="392" width="1" height="103" fill="url(#g107)"/>
<rect x="97" y="392" width="1" height="103" fill="url(#g108)"/>
<rect x="98" y="392" width="1" height="103" fill="url(#g109)"/>
<rect x="99" y="392" width="1" height="103" fill="url(#g110)"/>
<rect x="100" y="392" width="1" height="103" fill="url(#g111)"/>
<rect x="101" y="392" width="1" height="103" fill="url(#g112)"/>
<rect x="102" y="392" width="1" height="103" fill="url(#g113)"/>
<rect x="103" y="392" width="1" height="103" fill="url(#g114)"/>
<rect x="104" y="392" width="1" height="103" fill="url(#g115)"/>
<rect x="105" y="392" width="1" height="103" fill="url(#g116)"/>
<rect x="106" y="392" width="1" height="103" fill="url(#g117)"/>
<rect x="107" y="392" width="1" height="103" fill="url(#g118)"/>
<rect x="108" y="392" width="1" height="103" fill="url(#g119)"/>
<rect x="109" y="392" width="1" height="103" fill="url(#g120)"/>
<rect x="110" y="392" width="1" height="103" fill="url(#g121)"/>
<rect x="111" y="392" width="1" height="103" fill="url(#g122)"/>
<rect x="112" y="392" width="1" height="103" fill="url(#g123)"/>
<rect x="113" y="392" width="1" height="103" fill="url(#g124)"/>
<rect x="114" y="392" width="1" height="103" fill="url(#g125)"/>
<rect x="115" y="392" width="1" height="103" fill="url(#g126)"/>
<rect x="116" y="392" width="1" height="103" fill="url(#g127)"/>
<rect x="117" y="392" width="1" height="103" fill="url(#g128)"/>
<rect x="118" y="392" width="1" height="103" fill="url(#g129)"/>
<rect x="119" y="392" width="1" height="103" fill="url(#g130)"/>
<rect x="120" y="392" width="1" height="103" fill="url(#g131)"/>
<rect x="121" y="392" width="1" height="103" fill="url(#g132)"/>
<rect x="122" y="392" width="1" height="103" fill="url(#g133)"/>
<rect x="123" y="392" width="1" height="103" fill="url(#g134)"/>
<rect x="124" y="392" width="1" height="103" fill="url(#g135)"/>
<rect x="125" y="392" width="1" height="103" fill="url(#g136)"/>
<rect x="126" y="392" width="1" height="103" fill="url(#g137)"/>
<rect x="127" y="392" width="1" height="103" fill="url(#g138)"/>
<rect x="128" y="392" width="1" height="103" fill="url(#g139)"/>
<rect x="129" y="392" width="1" height="103" fill="url(#g140)"/>
<rect x="130" y="392" width="1" height="103" fill="url(#g141)"/>
<rect x="131" y="392" width="1" height="103" fill="url(#g142)"/>
<rect x="132" y="392" width="1" height="103" fill="url(#g143)"/>
<rect x="133" y="392" width="1" height="103" fill="url(#g144)"/>
<rect x="134" y="392" width="1" height="103" fill="url(#g145)"/>
<rect x="135" y="392" width="1" height="103" fill="url(#g146)"/>
<rect x="136" y="392" width="1" height="103" fill="url(#g147)"/>
<rect x="137" y="392" width="1" height="103" fill="url(#g148)"/>
<rect x="138" y="392" width="1" height="103" fill="url(#g149)"/>
<rect x="139" y="392" width="1" height="103" fill="url(#g150)"/>
<rect x="140" y="392" width="1" height="103" fill="url(#g151)"/>
<rect x="141" y="392" width="1" height="103" fill="url(#g152)"/>
<rect x="142" y="392" width="1" height="103" fill="url(#g153)"/>
<rect x="143" y="392" width="1" height="103" fill="url(#g154)"/>
<rect x="144" y="392" width="1" height="103" fill="url(#g155)"/>
<rect x="145" y="392" width="1" height="103" fill="url(#g156)"/>
<rect x="146" y="392" width="1" height="103" fill="url(#g157)"/>
<rect x="147" y="392" width="1" height="103" fill="url(#g158)"/>
<rect x="148" y="392" width="1" height="103" fill="url(#g159)"/>
<rect x="149" y="392" width="1" height="103" fill="url(#g160)"/>
<rect x="150" y="392" width="1" height="103" fill="url(#g161)"/>
<rect x="151" y="392" width="1" height="103" fill="url(#g162)"/>
<rect x="152" y="392" width="1" height="103" fill="url(#g163)"/>
<rect x="153" y="392" width="1" height="103" fill="url(#g164)"/>
<rect x="154" y="392" width="1" height="103" fill="url(#g165)"/>
<rect x="155" y="392" width="1" height="103" fill="url(#g166)"/>
<rect x="156" y="392" width="1" height="103" fill="url(#g167)"/>
<rect x="157" y="392" width="1" height="103" fill="url(#g168)"/>
<rect x="158" y="392" width="1" height="103" fill="url(#g169)"/>
<rect x="159" y="392" width="1" height="103" fill="url(#g170)"/>
<rect x="160" y="392" width="1" height="103" fill="url(#g171)"/>
<rect x="161" y="392" width="1" height="103" fill="url(#g172)"/>
<rect x="162" y="392" width="1" height="103" fill="url(#g173)"/>
<rect x="163" y="392" width="1" height="103" fill="url(#g174)"/>
<rect x="164" y="392" width="1" height="103" fill="url(#g175)"/>
<rect x="165" y="392" width="1" height="103" fill="url(#g176)"/>
<rect x="166" y="392" width="1" height="103" fill="url(#g177)"/>
<rect x="167" y="392" width="1" height="103" fill="url(#g178)"/>
<rect x="168" y="392" width="1" height="103" fill="url(#g179)"/>
<rect x="169" y="392" width="1" height="103" fill="url(#g180)"/>
<rect x="170" y="392" width="1" height="103" fill="url(#g181)"/>
<rect x="171" y="392" width="1" height="103" fill="url(#g182)"/>
<rect x="172" y="392" width="1" height="103" fill="url(#g183)"/>
<rect x="173" y="392" width="1" height="103" fill="url(#g184)"/>
<rect x="174" y="392" width="1" height="103" fill="url(#g185)"/>
<rect x="175" y="392" width="1" height="103" fill="url(#g186)"/>
<rect x="176" y="392" width="1" height="103" fill="url(#g187)"/>
<rect x="177" y="392" width="1" height="103" fill="url(#g188)"/>
<rect x="178" y="392" width="1" height="103" fill="url(#g189)"/>
<rect x="179" y="392" width="1" height="103" fill="url(#g190)"/>
<rect x="180" y="392" width="1" height="103" fill="url(#g191)"/>
<rect x="181" y="392" width="1" height="103" fill="url(#g192)"/>
<rect x="182" y="392" width="1" height="103" fill="url(#g193)"/>
<rect x="183" y="392" width="1" height="103" fill="url(#g194)"/>
<rect x="184" y="392" width="1" height="103" fill="url(#g195)"/>
<rect x="185" y="392" width="1" height="103" fill="url(#g196)"/>
<rect x="186" y="392" width="1" height="103" fill="url(#g197)"/>
<rect x="187" y="392" width="1" height="103" fill="url(#g198)"/>
<rect x="188" y="392" width="1" height="103" fill="url(#g199)"/>
<rect x="189" y="392" width="1" height="103" fill="url(#g200)"/>
<rect x="190" y="392" width="1" height="103" fill="url(#g201)"/>
<rect x="191" y="392" width="1" height="103" fill="url(#g202)"/>
<rect x="192" y="392" width="1" height="103" fill="url(#g203)"/>
<rect x="193" y="392" width="1" height="103" fill="url(#g204)"/>
<rect x="194" y="392" width="1" height="103" fill="url(#g205)"/>
<rect x="195" y="392" width="1" height="103" fill="url(#g206)"/>
<rect x="196" y="392" width="1" height="103" fill="url(#g207)"/>
<rect x="197" y="392" width="1" height="103" fill="url(#g208)"/>
<rect x="198" y="392" width="1" height="103" fill="url(#g209)"/>
<rect x="199" y="392" width="1" height="103" fill="url(#g210)"/>
<rect x="200" y="392" width="1" height="103" fill="url(#g211)"/>
<rect x="201" y="392" width="1" height="103" fill="url(#g212)"/>
<rect x="202" y="392" width="1" height="103" fill="url(#g213)"/>
<rect x="203" y="392" width="1" height="103" fill="url(#g214)"/>
<rect x="204" y="392" width="1" height="103" fill="url(#g215)"/>
<rect x="205" y="392" width="1" height="103" fill="url(#g216)"/>
<rect x="206" y="392" width="1" height="103" fill="url(#g217)"/>
<rect x="207" y="392" width="1" height="103" fill="url(#g218)"/>
<rect x="208" y="392" width="1" height="103" fill="url(#g219)"/>
<rect x="209" y="392" width="1" height="103" fill="url(#g220)"/>
<rect x="210" y="392" width="1" height="103" fill="url(#g221)"/>
<rect x="211" y="392" width="1" height="103" fill="url(#g222)"/>
<rect x="212" y="392" width="1" height="103" fill="url(#g223)"/>
<rect x="213" y="392" width="1" height="103" fill="url(#g224)"/>
<rect x="214" y="392" width="1" height="103" fill="url(#g225)"/>
<rect x="215" y="392" width="1" height="103" fill="url(#g226)"/>
<rect x="216" y="392" width="1" height="103" fill="url(#g227)"/>
<rect x="217" y="392" width="1" height="103" fill="url(#g228)"/>
<rect x="218" y="392" width="1" height="103" fill="url(#g229)"/>
<rect x="219" y="392" width="1" height="103" fill="url(#g230)"/>
<rect x="220" y="392" width="1" height="103" fill="url(#g231)"/>
<rect x="221" y="392" width="1" height="103" fill="url(#g232)"/>
<rect x="222" y="392" width="1" height="103" fill="url(#g233)"/>
<rect x="223" y="392" width="1" height="103" fill="url(#g234)"/>
<rect x="224" y="392" width="1" height="103" fill="url(#g235)"/>
<rect x="225" y="392" width="1" height="103" fill="url(#g236)"/>
<rect x="226" y="392" width="1" height="103" fill="url(#g237)"/>
<rect x="227" y="392" width="1" height="103" fill="url(#g238)"/>
<rect x="228" y="392" width="1" height="103" fill="url(#g239)"/>
<rect x="229" y="392" width="1" height="103" fill="url(#g240)"/>
<rect x="230" y="392" width="1" height="103" fill="url(#g241)"/>
<rect x="231" y="392" width="1" height="103" fill="url(#g242)"/>
<rect x="232" y="392" width="1" height="103" fill="url(#g243)"/>
<rect x="233" y="392" width="1" height="103" fill="url(#g244)"/>
<rect x="234" y="392" width="1" height="103" fill="url(#g245)"/>
<rect x="235" y="392" width="1" height="103" fill="url(#g246)"/>
<rect x="236" y="392" width="1" height="103" fill="url(#g247)"/>
<rect x="237" y="392" width="1" height="103" fill="url(#g248)"/>
<rect x="238" y="392" width="1" height="103" fill="url(#g249)"/>
<rect x="239" y="392" width="1" height="103" fill="url(#g250)"/>
<rect x="240" y="392" width="1" height="103" fill="url(#g251)"/>
<rect x="241" y="392" width="1" height="103" fill="url(#g252)"/>
<rect x="242" y="392" width="1" height="103" fill="url(#g253)"/>
<rect x="243" y="392" width="1" height="103" fill="url(#g254)"/>
<rect x="244" y="392" width="1" height="103" fill="url(#g255)"/>
<rect x="245" y="392" width="1" height="103" fill="url(#g256)"/>
<rect x="246" y="392" width="1" height="103" fill="url(#g257)"/>
<rect x="247" y="392" width="1" height="103" fill="url(#g258)"/>
<rect x="248" y="392" width="1" height="103" fill="url(#g259)"/>
<rect x="249" y="392" width="1" height="103" fill="url(#g260)"/>
<rect x="250" y="392" width="1" height="103" fill="url(#g261)"/>
<rect x="251" y="392" width="1" height="103" fill="url(#g262)"/>
<rect x="252" y="392" width="1" height="103" fill="url(#g263)"/>
<rect x="253" y="392" width="1" height="103" fill="url(#g264)"/>
<rect x="254" y="392" width="1" height="103" fill="url(#g265)"/>
<rect x="255" y="392" width="1" height="103" fill="url(#g266)"/>
<rect x="256" y="392" width="1" height="103" fill="url(#g267)"/>
<rect x="257" y="392" width="1" height="103" fill="url(#g268)"/>
<rect x="258" y="392" width="1" height="103" fill="url(#g269)"/>
<rect x="259" y="392" width="1" height="103" fill="url(#g270)"/>
<rect x="260" y="392" width="1" height="103" fill="url(#g271)"/>
<rect x="261" y="392" width="1" height="103" fill="url(#g272)"/>
<rect x="262" y="392" width="1" height="103" fill="url(#g273)"/>
<rect x="263" y="392" width="1" height="103" fill="url(#g274)"/>
<rect x="264" y="392" width="1" height="103" fill="url(#g275)"/>
<rect x="265" y="392" width="1" height="103" fill="url(#g276)"/>
<rect x="266" y="392" width="1" height="103" fill="url(#g277)"/>
<rect x="267" y="392" width="1" height="103" fill="url(#g278)"/>
<rect x="268" y="392" width="1" height="103" fill="url(#g279)"/>
<rect x="269" y="392" width="1" height="103" fill="url(#g280)"/>
<rect x="270" y="392" width="1" height="103" fill="url(#g281)"/>
<rect x="271" y="392" width="1" height="103" fill="url(#g282)"/>
<rect x="272" y="392" width="1" height="103" fill="url(#g283)"/>
<rect x="273" y="392" width="1" height="103" fill="url(#g284)"/>
<rect x="274" y="392" width="1" height="103" fill="url(#g285)"/>
<rect x="275" y="392" width="1" height="103" fill="url(#g286)"/>
<rect x="276" y="392" width="1" height="103" fill="url(#g287)"/>
<rect x="277" y="392" width="1" height="103" fill="url(#g288)"/>
<rect x="278" y="392" width="1" height="103" fill="url(#g289)"/>
<rect x="279" y="392" width="1" height="103" fill="url(#g290)"/>
<rect x="280" y="392" width="1" height="103" fill="url(#g291)"/>
<rect x="281" y="392" width="1" height="103" fill="url(#g292)"/>
<rect x="282" y="392" width="1" height="103" fill="url(#g293)"/>
<rect x="283" y="392" width="1" height="103" fill="url(#g294)"/>
<rect x="284" y="392" width="1" height="103" fill="url(#g295)"/>
<rect x="285" y="392" width="1" height="103" fill="url(#g296)"/>
<rect x="286" y="392" width="1" height="103" fill="url(#g297)"/>
<rect x="287" y="392" width="1" height="103" fill="url(#g298)"/>
<rect x="288" y="392" width="1" height="103" fill="url(#g299)"/>
<rect x="289" y="392" width="1" height="103" fill="url(#g300)"/>
<rect x="290" y="392" width="1" height="103" fill="url(#g301)"/>
<rect x="291" y="392" width="1" height="103" fill="url(#g302)"/>
<rect x="292" y="392" width="1" height="103" fill="url(#g303)"/>
<rect x="293" y="392" width="1" height="103" fill="url(#g304)"/>
<rect x="294" y="392" width="1" height="103" fill="url(#g305)"/>
<rect x="295" y="392" width="1" height="103" fill="url(#g306)"/>
<rect x="296" y="392" width="1" height="103" fill="url(#g307)"/>
<rect x="297" y="392" width="1" height="103" fill="url(#g308)"/>
<rect x="298" y="392" width="1" height="103" fill="url(#g309)"/>
<rect x="299" y="392" width="1" height="103" fill="url(#g310)"/>
<rect x="300" y="392" width="1" height="103" fill="url(#g311)"/>
<rect x="301" y="392" width="1" height="103" fill="url(#g312)"/>
<rect x="302" y="392" width="1" height="103" fill="url(#g313)"/>
<rect x="303" y="392" width="1" height="103" fill="url(#g314)"/>
<rect x="304" y="392" width="1" height="103" fill="url(#g315)"/>
<rect x="305" y="392" width="1" height="103" fill="url(#g316)"/>
<rect x="306" y="392" width="1" height="103" fill="url(#g317)"/>
<rect x="307" y="392" width="1" height="103" fill="url(#g318)"/>
<rect x="308" y="392" width="1" height="103" fill="url(#g319)"/>
<rect x="309" y="392" width="1" height="103" fill="url(#g320)"/>
<rect x="310" y="392" width="1" height="103" fill="url(#g321)"/>
<rect x="311" y="392" width="1" height="103" fill="url(#g322)"/>
<rect x="312" y="392" width="1" height="103" fill="url(#g323)"/>
<rect x="313" y="392" width="1" height="103" fill="url(#g324)"/>
<rect x="314" y="392" width="1" height="103" fill="url(#g325)"/>
<rect x="315" y="392" width="1" height="103" fill="url(#g326)"/>
<rect x="316" y="392" width="1" height="103" fill="url(#g327)"/>
<rect x="317" y="392" width="1" height="103" fill="url(#g328)"/>
<rect x="318" y="392" width="1" height="103" fill="url(#g329)"/>
<rect x="319" y="392" width="1" height="103" fill="url(#g330)"/>
<rect x="320" y="392" width="1" height="103" fill="url(#g331)"/>
<rect x="321" y="392" width="1" height="103" fill="url(#g332)"/>
<rect x="322" y="392" width="1" height="103" fill="url(#g333)"/>
<rect x="323" y="392" width="1" height="103" fill="url(#g334)"/>
<rect x="324" y="392" width="1" height="103" fill="url(#g335)"/>
<rect x="325" y="392" width="1" height="103" fill="url(#g336)"/>
<rect x="326" y="392" width="1" height="103" fill="url(#g337)"/>
<rect x="327" y="392" width="1" height="103" fill="url(#g338)"/>
<rect x="328" y="392" width="1" height="103" fill="url(#g339)"/>
<rect x="329" y="392" width="1" height="103" fill="url(#g340)"/>
<rect x="330" y="392" width="1" height="103" fill="url(#g341)"/>
<rect x="331" y="392" width="1" height="103" fill="url(#g342)"/>
<rect x="332" y="392" width="1" height="103" fill="url(#g343)"/>
<rect x="333" y="392" width="1" height="103" fill="url(#g344)"/>
<rect x="334" y="392" width="1" height="103" fill="url(#g345)"/>
<rect x="335" y="392" width="1" height="103" fill="url(#g346)"/>
<rect x="336" y="392" width="1" height="103" fill="url(#g347)"/>
<rect x="337" y="392" width="1" height="103" fill="url(#g348)"/>
<rect x="338" y="392" width="1" height="103" fill="url(#g349)"/>
<rect x="339" y="392" width="1" height="103" fill="url(#g350)"/>
<rect x="340" y="392" width="1" height="103" fill="url(#g351)"/>
<rect x="341" y="392" width="1" height="103" fill="url(#g352)"/>
<rect x="342" y="392" width="1" height="103" fill="url(#g353)"/>
<rect x="343" y="392" width="1" height="103" fill="url(#g354)"/>
<rect x="344" y="392" width="1" height="103" fill="url(#g355)"/>
<rect x="345" y="392" width="1" height="103" fill="url(#g356)"/>
<rect x="346" y="392" width="1" height="103" fill="url(#g357)"/>
<rect x="347" y="392" width="1" height="103" fill="url(#g358)"/>
<rect x="348" y="392" width="1" height="103" fill="url(#g359)"/>
<rect x="349" y="392" width="1" height="103" fill="url(#g360)"/>
<rect x="350" y="392" width="1" height="103" fill="url(#g361)"/>
<rect x="351" y="392" width="1" height="103" fill="url(#g362)"/>
<rect x="352" y="392" width="1" height="103" fill="url(#g363)"/>
<rect x="353" y="392" width="1" height="103" fill="url(#g364)"/>
<rect x="354" y="392" width="1" height="103" fill="url(#g365)"/>
<rect x="355" y="392" width="1" height="103" fill="url(#g366)"/>
<rect x="356" y="392" width="1" height="103" fill="url(#g367)"/>
<rect x="357" y="392" width="1" height="103" fill="url(#g368)"/>
<rect x="358" y="392" width="1" height="103" fill="url(#g369)"/>
<rect x="359" y="392" width="1" height="103" fill="url(#g370)"/>
<rect x="360" y="392" width="1" height="103" fill="url(#g371)"/>
<rect x="361" y="392" width="1" height="103" fill="url(#g372)"/>
<rect x="362" y="392" width="1" height="103" fill="url(#g373)"/>
<rect x="363" y="392" width="1" height="103" fill="url(#g374)"/>
<rect x="364" y="392" width="1" height="103" fill="url(#g375)"/>
<rect x="365" y="392" width="1" height="103" fill="url(#g376)"/>
<rect x="366" y="392" width="1" height="103" fill="url(#g377)"/>
<rect x="367" y="392" width="1" height="103" fill="url(#g378)"/>
<rect x="368" y="392" width="1" height="103" fill="url(#g379)"/>
<rect x="369" y="392" width="1" height="103" fill="url(#g380)"/>
<rect x="370" y="392" width="1" height="103" fill="url(#g381)"/>
<rect x="371" y="392" width="1" height="103" fill="url(#g382)"/>
<rect x="372" y="392" width="1" height="103" fill="url(#g383)"/>
<rect x="373" y="392" width="1" height="103" fill="url(#g384)"/>
<rect x="374" y="392" width="1" height="103" fill="url(#g385)"/>
<rect x="375" y="392" width="1" height="103" fill="url(#g386)"/>
<rect x="376" y="392" width="1" height="103" fill="url(#g387)"/>
<rect x="377" y="392" width="1" height="103" fill="url(#g388)"/>
<rect x="378" y="392" width="1" height="103" fill="url(#g389)"/>
<rect x="379" y="392" width="1" height="103" fill="url(#g390)"/>
<rect x="380" y="392" width="1" height="103" fill="url(#g391)"/>
<rect x="381" y="392" width="1" height="103" fill="url(#g392)"/>
<rect x="382" y="392" width="1" height="103" fill="url(#g393)"/>
<rect x="383" y="392" width="1" height="103" fill="url(#g394)"/>
<rect x="384" y="392" width="1" height="103" fill="url(#g395)"/>
<rect x="385" y="392" width="1" height="103" fill="url(#g396)"/>
<rect x="386" y="392" width="1" height="103" fill="url(#g397)"/>
</g>
<g opacity="0.999">
<line x1="67.6" y1="311.05" x2="67.6" y2="6" stroke="#000" stroke-width="1.5"/>
<line x1="66.85" y1="310.3" x2="457" y2="310.3" stroke="#000" stroke-width="1.5"/>
<path d="M67.6 0.5 L71.1 9 L67.6 6.8 L64.1 9 Z" fill="#000"/>
<path d="M463 310.3 L454.5 306.7 L456.7 310.3 L454.5 313.9 Z" fill="#000"/>
<line x1="60.6" y1="310.2" x2="67.6" y2="310.2" stroke="#000" stroke-width="1.5"/>
<text x="56.9" y="314.5" font-size="17.5" text-anchor="end">-4</text>
<line x1="60.6" y1="273.5" x2="67.6" y2="273.5" stroke="#000" stroke-width="1.5"/>
<text x="56.9" y="277.8" font-size="17.5" text-anchor="end">-3</text>
<line x1="60.6" y1="236" x2="67.6" y2="236" stroke="#000" stroke-width="1.5"/>
<text x="56.9" y="240.3" font-size="17.5" text-anchor="end">-2</text>
<line x1="60.6" y1="198.8" x2="67.6" y2="198.8" stroke="#000" stroke-width="1.5"/>
<text x="56.9" y="203.1" font-size="17.5" text-anchor="end">-1</text>
<line x1="60.6" y1="161.9" x2="67.6" y2="161.9" stroke="#000" stroke-width="1.5"/>
<text x="56.9" y="166.2" font-size="17.5" text-anchor="end">0</text>
<line x1="60.6" y1="124.6" x2="67.6" y2="124.6" stroke="#000" stroke-width="1.5"/>
<text x="56.9" y="128.9" font-size="17.5" text-anchor="end">+1</text>
<line x1="60.6" y1="87" x2="67.6" y2="87" stroke="#000" stroke-width="1.5"/>
<text x="56.9" y="91.3" font-size="17.5" text-anchor="end">+2</text>
<line x1="60.6" y1="49.9" x2="67.6" y2="49.9" stroke="#000" stroke-width="1.5"/>
<text x="56.9" y="54.2" font-size="17.5" text-anchor="end">+3</text>
<line x1="60.6" y1="13.7" x2="67.6" y2="13.7" stroke="#000" stroke-width="1.5"/>
<text x="56.9" y="18" font-size="17.5" text-anchor="end">+4</text>
<line x1="67.6" y1="310.3" x2="67.6" y2="317.6" stroke="#000" stroke-width="1.5"/>
<text x="67.6" y="334.3" font-size="17.5" text-anchor="middle">0</text>
<line x1="104.85" y1="310.3" x2="104.85" y2="317.6" stroke="#000" stroke-width="1.5"/>
<text x="104.85" y="334.3" font-size="17.5" text-anchor="middle">1</text>
<line x1="142.1" y1="310.3" x2="142.1" y2="317.6" stroke="#000" stroke-width="1.5"/>
<text x="142.1" y="334.3" font-size="17.5" text-anchor="middle">2</text>
<line x1="179.35" y1="310.3" x2="179.35" y2="317.6" stroke="#000" stroke-width="1.5"/>
<text x="179.35" y="334.3" font-size="17.5" text-anchor="middle">3</text>
<line x1="216.6" y1="310.3" x2="216.6" y2="317.6" stroke="#000" stroke-width="1.5"/>
<text x="216.6" y="334.3" font-size="17.5" text-anchor="middle">4</text>
<line x1="253.85" y1="310.3" x2="253.85" y2="317.6" stroke="#000" stroke-width="1.5"/>
<text x="253.85" y="334.3" font-size="17.5" text-anchor="middle">5</text>
<line x1="291.1" y1="310.3" x2="291.1" y2="317.6" stroke="#000" stroke-width="1.5"/>
<text x="291.1" y="334.3" font-size="17.5" text-anchor="middle">6</text>
<line x1="328.35" y1="310.3" x2="328.35" y2="317.6" stroke="#000" stroke-width="1.5"/>
<text x="328.35" y="334.3" font-size="17.5" text-anchor="middle">7</text>
<line x1="365.6" y1="310.3" x2="365.6" y2="317.6" stroke="#000" stroke-width="1.5"/>
<text x="365.6" y="334.3" font-size="17.5" text-anchor="middle">8</text>
<line x1="402.85" y1="310.3" x2="402.85" y2="317.6" stroke="#000" stroke-width="1.5"/>
<text x="402.85" y="334.3" font-size="17.5" text-anchor="middle">9</text>
<line x1="440.1" y1="310.3" x2="440.1" y2="317.6" stroke="#000" stroke-width="1.5"/>
<text x="440.1" y="334.3" font-size="17.5" text-anchor="middle">10</text>
<text x="249.6" y="353.7" font-size="19.1" text-anchor="middle">Position in <tspan font-style="italic">z</tspan>-dimension (mm)</text>
<text x="24.9" y="161.6" font-size="19" text-anchor="middle" transform="rotate(-90 24.9 161.6)">Position in <tspan font-style="italic">x</tspan>-dimension (mm)</text>
<text x="-1.8" y="18.6" font-size="28" text-anchor="start">(a)</text>
<rect x="434" y="94.5" width="18" height="133.1" fill="url(#g398)" stroke="#000" stroke-width="1.7"/>
<line x1="434" y1="186.9" x2="438.2" y2="186.9" stroke="#000" stroke-width="1.4"/>
<line x1="447.8" y1="186.9" x2="452" y2="186.9" stroke="#000" stroke-width="1.4"/>
<line x1="434" y1="145.5" x2="438.2" y2="145.5" stroke="#000" stroke-width="1.4"/>
<line x1="447.8" y1="145.5" x2="452" y2="145.5" stroke="#000" stroke-width="1.4"/>
<line x1="434" y1="104.1" x2="438.2" y2="104.1" stroke="#000" stroke-width="1.4"/>
<line x1="447.8" y1="104.1" x2="452" y2="104.1" stroke="#000" stroke-width="1.4"/>
<line x1="434" y1="207.6" x2="438.2" y2="207.6" stroke="#000" stroke-width="1.4"/>
<line x1="447.8" y1="207.6" x2="452" y2="207.6" stroke="#000" stroke-width="1.4"/>
<line x1="434" y1="166.2" x2="438.2" y2="166.2" stroke="#000" stroke-width="1.4"/>
<line x1="447.8" y1="166.2" x2="452" y2="166.2" stroke="#000" stroke-width="1.4"/>
<line x1="434" y1="124.8" x2="438.2" y2="124.8" stroke="#000" stroke-width="1.4"/>
<line x1="447.8" y1="124.8" x2="452" y2="124.8" stroke="#000" stroke-width="1.4"/>
<text x="458" y="232.8" font-size="15.5" text-anchor="start" stroke-width="0.45">0</text>
<text x="458" y="192" font-size="15.5" text-anchor="start" stroke-width="0.45">10</text>
<text x="458" y="150.6" font-size="15.5" text-anchor="start" stroke-width="0.45">20</text>
<text x="458" y="109.2" font-size="15.5" text-anchor="start" stroke-width="0.45">30</text>
<text x="421.6" y="159.3" font-size="15.35" text-anchor="middle" transform="rotate(-90 421.6 159.3)" stroke-width="0.45">Electric field strength (V/cm)</text>
<line x1="67" y1="503.3" x2="457" y2="503.3" stroke="#000" stroke-width="1.2"/>
<path d="M463 503.3 L454.5 499.7 L456.7 503.3 L454.5 506.9 Z" fill="#000"/>
<rect x="58.4" y="502.7" width="18.4" height="5.0" fill="#777"/>
<rect x="95.65" y="502.7" width="18.4" height="5.0" fill="#777"/>
<rect x="132.9" y="502.7" width="18.4" height="5.0" fill="#777"/>
<rect x="170.15" y="502.7" width="18.4" height="5.0" fill="#777"/>
<rect x="207.4" y="502.7" width="18.4" height="5.0" fill="#777"/>
<rect x="244.65" y="502.7" width="18.4" height="5.0" fill="#777"/>
<rect x="281.9" y="502.7" width="18.4" height="5.0" fill="#777"/>
<rect x="319.15" y="502.7" width="18.4" height="5.0" fill="#777"/>
<rect x="356.4" y="502.7" width="18.4" height="5.0" fill="#777"/>
<rect x="393.65" y="502.7" width="18.4" height="5.0" fill="#777"/>
<rect x="430.9" y="502.7" width="18.4" height="5.0" fill="#777"/>
<line x1="67.6" y1="510" x2="67.6" y2="379" stroke="#000" stroke-width="1.5"/>
<path d="M67.6 373.8 L71.1 382.3 L67.6 380.1 L64.1 382.3 Z" fill="#000"/>
<text x="56.5" y="507.6" font-size="17.5" text-anchor="end">0</text>
<line x1="60.6" y1="466.1" x2="67.6" y2="466.1" stroke="#000" stroke-width="1.5"/>
<text x="56.5" y="470.4" font-size="17.5" text-anchor="end">1</text>
<line x1="60.6" y1="428.9" x2="67.6" y2="428.9" stroke="#000" stroke-width="1.5"/>
<text x="56.5" y="433.2" font-size="17.5" text-anchor="end">2</text>
<line x1="60.6" y1="391.7" x2="67.6" y2="391.7" stroke="#000" stroke-width="1.5"/>
<text x="56.5" y="396" font-size="17.5" text-anchor="end">3</text>
<line x1="104.85" y1="507.2" x2="104.85" y2="510" stroke="#000" stroke-width="1.4"/>
<line x1="142.1" y1="507.2" x2="142.1" y2="510" stroke="#000" stroke-width="1.4"/>
<line x1="179.35" y1="507.2" x2="179.35" y2="510" stroke="#000" stroke-width="1.4"/>
<line x1="216.6" y1="507.2" x2="216.6" y2="510" stroke="#000" stroke-width="1.4"/>
<line x1="253.85" y1="507.2" x2="253.85" y2="510" stroke="#000" stroke-width="1.4"/>
<line x1="291.1" y1="507.2" x2="291.1" y2="510" stroke="#000" stroke-width="1.4"/>
<line x1="328.35" y1="507.2" x2="328.35" y2="510" stroke="#000" stroke-width="1.4"/>
<line x1="365.6" y1="507.2" x2="365.6" y2="510" stroke="#000" stroke-width="1.4"/>
<line x1="402.85" y1="507.2" x2="402.85" y2="510" stroke="#000" stroke-width="1.4"/>
<line x1="440.1" y1="507.2" x2="440.1" y2="510" stroke="#000" stroke-width="1.4"/>
<text x="67.6" y="527.1" font-size="17.5" text-anchor="middle">0</text>
<text x="104.85" y="527.1" font-size="17.5" text-anchor="middle">1</text>
<text x="142.1" y="527.1" font-size="17.5" text-anchor="middle">2</text>
<text x="179.35" y="527.1" font-size="17.5" text-anchor="middle">3</text>
<text x="216.6" y="527.1" font-size="17.5" text-anchor="middle">4</text>
<text x="253.85" y="527.1" font-size="17.5" text-anchor="middle">5</text>
<text x="291.1" y="527.1" font-size="17.5" text-anchor="middle">6</text>
<text x="328.35" y="527.1" font-size="17.5" text-anchor="middle">7</text>
<text x="365.6" y="527.1" font-size="17.5" text-anchor="middle">8</text>
<text x="402.85" y="527.1" font-size="17.5" text-anchor="middle">9</text>
<text x="440.1" y="527.1" font-size="17.5" text-anchor="middle">10</text>
<text x="256" y="546.2" font-size="19" text-anchor="middle">Position in <tspan font-style="italic">z</tspan>-dimension (mm)</text>
<text x="16" y="449.3" font-size="19.3" text-anchor="middle" transform="rotate(-90 16 449.3)">Position in</text>
<text x="38" y="447.6" font-size="19" text-anchor="middle" transform="rotate(-90 38 447.6)"><tspan font-style="italic">y</tspan>-dimension (mm)</text>
<text x="-1.8" y="363.7" font-size="28" text-anchor="start">(b)</text>
<rect x="434" y="359.9" width="18" height="132.7" fill="url(#g399)" stroke="#000" stroke-width="1.7"/>
<line x1="434" y1="457.6" x2="438.2" y2="457.6" stroke="#000" stroke-width="1.4"/>
<line x1="447.8" y1="457.6" x2="452" y2="457.6" stroke="#000" stroke-width="1.4"/>
<line x1="434" y1="421.6" x2="438.2" y2="421.6" stroke="#000" stroke-width="1.4"/>
<line x1="447.8" y1="421.6" x2="452" y2="421.6" stroke="#000" stroke-width="1.4"/>
<line x1="434" y1="385.6" x2="438.2" y2="385.6" stroke="#000" stroke-width="1.4"/>
<line x1="447.8" y1="385.6" x2="452" y2="385.6" stroke="#000" stroke-width="1.4"/>
<line x1="434" y1="475.6" x2="438.2" y2="475.6" stroke="#000" stroke-width="1.4"/>
<line x1="447.8" y1="475.6" x2="452" y2="475.6" stroke="#000" stroke-width="1.4"/>
<line x1="434" y1="439.6" x2="438.2" y2="439.6" stroke="#000" stroke-width="1.4"/>
<line x1="447.8" y1="439.6" x2="452" y2="439.6" stroke="#000" stroke-width="1.4"/>
<line x1="434" y1="403.6" x2="438.2" y2="403.6" stroke="#000" stroke-width="1.4"/>
<line x1="447.8" y1="403.6" x2="452" y2="403.6" stroke="#000" stroke-width="1.4"/>
<line x1="434" y1="367.6" x2="438.2" y2="367.6" stroke="#000" stroke-width="1.4"/>
<line x1="447.8" y1="367.6" x2="452" y2="367.6" stroke="#000" stroke-width="1.4"/>
<text x="458" y="498.1" font-size="15.5" text-anchor="start" stroke-width="0.45">0</text>
<text x="458" y="462.7" font-size="15.5" text-anchor="start" stroke-width="0.45">20</text>
<text x="458" y="426.7" font-size="15.5" text-anchor="start" stroke-width="0.45">40</text>
<text x="458" y="390.7" font-size="15.5" text-anchor="start" stroke-width="0.45">60</text>
<text x="408.9" y="427.2" font-size="15" text-anchor="middle" transform="rotate(-90 408.9 427.2)" stroke-width="0.45">Electric field</text>
<text x="424.9" y="427.5" font-size="15.2" text-anchor="middle" transform="rotate(-90 424.9 427.5)" stroke-width="0.45">strength (V/cm)</text>
<line x1="111" y1="495" x2="219" y2="495" stroke="#000" stroke-width="1.1"/>
<line x1="111" y1="491" x2="111" y2="499" stroke="#000" stroke-width="1.8"/>
<line x1="219" y1="491" x2="219" y2="499" stroke="#000" stroke-width="1.8"/>
<path d="M111.6 495 L118 492.4 L118 497.6 Z" fill="#000"/>
<path d="M218.4 495 L212 492.4 L212 497.6 Z" fill="#000"/>
<text x="155.6" y="487.8" font-size="15.5" font-style="italic" font-weight="bold" stroke-width="0">3d<tspan font-size="9.5" dy="5" dx="-1.0">z</tspan></text>
</g>
</svg>
</body></html>
